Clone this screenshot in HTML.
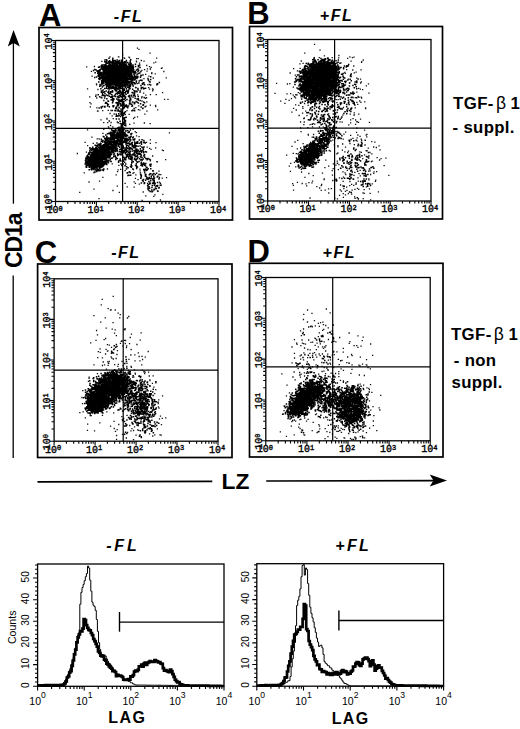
<!DOCTYPE html>
<html><head><meta charset="utf-8"><style>
html,body{margin:0;padding:0;background:#fff;width:520px;height:729px;overflow:hidden}
svg{display:block;font-family:"Liberation Sans",sans-serif}
</style></head><body><svg width="520" height="729" viewBox="0 0 520 729"><path d="M114.4 61.1h1.5M100.5 74.4h1.5M126.3 85h1.5M116.8 75.2h1.5M105.2 75.5h1.5M105.7 85.4h1.5M117.4 72.9h1.5M105 77.6h1.5M102.1 78.6h1.5M116.7 81.8h1.5M112.6 81.5h1.5M112.9 81.5h1.5M110.3 75.9h1.5M107.4 68.5h1.5M106.4 73.8h1.5M122.8 77.2h1.5M120.7 60.2h1.5M103.2 76.2h1.5M102.8 71h1.5M107.9 66.4h1.5M112.9 69.7h1.5M122.2 69.8h1.5M122.1 67.6h1.5M119.5 73.4h1.5M115.6 75.7h1.5M125.1 79.2h1.5M116.8 66h1.5M118.8 83.6h1.5M113.4 88.6h1.5M123.8 82.3h1.5M107.4 75.6h1.5M120.7 73.5h1.5M116.6 70.6h1.5M119.2 69.1h1.5M116.6 65.5h1.5M127.3 84.8h1.5M108.9 62.8h1.5M115.9 76.6h1.5M129.4 77.5h1.5M115.9 75.7h1.5M116.4 79h1.5M101.5 74.7h1.5M126.7 81h1.5M103.7 74.7h1.5M110.6 76.3h1.5M107.6 70.3h1.5M106.7 72h1.5M111.1 71.2h1.5M113.5 83h1.5M115.1 67.9h1.5M115 69.1h1.5M119.2 69h1.5M121.9 75.2h1.5M128.1 68.9h1.5M108.7 73.1h1.5M115.8 80.4h1.5M104.9 84.6h1.5M109.2 66.7h1.5M98 72h1.5M117.7 85.7h1.5M123.2 78.4h1.5M107.3 79.8h1.5M117.7 71.8h1.5M108 80.1h1.5M121.7 72.8h1.5M112.3 80.1h1.5M119.2 84.3h1.5M121.9 76.7h1.5M137.5 73.6h1.5M122 79.6h1.5M100.4 69h1.5M113.9 76.9h1.5M132.1 79.6h1.5M127.9 69.1h1.5M122.9 78.3h1.5M121.7 82.1h1.5M107.6 71.5h1.5M107.3 80.3h1.5M123.1 82h1.5M116.8 71.6h1.5M120.3 69.4h1.5M118.4 60.7h1.5M111.7 71.4h1.5M128.4 72.3h1.5M119.6 86.4h1.5M103 72.2h1.5M109.7 62.1h1.5M107.5 82.9h1.5M102.9 68.1h1.5M120.6 66.7h1.5M119.9 75.6h1.5M107.7 83h1.5M113.4 83.6h1.5M129.9 73.2h1.5M117.8 78.7h1.5M126.2 83.6h1.5M117.9 74.1h1.5M108 68h1.5M113.7 72h1.5M115.5 68.3h1.5M121.2 86.2h1.5M115.5 67.2h1.5M125.2 80.1h1.5M125.2 66.3h1.5M116.7 85.9h1.5M112.8 62.1h1.5M119.6 65.7h1.5M115 82.2h1.5M118.3 74.8h1.5M106.5 70.3h1.5M104.1 71.9h1.5M100.4 72.7h1.5M118.7 75.5h1.5M98 78.8h1.5M110.2 77.8h1.5M100.1 74.9h1.5M105.9 79.8h1.5M114.4 78.7h1.5M120 83.9h1.5M115.8 91.1h1.5M114.8 74.5h1.5M121 83.5h1.5M120.5 64.2h1.5M123.2 67.9h1.5M122.3 78.5h1.5M106 73.2h1.5M110.3 80.5h1.5M112 78.7h1.5M112.1 80.9h1.5M106.4 78h1.5M108.6 63.1h1.5M126.6 77.1h1.5M126.2 74.5h1.5M107.1 77.9h1.5M98.8 74.1h1.5M110.8 82.4h1.5M121.6 84.3h1.5M128 70.4h1.5M120.9 77.7h1.5M118.3 82.3h1.5M110.7 69.4h1.5M105.7 72h1.5M119.1 85h1.5M125.5 71.9h1.5M109.5 75.3h1.5M101.3 67.5h1.5M123.8 78.4h1.5M123.9 68.1h1.5M128.5 88.1h1.5M101.7 79.8h1.5M117.5 68.5h1.5M126 74.3h1.5M124.9 71.3h1.5M119.1 65.7h1.5M121.2 81.9h1.5M135.7 77.5h1.5M108.1 78.6h1.5M122 79.1h1.5M122.6 71.8h1.5M117.4 75.5h1.5M117.3 81.2h1.5M121.4 86.5h1.5M132.2 65h1.5M109.4 71.2h1.5M120.6 75.4h1.5M122.5 68.8h1.5M107.7 66.7h1.5M108.3 83.5h1.5M121.1 70.9h1.5M118 63.3h1.5M109.7 80.7h1.5M128.3 72.5h1.5M124.4 68.3h1.5M108.1 71.7h1.5M112.9 81.2h1.5M122.1 71h1.5M127.7 64.1h1.5M109.4 83.3h1.5M133.3 77.6h1.5M113.9 70.9h1.5M108.1 68.3h1.5M117.7 85.3h1.5M102 68.9h1.5M111.3 84.3h1.5M128.3 70.3h1.5M117.3 76.3h1.5M115.4 76.8h1.5M117.8 75.2h1.5M111.6 77.5h1.5M124.3 72.2h1.5M116.8 78.7h1.5M107.6 73.1h1.5M119.1 69.6h1.5M128.8 78.5h1.5M114 77.5h1.5M118.5 65.8h1.5M115.3 74.5h1.5M120.7 71.4h1.5M124.5 64.9h1.5M121 80.5h1.5M100.5 66h1.5M104.6 73.9h1.5M113.3 63.7h1.5M107.9 81.8h1.5M112.4 73.4h1.5M116.3 72.8h1.5M111.9 86.7h1.5M126.5 83.2h1.5M128.4 66.1h1.5M116.8 73.6h1.5M117.1 75.6h1.5M109.4 68.4h1.5M110.3 67.1h1.5M116.3 81.1h1.5M104.2 79.9h1.5M124.4 74.4h1.5M109.2 85.4h1.5M111.1 66.6h1.5M118.6 77.8h1.5M111.7 81.3h1.5M121.6 69.6h1.5M110.9 70.6h1.5M121.8 65.5h1.5M122.9 64.6h1.5M122.3 71.1h1.5M116.5 61.8h1.5M131.8 77.1h1.5M114.7 83.6h1.5M102.8 78.4h1.5M114.5 79.5h1.5M127.3 71.2h1.5M102.9 80.5h1.5M111.9 62.6h1.5M117.5 68.9h1.5M116 79.2h1.5M133 70h1.5M123 82.8h1.5M111.6 82h1.5M125 62.3h1.5M123 71.4h1.5M119.4 66.6h1.5M112 84.4h1.5M103.6 79.1h1.5M117.9 71.2h1.5M110.2 81.3h1.5M114.8 72h1.5M120.8 64.3h1.5M99.4 78.8h1.5M125.5 69.2h1.5M109.1 80.4h1.5M119.5 62.9h1.5M111.2 70.4h1.5M115.4 80.1h1.5M104 70.2h1.5M109.4 68.1h1.5M110.8 71.6h1.5M127.3 82.5h1.5M128.4 71.3h1.5M127.6 74.2h1.5M113.9 79.6h1.5M130.2 71.9h1.5M105.5 68.1h1.5M124 77.3h1.5M112.2 73.8h1.5M108.6 74.4h1.5M107.2 67.4h1.5M125.1 71h1.5M103.3 73.9h1.5M130.3 76.3h1.5M119.8 64.6h1.5M107.9 68.7h1.5M123.8 70.3h1.5M116.2 86h1.5M117.6 68.8h1.5M128.4 66.4h1.5M111.8 76.9h1.5M104.5 80.3h1.5M107.7 77.2h1.5M131.6 71.9h1.5M123.6 80.5h1.5M112.4 79.2h1.5M119.8 74.9h1.5M115.1 65.3h1.5M101.1 75.5h1.5M114.3 74.2h1.5M110.7 80.5h1.5M105.6 75h1.5M116 64.6h1.5M99.8 72.4h1.5M117.6 77.3h1.5M102.4 74.8h1.5M103.8 69.3h1.5M128.5 69h1.5M110.9 82.7h1.5M98.1 72.6h1.5M111.4 69.2h1.5M133.8 80h1.5M126.8 74.4h1.5M100.9 77.7h1.5M119.5 79.7h1.5M121.3 74.7h1.5M120.5 67.5h1.5M99.4 70.1h1.5M132.4 66.6h1.5M124.4 80.6h1.5M109.9 74.2h1.5M115.4 65.2h1.5M117.3 80.4h1.5M105.3 68h1.5M111.3 68.4h1.5M113 79.1h1.5M98.5 73.4h1.5M100.2 74.5h1.5M129.9 72.1h1.5M121.6 69.1h1.5M110.4 68.3h1.5M124.9 67h1.5M121.1 74.2h1.5M117.4 61.5h1.5M98.9 76.9h1.5M115.1 74.4h1.5M110.7 85.1h1.5M102.8 72.8h1.5M120.3 63.7h1.5M120.6 78.2h1.5M114.3 75.6h1.5M104.3 74.5h1.5M120.5 72h1.5M114.8 72.8h1.5M123.1 69.1h1.5M117.7 82.5h1.5M114.9 84.9h1.5M111 69.3h1.5M113.1 62.9h1.5M125.7 68.6h1.5M126.1 68.2h1.5M114.7 77.1h1.5M118.5 66.9h1.5M115.7 78.3h1.5M108.9 82.3h1.5M112.7 65.7h1.5M121 66.4h1.5M106.4 80.5h1.5M121.8 71.7h1.5M129.7 86.4h1.5M119.5 88.1h1.5M120.7 61.8h1.5M111.6 78.3h1.5M108.6 70.8h1.5M109.7 71.4h1.5M116.9 74h1.5M114.2 70.8h1.5M108.8 69h1.5M116.5 75.7h1.5M109.8 78h1.5M122 62.9h1.5M125.7 65.7h1.5M123.6 75.4h1.5M104 66.5h1.5M108.4 76.2h1.5M106.2 78.5h1.5M118.5 74.8h1.5M106.5 76.2h1.5M118.5 86.7h1.5M119 78.2h1.5M108.6 79.4h1.5M129.3 74.3h1.5M100.3 77.6h1.5M116.6 70h1.5M118.1 71.4h1.5M120.1 77.9h1.5M126.8 68.4h1.5M98.4 70.4h1.5M121.7 72.9h1.5M99.8 73.9h1.5M111.3 70.1h1.5M114.5 83.3h1.5M106.8 68.1h1.5M128.8 77h1.5M112.2 73h1.5M103.9 75h1.5M121.3 62.9h1.5M109.6 76.9h1.5M118.8 70.4h1.5M133.1 73.9h1.5M117.3 84.6h1.5M123.7 75.9h1.5M114.9 88.4h1.5M125.4 67.3h1.5M129.2 68.5h1.5M112.9 80.7h1.5M100.9 67.3h1.5M113.1 66.8h1.5M121.3 65.2h1.5M114.6 78h1.5M113.5 80.4h1.5M116.8 77.5h1.5M121.9 83.1h1.5M130.8 83.7h1.5M119 77.1h1.5M102.8 76.7h1.5M119.1 69.5h1.5M110.7 68.1h1.5M111.8 74.9h1.5M100.7 67.5h1.5M109 62.6h1.5M106.4 63.3h1.5M113.7 74.2h1.5M128.7 77.1h1.5M116.7 79.8h1.5M111.9 60.8h1.5M104.8 66.3h1.5M119.6 68.9h1.5M125.1 71.8h1.5M125.4 66.9h1.5M103 80.8h1.5M126.6 70.5h1.5M105 66.8h1.5M109.4 75.2h1.5M117.8 69.3h1.5M104.1 69.4h1.5M114.7 70.9h1.5M120.3 88.2h1.5M110.4 78.8h1.5M105.2 81.2h1.5M129.6 77.1h1.5M123.5 83.1h1.5M107.2 72.7h1.5M114.7 83.2h1.5M116.3 64.8h1.5M114.9 74h1.5M126.1 74h1.5M132.5 68.8h1.5M111.1 82.1h1.5M115.2 67.5h1.5M120.9 88.5h1.5M119.2 87.3h1.5M105.6 82.7h1.5M117.5 72.1h1.5M130.1 79.3h1.5M121.4 73.7h1.5M124.6 77h1.5M102.5 73.2h1.5M109 74.9h1.5M116.2 82.8h1.5M118.7 81h1.5M113.2 78.5h1.5M116.4 63.8h1.5M129.7 75.6h1.5M126.1 70.1h1.5M108.7 62.1h1.5M126.7 80.8h1.5M127.9 82.6h1.5M118.9 64h1.5M110.8 66.3h1.5M113.3 81.4h1.5M122.8 71.9h1.5M118.2 82h1.5M117.2 73.5h1.5M124.4 80.1h1.5M105.8 59.8h1.5M124.1 78.5h1.5M121.2 83.5h1.5M118.8 65h1.5M108.6 76.5h1.5M108.7 67h1.5M110 66.6h1.5M109.3 69.9h1.5M119.4 80.1h1.5M114.1 71.3h1.5M118.7 78.3h1.5M112.3 88.2h1.5M102.1 81.9h1.5M124.9 80.8h1.5M121.6 77.1h1.5M108.6 64.3h1.5M115.8 65h1.5M105.3 83.6h1.5M108.7 78.1h1.5M115.5 79.6h1.5M110.3 70.7h1.5M98.7 73.3h1.5M129.5 70.5h1.5M119.9 75.5h1.5M123.6 70.3h1.5M128.4 79h1.5M107 80.4h1.5M114.1 68.8h1.5M120.1 68.7h1.5M116.5 68.7h1.5M116.9 82.3h1.5M108.8 66.4h1.5M119.8 65.9h1.5M122.8 78.8h1.5M115.2 71.5h1.5M130.1 77.1h1.5M120.2 69h1.5M119.1 68.2h1.5M118.8 78h1.5M110.8 65.7h1.5M127.7 75.4h1.5M103 73.3h1.5M112.4 62.2h1.5M108.2 80.7h1.5M109.3 78.2h1.5M131.3 67.3h1.5M114.2 70.9h1.5M108.7 73.7h1.5M130.3 71.7h1.5M117.5 82.7h1.5M120.9 72h1.5M114.5 63h1.5M123.7 63.1h1.5M105.7 80.8h1.5M108 71.5h1.5M101.3 66.5h1.5M117.4 65.6h1.5M114.3 80.6h1.5M104.2 72.9h1.5M100.6 75.4h1.5M116.4 65.9h1.5M115.5 83.2h1.5M134.1 73.7h1.5M127 74.3h1.5M116.3 75.9h1.5M128.9 64.3h1.5M119.6 70.9h1.5M111.4 69.5h1.5M113.4 74.8h1.5M118.4 75.8h1.5M110.6 76.2h1.5M123.9 73.2h1.5M97.5 71.5h1.5M112.8 71.9h1.5M114.8 79.2h1.5M128 76h1.5M111.7 67.7h1.5M107.1 75.2h1.5M106.5 81.2h1.5M113.6 84.7h1.5M110.9 69.1h1.5M107.5 86.4h1.5M102.8 69h1.5M107.3 81h1.5M116.7 75.9h1.5M108.4 75.6h1.5M113.1 75.7h1.5M123.8 75h1.5M112.4 67.3h1.5M116.7 67.3h1.5M108.9 78h1.5M117.3 73h1.5M105 81.1h1.5M129.1 72.9h1.5M130.4 68.1h1.5M110.8 72.3h1.5M119.2 68.6h1.5M112.8 72.7h1.5M116.4 62.8h1.5M118.6 77.3h1.5M124.1 78.9h1.5M116 75.2h1.5M121.5 82.5h1.5M119.6 80.7h1.5M107.2 76.7h1.5M113.4 63.1h1.5M125.7 79.5h1.5M123 78.2h1.5M111.2 78.8h1.5M123.2 76.6h1.5M119.1 64.3h1.5M106.5 74.5h1.5M109.7 78h1.5M121.4 76.7h1.5M124.2 77.2h1.5M105.3 71.2h1.5M120.1 68.4h1.5M127.1 66.8h1.5M110.1 80.4h1.5M137.3 69h1.5M115.4 73.8h1.5M125 68.1h1.5M121.7 73.3h1.5M124.3 81.6h1.5M125.6 60.6h1.5M108.1 61.8h1.5M115.5 67.4h1.5M119.6 62.6h1.5M104.8 69h1.5M99.4 78.7h1.5M109 86.2h1.5M121 62.4h1.5M126.2 66h1.5M117 81.9h1.5M114.9 68.7h1.5M117.6 82.4h1.5M118.8 80.9h1.5M119.6 82.5h1.5M106 76.3h1.5M117.4 76.5h1.5M121 79h1.5M109.8 77.1h1.5M118.9 63.9h1.5M122.2 76.4h1.5M102.1 77.1h1.5M103.7 66.8h1.5M121.9 74.7h1.5M119.2 85.4h1.5M122 72.8h1.5M133.1 74.1h1.5M125.2 70.1h1.5M110.1 74.4h1.5M111.7 63.1h1.5M110.2 72.7h1.5M117.3 78.5h1.5M103 74.2h1.5M131.4 69h1.5M120.1 73.4h1.5M106.2 79.1h1.5M121.6 80.9h1.5M123.4 65.6h1.5M126.4 75h1.5M111.3 71.8h1.5M119 81.2h1.5M106.3 70.2h1.5M117.7 70.4h1.5M116.5 76.9h1.5M111.6 78.2h1.5M112.4 80.5h1.5M113.3 77.1h1.5M122.2 74.3h1.5M114.2 88.9h1.5M124.3 66.8h1.5M126.3 68.5h1.5M114.9 64.5h1.5M119.8 66.8h1.5M102.1 80.2h1.5M113 73.1h1.5M119.1 90.1h1.5M101 65.3h1.5M110.3 63.1h1.5M114.9 61.6h1.5M105.5 75.3h1.5M128.2 75h1.5M121.8 68.1h1.5M111.5 77h1.5M111.7 64.3h1.5M112.5 88h1.5M120.9 73.3h1.5M105.3 63.2h1.5M124.5 68.4h1.5M111.7 76.4h1.5M125.4 67.3h1.5M126.4 79.4h1.5M105.3 75.7h1.5M123.9 84.1h1.5M118.8 76.7h1.5M120.5 68.1h1.5M127 72.8h1.5M109.2 80.2h1.5M116.9 77.8h1.5M118.3 66h1.5M127.8 78.7h1.5M110.3 83.9h1.5M130 59.7h1.5M111.8 71.1h1.5M105.9 66.5h1.5M132.3 72.3h1.5M120.6 73.1h1.5M113.5 76.3h1.5M115.7 68.6h1.5M117.9 72.3h1.5M114.5 60.7h1.5M114.6 73.1h1.5M130.1 81.2h1.5M116.4 60h1.5M103.1 65.1h1.5M121.4 69.1h1.5M130.5 80.4h1.5M105.4 76h1.5M121.8 80.6h1.5M116.5 71.7h1.5M113.3 77.4h1.5M120.8 63.5h1.5M121.1 80.2h1.5M102.7 72h1.5M124.7 84.3h1.5M118.4 66.3h1.5M115.6 70.4h1.5M120.2 85h1.5M119.8 72.5h1.5M114.9 72.9h1.5M111.5 79.8h1.5M106.6 81.5h1.5M134.8 66.6h1.5M114 83.4h1.5M130.9 68.2h1.5M127.4 71.7h1.5M114.9 66.6h1.5M106.8 84.9h1.5M105.4 78.1h1.5M115.1 66.4h1.5M134.4 79.2h1.5M121.7 76.9h1.5M123.4 75.2h1.5M115.4 62.8h1.5M116.7 82.6h1.5M109.6 76.8h1.5M112.4 79.1h1.5M114.7 85.2h1.5M128.3 73.5h1.5M104.5 68.3h1.5M104.6 64.8h1.5M109.4 65h1.5M116.4 63.9h1.5M110.6 83.2h1.5M124.2 69.5h1.5M101.2 78.3h1.5M124.1 85.6h1.5M124.8 73.9h1.5M127 66.9h1.5M109.7 70.7h1.5M107.6 77.5h1.5M127.2 83.7h1.5M116.2 71.4h1.5M108.4 75h1.5M114.7 76.9h1.5M124.4 77.8h1.5M130.3 63.4h1.5M121.8 69.5h1.5M117.9 71.5h1.5M104.6 67.7h1.5M115.5 83.9h1.5M112.5 62.4h1.5M124.6 80.2h1.5M115.6 68.3h1.5M123.4 75.2h1.5M130.8 75.5h1.5M114 64.4h1.5M112 75.9h1.5M109.7 71.5h1.5M123 68h1.5M122.6 62.5h1.5M111.6 76.1h1.5M126.1 68.2h1.5M118.4 74.2h1.5M126 76.4h1.5M130.3 65.6h1.5M125.6 79.5h1.5M113.7 82.1h1.5M109.2 76.6h1.5M115.4 80.7h1.5M123.5 66.6h1.5M117.5 68.5h1.5M126.9 80.3h1.5M117.3 75.1h1.5M115.9 65.7h1.5M120.7 83.2h1.5M117.6 81.7h1.5M119.8 78.8h1.5M111.5 62h1.5M104 77.2h1.5M118 81h1.5M123 76.7h1.5M129.1 72.7h1.5M119.2 73.2h1.5M126 82.6h1.5M110.4 65.6h1.5M105.5 69.9h1.5M116.6 64.3h1.5M112.9 80.5h1.5M121.9 76h1.5M124.3 74.7h1.5M110.9 92.1h1.5M130 65.1h1.5M117.6 68.2h1.5M104.7 66.3h1.5M117.2 65.4h1.5M114.3 76.8h1.5M105 82.3h1.5M129.7 71h1.5M119.1 74.4h1.5M104.5 73.8h1.5M114.7 70.1h1.5M125.2 74.2h1.5M129.5 72.4h1.5M110.1 87.9h1.5M113.7 74.8h1.5M101.5 77.5h1.5M104.4 76.9h1.5M115.7 81h1.5M109.2 87.2h1.5M129.7 74.7h1.5M113 68.7h1.5M108.7 62.9h1.5M117.4 61.7h1.5M131.9 84.8h1.5M116.7 79.1h1.5M104.9 70h1.5M123.3 71.2h1.5M105.5 76.8h1.5M113.9 82.3h1.5M102.9 69.4h1.5M131 75.2h1.5M122.1 68.4h1.5M128.6 70.3h1.5M105 74h1.5M112.6 78.2h1.5M126.7 70.9h1.5M121.5 72.8h1.5M122.4 69.4h1.5M106.4 79.7h1.5M112.4 77.3h1.5M117.7 82.5h1.5M123 71.5h1.5M129.9 65.7h1.5M114.3 78.8h1.5M118 73.6h1.5M98 81.9h1.5M106.9 73h1.5M106.4 72.1h1.5M115.6 78.9h1.5M108.8 84h1.5M111.5 79.7h1.5M118.4 76.1h1.5M103.8 77.7h1.5M125.8 83.4h1.5M118.6 65.3h1.5M124.1 86.6h1.5M104 73.8h1.5M111.3 71.3h1.5M117.6 80.5h1.5M110 71.7h1.5M106.6 73.5h1.5M107.4 71.9h1.5M121.5 68.5h1.5M114.1 68.6h1.5M125.2 79.9h1.5M119.8 63.2h1.5M111.2 69.2h1.5M113 66.7h1.5M123.6 77.3h1.5M106 80.5h1.5M115.7 65.6h1.5M117.2 62.7h1.5M116.5 70.1h1.5M126.7 84.6h1.5M115.7 72.2h1.5M107.2 74.3h1.5M115.9 68.7h1.5M125 64h1.5M106.3 77.4h1.5M122.7 72.5h1.5M129.4 68.8h1.5M124.8 62.3h1.5M118.1 69h1.5M104.8 79.5h1.5M125.1 84.6h1.5M113.5 65.6h1.5M123.7 71.1h1.5M118.7 77.7h1.5M116.5 70.1h1.5M117.4 71h1.5M131 75.1h1.5M116.7 70.5h1.5M112.9 70h1.5M113.4 79.3h1.5M116.9 76.4h1.5M116 70.5h1.5M103.2 83.1h1.5M105.5 66.8h1.5M119.4 78h1.5M104.8 67.8h1.5M116.5 70.7h1.5M117.8 63.4h1.5M108.1 66h1.5M108.7 61.2h1.5M116 84.3h1.5M117.8 74h1.5M121.1 71.7h1.5M118.2 72.2h1.5M112 65.1h1.5M113 72.9h1.5M109.5 69.2h1.5M105 70.7h1.5M113.1 74.3h1.5M113.3 76.2h1.5M103.7 77.4h1.5M121.8 84h1.5M109.3 79.2h1.5M111.2 77.2h1.5M126.7 77.4h1.5M102.6 82.1h1.5M112 84.8h1.5M108.5 68.8h1.5M118.6 71h1.5M109.9 70.8h1.5M109.2 74.5h1.5M106.2 67h1.5M116.1 83.2h1.5M107.8 79h1.5M123.4 67.3h1.5M116.1 74.3h1.5M119 79.8h1.5M121.7 67.9h1.5M122.9 74h1.5M123.8 61.8h1.5M103.4 68.6h1.5M129.1 65.5h1.5M104.6 73.6h1.5M120.9 76.7h1.5M117 77.2h1.5M98.4 75.7h1.5M108.8 60.7h1.5M123.4 76.8h1.5M115.7 64.1h1.5M117.2 74.3h1.5M115.7 68.3h1.5M120.2 66.6h1.5M117.8 76.5h1.5M126.1 72.5h1.5M109.8 70.7h1.5M116.9 62.4h1.5M130.1 73.5h1.5M128.4 75h1.5M114.5 64.3h1.5M118 76.8h1.5M113.9 70.3h1.5M136.7 69.6h1.5M130.9 73.7h1.5M118.8 76.4h1.5M115.7 69.9h1.5M105.9 68.6h1.5M101.8 77.9h1.5M117.3 68.5h1.5M114.8 85.1h1.5M113.5 67.3h1.5M116.7 67.8h1.5M94.4 72.8h1.5M116 84.6h1.5M119.4 72.8h1.5M113.6 79.5h1.5M119.2 66.6h1.5M118.7 84h1.5M130.6 75.8h1.5M111.4 78.6h1.5M107.3 70.8h1.5M116.2 69.8h1.5M128.3 67.1h1.5M118.9 76.8h1.5M129.1 66.8h1.5M117.5 71.2h1.5M107.3 69.2h1.5M127.2 79.1h1.5M129.6 70.2h1.5M124.7 69.4h1.5M110.8 63.1h1.5M116.2 83.4h1.5M122.6 71.9h1.5M114.1 78.9h1.5M110.4 72.1h1.5M117 88.8h1.5M120.2 68.3h1.5M109.9 65.9h1.5M109.1 75h1.5M116.5 84.2h1.5M123.8 76.9h1.5M128 69.6h1.5M116.2 63.8h1.5M116.9 68.4h1.5M129.5 74.6h1.5M98.8 67h1.5M120.9 82.4h1.5M107.2 68.3h1.5M114.7 76.5h1.5M107.5 70.8h1.5M110.9 78.7h1.5M101.9 69.5h1.5M130 69.1h1.5M114.7 73.7h1.5M105.5 79.4h1.5M118.1 61.7h1.5M125.3 70.8h1.5M118.7 70.6h1.5M115.1 75.9h1.5M122.1 75.9h1.5M98.7 75.6h1.5M125.6 78.6h1.5M113.6 88h1.5M111.8 64.1h1.5M105.9 87.1h1.5M104.8 84.4h1.5M110.1 82.2h1.5M119.5 84.2h1.5M133.6 82.7h1.5M118.1 72.7h1.5M111.8 68.6h1.5M108.5 84.3h1.5M103.4 77.6h1.5M126.6 71.3h1.5M112.1 74.8h1.5M125.6 68.4h1.5M110.7 65.9h1.5M121.6 74.4h1.5M118.9 77.9h1.5M109 78.2h1.5M129.2 69.3h1.5M111.6 73.7h1.5M116.5 71.6h1.5M121.4 80.3h1.5M124.7 78.7h1.5M120.2 77.1h1.5M105.8 82.3h1.5M101.1 76.9h1.5M126.6 74.8h1.5M120.1 83.2h1.5M127 71h1.5M112.7 79.8h1.5M109.5 82h1.5M111.2 81h1.5M96.4 71.3h1.5M106.7 73.5h1.5M126.3 67h1.5M124.2 72h1.5M130.3 78.5h1.5M124.1 79.6h1.5M105.5 69.5h1.5M114.9 65h1.5M99 77.5h1.5M119 69.9h1.5M104.8 70.5h1.5M131.2 70.2h1.5M120.7 68.8h1.5M126.3 67.7h1.5M105.7 88.3h1.5M117.9 67.7h1.5M112.3 75.7h1.5M121.1 83.7h1.5M117.8 72.6h1.5M120.7 86.6h1.5M111.5 87.5h1.5M111.2 79.3h1.5M115.5 82.8h1.5M101.2 73h1.5M97.2 73.3h1.5M129 77.4h1.5M121.1 76.6h1.5M129.6 67.9h1.5M129.2 71.4h1.5M122.6 74.2h1.5M98 73.8h1.5M116.2 67.3h1.5M108.5 78.7h1.5M112.5 77.2h1.5M104.3 72.4h1.5M132.7 67.5h1.5M106.5 78.4h1.5M121.2 72.4h1.5M126.4 74.3h1.5M127.5 68.7h1.5M110.5 87.3h1.5M124.9 82.2h1.5M101 74.3h1.5M118.6 71.8h1.5M109 68.6h1.5M123.3 77.4h1.5M108.5 78.5h1.5M116.1 77.4h1.5M125.8 73.9h1.5M121.7 77.7h1.5M110.9 76.6h1.5M126.7 85.6h1.5M125.9 68.7h1.5M122.8 68.8h1.5M114.8 66.1h1.5M108.8 83.4h1.5M118.9 87.9h1.5M116.6 80.1h1.5M104 66.2h1.5M124.9 67h1.5M120.7 73h1.5M128 68.8h1.5M113.1 72.1h1.5M107.1 70.2h1.5M121.4 78.6h1.5M99.4 74.5h1.5M122.7 72.8h1.5M129.9 79.2h1.5M125.2 75.4h1.5M110.6 87.1h1.5M110.7 76.7h1.5M111.1 65.2h1.5M120.7 73h1.5M122.6 76.5h1.5M104 61.7h1.5M103.5 65.1h1.5M110.5 69.7h1.5M107.3 66.2h1.5M105.7 69.8h1.5M105.2 77.7h1.5M117.8 67.9h1.5M123.1 81h1.5M119.8 77.2h1.5M117.2 74.1h1.5M118.4 84.6h1.5M107.8 73.7h1.5M110.4 77.5h1.5M101.7 78.3h1.5M115.8 72.6h1.5M106.1 60.6h1.5M105.8 76.9h1.5M109.6 82.8h1.5M113.6 70.6h1.5M106.2 60.7h1.5M101.9 80.5h1.5M122.3 65.9h1.5M113.8 64.4h1.5M118.7 72.1h1.5M104.2 59.9h1.5M124.3 67.7h1.5M101.8 65h1.5M109.5 61.6h1.5M125.1 64.5h1.5M125 75.5h1.5M100.8 75.8h1.5M110.5 70.7h1.5M128 83h1.5M116.1 69.4h1.5M110.6 61.9h1.5M124.1 68.7h1.5M106.5 79.6h1.5M115.8 73.8h1.5M121.5 69.6h1.5M107.9 74.9h1.5M127.3 70.8h1.5M108.3 78.1h1.5M105.5 79.7h1.5M113.5 82.7h1.5M119.2 82.1h1.5M110.4 81h1.5M117.7 78.4h1.5M119 71.1h1.5M129.3 62.5h1.5M120.4 80h1.5M119.3 78.4h1.5M124.6 80.6h1.5M126.4 71.4h1.5M123.5 72.4h1.5M109.3 68.4h1.5M107.6 82.3h1.5M115.5 74.4h1.5M118.4 79.2h1.5M109.8 69.5h1.5M132.3 79.1h1.5M121.2 69.5h1.5M106.2 67.6h1.5M111.8 92.1h1.5M117.2 77.8h1.5M105.4 64.9h1.5M111.9 65.2h1.5M114.1 81.9h1.5M108 84.2h1.5M110.1 78.3h1.5M128.9 69h1.5M105.5 71.9h1.5M124.4 68.1h1.5M112.7 65.6h1.5M101.8 73.6h1.5M112.8 77.2h1.5M107.9 63.1h1.5M102.1 74.6h1.5M118.1 69.1h1.5M121 82.7h1.5M108 84.8h1.5M119.5 68.8h1.5M111.2 74.9h1.5M121.7 62.8h1.5M126.7 70.1h1.5M105.6 71h1.5M125.5 78.6h1.5M118.9 63.9h1.5M107.1 68h1.5M113.7 79.8h1.5M128.5 69.3h1.5M109.5 77.1h1.5M132.8 78.6h1.5M121 75.4h1.5M114.3 83.4h1.5M105.8 61.9h1.5M120.1 71.8h1.5M123.2 73.3h1.5M126 78h1.5M109.3 69.9h1.5M102.3 83.4h1.5M112.5 75.4h1.5M123.5 66.6h1.5M121.1 76h1.5M123.8 72.8h1.5M114.3 68.7h1.5M126 74.6h1.5M122.2 85.8h1.5M104.4 71.2h1.5M124.9 73.4h1.5M114.3 69.3h1.5M106.8 72.2h1.5M100.9 81h1.5M99.7 85.2h1.5M110.9 78.1h1.5M111.4 83h1.5M121.5 88.5h1.5M124.1 80.3h1.5M107.1 71h1.5M106.1 78.1h1.5M111.9 59.6h1.5M109.6 72.2h1.5M118.7 74.5h1.5M108.5 81.2h1.5M122.3 67.8h1.5M108.4 79.4h1.5M110.5 69.4h1.5M123.7 64.4h1.5M107.7 75.6h1.5M102.2 79.1h1.5M109.9 64.8h1.5M129.2 74.1h1.5M97.3 70.7h1.5M125.1 75.7h1.5M117.9 79.5h1.5M109 69.7h1.5M137.8 73.4h1.5M119.6 73.5h1.5M113 73.3h1.5M125.9 81h1.5M97.4 75.2h1.5M101.1 80.5h1.5M101 83.5h1.5M113.1 74.2h1.5M114.2 60.4h1.5M106.4 68h1.5M116.8 71.5h1.5M108.5 71h1.5M113.5 60.6h1.5M129.4 74.8h1.5M126.2 72.3h1.5M122.8 71.9h1.5M119.2 70.6h1.5M125.9 79.5h1.5M115.4 72.9h1.5M120.6 67.9h1.5M115.5 75.1h1.5M106.1 63.1h1.5M124.9 73.7h1.5M114.4 80.6h1.5M105.9 75.5h1.5M124.3 82.2h1.5M102.4 75.6h1.5M115.4 89.2h1.5M126.3 72.1h1.5M115.6 73.9h1.5M103.4 80.9h1.5M120.8 67.7h1.5M110 73.1h1.5M129.3 73.4h1.5M118.9 79.1h1.5M108.3 75.8h1.5M113.3 77h1.5M114.9 84.6h1.5M106 66.6h1.5M103.5 74.1h1.5M118.3 79.8h1.5M99.1 69.8h1.5M110.2 71.9h1.5M123.7 77.9h1.5M115 77.6h1.5M113.1 86.4h1.5M124.2 66h1.5M121.4 78.1h1.5M112.9 78.3h1.5M115.7 84.9h1.5M108.4 69.8h1.5M123.1 68.3h1.5M129.4 77.7h1.5M116.8 72.5h1.5M108.9 67.2h1.5M119 91.3h1.5M129.1 68.7h1.5M116 85.9h1.5M120.9 68.6h1.5M121.6 78.8h1.5M100.4 75.4h1.5M111.4 75.5h1.5M129.6 63h1.5M123.9 62.2h1.5M101.4 73.7h1.5M133.5 72h1.5M107 83.2h1.5M109 77.8h1.5M126.1 74.8h1.5M118.9 69.4h1.5M104.6 80h1.5M110.9 80.2h1.5M122.7 68.2h1.5M116.1 75.4h1.5M122.6 68.7h1.5M107.8 69.2h1.5M105.5 81.9h1.5M114.6 69.4h1.5M111.6 78.9h1.5M120.6 71.4h1.5M104.5 80.8h1.5M130.9 79.6h1.5M125.7 77.5h1.5M104.7 79.6h1.5M126.4 73.7h1.5M117.1 83.5h1.5M103.3 77.6h1.5M129.6 74h1.5M116.9 62.8h1.5M112.9 70.8h1.5M113.8 65.7h1.5M102.6 71.3h1.5M100.7 66.3h1.5M102.5 66.7h1.5M108.9 71.7h1.5M103.4 81.5h1.5M116.9 80.1h1.5M135.7 81h1.5M111.5 81.8h1.5M119.3 68.6h1.5M100.4 72.5h1.5M121.7 81.5h1.5M117.3 66.2h1.5M130.6 81.5h1.5M127 62.5h1.5M110.2 68.1h1.5M103.2 72.1h1.5M105.9 81.2h1.5M116.6 63.1h1.5M128.5 75.7h1.5M123.3 77.8h1.5M109.9 72.6h1.5M111.6 75.6h1.5M107.4 76.1h1.5M107 68.8h1.5M123.2 77.1h1.5M129.5 70.6h1.5M109.8 70.6h1.5M123.6 78.5h1.5M118.2 68.1h1.5M97.6 70.9h1.5M114.8 67.1h1.5M111.7 65.1h1.5M117.5 78.8h1.5M122.9 78h1.5M125.8 77h1.5M112.2 71.8h1.5M122.1 81.2h1.5M102.5 85.7h1.5M106.7 76.7h1.5M134.7 71.5h1.5M109.1 77h1.5M133.4 72.2h1.5M114.8 65.6h1.5M99 71.2h1.5M116.4 70.7h1.5M126.3 74.6h1.5M128.5 66.2h1.5M124.3 70.6h1.5M120.8 74.8h1.5M108.1 75.8h1.5M120.7 80.1h1.5M99 75.8h1.5M131.6 76.3h1.5M134.1 72.9h1.5M121.9 83.1h1.5M114.9 63.4h1.5M106.8 69.1h1.5M110 80.4h1.5M110.8 74.4h1.5M129.8 70.5h1.5M129.5 72.5h1.5M123.1 77.6h1.5M112.2 82.9h1.5M114.4 70.7h1.5M100.9 82.1h1.5M128.8 77.7h1.5M101.7 76.2h1.5M114 68.7h1.5M105.1 61.9h1.5M105.7 71.3h1.5M115.2 78.4h1.5M120.8 74.9h1.5M106.2 72.8h1.5M107.5 70.5h1.5M112.4 76.5h1.5M120.8 73.8h1.5M124.5 82.4h1.5M118.1 68.9h1.5M111.1 65.5h1.5M126 70.8h1.5M121.5 71.8h1.5M114.5 82.5h1.5M130.4 64.4h1.5M111 74.3h1.5M106.9 66.1h1.5M130 63.5h1.5M97.9 67.3h1.5M103.3 71.1h1.5M130.7 76.7h1.5M110.9 67.2h1.5M114.1 88.8h1.5M110 83.7h1.5M115.1 77.8h1.5M123.5 77.4h1.5M114.1 75h1.5M109.1 63h1.5M114.1 88.7h1.5M114.3 77.9h1.5M126.6 66.3h1.5M126.1 76.9h1.5M126.6 71.8h1.5M100.6 74.8h1.5M112.7 77.4h1.5M110 76.9h1.5M110.6 76h1.5M100.7 74.6h1.5M106.1 84.1h1.5M116.4 68.2h1.5M115.7 86.7h1.5M123.9 82.1h1.5M112.8 78h1.5M128.2 79.4h1.5M107.4 76.9h1.5M100.4 74.2h1.5M116.4 64h1.5M119.1 75.4h1.5M108.7 79.3h1.5M118.6 67.8h1.5M105.1 79.7h1.5M126.2 66.4h1.5M110.9 66.8h1.5M129.4 76.7h1.5M112.1 77.4h1.5M113.4 63.7h1.5M103.1 70.4h1.5M111.9 66.4h1.5M125.3 69.3h1.5M118.7 60.6h1.5M111.1 72.9h1.5M119.7 65.9h1.5M104.2 73.9h1.5M120.7 70.7h1.5M111.7 86.6h1.5M105.1 65.7h1.5M129.5 71.5h1.5M107.7 66.7h1.5M106.9 74.3h1.5M124.1 68.7h1.5M104.8 78.2h1.5M120.6 77.5h1.5M99.3 73.1h1.5M109 85.3h1.5M117.6 78h1.5M117.5 71.6h1.5M109.9 65.4h1.5M127.2 73.1h1.5M110.5 73.9h1.5M131 66.2h1.5M119.5 75.1h1.5M117.3 77.8h1.5M108.7 75.9h1.5M107.2 69.6h1.5M111 81.4h1.5M128.4 76.6h1.5M125.5 64.1h1.5M122.4 81h1.5M111.8 70.8h1.5M103.8 76.8h1.5M124.5 69.7h1.5M114.1 71h1.5M109.6 78.4h1.5M129.7 69.8h1.5M101.5 84h1.5M113.1 62.7h1.5M122.8 85.5h1.5M115.1 65h1.5M110.8 68.6h1.5M125 64.8h1.5M107 72.2h1.5M113.5 77.1h1.5M111.3 69.3h1.5M124.4 71.2h1.5M109.9 80.3h1.5M123.7 73.1h1.5M118.7 81.2h1.5M124.3 65.1h1.5M127.5 67.2h1.5M125.5 74.3h1.5M120.3 73.9h1.5M121.1 66.1h1.5M111.6 72.4h1.5M111.3 70.2h1.5M107.8 62.2h1.5M97 73h1.5M113.6 72.3h1.5M118 75h1.5M110.1 71.4h1.5M108.8 85.4h1.5M134.3 71.7h1.5M101.8 74.3h1.5M118.2 75.5h1.5M113.1 76.2h1.5M127.5 67.5h1.5M108.2 79.3h1.5M122.4 82.3h1.5M112.1 65.3h1.5M111.6 71.5h1.5M121.2 76.1h1.5M110.7 84h1.5M119.3 71.5h1.5M115.1 85.8h1.5M120.3 80.7h1.5M115.5 66.1h1.5M105 74.2h1.5M121.8 72.1h1.5M117.3 73.5h1.5M118.6 79.8h1.5M123 67.9h1.5M107.5 71.3h1.5M124.5 76.8h1.5M107.7 70.1h1.5M112.1 58.2h1.5M102.9 70.5h1.5M124.3 71.5h1.5M128.7 82.3h1.5M114.1 81h1.5M124.7 77.9h1.5M120.2 74.6h1.5M109.7 68.2h1.5M110.4 79.6h1.5M120 78.1h1.5M122.4 71.3h1.5M114.1 76.4h1.5M130.8 70.6h1.5M112.6 70.3h1.5M111.1 71.8h1.5M107.5 72.9h1.5M116.1 64.7h1.5M111.5 82.7h1.5M114.1 78.1h1.5M124.9 66.7h1.5M121.9 81.3h1.5M102 80.3h1.5M117.4 67.8h1.5M110.5 71.6h1.5M121.8 76.9h1.5M129.9 69.9h1.5M117.8 74.7h1.5M115.5 78.6h1.5M130.5 70h1.5M115.8 80.1h1.5M105.2 80.7h1.5M124.8 70.5h1.5M105.2 81.9h1.5M124.3 75.2h1.5M115.3 66h1.5M117.9 68.5h1.5M115.1 83.6h1.5M115.6 84.3h1.5M121.2 72.2h1.5M116.1 78.4h1.5M115 77.5h1.5M118.9 85.8h1.5M119.5 76.5h1.5M102.5 71.6h1.5M108.5 72.1h1.5M131.4 76.8h1.5M118.1 74.9h1.5M119 78.6h1.5M114.1 75.5h1.5M123.4 84.8h1.5M121.1 75h1.5M110.4 73.2h1.5M117.2 80.1h1.5M107.6 70.8h1.5M132 71.4h1.5M117.7 70h1.5M107.5 66.5h1.5M101.5 83.4h1.5M101.9 82.2h1.5M113.5 79.4h1.5M116.2 61.8h1.5M117.8 72.9h1.5M94 69.6h1.5M120.5 100.8h1.5M107 83.8h1.5M120 96.5h1.5M115.6 78.3h1.5M149.9 79.5h1.5M115.6 88.4h1.5M132.5 86h1.5M132.8 95.3h1.5M110.9 88.6h1.5M106.1 83.2h1.5M113.1 69.7h1.5M117.9 83.8h1.5M114.2 89.2h1.5M116.4 70.7h1.5M109.8 75.2h1.5M128.6 87h1.5M113 60.7h1.5M99 79.4h1.5M118.9 84.6h1.5M97.5 76.6h1.5M135.4 82.1h1.5M123.5 89h1.5M103.4 80.8h1.5M129.1 84.7h1.5M108.5 76.1h1.5M139.4 90.9h1.5M128.6 95.4h1.5M99 86.2h1.5M95 96.3h1.5M130.1 75h1.5M117.6 91.8h1.5M109.9 84.8h1.5M124 71.1h1.5M110.2 81h1.5M129.5 75.9h1.5M109.2 82.8h1.5M104.2 93.4h1.5M99.6 78.4h1.5M121.7 83.2h1.5M107 65.9h1.5M126.9 83h1.5M114.5 94.4h1.5M133.3 90.7h1.5M112.8 87h1.5M109.1 76.1h1.5M102.9 80.9h1.5M128.3 67.3h1.5M100.8 92.1h1.5M103.8 71.9h1.5M122.9 101.4h1.5M124.9 66.3h1.5M108.8 86.6h1.5M119.3 69.1h1.5M114.1 70.5h1.5M130.8 82.3h1.5M141 80.2h1.5M115.9 77h1.5M114.6 87.5h1.5M124.5 98.3h1.5M133.6 75.4h1.5M125 91.5h1.5M107.8 82.8h1.5M123.2 81.5h1.5M131.7 105.8h1.5M108.3 58.2h1.5M99.6 74.5h1.5M125.3 62.1h1.5M123.3 78.5h1.5M131.7 79.4h1.5M119.5 123.4h1.5M109.3 85.6h1.5M112.2 101.4h1.5M103.9 96h1.5M105.1 77.1h1.5M110.4 87.1h1.5M111.5 100.1h1.5M133.8 83.8h1.5M101.2 84.1h1.5M117.6 87.4h1.5M110.1 65.5h1.5M139 73h1.5M121.9 85.5h1.5M113.1 87.8h1.5M129.6 71.9h1.5M119.2 78.3h1.5M111.7 80.5h1.5M139.7 80.2h1.5M128.2 89.4h1.5M142.4 83h1.5M134.4 83.7h1.5M129.1 66.4h1.5M120.2 70.4h1.5M103.2 85.4h1.5M128.2 64.5h1.5M119.4 84.8h1.5M127.8 74.6h1.5M118.2 73h1.5M108.8 88.9h1.5M104.4 74.5h1.5M128.1 72.5h1.5M136.4 74.5h1.5M114.4 82.5h1.5M124.7 111.8h1.5M106.8 81.6h1.5M113.7 79.2h1.5M102.8 92.2h1.5M134.8 77.8h1.5M112 96.3h1.5M95.4 69.9h1.5M115.9 81.1h1.5M132.3 66.8h1.5M114.3 69.8h1.5M112.5 76.3h1.5M127.3 91.1h1.5M101.3 91h1.5M119.2 75.2h1.5M126.8 87.2h1.5M107.6 77.7h1.5M106.9 83h1.5M121.9 83.4h1.5M117.1 88.5h1.5M115.2 75h1.5M121.3 80.3h1.5M121.5 84.1h1.5M105.6 82.7h1.5M109.2 73h1.5M124.7 100.5h1.5M134.1 76.7h1.5M137.3 90h1.5M106.7 83.9h1.5M133.7 95.1h1.5M118.1 104.1h1.5M125.3 79.4h1.5M130 68.2h1.5M143.3 83.1h1.5M103.8 106.4h1.5M126.9 87.2h1.5M116.6 68.2h1.5M115.6 76.6h1.5M134.4 96.3h1.5M129.9 66.3h1.5M104.4 79.7h1.5M114.6 78.5h1.5M121.7 105.4h1.5M98.9 78.5h1.5M130.5 96h1.5M117.5 74.3h1.5M120.8 72.9h1.5M123.2 92.6h1.5M143.6 88.5h1.5M119.1 62.8h1.5M113.6 88.7h1.5M142.7 88.7h1.5M111.6 75h1.5M111.3 84.1h1.5M99.3 84.6h1.5M133.6 76.3h1.5M122.3 75.3h1.5M125.1 74.3h1.5M120.9 78.7h1.5M116.7 67.1h1.5M107.7 81.2h1.5M107.8 65.3h1.5M124.6 82.5h1.5M120.3 80.7h1.5M108.1 91h1.5M111.8 102.8h1.5M104.5 96.1h1.5M137.7 66.7h1.5M101.5 95.5h1.5M129.3 84h1.5M138.5 81.1h1.5M116.7 75.1h1.5M128.6 81.6h1.5M113.3 87.6h1.5M95.6 77.1h1.5M121 74.3h1.5M118.7 77.1h1.5M108 88h1.5M131.7 102h1.5M123.5 70.1h1.5M111.4 81.6h1.5M111.5 77.4h1.5M98.3 73.4h1.5M116.1 86h1.5M108.8 66.2h1.5M124.5 70.3h1.5M111 94.7h1.5M129.8 85.1h1.5M124.7 87.3h1.5M115.4 76.2h1.5M111.5 86.6h1.5M135.3 76.2h1.5M115.3 69.5h1.5M127.4 81.6h1.5M112 91.5h1.5M92.8 70.4h1.5M124.5 93.1h1.5M123.1 89.3h1.5M110.6 72.2h1.5M113.5 81.7h1.5M122.7 81.2h1.5M110.5 88.5h1.5M123.4 88.9h1.5M115.8 67.4h1.5M116.7 92.8h1.5M110.4 82.9h1.5M107.1 86.2h1.5M124.2 85.3h1.5M111.9 98.3h1.5M126.1 68.5h1.5M133.8 93.5h1.5M120.7 72.7h1.5M108.6 96.2h1.5M131.3 66.6h1.5M115.1 86h1.5M107.5 78.6h1.5M117.4 78.5h1.5M125.7 82.1h1.5M122.3 70.2h1.5M127.6 71.1h1.5M107.3 88.8h1.5M114.9 90.8h1.5M115.2 75.4h1.5M118.4 65.8h1.5M115.4 93.6h1.5M100.1 85.5h1.5M137.9 70.4h1.5M140.2 75.3h1.5M142 84.3h1.5M129.9 71.2h1.5M112 99h1.5M132 83.1h1.5M116 85.9h1.5M127.2 70.4h1.5M106.2 71.8h1.5M110.6 73.1h1.5M125.2 84.6h1.5M118.4 78.5h1.5M149.9 85h1.5M156.9 84.1h1.5M101 97.7h1.5M118.4 79.5h1.5M105.6 70.6h1.5M116.8 81.5h1.5M111.4 97.5h1.5M117.8 75.6h1.5M132.1 82.2h1.5M131.8 77.8h1.5M122.4 86h1.5M118.8 84.4h1.5M120.4 72.8h1.5M120.5 79.2h1.5M126.7 91.8h1.5M118.9 93.5h1.5M125.7 91.6h1.5M100.7 91h1.5M129.8 78h1.5M129.1 102.4h1.5M140.1 71.6h1.5M122.4 90.9h1.5M136.9 77.6h1.5M133.7 103.7h1.5M128.8 100.4h1.5M133.4 108.6h1.5M137.1 69.2h1.5M133.4 90.8h1.5M135.8 69.9h1.5M142.6 82.7h1.5M127.8 87.2h1.5M136 76.4h1.5M137.5 96.4h1.5M137.7 65.5h1.5M134.9 87.4h1.5M142.1 87.5h1.5M139.3 67.6h1.5M156.5 83.9h1.5M147.6 79.9h1.5M133.7 110.7h1.5M142.7 104.7h1.5M141.9 108.4h1.5M132.3 93h1.5M133 78.7h1.5M145.7 97.7h1.5M143.8 102.8h1.5M120 91.3h1.5M141.6 83.7h1.5M134.4 98.2h1.5M126.4 67h1.5M129.8 98.9h1.5M128.4 85.8h1.5M137.6 99.9h1.5M134.7 64.2h1.5M128.3 82.8h1.5M142.9 102h1.5M125.1 86.5h1.5M137.6 98.8h1.5M144.4 106.8h1.5M126 81.6h1.5M132.6 70.9h1.5M139.4 100.4h1.5M136.6 102.3h1.5M130.7 95.2h1.5M150 76.8h1.5M139 65.1h1.5M156.6 83.7h1.5M128.8 85.9h1.5M135.4 101.6h1.5M134.1 92h1.5M136.2 91.8h1.5M132.1 80.6h1.5M140.2 85.4h1.5M136.3 99h1.5M139.9 103.8h1.5M143.8 84.8h1.5M142.2 105.3h1.5M140.5 88.8h1.5M132.8 78.7h1.5M156.1 84.8h1.5M125.1 84.8h1.5M136.4 83.6h1.5M142.2 75.1h1.5M148.8 84.4h1.5M149.6 69h1.5M127.7 91.9h1.5M135.2 91h1.5M131.4 76.4h1.5M122.6 82.2h1.5M125.4 91.5h1.5M144.8 88.2h1.5M143.4 97.4h1.5M130.3 67h1.5M137.6 102.9h1.5M138 66.3h1.5M125.6 88.8h1.5M124.4 67.7h1.5M142.2 108.2h1.5M131.6 78.6h1.5M139.7 77.3h1.5M147.2 78.5h1.5M158.6 82.5h1.5M132 110.2h1.5M115.4 81.6h1.5M140.6 87.4h1.5M122.3 79.8h1.5M140.4 107h1.5M133.4 102.6h1.5M136.2 78.4h1.5M140.4 75.8h1.5M141.2 80.4h1.5M149.3 82.1h1.5M129.5 61.1h1.5M135.1 72.8h1.5M127.9 77h1.5M129.3 88.5h1.5M131 104.3h1.5M130.4 82.3h1.5M138.1 83h1.5M148.6 81.4h1.5M137.2 76.5h1.5M137.2 71.6h1.5M118.4 97.4h1.5M115.3 78.2h1.5M126.2 99.4h1.5M122.6 103h1.5M116.6 105.8h1.5M107.6 104.4h1.5M123.9 95.5h1.5M101.6 87.1h1.5M122.8 107.9h1.5M120.4 105.5h1.5M129.9 104.1h1.5M121.9 103.8h1.5M110.4 99.8h1.5M116 102.7h1.5M112.7 100.1h1.5M104.7 103.2h1.5M105.4 90.9h1.5M116.7 93.9h1.5M121.6 105.5h1.5M98.9 96.7h1.5M115.5 76.6h1.5M121.2 101.2h1.5M117.3 77.9h1.5M126.4 107h1.5M104.2 106.5h1.5M122.6 93.6h1.5M131.9 89.2h1.5M118.7 100.2h1.5M119.2 92.6h1.5M118.4 101.6h1.5M108.6 106.7h1.5M113.1 105.8h1.5M102.4 90.1h1.5M117.4 79.2h1.5M121.4 100.1h1.5M109.6 93.7h1.5M107 104.4h1.5M116 115.8h1.5M116.7 102.8h1.5M115.1 110.7h1.5M116.8 115.9h1.5M122.1 108.3h1.5M130 99.8h1.5M102.2 95.3h1.5M109.5 92.9h1.5M119 100.2h1.5M125.4 94.2h1.5M122.4 107.8h1.5M128.6 97h1.5M115.5 114.2h1.5M120.1 111.7h1.5M120.1 88.3h1.5M127.8 96.3h1.5M122.2 113.3h1.5M125.6 105.1h1.5M112.2 99.8h1.5M126.1 106.6h1.5M105.7 94.9h1.5M119.9 103.4h1.5M106.1 98.8h1.5M123.2 103.9h1.5M111.6 90.7h1.5M117.7 105.6h1.5M100.1 88.7h1.5M131.2 106.2h1.5M121.8 104.8h1.5M115.8 107h1.5M120.1 95h1.5M119.2 129.2h1.5M129.9 98.1h1.5M118.1 101.8h1.5M101.6 93.1h1.5M128.6 95.9h1.5M121.6 109.8h1.5M111.9 91.4h1.5M122 103.3h1.5M117.1 96.9h1.5M122 109.2h1.5M100.5 97.6h1.5M107.2 92.2h1.5M122.5 104.7h1.5M113.8 89.1h1.5M119.4 91.3h1.5M113 82.7h1.5M118.4 107.7h1.5M110.6 96.7h1.5M109.9 91.8h1.5M115.3 102.8h1.5M101.8 106.5h1.5M129.4 98.8h1.5M115 108.1h1.5M127 107.7h1.5M117.2 100h1.5M117.5 93.2h1.5M122.6 91.6h1.5M123 94.9h1.5M104.2 107h1.5M127.8 106h1.5M106.5 103.5h1.5M118 113.8h1.5M116.8 97h1.5M132.3 97h1.5M122 81.2h1.5M116.5 103.4h1.5M120.1 104.9h1.5M107.7 101.2h1.5M119.3 111.7h1.5M100.7 108h1.5M107.8 92.2h1.5M122.3 105.4h1.5M110 97.2h1.5M107.3 101.1h1.5M105.2 102.6h1.5M117.5 96.2h1.5M112.5 106.7h1.5M117.5 116.1h1.5M114.2 110.5h1.5M134.1 102.8h1.5M111.8 82.6h1.5M117.2 110.9h1.5M116 99h1.5M117.5 96.3h1.5M100.4 107h1.5M127.1 93.2h1.5M115.7 108.3h1.5M115.6 90.7h1.5M100.6 92.2h1.5M120.6 101h1.5M115.4 87.1h1.5M129.2 100.9h1.5M104 88.5h1.5M117.3 109.6h1.5M107.1 95.6h1.5M120.1 106h1.5M105.5 102.9h1.5M114.8 96.6h1.5M113.8 96h1.5M115.7 84.9h1.5M111 94.4h1.5M108.1 93.7h1.5M115.4 116.3h1.5M117.5 88h1.5M127.2 91.9h1.5M117.4 109.9h1.5M112.9 98.8h1.5M123.6 106.5h1.5M103.3 95.4h1.5M118.4 107.5h1.5M103.8 106.7h1.5M108.5 121h1.5M137.2 88.6h1.5M131.2 110.8h1.5M118.3 103.2h1.5M128.7 104.1h1.5M103.7 91.8h1.5M133.9 110.4h1.5M103.9 98.1h1.5M102 94.4h1.5M131.4 92.5h1.5M127.7 91.1h1.5M97.5 94.8h1.5M115.6 119h1.5M113.1 99.2h1.5M106.8 106h1.5M98.4 107.9h1.5M114.6 90.3h1.5M123.2 96.3h1.5M121.1 115.3h1.5M121.9 128.8h1.5M122.3 118h1.5M119.8 116.5h1.5M121.7 123.7h1.5M123.9 128.5h1.5M123.9 120.2h1.5M122 88h1.5M120.7 93.5h1.5M119.5 95.2h1.5M124 106.4h1.5M122.1 90.1h1.5M120.7 112.7h1.5M117.7 128.8h1.5M120.3 127.3h1.5M117.3 89.6h1.5M124.1 117.7h1.5M121.5 93.3h1.5M120.4 126h1.5M120.5 86.2h1.5M126.2 90.4h1.5M123.7 99.2h1.5M118.4 87.7h1.5M121.4 113.8h1.5M118.8 95.8h1.5M118.4 115.5h1.5M122.3 127.5h1.5M126.2 106h1.5M124.5 106.5h1.5M122.1 130.1h1.5M120.6 99.4h1.5M122.3 124.5h1.5M123.7 113.2h1.5M118.1 88.6h1.5M117.6 97.8h1.5M125.4 117.2h1.5M121.6 86.3h1.5M125 125.7h1.5M122.4 124.3h1.5M124.7 120.4h1.5M120.6 124h1.5M122.6 115.6h1.5M124.9 123.9h1.5M123.5 107.8h1.5M120.5 101.6h1.5M123.5 119.5h1.5M120.2 108.9h1.5M118.5 101.3h1.5M122.3 99.3h1.5M124.2 105.4h1.5M123.1 101.8h1.5M119.3 121.3h1.5M123.5 123.1h1.5M123.1 119.1h1.5M120.9 125h1.5M116.4 102.4h1.5M123.4 104h1.5M123.6 123.4h1.5M122.2 96.2h1.5M118.3 118.9h1.5M118.6 110.9h1.5M123.7 112.6h1.5M123.3 118.3h1.5M122.6 115.6h1.5M120.7 94.1h1.5M121.8 88.5h1.5M120.9 125.2h1.5M121.3 127.3h1.5M119.8 111.6h1.5M122.2 114.1h1.5M120.3 91.9h1.5M123.4 107.1h1.5M123 113.2h1.5M120.1 114.1h1.5M124.9 96.9h1.5M118.9 90.4h1.5M122.9 129.8h1.5M124 123.4h1.5M123.7 96.1h1.5M117.4 122.8h1.5M123.8 123.1h1.5M123.6 96.8h1.5M124.7 121.8h1.5M116.9 104.8h1.5M120 101.2h1.5M121 94.1h1.5M120.7 111h1.5M124.3 114.6h1.5M120.2 111h1.5M123.6 90.3h1.5M122.9 122.6h1.5M118.4 100.8h1.5M119.3 95.5h1.5M120.7 115h1.5M121.4 96.8h1.5M123.9 125.2h1.5M121.3 111.1h1.5M123.6 121.2h1.5M118.2 99.8h1.5M115.3 108.7h1.5M120.6 97h1.5M108.4 147.2h1.5M112.1 141.6h1.5M114.5 148h1.5M116.8 127.9h1.5M103.8 141.9h1.5M111.9 145.6h1.5M116.7 135.6h1.5M101.5 149.2h1.5M108.6 152.7h1.5M113.9 132.9h1.5M107.9 154.5h1.5M99.5 157.3h1.5M88.3 161.1h1.5M123.2 141.6h1.5M94.4 165.7h1.5M113.9 138.9h1.5M90.3 159.7h1.5M114 141.6h1.5M114.5 130.8h1.5M115.1 142.5h1.5M97.1 146.3h1.5M105.5 143.9h1.5M100.6 165.2h1.5M117.3 133.7h1.5M122.1 142.1h1.5M112.2 148.4h1.5M121.7 145.4h1.5M96.8 162.3h1.5M120.1 138.8h1.5M99.9 148.7h1.5M105.9 149.4h1.5M96.2 142.9h1.5M93.7 156.9h1.5M95 149.8h1.5M102.3 149.3h1.5M102.2 140.5h1.5M94.6 162.9h1.5M89 163.8h1.5M104.3 152h1.5M86.3 163.7h1.5M105.3 146.1h1.5M119.4 135h1.5M119.4 136.5h1.5M118.7 143.9h1.5M111.7 142.2h1.5M91.6 160.5h1.5M91.5 159.8h1.5M94.9 161.5h1.5M107.8 152.9h1.5M95.1 156.7h1.5M102.5 164.2h1.5M97.8 164.6h1.5M124.3 133.7h1.5M94.8 151.2h1.5M120.1 137h1.5M107.5 138.3h1.5M98.4 160.1h1.5M99.2 156.5h1.5M94.6 150.7h1.5M113.4 135.4h1.5M113.9 144.4h1.5M100.9 158.9h1.5M117.3 133.3h1.5M112.4 133.9h1.5M97.4 154.7h1.5M104.1 158.8h1.5M106.2 136.5h1.5M123.7 139.9h1.5M118.2 141.5h1.5M85.8 157.6h1.5M92.3 158.3h1.5M89.1 160.1h1.5M106.3 144h1.5M112.9 135.8h1.5M97.6 159h1.5M102.9 152.8h1.5M109.2 141.7h1.5M108.2 155.7h1.5M110.3 144.1h1.5M89.2 148.8h1.5M105.8 140.8h1.5M101 151.8h1.5M120.2 140.1h1.5M100.7 148.6h1.5M98.3 161.1h1.5M120.1 149.4h1.5M109.2 150.1h1.5M108.9 157.1h1.5M116.5 143.7h1.5M117 142.7h1.5M106.8 133.8h1.5M120.7 131.3h1.5M116.1 133.3h1.5M91.9 162.8h1.5M106.3 152.6h1.5M119 136.8h1.5M116.1 140.5h1.5M103.8 141.2h1.5M105.4 150.5h1.5M95.1 156.5h1.5M102.5 148.8h1.5M108.2 142.8h1.5M99.8 148.3h1.5M125.1 134.6h1.5M89.9 162.5h1.5M105.5 142.5h1.5M103.4 137h1.5M122.6 128.9h1.5M100.6 154.2h1.5M90.6 165.3h1.5M114.8 137.9h1.5M85.6 165h1.5M91.4 160h1.5M111 134.2h1.5M107.2 145.1h1.5M117.7 138.6h1.5M120.5 146.1h1.5M104.4 150.4h1.5M104.3 142.9h1.5M117.9 140.2h1.5M106 137.2h1.5M91.1 154.7h1.5M110.1 135.8h1.5M101.8 159.2h1.5M105.3 161.9h1.5M123.3 134.1h1.5M84.8 163h1.5M106.5 142.3h1.5M100.5 159.1h1.5M94.2 157.1h1.5M124.1 135.9h1.5M104.7 144.4h1.5M107 157.5h1.5M113.8 135.3h1.5M104.7 149.9h1.5M102.8 152.7h1.5M112.4 152.8h1.5M93.8 149.1h1.5M98.4 161.9h1.5M86.5 155.7h1.5M120.9 139.4h1.5M104.8 145.1h1.5M107.3 143.2h1.5M98.6 158.6h1.5M105.5 159.8h1.5M119.9 131.6h1.5M118 135.9h1.5M121.4 138.7h1.5M85.9 167.2h1.5M90.1 166.8h1.5M105.3 154.5h1.5M95.5 154.1h1.5M100.1 151.8h1.5M103.8 159.5h1.5M106 159.2h1.5M115 136.7h1.5M98.8 148.9h1.5M108.3 157.9h1.5M115 147.2h1.5M99.1 162.8h1.5M107 145.2h1.5M109.5 133.6h1.5M118.9 147.2h1.5M96.7 148.7h1.5M114.7 142.2h1.5M110.9 138.8h1.5M118.6 132.3h1.5M119.1 149.6h1.5M100.5 158.4h1.5M98.7 147.9h1.5M111.5 150.5h1.5M96.1 153h1.5M93.5 159.9h1.5M110.6 141.3h1.5M112.8 150.2h1.5M89.1 150.8h1.5M99.6 145.9h1.5M122.1 132.9h1.5M105.5 148.5h1.5M95.1 150.5h1.5M95.5 152.7h1.5M93.1 152h1.5M106.8 143.6h1.5M101.4 155.1h1.5M112.3 137.9h1.5M104.1 155.6h1.5M112.7 134.2h1.5M104.1 150.4h1.5M103.1 158.5h1.5M97.8 152.4h1.5M99.2 162.7h1.5M95.8 156.9h1.5M91 157.7h1.5M92 147.3h1.5M103.6 152.4h1.5M101.7 149h1.5M113.8 148.7h1.5M104.7 144.9h1.5M109.6 149h1.5M110.7 145.3h1.5M113.2 141.2h1.5M92.6 156.5h1.5M106.9 152.2h1.5M87.2 159.3h1.5M107.3 155.8h1.5M98 151.8h1.5M116.7 135.7h1.5M108.3 142.8h1.5M122.2 131h1.5M118.2 135.1h1.5M91.9 162.8h1.5M102 145.8h1.5M110.6 143.7h1.5M109.4 147.1h1.5M101.7 153.4h1.5M112 141.5h1.5M90 156.5h1.5M108.1 133.2h1.5M104 138.8h1.5M121 133.1h1.5M92.5 157.2h1.5M120.3 141.3h1.5M116.8 134h1.5M109 148.1h1.5M105.7 149.2h1.5M97 155.1h1.5M110.2 149h1.5M118.5 144.2h1.5M103.5 149.2h1.5M106.6 142.6h1.5M107.2 147.6h1.5M99.7 164.9h1.5M101.7 155.1h1.5M104.3 154.4h1.5M90.3 165.1h1.5M119.4 136.7h1.5M117.1 140.4h1.5M95.2 153.3h1.5M110 146.2h1.5M102.8 146.4h1.5M112.9 152.7h1.5M109.7 134.5h1.5M101.7 155.8h1.5M114 132.1h1.5M104.6 155.4h1.5M95.4 161.4h1.5M115.7 141.3h1.5M106.9 153.2h1.5M96.9 161h1.5M111.2 138.8h1.5M101.9 152h1.5M109.4 144.5h1.5M113.1 134.9h1.5M125.1 136.3h1.5M104.3 151.8h1.5M108.3 133.5h1.5M105.2 144.8h1.5M102.3 154.4h1.5M99.6 156.5h1.5M91.6 163.4h1.5M115.9 140.8h1.5M122.7 136.3h1.5M101.7 158.5h1.5M119.5 142.1h1.5M112.3 152.5h1.5M110.8 144.5h1.5M103.9 141.5h1.5M99.5 143.8h1.5M102.3 151.5h1.5M114.1 132.6h1.5M113.7 154h1.5M89.6 156.6h1.5M98.6 160.8h1.5M117 134.2h1.5M106.6 153h1.5M118.5 151.4h1.5M102.6 136.4h1.5M105 134.9h1.5M100.2 143.5h1.5M104.3 141.2h1.5M112.9 147.2h1.5M98.9 151.8h1.5M89.9 166.1h1.5M108.3 142.4h1.5M95 159.6h1.5M109.5 152.4h1.5M106.7 148.5h1.5M99.5 160.9h1.5M119.8 128.3h1.5M95.7 145.6h1.5M102.6 146h1.5M102.4 151.4h1.5M99.6 158.5h1.5M111.9 136.6h1.5M98.9 158.4h1.5M115.9 142.7h1.5M101.8 148.9h1.5M114.4 151.4h1.5M96.3 162.9h1.5M93.6 151.8h1.5M114.8 136.5h1.5M118.4 135.3h1.5M97.9 150.6h1.5M113.8 144.7h1.5M91 154.2h1.5M94.1 154.8h1.5M85.3 162h1.5M97.5 161.2h1.5M99 159.5h1.5M113.2 141.7h1.5M103 152.1h1.5M96 158h1.5M119.7 143.5h1.5M98.2 158.3h1.5M122.6 136.1h1.5M106 149.6h1.5M103.3 161.5h1.5M112.4 138h1.5M117.9 145.8h1.5M100.2 152.3h1.5M94.6 160.1h1.5M95 154.2h1.5M106.3 139.1h1.5M108 144.5h1.5M106.3 144.8h1.5M116.8 141.1h1.5M104.6 155.2h1.5M108.3 133.4h1.5M100.4 155.5h1.5M118.1 136.4h1.5M109 144.4h1.5M98.6 158.3h1.5M111.5 151.5h1.5M112.6 149.3h1.5M120.2 133.3h1.5M98.1 147.8h1.5M104.8 143h1.5M118.7 134.3h1.5M89.4 164h1.5M109 133.5h1.5M93.5 154.5h1.5M93 159.7h1.5M118.3 136.9h1.5M96.6 158.2h1.5M107.9 154.9h1.5M91.5 165.1h1.5M104.5 159.4h1.5M99.9 153.9h1.5M98.2 159.6h1.5M121.5 137.9h1.5M95.2 149.6h1.5M95.4 153.9h1.5M91 148.7h1.5M108.9 148.8h1.5M123 132.5h1.5M97.9 151.8h1.5M106.9 150.6h1.5M97.6 152.5h1.5M107.5 145.2h1.5M101.3 154.7h1.5M111.2 149h1.5M94.5 162.3h1.5M91.8 156.4h1.5M114.4 148.4h1.5M105.8 163h1.5M97.9 165.5h1.5M95.4 148.1h1.5M93.8 164.8h1.5M115.1 143.3h1.5M92.7 161.5h1.5M99.7 150.8h1.5M118.8 136.9h1.5M95.1 159h1.5M111 141.6h1.5M90.4 152.4h1.5M119.5 138.8h1.5M107.3 145.5h1.5M122 137.9h1.5M91.4 157h1.5M112.1 145.9h1.5M114.4 132.2h1.5M110.7 147.3h1.5M113.4 132.9h1.5M111.5 130.5h1.5M87.5 161.4h1.5M90.5 165.2h1.5M104.3 154.8h1.5M105 146.2h1.5M106.8 145.4h1.5M102.7 150.3h1.5M114 135.6h1.5M95.2 161.9h1.5M111.5 150.6h1.5M115.7 138.2h1.5M97.1 159.8h1.5M112.7 151.1h1.5M107.3 152.9h1.5M110.8 147.6h1.5M119.2 136.7h1.5M110.2 139.3h1.5M104.8 150.5h1.5M112.9 144.6h1.5M112 142.5h1.5M110.6 144.5h1.5M115.1 130.8h1.5M112.1 145h1.5M103 144.7h1.5M92.6 151.8h1.5M116.9 136.1h1.5M113 154.9h1.5M92.5 153.6h1.5M103.1 155.7h1.5M113.5 148.4h1.5M96.1 153h1.5M100.9 147h1.5M107.9 138.1h1.5M110.1 143.7h1.5M113.1 141.8h1.5M103.8 144.4h1.5M105 155.5h1.5M106.5 146.6h1.5M110.9 143.5h1.5M96.5 161.1h1.5M97.8 160.9h1.5M93.1 148.7h1.5M94.6 157h1.5M110 138.3h1.5M128.3 132.5h1.5M110.8 154.2h1.5M96.4 145.9h1.5M110.9 150.4h1.5M105.9 138.6h1.5M106 161.1h1.5M98.5 152h1.5M111.1 140.1h1.5M112.2 141.8h1.5M121.5 136.5h1.5M91.1 159.6h1.5M92.2 161.5h1.5M105.5 151.4h1.5M90 163.2h1.5M99.6 154.8h1.5M104.9 139.7h1.5M115.7 136.1h1.5M106.8 144h1.5M106.8 144h1.5M115.5 149.1h1.5M111.7 150.2h1.5M116.5 139.6h1.5M119.7 140.4h1.5M105.4 138.1h1.5M113.6 138.4h1.5M108.3 150.7h1.5M97.1 157.1h1.5M110.3 148h1.5M102.8 153.9h1.5M109.5 156h1.5M102.9 149.6h1.5M111.9 145.3h1.5M122.6 130.4h1.5M115.3 145.2h1.5M100 143.2h1.5M105.3 143.7h1.5M105.5 146.2h1.5M119.6 131.2h1.5M107.4 141.8h1.5M100.4 155.5h1.5M107.8 143.6h1.5M100.6 139.3h1.5M114.4 142.5h1.5M87.3 163.5h1.5M111.4 138.6h1.5M118.3 127.2h1.5M108.8 142.3h1.5M93 166.5h1.5M120.3 129.8h1.5M102.6 161.4h1.5M105.4 149.5h1.5M89.7 160.7h1.5M95.3 147.6h1.5M116.9 138.2h1.5M101.1 166.9h1.5M106.9 152.8h1.5M111.1 144.6h1.5M107.9 144.6h1.5M92.6 161.3h1.5M112.2 149.5h1.5M101 149.3h1.5M97.8 156.4h1.5M109.7 137.6h1.5M110 148.7h1.5M96.5 154.8h1.5M98.4 149.9h1.5M121.4 139.7h1.5M115 143.8h1.5M105.5 151.8h1.5M105.7 146.9h1.5M92 160.2h1.5M106.5 144h1.5M114.3 132.5h1.5M113.5 142.8h1.5M122.3 133h1.5M99.5 151.8h1.5M106.4 146.5h1.5M100.4 156.7h1.5M106.9 146.1h1.5M104.4 146h1.5M118.4 135.1h1.5M108.8 133.5h1.5M123 133h1.5M97.1 159.5h1.5M114.9 150.5h1.5M102.6 151.6h1.5M114.1 146.2h1.5M92.1 158.7h1.5M100.6 141.3h1.5M102.7 155.5h1.5M107.3 139.8h1.5M96.7 163.7h1.5M103.8 148.4h1.5M89.7 161.2h1.5M114.9 129.8h1.5M120.8 143.1h1.5M107.9 142.7h1.5M120.7 134.6h1.5M113.9 136.6h1.5M113.8 142.3h1.5M98.7 155.4h1.5M120.4 135.5h1.5M106.7 142.5h1.5M108.6 149.1h1.5M116.9 137.2h1.5M112.3 132h1.5M100.9 150.9h1.5M107.7 141.5h1.5M105.1 139.1h1.5M119.9 139.5h1.5M120.8 136.1h1.5M95 147.6h1.5M113.2 144.2h1.5M113.1 148.8h1.5M111.2 135.2h1.5M118.6 131.1h1.5M104.1 146.4h1.5M92.3 156.4h1.5M101 155.2h1.5M98.4 161.6h1.5M102.9 154.5h1.5M88.3 165.8h1.5M99.2 155.1h1.5M115.4 145.4h1.5M114.9 137.5h1.5M89.1 160.9h1.5M114.7 149.9h1.5M113.6 147h1.5M107.3 148.3h1.5M115.9 146.1h1.5M110 142.3h1.5M105.7 151h1.5M106.7 147.3h1.5M117.5 133.9h1.5M98.2 150.7h1.5M118.4 134.1h1.5M99.9 145.2h1.5M107.7 142.6h1.5M100 165h1.5M97.9 158.3h1.5M112.6 130.5h1.5M109.3 155.2h1.5M98 160.5h1.5M105.4 147.2h1.5M106.9 155.3h1.5M89.2 158.7h1.5M119.6 139.1h1.5M95.6 150.3h1.5M119.1 142.8h1.5M107.2 150.8h1.5M107.7 153h1.5M100.3 148.6h1.5M99.8 159.2h1.5M116.9 137.7h1.5M106.2 140.1h1.5M107.4 144.3h1.5M98.4 150.6h1.5M104.7 152.1h1.5M109.4 161h1.5M103.9 161.9h1.5M110.4 148.6h1.5M91.6 162.6h1.5M100.1 146.4h1.5M95.8 154.9h1.5M116.1 141.5h1.5M107.2 150.1h1.5M124.2 132.4h1.5M89.4 163.7h1.5M122.8 142.5h1.5M104.4 145.3h1.5M89.2 158.2h1.5M109.4 144.6h1.5M92.2 153.3h1.5M109.1 139.2h1.5M119.2 132.4h1.5M103.2 151.8h1.5M95.8 155.6h1.5M102 146.8h1.5M106.5 148.3h1.5M94.4 156h1.5M100.3 147.2h1.5M106.7 145.6h1.5M117.4 139.6h1.5M114.4 144.2h1.5M121.2 135.5h1.5M97.9 144.3h1.5M104.2 147.2h1.5M110.4 158.2h1.5M93.9 166h1.5M112.4 150.7h1.5M121 137.9h1.5M118.2 135.7h1.5M116.8 153.4h1.5M102 142h1.5M103.2 150.6h1.5M100.1 144.2h1.5M106.5 155.4h1.5M114.7 149.2h1.5M93.6 151.2h1.5M122.6 134.8h1.5M98.7 162h1.5M115.3 149.4h1.5M105.2 154.5h1.5M118 146.1h1.5M104.5 153.7h1.5M97.2 145.2h1.5M110.1 153.5h1.5M93.4 168.6h1.5M93 153.9h1.5M117.3 143.4h1.5M114.1 141.3h1.5M117.4 129.4h1.5M114.5 129.3h1.5M112.4 142.1h1.5M87.4 154.4h1.5M97.8 158.6h1.5M112.9 143.5h1.5M108.3 149.7h1.5M128.1 137.6h1.5M92 160.5h1.5M92.3 164.9h1.5M116.1 147.9h1.5M107.2 143.4h1.5M93.9 152.4h1.5M109 146.5h1.5M119.9 133.4h1.5M114.4 148h1.5M100.8 146.2h1.5M92.4 162.3h1.5M107.8 149.7h1.5M94.1 166h1.5M115.3 140.8h1.5M104.5 164h1.5M102 157.5h1.5M122 142.1h1.5M90.4 159.3h1.5M93.3 160.5h1.5M121.2 142.2h1.5M115.8 142.5h1.5M93.9 159.1h1.5M113.6 134.5h1.5M117 143.8h1.5M104.5 149.3h1.5M103.3 158.6h1.5M97.6 161.7h1.5M111.8 134.4h1.5M96 154.3h1.5M109.8 155.2h1.5M92.5 162.5h1.5M121.4 132.8h1.5M109.8 133h1.5M93.5 166.1h1.5M97.9 154.1h1.5M94.7 162.2h1.5M120 143.8h1.5M119.6 130.8h1.5M110.1 152.1h1.5M109.2 147.3h1.5M119.4 136.2h1.5M114.9 136.9h1.5M116.4 132.3h1.5M95.6 154.5h1.5M95.8 160.3h1.5M88 153.1h1.5M100.2 158.1h1.5M111.7 133h1.5M95.3 156h1.5M111.4 144.6h1.5M98 147.6h1.5M105.5 145.5h1.5M97.6 152.1h1.5M105.7 142.7h1.5M102.3 147.5h1.5M100.7 152.7h1.5M108.3 149.4h1.5M112.5 145.8h1.5M111.9 136.1h1.5M106.9 151.9h1.5M111.1 140.3h1.5M96.9 156.3h1.5M112.3 137.3h1.5M119.4 134.7h1.5M115.3 130.2h1.5M111.5 138h1.5M119.5 143.9h1.5M89.7 162.4h1.5M95.6 148.1h1.5M103.2 152.2h1.5M104.8 155.4h1.5M120.9 137.6h1.5M117.2 133.1h1.5M108.1 151h1.5M111.9 134h1.5M103 157h1.5M109.1 155.7h1.5M112 134.7h1.5M89.5 152.7h1.5M104.7 152.8h1.5M122.4 134.3h1.5M116.9 141.7h1.5M108.7 143.8h1.5M107.6 140.5h1.5M104.5 159.9h1.5M110.6 135.9h1.5M114.8 145.8h1.5M94.5 157.4h1.5M107.8 160.3h1.5M91.9 163.9h1.5M116.1 144.7h1.5M99.5 163.2h1.5M104.2 155.2h1.5M92 160.5h1.5M111.2 149.1h1.5M95.5 154.1h1.5M111.9 147.2h1.5M110.2 144.1h1.5M105.1 153.4h1.5M121.6 138.5h1.5M109.5 156.1h1.5M87.6 160.2h1.5M96.7 163.8h1.5M92.8 150h1.5M114.4 142h1.5M92.1 162.5h1.5M91.9 159.4h1.5M113.4 140.5h1.5M109.3 138.8h1.5M104.2 149.7h1.5M103.2 150.4h1.5M114.2 136.7h1.5M98.6 150.2h1.5M88.3 158.6h1.5M98.7 157.8h1.5M104.5 149.5h1.5M103.1 154.7h1.5M106.5 143h1.5M109.1 153.9h1.5M104.7 153.2h1.5M116.1 136.2h1.5M88.9 161.2h1.5M108.2 143.9h1.5M113.6 141h1.5M113 142.6h1.5M125.7 139.4h1.5M102.6 144.8h1.5M96.6 157.2h1.5M120.5 137.4h1.5M108.5 152.5h1.5M99.8 154.2h1.5M99.4 154.3h1.5M89.8 166.2h1.5M110.8 143.3h1.5M121.6 128.7h1.5M104.4 147.3h1.5M101.3 149.6h1.5M114 131.1h1.5M123.1 137.7h1.5M111.7 146.9h1.5M109.7 132.3h1.5M93.6 155.8h1.5M108.9 151.8h1.5M123.8 139.6h1.5M88.4 159.2h1.5M113.5 137.9h1.5M90.1 162.8h1.5M120.1 138.9h1.5M104.2 146.5h1.5M120.6 136h1.5M116.8 134.4h1.5M123.4 135.7h1.5M116.9 155.5h1.5M90.8 162.2h1.5M115.3 134.7h1.5M112.5 139.5h1.5M101.6 149.7h1.5M114.6 145.9h1.5M107.9 146.7h1.5M100.3 157h1.5M97.5 152.3h1.5M101.5 157h1.5M119 133.3h1.5M97.9 162.4h1.5M94.5 164.5h1.5M117.4 130.7h1.5M98.2 159h1.5M95.5 153.2h1.5M93 159.8h1.5M103.5 145h1.5M101.9 151.5h1.5M108.3 147h1.5M95 150.9h1.5M102.5 152.4h1.5M95.1 166.3h1.5M110.8 136.6h1.5M104.3 150.7h1.5M119.6 129.6h1.5M93.7 166.3h1.5M123.2 129.2h1.5M114.8 142h1.5M100.9 141.1h1.5M95.9 163.4h1.5M113.1 150.7h1.5M93.9 157.7h1.5M118.9 137.3h1.5M114.9 147.5h1.5M111.4 134.2h1.5M88.7 162.2h1.5M103.7 156.4h1.5M111.6 144.7h1.5M119.8 144.4h1.5M114.8 151.3h1.5M94.7 160.3h1.5M113.9 143.9h1.5M113.4 144.8h1.5M99.5 160.2h1.5M111.3 130.5h1.5M117.5 128.5h1.5M117.4 133.6h1.5M107.9 147.4h1.5M122.3 137.3h1.5M110.4 132.5h1.5M95.4 150.5h1.5M111.1 152h1.5M88.5 167.2h1.5M108.7 146.3h1.5M106.3 142.8h1.5M118.9 131.8h1.5M96.1 163.5h1.5M110.3 147.9h1.5M87.5 159.9h1.5M108.5 144.1h1.5M117.8 138.4h1.5M119.5 140.3h1.5M107.3 151.2h1.5M109.9 149.7h1.5M109.8 153.3h1.5M99.7 150.2h1.5M102 151.4h1.5M125.4 136h1.5M106.7 146.5h1.5M108.7 141.3h1.5M115.2 137.4h1.5M113.4 150.7h1.5M101.3 146.3h1.5M93.3 163h1.5M99.9 148.3h1.5M119 132.1h1.5M121.3 136.3h1.5M109.3 140.3h1.5M117.9 136.2h1.5M99.8 152.7h1.5M96.5 159h1.5M101 148.8h1.5M115.6 142.8h1.5M106 147.6h1.5M102.2 150.1h1.5M87.8 158.1h1.5M100.5 146.6h1.5M122.1 138.3h1.5M127 130.6h1.5M117.9 145h1.5M114.4 142.3h1.5M101.1 140.9h1.5M108.8 141.8h1.5M95.4 161.4h1.5M101.1 154.6h1.5M109.9 153.8h1.5M115.9 134.6h1.5M114.9 129.2h1.5M100.3 163.5h1.5M100.2 165.6h1.5M96.1 165.7h1.5M98.9 166.7h1.5M92 167.7h1.5M93.9 165.8h1.5M91.5 160.4h1.5M106.1 164.5h1.5M96.6 162h1.5M98 165h1.5M94.1 159.3h1.5M90.5 156.7h1.5M100.4 150.5h1.5M102.3 155.9h1.5M103.4 157h1.5M96.2 156h1.5M95.5 162.7h1.5M104.5 158.2h1.5M99.1 156.6h1.5M85.3 166.5h1.5M98.9 162.1h1.5M96.1 159.1h1.5M100.5 148.9h1.5M93.1 152.8h1.5M98.8 165.1h1.5M103.3 164.2h1.5M91.7 163h1.5M101.6 159.3h1.5M105 161.7h1.5M96.9 154.1h1.5M93.4 162.9h1.5M101.8 154.1h1.5M91.2 167.6h1.5M95 160.4h1.5M92.6 152.5h1.5M95.2 164.8h1.5M107.7 162.8h1.5M98.9 155h1.5M105.3 160.3h1.5M86.7 156.4h1.5M99.7 165.7h1.5M90.2 156.9h1.5M104.4 158h1.5M99.5 151.9h1.5M96.5 170.3h1.5M89.1 158.7h1.5M96.2 154h1.5M95.8 161.7h1.5M84.5 163.9h1.5M103 159.3h1.5M89.5 167h1.5M95.4 157.9h1.5M98.6 151.7h1.5M93.6 162h1.5M104.5 159.9h1.5M94 166.2h1.5M98 156.6h1.5M98.5 154.9h1.5M105.4 158.5h1.5M105.9 149.4h1.5M93.6 162.4h1.5M89.5 156.6h1.5M95.6 167.2h1.5M103.4 163.1h1.5M89.1 160.4h1.5M97.8 163.5h1.5M91.1 166.6h1.5M103.5 163.2h1.5M101.8 154h1.5M92 165.6h1.5M91.8 153.3h1.5M102.1 157.7h1.5M89.2 163.6h1.5M100.7 165.5h1.5M101.7 156.8h1.5M95.7 166h1.5M107.6 155.5h1.5M89.7 164.2h1.5M87.5 159h1.5M99.9 150.7h1.5M104.2 154.7h1.5M93.1 167h1.5M105.9 154.7h1.5M97.1 166.7h1.5M102.1 157.1h1.5M89.2 147.8h1.5M103.2 164.7h1.5M92.1 159.1h1.5M90.6 167h1.5M93.5 153.1h1.5M95.3 164.1h1.5M98.9 163.5h1.5M96.5 151.2h1.5M103.1 158.1h1.5M97.1 150.8h1.5M85.5 157.3h1.5M91.7 165.2h1.5M95.8 163h1.5M105.1 156.7h1.5M91.8 152.4h1.5M104.2 162.3h1.5M97.4 158.2h1.5M99.5 149.8h1.5M100.9 158.3h1.5M102.8 165.5h1.5M92.2 157.4h1.5M92.5 156.7h1.5M108.8 152h1.5M94.1 154h1.5M95 153.8h1.5M93.6 158.8h1.5M99.6 150.4h1.5M101 155.3h1.5M103.9 162.5h1.5M100.3 156.4h1.5M96.2 151.2h1.5M86.2 161.1h1.5M107.6 155.8h1.5M101.3 156.5h1.5M95 157.2h1.5M95.6 164.9h1.5M99.9 162h1.5M98.3 157.7h1.5M99.8 165.9h1.5M97.5 158.3h1.5M93.3 172.4h1.5M92.9 156.9h1.5M93.8 155.4h1.5M100.5 156.5h1.5M101.2 160.4h1.5M105.1 157.2h1.5M94.6 167.4h1.5M103 159.5h1.5M101 152.1h1.5M99.6 154.1h1.5M88.8 160.8h1.5M104.6 159.2h1.5M105 162.6h1.5M102 161.8h1.5M98.9 146.1h1.5M101 152.5h1.5M104 154.1h1.5M97.5 170.1h1.5M92.9 158.7h1.5M92.1 165.4h1.5M95.2 159.6h1.5M86.6 157.4h1.5M98.9 162.7h1.5M101 162.6h1.5M94.6 163.8h1.5M102.4 163h1.5M97.1 150.1h1.5M99.3 165h1.5M106.7 149.6h1.5M88.5 160.3h1.5M101.9 153.9h1.5M91.6 162.8h1.5M101.6 161.1h1.5M101.2 155h1.5M92.4 154.2h1.5M91.3 159.2h1.5M98.1 165.2h1.5M95.2 159.1h1.5M94.1 156.7h1.5M94.9 161.4h1.5M96.9 169.4h1.5M91 157.9h1.5M101.7 150.1h1.5M104.6 158.2h1.5M102.7 156.1h1.5M100.5 157.8h1.5M101.3 148.8h1.5M90.6 158.1h1.5M94.5 169.9h1.5M104.4 156.8h1.5M100 154.9h1.5M95.8 166.5h1.5M97.8 169.7h1.5M88.1 162.2h1.5M87.2 158.8h1.5M98.9 158.2h1.5M100 151.8h1.5M100.6 166.5h1.5M101.4 152.1h1.5M97.7 158.7h1.5M91.4 158.1h1.5M98.6 170.4h1.5M102.4 154.3h1.5M93.4 163.2h1.5M102.5 154.5h1.5M96.9 156.7h1.5M87.6 156.5h1.5M102.3 163.1h1.5M98.4 159.9h1.5M98.7 167h1.5M95.6 149.3h1.5M101.2 163.8h1.5M99.3 158.9h1.5M96 155.2h1.5M91.2 157.6h1.5M93.9 158.4h1.5M97.6 157.5h1.5M109.6 159.2h1.5M101.8 148.7h1.5M101.2 148.2h1.5M102.1 162.7h1.5M97 160.2h1.5M100.2 161.3h1.5M99.1 167.9h1.5M105.4 153h1.5M101.4 159.7h1.5M101.7 155.3h1.5M89.2 165.4h1.5M98.1 158.7h1.5M104.7 156.2h1.5M89.4 158.4h1.5M93.6 149.9h1.5M98.6 164.8h1.5M94.4 152h1.5M103.5 156h1.5M104.3 157h1.5M97.5 158.7h1.5M99.4 154.3h1.5M90.8 169.8h1.5M90.2 162.1h1.5M107.6 155.5h1.5M95.4 148.3h1.5M88.4 154h1.5M92.6 154.5h1.5M100.1 159.2h1.5M102.6 163.6h1.5M90.9 156.4h1.5M92.2 159.3h1.5M84.7 160.5h1.5M91.4 148.6h1.5M96.2 163.9h1.5M98.4 154h1.5M91.9 167.4h1.5M100.1 167.5h1.5M96.4 160.5h1.5M102.7 156.3h1.5M100.7 156.6h1.5M104.6 155.8h1.5M101.5 165.5h1.5M90 149.5h1.5M99.7 154.5h1.5M88.6 165.5h1.5M95.1 163.1h1.5M99.5 152.2h1.5M107.2 160.8h1.5M98.8 155.8h1.5M96.9 155.7h1.5M85.7 158.9h1.5M90.1 157.3h1.5M85.1 160.6h1.5M96.8 157.8h1.5M88.7 157.7h1.5M100.2 170h1.5M91.4 157.8h1.5M91.7 153h1.5M103.9 152.9h1.5M100.2 147.6h1.5M85 158.7h1.5M97.1 152.3h1.5M95.8 148.8h1.5M103.3 155.5h1.5M101.9 159.5h1.5M96 153.8h1.5M95.5 165.9h1.5M96.4 152.9h1.5M98.8 151.8h1.5M96.6 160.3h1.5M86.6 161.6h1.5M94.2 172h1.5M97.2 152.2h1.5M89.8 155.1h1.5M103.8 154h1.5M92.3 155h1.5M100.8 165.8h1.5M104.5 157.6h1.5M94.1 167.2h1.5M96.3 150.2h1.5M92.6 155.1h1.5M97.1 169.8h1.5M96.3 156.7h1.5M88.8 163.8h1.5M98.6 168.7h1.5M104.8 159h1.5M93.2 155.6h1.5M98.1 164.9h1.5M91.9 160.3h1.5M101.2 161.4h1.5M86.1 161h1.5M104.1 149.9h1.5M103.1 169.1h1.5M88.9 164.9h1.5M92 155.6h1.5M92.8 160.6h1.5M102.8 169.2h1.5M92.5 166.4h1.5M95.1 166.6h1.5M104.3 153.3h1.5M104.1 156.8h1.5M96.6 153.3h1.5M96.3 157.3h1.5M95.8 158.8h1.5M104.8 156.9h1.5M97.6 165.7h1.5M92.6 167.2h1.5M95.2 155.8h1.5M98.8 170.8h1.5M96.4 159.8h1.5M96.8 154.1h1.5M92.4 158.5h1.5M101.2 156.6h1.5M104 153.8h1.5M94.8 151.3h1.5M94.3 164.3h1.5M94.6 166.8h1.5M98.5 157.4h1.5M91.6 154.5h1.5M89.5 162.3h1.5M101.7 162.6h1.5M107.8 153.1h1.5M101.4 161.3h1.5M102.6 154.6h1.5M96.4 168.9h1.5M105.1 149.8h1.5M104.3 156.5h1.5M90.1 159.2h1.5M91.6 160h1.5M102.5 154.3h1.5M99.2 151.1h1.5M88.4 160.5h1.5M95.7 164.2h1.5M93.3 157.9h1.5M92.3 162.2h1.5M92.9 153.6h1.5M97.4 152h1.5M102 162.6h1.5M88.9 162.4h1.5M99.1 164.6h1.5M105.2 159.8h1.5M94.4 166.5h1.5M93.3 160.1h1.5M87.9 165h1.5M96.5 160.7h1.5M85.5 162.9h1.5M93.6 159.9h1.5M102.1 152.8h1.5M88.9 159.2h1.5M89.2 151.5h1.5M90.3 164.8h1.5M85.8 161.1h1.5M104.4 162.7h1.5M95.5 158.6h1.5M95.3 164.7h1.5M85.1 161.1h1.5M89 158.1h1.5M91.8 166.4h1.5M98.2 164.4h1.5M104 151.3h1.5M95.5 154.1h1.5M96 165.9h1.5M96.2 170.4h1.5M96.4 146.9h1.5M97.4 160.6h1.5M99.1 164.9h1.5M96.1 155.5h1.5M100 162h1.5M97 150.7h1.5M99.2 161.5h1.5M100.7 154.5h1.5M96.1 167.5h1.5M99.8 156.8h1.5M101.4 162.5h1.5M92.3 164.4h1.5M101.5 160.1h1.5M90.9 160.8h1.5M102.2 158.3h1.5M89.6 159.1h1.5M97.1 152.9h1.5M91.4 152.9h1.5M92.6 162.7h1.5M95.7 164.2h1.5M96 159.6h1.5M96.5 158.1h1.5M89.5 163.6h1.5M95.6 160.6h1.5M97 160.7h1.5M107.3 162h1.5M94.2 168.7h1.5M94.4 163.9h1.5M94.1 165.4h1.5M92.3 156.8h1.5M103.4 156.2h1.5M96.1 163.4h1.5M102.1 156.9h1.5M92.6 163.1h1.5M92.1 149.2h1.5M88.6 161.3h1.5M91.4 156.9h1.5M93.8 159.1h1.5M99.2 160.5h1.5M95.9 166.4h1.5M102.5 158.6h1.5M96 162.3h1.5M88.2 158.7h1.5M88.7 158.7h1.5M93.9 157.7h1.5M87.3 165.5h1.5M101.4 156.1h1.5M90 160.3h1.5M97 158h1.5M100.7 153.3h1.5M106.9 152.5h1.5M97.7 166.6h1.5M90.6 165.9h1.5M87.9 161.3h1.5M95.2 152.2h1.5M103.9 151.1h1.5M98.4 144.4h1.5M90.4 169h1.5M103.1 147.7h1.5M93.4 153.9h1.5M99.3 170.6h1.5M101.3 150.9h1.5M91.1 168h1.5M107 156.7h1.5M102.3 162.7h1.5M93.8 160.2h1.5M94.3 153.8h1.5M105.3 164.1h1.5M96.1 159.1h1.5M102 170h1.5M103.2 151.6h1.5M91.7 158.2h1.5M93.9 160.7h1.5M94.3 160h1.5M86.6 165.2h1.5M97.5 164.7h1.5M93 166.1h1.5M94 157.4h1.5M91.4 155.3h1.5M98.5 152.2h1.5M95.9 171.4h1.5M102.7 170.4h1.5M86.5 163h1.5M100.9 152.6h1.5M91.6 155.9h1.5M101.4 164h1.5M94.6 153.2h1.5M98.5 151.8h1.5M97 156.1h1.5M92.1 155.1h1.5M92.1 158.5h1.5M94.1 160h1.5M93.9 164.1h1.5M92.9 156.5h1.5M93.3 166.3h1.5M101.2 159h1.5M101.1 154.9h1.5M101.2 149.8h1.5M98 160.4h1.5M99.6 160.5h1.5M94.2 159.7h1.5M97.9 166.1h1.5M97.4 164.2h1.5M104.5 163.3h1.5M92.9 166.4h1.5M101.8 159.1h1.5M86.2 157.8h1.5M101.3 148.8h1.5M100.5 165.5h1.5M100.8 158.8h1.5M90.6 164.8h1.5M104.9 155.3h1.5M105.5 157.3h1.5M103.4 164h1.5M95.9 156.8h1.5M90.5 163.2h1.5M95.9 152.5h1.5M95.3 149.2h1.5M101.3 156.7h1.5M100.5 157.8h1.5M107.5 153.4h1.5M93 152.7h1.5M85.5 166.9h1.5M98.5 150h1.5M90.3 157.5h1.5M103.2 164.3h1.5M96.3 167.8h1.5M96.3 166.1h1.5M104.6 161.8h1.5M104 161.7h1.5M88.1 154.3h1.5M96.8 159.8h1.5M96.3 159.8h1.5M100 154.6h1.5M98.9 168.7h1.5M91.9 168.7h1.5M92.1 152.9h1.5M95.5 161.6h1.5M91.1 150.6h1.5M97.6 170.8h1.5M91.6 161.1h1.5M94.2 155.6h1.5M88.5 169.7h1.5M92.6 164.4h1.5M103.8 155.1h1.5M99 160.7h1.5M90.5 156.8h1.5M97.4 161h1.5M100.9 161.2h1.5M90.3 161.7h1.5M102.4 152.2h1.5M100.2 156.3h1.5M95.3 152.6h1.5M95.7 170.1h1.5M100.1 159.4h1.5M98.6 167.6h1.5M102 153.4h1.5M100.5 165.3h1.5M91.5 157.1h1.5M92.1 162.8h1.5M102.6 148.7h1.5M100.3 166.9h1.5M93.5 164.4h1.5M89.7 154.9h1.5M102.4 164.6h1.5M104.2 163.1h1.5M105.3 147.2h1.5M102.1 166.5h1.5M99.1 151.6h1.5M92.6 169.5h1.5M96.8 154.9h1.5M96.7 162h1.5M101.5 165.3h1.5M102.7 154.9h1.5M94 157.4h1.5M98.9 165.5h1.5M95.9 168h1.5M96 153.1h1.5M92.9 167.3h1.5M99.5 160.4h1.5M96.7 150.6h1.5M94.4 145.2h1.5M93.9 159.4h1.5M99.2 167.2h1.5M92.1 159.3h1.5M129.6 129.9h1.5M124.3 138.9h1.5M128.3 154.8h1.5M136.5 151.6h1.5M123.9 162.2h1.5M131 163h1.5M125.3 142.4h1.5M129 156.2h1.5M128.8 147.9h1.5M123.3 159.7h1.5M123.8 158.9h1.5M140.4 143h1.5M135.4 151.8h1.5M111.4 145.2h1.5M129.1 147.7h1.5M135.1 145.8h1.5M133.5 140.1h1.5M120.2 161.1h1.5M129.1 153.1h1.5M117.9 160.9h1.5M119.1 140.5h1.5M125.3 131.1h1.5M128.6 143.9h1.5M139.6 148.7h1.5M129.9 158h1.5M135.3 160.6h1.5M117.8 162.2h1.5M123.4 157.4h1.5M140.7 151.3h1.5M116.8 142.8h1.5M114.9 157h1.5M126.5 145.3h1.5M136.4 142.4h1.5M114.5 156h1.5M125.2 152.4h1.5M116.6 158.6h1.5M138.4 143.2h1.5M132.5 161.7h1.5M129.3 153.8h1.5M126.8 148.6h1.5M125.3 142.8h1.5M128.2 139.7h1.5M122.1 136.9h1.5M120.3 164h1.5M118.5 136.3h1.5M127.2 156.4h1.5M120.9 147.8h1.5M133.9 144.6h1.5M110.8 145.6h1.5M131.5 149.3h1.5M131.3 159.1h1.5M136.6 155.8h1.5M125.1 150.2h1.5M115.4 136.8h1.5M119.9 132.8h1.5M135.9 168.6h1.5M124.7 140.4h1.5M123.9 134.9h1.5M122.6 161.3h1.5M126.6 135.5h1.5M125.3 157.5h1.5M115 159.4h1.5M122.4 152.7h1.5M134.9 159.7h1.5M126.1 138.2h1.5M123.1 148.3h1.5M137.6 150.2h1.5M125.7 149.4h1.5M117.9 154.8h1.5M126.1 143h1.5M139.2 154.2h1.5M123.3 148h1.5M131.3 158.2h1.5M136 151h1.5M129.1 155.9h1.5M129.1 141.4h1.5M119.4 159.1h1.5M124.6 153.6h1.5M124.6 152.7h1.5M99.1 159.2h1.5M133.7 139.1h1.5M127 155.8h1.5M125.5 154.7h1.5M124.3 165.8h1.5M127.3 132.5h1.5M129 149.3h1.5M128 146.2h1.5M128 145.9h1.5M127.3 167.7h1.5M126 151.3h1.5M117.1 143.2h1.5M129.8 144.4h1.5M137.3 146.3h1.5M133.8 141.9h1.5M124.4 142.3h1.5M122.9 151.9h1.5M122.7 150.6h1.5M129.8 154.9h1.5M121.9 150.5h1.5M122.9 138.3h1.5M107.6 157.5h1.5M120.4 152.6h1.5M121 144.5h1.5M122.9 147.5h1.5M136.5 153.4h1.5M116.5 151h1.5M116.7 148.9h1.5M131.7 157.7h1.5M119.4 160.6h1.5M125.8 147.1h1.5M128.4 150h1.5M127.2 139.3h1.5M121 148.5h1.5M134.2 154.9h1.5M138.7 158.7h1.5M119.2 151.8h1.5M124.9 149.3h1.5M134.4 143.2h1.5M125.4 152.3h1.5M119.3 139.5h1.5M123.7 151.4h1.5M133.5 150.4h1.5M119.3 141.3h1.5M129 153.4h1.5M130 148.1h1.5M122 156.1h1.5M131.4 145.4h1.5M132.2 154.9h1.5M134.8 165.5h1.5M134.3 151.9h1.5M115.5 157.9h1.5M134 143.9h1.5M131.6 146.7h1.5M120.4 148.7h1.5M134.1 139.1h1.5M129.9 151.3h1.5M118 130h1.5M136.9 141.7h1.5M121 151h1.5M119.2 154h1.5M130.1 133.9h1.5M122.4 146.1h1.5M129.9 175.3h1.5M125.1 157.9h1.5M129.3 151.7h1.5M126.8 141.1h1.5M133.8 155.3h1.5M133.6 152.5h1.5M120.6 154.6h1.5M133.7 159.5h1.5M131.9 151.1h1.5M128.1 158.5h1.5M139.9 174.7h1.5M133 147.2h1.5M115.7 143.8h1.5M130.5 164.8h1.5M126.1 156.1h1.5M125 159.7h1.5M129.8 144.1h1.5M124.5 152.9h1.5M139.7 157.1h1.5M129.2 139h1.5M127.2 148h1.5M133.2 147.7h1.5M133.3 147.3h1.5M136.3 143.3h1.5M132 137.8h1.5M126.8 154.3h1.5M128.2 152.5h1.5M110.4 161.4h1.5M115.7 149.4h1.5M135.2 143.6h1.5M124.6 135.9h1.5M141.2 150.9h1.5M141.1 147.1h1.5M129.5 172.5h1.5M149.5 165.5h1.5M121 141.3h1.5M130.2 136.4h1.5M125.3 147.8h1.5M125.3 141.4h1.5M125 164h1.5M127 151.2h1.5M133 146.1h1.5M120.9 150h1.5M131 162.4h1.5M121.7 140.9h1.5M131.2 154.9h1.5M129.6 137.1h1.5M121.1 148.1h1.5M128.2 143.6h1.5M121.4 153.2h1.5M120.6 151.6h1.5M136.2 161.8h1.5M113 156.8h1.5M131.5 144.2h1.5M132.6 137.1h1.5M122.5 142.1h1.5M135.6 145.9h1.5M134.2 147.8h1.5M117.1 142.7h1.5M131.2 160.7h1.5M130.8 159.2h1.5M121.4 147.4h1.5M131.6 145.2h1.5M133 147.8h1.5M121.5 149.6h1.5M111.7 149.9h1.5M130.3 134.2h1.5M121.4 145.9h1.5M113.8 131.7h1.5M124.2 150.4h1.5M108.6 156.7h1.5M124.5 139.7h1.5M138.8 151.7h1.5M105 144.1h1.5M130.7 143.3h1.5M123.9 158.8h1.5M120.1 154.8h1.5M132.1 145.8h1.5M127.1 154.1h1.5M121.1 148.2h1.5M117 154.5h1.5M123.8 141.3h1.5M136.1 149.4h1.5M117.7 146.2h1.5M130.4 136.2h1.5M129.8 166.6h1.5M111.6 158h1.5M135.7 142.3h1.5M126.8 135.7h1.5M144.5 142.9h1.5M140.7 141.8h1.5M125.2 144.1h1.5M125.9 135.2h1.5M119.3 141.9h1.5M116.4 150.7h1.5M133.3 154.1h1.5M125.2 130.6h1.5M124 150h1.5M125.8 140.4h1.5M132.4 139.8h1.5M134.5 146.9h1.5M127.1 143.3h1.5M125.6 156.9h1.5M127.9 156.9h1.5M143.3 147h1.5M141.3 165.5h1.5M146.3 167.4h1.5M150.1 173.7h1.5M156.4 186.4h1.5M140.4 177.1h1.5M142.6 159.1h1.5M146.9 183.4h1.5M151.8 183.2h1.5M154.2 185h1.5M152.9 183.1h1.5M143.1 140.6h1.5M131.1 166.1h1.5M152.9 178.1h1.5M142 147.8h1.5M135.5 165.6h1.5M138.3 161.4h1.5M140.9 152.5h1.5M152.2 174.2h1.5M137.2 157.3h1.5M149.9 166.3h1.5M142.4 181.6h1.5M144.7 176h1.5M130.6 167.3h1.5M139.4 153.7h1.5M151.2 187.5h1.5M149.6 160.1h1.5M147.3 158.7h1.5M124.9 138.3h1.5M154.4 183.2h1.5M152.4 180.5h1.5M150.5 176.2h1.5M145.7 167.7h1.5M143 169.5h1.5M151.8 191.5h1.5M140.3 175h1.5M140.1 178.2h1.5M147.6 178.2h1.5M146.4 159.7h1.5M134.3 145.3h1.5M128.2 175.3h1.5M135.9 148.9h1.5M149.5 178.8h1.5M151.7 174.9h1.5M140.8 144.2h1.5M143 162.9h1.5M142.8 179.4h1.5M158.3 174.4h1.5M122.3 157.4h1.5M139.1 151.4h1.5M156.9 191.1h1.5M147.6 184.7h1.5M143.6 170.8h1.5M150.6 178.1h1.5M146 169.9h1.5M131.3 148.9h1.5M145.4 176.6h1.5M151.5 185.6h1.5M143.3 156.6h1.5M129 144.6h1.5M135.7 153.5h1.5M140.1 142.2h1.5M149.1 173.9h1.5M144.8 151.8h1.5M141.7 166h1.5M152.7 182.6h1.5M140.2 165.3h1.5M153.5 189.2h1.5M144 165.3h1.5M152.9 183.5h1.5M126.1 151.1h1.5M146.3 177.4h1.5M136.7 155.2h1.5M134.4 150.7h1.5M138 153.2h1.5M136.6 153.3h1.5M135.3 151.9h1.5M133.1 146.7h1.5M143.9 172.6h1.5M150.3 164.2h1.5M131.9 168.9h1.5M147.4 168.7h1.5M132.9 146.7h1.5M132.3 154.3h1.5M142.9 142.6h1.5M159.5 185.3h1.5M129.5 159.3h1.5M140.4 163.2h1.5M148.8 159.3h1.5M130 140h1.5M149.9 180.7h1.5M144.6 174.3h1.5M156.8 182.4h1.5M136.5 158.5h1.5M140.6 175.7h1.5M158.3 179h1.5M156.1 185.7h1.5M159.6 183.2h1.5M131.7 157.3h1.5M141.4 164h1.5M127.7 152.2h1.5M140.6 154.9h1.5M153.5 182h1.5M143.5 183.5h1.5M147.4 189.6h1.5M121.1 165.5h1.5M131.5 142.4h1.5M146.4 169.8h1.5M130.6 156.8h1.5M138.2 154.2h1.5M145 163.6h1.5M145.1 158.6h1.5M153.7 177.9h1.5M148.2 190.4h1.5M138.6 140.1h1.5M149.2 164.6h1.5M141.9 165.4h1.5M144.6 169.2h1.5M136.7 167h1.5M153.2 189.9h1.5M147.1 186.1h1.5M135.9 159.2h1.5M142.9 151.7h1.5M151 190h1.5M146.2 158.8h1.5M149.6 165.6h1.5M135.6 156.2h1.5M153.6 185.2h1.5M136.5 143.2h1.5M140.7 159.6h1.5M129.5 137.6h1.5M145.1 174.4h1.5M147.3 179.3h1.5M135.2 156.5h1.5M154.6 174.5h1.5M140.2 156h1.5M134.3 156h1.5M141 163.8h1.5M148.8 188.2h1.5M137.6 151.1h1.5M127.9 143.1h1.5M136.4 143h1.5M135.2 146.5h1.5M153 176.2h1.5M141.7 180.2h1.5M136.8 162.2h1.5M126.6 145.2h1.5M155.1 188.7h1.5M134.1 158.2h1.5M134.1 154.6h1.5M145.8 178.8h1.5M150 168.7h1.5M149.9 165.6h1.5M143.9 182.7h1.5M154.7 187h1.5M149.1 183.1h1.5M142.7 164.3h1.5M153.1 173.5h1.5M143.9 154.7h1.5M145.3 170.6h1.5M153.1 178.5h1.5M149 184.1h1.5M148.7 178.2h1.5M135.9 166.9h1.5M142.1 180.2h1.5M141.5 159.9h1.5M144.9 166h1.5M147.2 158.5h1.5M140.6 183.1h1.5M132.7 153.9h1.5M128.5 131.7h1.5M135.2 149.3h1.5M128.6 149.1h1.5M143 152.7h1.5M134 150.5h1.5M143.7 142.3h1.5M148.5 177.5h1.5M139.3 145.9h1.5M155.6 188.7h1.5M130.1 148.6h1.5M148.1 181.4h1.5M143.2 155.2h1.5M156.9 185.4h1.5M158.6 177.6h1.5M144.9 180.2h1.5M144 157.2h1.5M127.5 152.3h1.5M149.4 183.2h1.5M147.2 187.9h1.5M146.6 169.7h1.5M144.2 164h1.5M151.5 178.9h1.5M151.2 191.7h1.5M140.1 150.5h1.5M148.6 174.7h1.5M152.6 183h1.5M127.2 140.6h1.5M153.2 179.9h1.5M153.5 181.1h1.5M142.7 149.3h1.5M140 159.9h1.5M140.7 162.2h1.5M158.1 188h1.5M156.5 176.9h1.5M158.4 187.4h1.5M152.1 170.8h1.5M149.5 191.5h1.5M155.9 173.2h1.5M128.6 171.8h1.5M153.5 181.2h1.5M144.8 174.9h1.5M135.6 163.7h1.5M141.3 139.8h1.5M146.9 185.8h1.5M136.1 166.4h1.5M91 152.5h1.5M125.9 166.8h1.5M97.2 145.1h1.5M153.2 182.7h1.5M139.7 173h1.5M127.2 175.5h1.5M90.2 163.3h1.5M126.4 173.1h1.5M101.1 145.9h1.5M157 176.3h1.5M142.2 147.7h1.5M113.7 137.9h1.5M120.7 136.1h1.5M131 133.4h1.5M131.8 145.9h1.5M96.1 159.7h1.5M122.5 164h1.5M112.9 130.9h1.5M141.3 157.5h1.5M85.9 165.4h1.5M125.8 145.4h1.5M142.2 150.3h1.5M126.9 172.8h1.5M148.3 186.7h1.5M126.4 139.2h1.5M125.7 169.1h1.5M110.8 129.6h1.5" stroke="#000" stroke-width="1.5" fill="none"/><path d="M123.5 57.8h1.3M118.2 56.9h1.3M101.2 61.4h1.3M124 58.3h1.3M117.8 56.8h1.3M96 84.9h1.3M93.8 66.5h1.3M138.3 49.3h1.3M140.7 60.4h1.3M135.7 61.1h1.3M109.3 56.9h1.3M150.6 67.4h1.3M86.9 88.8h1.3M91.4 76.1h1.3M90.8 71.3h1.3M160.8 68.4h1.3M95.8 83.8h1.3M137.6 58.7h1.3M122 54.8h1.3M129 57.8h1.3M141.2 70.3h1.3M89.1 96.8h1.3M148 87.6h1.3M94 77.5h1.3M86 66.9h1.3M97.3 89.5h1.3M89.7 106.8h1.3M143.3 78.7h1.3M137.1 94.9h1.3M149.8 94.7h1.3M146.4 71.1h1.3M138.1 105.9h1.3M154.6 73.8h1.3M156 58.1h1.3M139.4 92.4h1.3M136.8 48.2h1.3M165.6 77.9h1.3M146.1 101.8h1.3M139.2 110.2h1.3M153.2 62.8h1.3M143 93.1h1.3M148.9 89.1h1.3M163.9 99.4h1.3M145.2 95.2h1.3M157 109.8h1.3M128.3 57.2h1.3M144.2 114.2h1.3M151.3 72.8h1.3M148.9 66.6h1.3M145.4 106.2h1.3M149.4 53.2h1.3M167.3 99.3h1.3M135.4 87.6h1.3M147.2 84.7h1.3M140.7 60.7h1.3M155.1 106.5h1.3M141.3 101h1.3M146.3 111.1h1.3M151.9 88.8h1.3M152 90.8h1.3M135.9 61.9h1.3M138.9 63.1h1.3M137.7 109.6h1.3M155.6 94.6h1.3M134.1 117.3h1.3M151.1 73.7h1.3M143.4 61.1h1.3M136.9 116.9h1.3M145 74.4h1.3M146.8 68.8h1.3M161.5 67.9h1.3M141.4 96.6h1.3M155.1 62.2h1.3M154.9 105.3h1.3M148.3 76.2h1.3M151 72.9h1.3M152.6 78h1.3M152.5 89.5h1.3M144.7 98.3h1.3M136 58.6h1.3M143.9 69.7h1.3M163.2 71.5h1.3M161.9 92.7h1.3M146.1 65.5h1.3M149.7 105.2h1.3M109.4 113.5h1.3M107.6 110.3h1.3M106.3 118.5h1.3M96.1 98h1.3M111.5 115.8h1.3M103.2 100.5h1.3M89.3 102.7h1.3M111.8 110.5h1.3M90.4 103.9h1.3M113.5 114h1.3M135.2 107.7h1.3M95.4 94.9h1.3M141 97.8h1.3M112.6 118.7h1.3M107 122.7h1.3M96.9 111h1.3M112 105.9h1.3M110.4 110.5h1.3M102.1 110.6h1.3M116.7 122h1.3M97.4 111.2h1.3M96.2 107.9h1.3M128.5 114.3h1.3M100.3 119.8h1.3M126.3 110.7h1.3M103.1 129.4h1.3M110.4 122.5h1.3M129.1 124.3h1.3M132.9 118.5h1.3M107.8 127h1.3M106.4 119.1h1.3M103.1 122.6h1.3M102.3 133.3h1.3M98.5 139h1.3M85.8 152.2h1.3M106.8 169h1.3M132.8 169.5h1.3M145.9 152h1.3M118.2 165.3h1.3M138.4 136.6h1.3M132.5 129.3h1.3M124.5 170.6h1.3M116.9 171.7h1.3M115.5 174.8h1.3M134.6 131.7h1.3M133.4 123.2h1.3M135.7 132.6h1.3M117.4 169.8h1.3M120 169.3h1.3M146.5 147.1h1.3M160.1 174.6h1.3M160.7 185.1h1.3M161.6 178.2h1.3M158.8 182.2h1.3M139.3 169.2h1.3M139.5 170.8h1.3M133.5 181.9h1.3M132.3 173.4h1.3M145.9 142.4h1.3M149.7 160.9h1.3M156.8 161.8h1.3M150.4 149.3h1.3M157.4 191.4h1.3M137.4 179.6h1.3M165.9 177.6h1.3M135.2 174.8h1.3M153.1 196.3h1.3M138.6 184.1h1.3M162.2 194.4h1.3M135.9 135.9h1.3M134.8 183.4h1.3M152.4 171h1.3M154.3 194.9h1.3M152 156h1.3M159.8 200h1.3M112.2 127h1.3M124.5 183.4h1.3M102.2 177.4h1.3M165 159.6h1.3M86.9 129.8h1.3M116.7 186.1h1.3M96.6 138.8h1.3M168.8 132.9h1.3M149.7 143.3h1.3M98.3 198.6h1.3M155.4 142.7h1.3M98.9 181.1h1.3M162.8 150.7h1.3M112.3 190.5h1.3M149.5 123.7h1.3M88.4 182h1.3M92.6 143.3h1.3M79.1 192.4h1.3M111.6 163.8h1.3M133.3 172.6h1.3M84.5 142.4h1.3M91.3 137.2h1.3M149.7 139.9h1.3M87 145.6h1.3M76.7 153.5h1.3M134.8 178.3h1.3M109.9 125.5h1.3M155 147.9h1.3M148.9 148.3h1.3M118.7 192.3h1.3M108.7 128.5h1.3M83.6 172.9h1.3M145.1 195.9h1.3M133.5 187.1h1.3M141.5 200.4h1.3M142.5 192h1.3M158.3 171.2h1.3M161.7 150.1h1.3M156.1 161.6h1.3M93.3 189.1h1.3M143.7 123h1.3M126.5 186.9h1.3" stroke="#111" stroke-width="1.3" fill="none"/><rect x="39" y="27.5" width="193.5" height="192.5" fill="none" stroke="#000" stroke-width="1.7"/><rect x="55.5" y="40.5" width="163.5" height="161" fill="none" stroke="#000" stroke-width="1.3"/><path d="M55.5 201.5v4.2M55.5 201.5h-4.2M67.8 201.5v2.6M55.5 189.4h-2.6M75 201.5v2.6M55.5 182.3h-2.6M80.1 201.5v2.6M55.5 177.3h-2.6M84.1 201.5v2.6M55.5 173.4h-2.6M87.3 201.5v2.6M55.5 170.2h-2.6M90 201.5v2.6M55.5 167.5h-2.6M92.4 201.5v2.6M55.5 165.2h-2.6M94.5 201.5v2.6M55.5 163.1h-2.6M96.4 201.5v4.2M55.5 161.2h-4.2M108.7 201.5v2.6M55.5 149.1h-2.6M115.9 201.5v2.6M55.5 142h-2.6M121 201.5v2.6M55.5 137h-2.6M124.9 201.5v2.6M55.5 133.1h-2.6M128.2 201.5v2.6M55.5 129.9h-2.6M130.9 201.5v2.6M55.5 127.2h-2.6M133.3 201.5v2.6M55.5 124.9h-2.6M135.4 201.5v2.6M55.5 122.8h-2.6M137.2 201.5v4.2M55.5 121h-4.2M149.6 201.5v2.6M55.5 108.9h-2.6M156.8 201.5v2.6M55.5 101.8h-2.6M161.9 201.5v2.6M55.5 96.8h-2.6M165.8 201.5v2.6M55.5 92.9h-2.6M169.1 201.5v2.6M55.5 89.7h-2.6M171.8 201.5v2.6M55.5 87h-2.6M174.2 201.5v2.6M55.5 84.7h-2.6M176.3 201.5v2.6M55.5 82.6h-2.6M178.1 201.5v4.2M55.5 80.8h-4.2M190.4 201.5v2.6M55.5 68.6h-2.6M197.6 201.5v2.6M55.5 61.5h-2.6M202.7 201.5v2.6M55.5 56.5h-2.6M206.7 201.5v2.6M55.5 52.6h-2.6M209.9 201.5v2.6M55.5 49.4h-2.6M212.7 201.5v2.6M55.5 46.7h-2.6M215 201.5v2.6M55.5 44.4h-2.6M217.1 201.5v2.6M55.5 42.3h-2.6M219 201.5v4.2M55.5 40.5h-4.2" stroke="#000" stroke-width="1.1" fill="none"/><text x="46.5" y="212.9" font-family="Liberation Mono" font-size="10" stroke="#000" stroke-width="0.35">10<tspan font-size="7" dy="-2.4">0</tspan></text><text transform="translate(51.7,210.5) rotate(-90)" font-family="Liberation Mono" font-size="10" stroke="#000" stroke-width="0.35">10<tspan font-size="7" dy="-2.4">0</tspan></text><text x="87.4" y="212.9" font-family="Liberation Mono" font-size="10" stroke="#000" stroke-width="0.35">10<tspan font-size="7" dy="-2.4">1</tspan></text><text transform="translate(51.7,170.2) rotate(-90)" font-family="Liberation Mono" font-size="10" stroke="#000" stroke-width="0.35">10<tspan font-size="7" dy="-2.4">1</tspan></text><text x="128.2" y="212.9" font-family="Liberation Mono" font-size="10" stroke="#000" stroke-width="0.35">10<tspan font-size="7" dy="-2.4">2</tspan></text><text transform="translate(51.7,130) rotate(-90)" font-family="Liberation Mono" font-size="10" stroke="#000" stroke-width="0.35">10<tspan font-size="7" dy="-2.4">2</tspan></text><text x="169.1" y="212.9" font-family="Liberation Mono" font-size="10" stroke="#000" stroke-width="0.35">10<tspan font-size="7" dy="-2.4">3</tspan></text><text transform="translate(51.7,89.8) rotate(-90)" font-family="Liberation Mono" font-size="10" stroke="#000" stroke-width="0.35">10<tspan font-size="7" dy="-2.4">3</tspan></text><text x="210" y="212.9" font-family="Liberation Mono" font-size="10" stroke="#000" stroke-width="0.35">10<tspan font-size="7" dy="-2.4">4</tspan></text><text transform="translate(51.7,49.5) rotate(-90)" font-family="Liberation Mono" font-size="10" stroke="#000" stroke-width="0.35">10<tspan font-size="7" dy="-2.4">4</tspan></text><line x1="122.6" y1="40.5" x2="122.6" y2="201.5" stroke="#000" stroke-width="1.2"/><line x1="55.5" y1="128.3" x2="219" y2="128.3" stroke="#000" stroke-width="1.2"/><path d="M319 83.3h1.5M327.3 68.4h1.5M311.7 95.5h1.5M311.4 67.5h1.5M315.9 70h1.5M309.4 71.9h1.5M308.7 86.1h1.5M308.4 85.9h1.5M329.4 85.6h1.5M315.1 70.3h1.5M312.1 94.5h1.5M306.9 74h1.5M326.1 62h1.5M302.2 85.3h1.5M312.3 93.4h1.5M316.5 76.4h1.5M327.3 82.7h1.5M316.7 81.9h1.5M319.2 88.7h1.5M310 70.3h1.5M320.8 83.5h1.5M322.4 69.7h1.5M315.5 90.1h1.5M326.2 84h1.5M315.4 72.5h1.5M318.7 79.7h1.5M331.6 83.6h1.5M318.6 72.5h1.5M325.6 78.3h1.5M330.2 82h1.5M327.8 84.5h1.5M311.7 95.4h1.5M333.7 75.6h1.5M339 78h1.5M329.4 73.8h1.5M317.4 88.8h1.5M312.8 92.7h1.5M316.4 68h1.5M315.4 75.1h1.5M334.8 86.8h1.5M308.9 75.7h1.5M313.6 95.7h1.5M333.2 78.2h1.5M324.6 72.1h1.5M309 98.2h1.5M299.6 76.4h1.5M310.1 76h1.5M331.7 96h1.5M325.5 98.8h1.5M316.7 82h1.5M329.2 59.8h1.5M319.6 71.2h1.5M304.9 77.7h1.5M316.7 88.9h1.5M321.4 96.1h1.5M324.8 96.2h1.5M318.9 81.8h1.5M300.9 98.9h1.5M314.9 91.7h1.5M323.8 100h1.5M318.1 75.1h1.5M317.8 77.9h1.5M319.6 77.9h1.5M325.2 84.7h1.5M308.1 86.3h1.5M328.7 93.1h1.5M319.3 69.9h1.5M304.8 89.1h1.5M328.1 71h1.5M322.1 73.9h1.5M312.8 78.1h1.5M333.6 78.3h1.5M320.6 62.1h1.5M335.8 74.2h1.5M320.6 72h1.5M330.9 73.5h1.5M307.1 93.2h1.5M319.1 80.3h1.5M316.1 84.9h1.5M306.7 86.2h1.5M316.3 75h1.5M311.2 73.9h1.5M312.8 96.5h1.5M315.2 68.2h1.5M317.8 91.3h1.5M307.4 63.2h1.5M316.6 96.7h1.5M315.7 67.2h1.5M317.4 78.1h1.5M298.2 85.9h1.5M322.4 88.4h1.5M326.1 76.5h1.5M303.7 93.4h1.5M334.9 75.5h1.5M324.1 83.6h1.5M309.9 94.2h1.5M311.3 68.9h1.5M316.5 92.9h1.5M328.4 82.5h1.5M312.4 98.6h1.5M311.3 93.5h1.5M328 94.3h1.5M313.9 98.2h1.5M308.1 88.5h1.5M306.2 88.2h1.5M308.8 79.8h1.5M324.1 70.9h1.5M324.4 67.8h1.5M301.2 70.4h1.5M315.1 98.2h1.5M317.3 74.1h1.5M304.3 98.2h1.5M317.9 89.7h1.5M307.3 80.7h1.5M331.7 90.1h1.5M305.7 81h1.5M329.5 95.1h1.5M328.8 83.7h1.5M335.5 78.7h1.5M310.8 90.4h1.5M334.3 80.2h1.5M335.8 92.2h1.5M319.2 94.3h1.5M322.4 86.3h1.5M321.4 74.5h1.5M331.9 84.9h1.5M313.4 77.5h1.5M312.7 90h1.5M310.7 72.4h1.5M308.7 73.3h1.5M314.6 81.1h1.5M305.6 87.2h1.5M321.1 70.4h1.5M332.4 80.5h1.5M323.4 87h1.5M330.2 74.6h1.5M309.4 88.1h1.5M320.2 60.7h1.5M306.7 80h1.5M317.9 80.2h1.5M326.8 81h1.5M326.5 87h1.5M308.3 76.5h1.5M327.9 65.2h1.5M332.2 82.6h1.5M319.1 68.1h1.5M305.4 74.9h1.5M319.1 84.7h1.5M322.4 94.5h1.5M317.9 65.1h1.5M324.2 65.4h1.5M309 79.3h1.5M326.7 69.6h1.5M323.9 74.1h1.5M318.8 78.9h1.5M313 94.9h1.5M311.7 88.1h1.5M316.7 86.1h1.5M329 91.9h1.5M323.3 87.8h1.5M324.2 84.1h1.5M326.3 68.6h1.5M309.4 78.2h1.5M328.4 78.4h1.5M329.1 80.6h1.5M314.1 81.9h1.5M314.9 88.5h1.5M319.5 71.7h1.5M320.5 76h1.5M303.4 82.9h1.5M299.8 88.9h1.5M312.3 83.5h1.5M310.3 92h1.5M322 79.8h1.5M323.8 92.6h1.5M335.9 72.1h1.5M309.3 83.1h1.5M328.3 92.3h1.5M329.5 64.7h1.5M318.9 82.5h1.5M317.3 71.6h1.5M326.3 73.8h1.5M312.4 85.2h1.5M322 59.5h1.5M322.9 86.9h1.5M337.8 87.6h1.5M309.7 64.2h1.5M309.6 84h1.5M318.2 65.2h1.5M303.1 86.6h1.5M316.5 82.9h1.5M312.3 93.9h1.5M315.4 98.7h1.5M320.4 78.7h1.5M325 75.8h1.5M320.6 95.3h1.5M328.3 94.5h1.5M317.9 63.9h1.5M317.2 97.8h1.5M321.4 79.6h1.5M307.1 81.8h1.5M325 94.5h1.5M330.5 83.6h1.5M311.4 80.1h1.5M313.8 93.1h1.5M334.1 77h1.5M321.4 91.7h1.5M306 95.2h1.5M332.6 88.8h1.5M315.8 82h1.5M333.9 81.4h1.5M314.8 91.4h1.5M319.3 92.4h1.5M321.2 66h1.5M333.2 87.4h1.5M324.8 80.1h1.5M322.7 92.1h1.5M332.5 63h1.5M305.7 86.6h1.5M314 63.9h1.5M318.9 80.9h1.5M314.4 66.1h1.5M308.6 71.6h1.5M327.7 70.3h1.5M326 76.4h1.5M337.3 79.9h1.5M324 71.6h1.5M327.2 65.2h1.5M307.2 87.5h1.5M323.5 63.2h1.5M318.4 68.5h1.5M305.1 84.2h1.5M317.5 91h1.5M320.6 81.4h1.5M305 73.6h1.5M307.4 73.5h1.5M305.5 83.6h1.5M321.4 74.7h1.5M317.3 87.4h1.5M324.3 85.2h1.5M328.1 75.5h1.5M326.7 82.1h1.5M322 88.2h1.5M326.9 89.2h1.5M318.4 78.4h1.5M307.7 91.1h1.5M307.8 82.4h1.5M303.4 97.4h1.5M307.4 81.3h1.5M329.3 80.9h1.5M317.6 89h1.5M307.7 83.4h1.5M304.4 77h1.5M312.1 89.1h1.5M329.3 83.1h1.5M303.5 72.3h1.5M301.5 96.7h1.5M324.6 76.3h1.5M321.6 91.3h1.5M302.6 76.9h1.5M335.7 74.7h1.5M304.2 73.7h1.5M337.8 77.5h1.5M298.7 80.2h1.5M310.4 84.5h1.5M311.9 75.3h1.5M312.6 87.8h1.5M303 93.6h1.5M338 84.5h1.5M330 99.1h1.5M317.7 62.9h1.5M321.4 79.1h1.5M312.5 88.8h1.5M312 84.4h1.5M312.8 89.6h1.5M322.1 84.5h1.5M319.2 74.5h1.5M314.1 68.5h1.5M307.8 87h1.5M317.3 76.7h1.5M325.8 77.8h1.5M322.2 60.7h1.5M331.4 83h1.5M332.2 77.5h1.5M335 83.5h1.5M324 89.4h1.5M310.9 85.1h1.5M330 78.2h1.5M328.7 70.2h1.5M311 93.5h1.5M318.8 76.5h1.5M304.6 69.9h1.5M320.7 81.3h1.5M331.3 93.3h1.5M319.3 66.4h1.5M302.1 82.7h1.5M328.3 74.5h1.5M324.5 95.1h1.5M332.4 78.5h1.5M300.6 77.7h1.5M322.9 61.7h1.5M310 90.2h1.5M329.2 71.5h1.5M323.9 69.3h1.5M316.1 72.7h1.5M329.5 77.9h1.5M328.7 95.3h1.5M316.1 96.3h1.5M326.1 78.1h1.5M334 69.8h1.5M329.4 74.4h1.5M309.1 76.6h1.5M311 91.9h1.5M312.4 97.2h1.5M308 74.1h1.5M320.9 87.3h1.5M323.2 96.6h1.5M313.1 59.5h1.5M321.7 88.2h1.5M313.2 66.2h1.5M319.5 91.2h1.5M299.5 72.4h1.5M327.6 66.3h1.5M307.5 84.9h1.5M308.7 97.4h1.5M310.4 69.9h1.5M307.1 83.6h1.5M306.5 76.5h1.5M321.2 85.4h1.5M316.3 68.2h1.5M320.5 70.9h1.5M308.5 87h1.5M303.5 80.9h1.5M315.2 90.3h1.5M321.2 90.8h1.5M302.9 87h1.5M312.8 89.7h1.5M328.2 85.9h1.5M327.1 65.3h1.5M303.9 66.3h1.5M334.4 91.7h1.5M318 78.1h1.5M298.3 81.8h1.5M313.5 85.5h1.5M316.7 74.9h1.5M326 72.2h1.5M330.7 87.8h1.5M317.1 82.1h1.5M329.7 80.8h1.5M306.1 89.1h1.5M328 65.5h1.5M318.1 97.1h1.5M323.1 67.4h1.5M330.5 87.3h1.5M326.4 62.7h1.5M325.8 71.8h1.5M304.8 90.7h1.5M327.1 62.5h1.5M310 72.5h1.5M303.4 74.9h1.5M304.4 93.8h1.5M308.9 70.6h1.5M316.2 78.1h1.5M322.2 86.2h1.5M311.7 73.4h1.5M315.5 63h1.5M311 79.4h1.5M317.6 82h1.5M313.4 100.1h1.5M324.6 75.8h1.5M315.4 85.1h1.5M312.5 89.5h1.5M314.5 75h1.5M312.1 80.8h1.5M328.9 83.6h1.5M313.5 67.8h1.5M307 71.3h1.5M320.8 89h1.5M308.4 87.2h1.5M322 83.1h1.5M329.9 93.4h1.5M324.9 83.9h1.5M316 77.6h1.5M331 87h1.5M322 95.6h1.5M312.1 84.6h1.5M313.5 99.7h1.5M327.3 92.9h1.5M311 84.8h1.5M329 77.6h1.5M309.7 88.2h1.5M319.4 76.6h1.5M323.7 71.3h1.5M329.8 89.3h1.5M303.3 93.8h1.5M307.8 94.2h1.5M320.2 66.2h1.5M318.1 75.6h1.5M307 76.5h1.5M319.1 75.3h1.5M334.6 78.8h1.5M320.7 84.1h1.5M313.9 86.4h1.5M304.2 71h1.5M319 75.9h1.5M320.6 67.9h1.5M326 92h1.5M330.3 83.8h1.5M317.3 94.3h1.5M307.6 73h1.5M322.6 92.3h1.5M310.1 68.9h1.5M303.1 94.8h1.5M322.6 91.7h1.5M315.8 83.3h1.5M302 95.9h1.5M317.3 66.6h1.5M312.6 70.2h1.5M328.9 84.7h1.5M327.7 88.8h1.5M318.3 64.9h1.5M319.9 77.1h1.5M319.5 69.7h1.5M319.3 90.8h1.5M335 79.7h1.5M307.3 80.4h1.5M327.7 76.6h1.5M302.3 82h1.5M302.6 73.1h1.5M333.8 69.7h1.5M307.4 95.8h1.5M331.4 87.9h1.5M335.8 81.7h1.5M320 84.4h1.5M324.7 96.5h1.5M307.8 84.9h1.5M315.7 81.8h1.5M307.7 86h1.5M318 90.3h1.5M323.2 86.2h1.5M307.9 86.5h1.5M324.9 71h1.5M326.7 66.4h1.5M326.7 67.7h1.5M322.9 65h1.5M309.8 80.5h1.5M307.2 86.4h1.5M329 91.9h1.5M303.3 69.6h1.5M298.7 84.5h1.5M311 84.8h1.5M325.7 81.4h1.5M323.1 87.1h1.5M314.5 74.7h1.5M308.4 92.6h1.5M317.1 73.9h1.5M326.1 84.6h1.5M309.6 79.4h1.5M319.5 65.4h1.5M321.3 82h1.5M325.3 83.4h1.5M331.3 76.9h1.5M307.5 69.9h1.5M299.8 87.4h1.5M319.3 86.3h1.5M314.8 101.5h1.5M325.7 72.6h1.5M308.9 66.7h1.5M329.7 74.5h1.5M335.7 71.7h1.5M325.2 82.5h1.5M315 72.7h1.5M334.3 87.1h1.5M307 81.1h1.5M309 65.9h1.5M307.7 84.2h1.5M314.2 89.5h1.5M314.6 68.9h1.5M323.2 77.4h1.5M311.7 98.9h1.5M316.7 65.7h1.5M314.2 75.1h1.5M330.7 66.9h1.5M313.4 74.3h1.5M326.7 86.6h1.5M327 64.7h1.5M326 94.4h1.5M305.7 82.2h1.5M302.8 87.2h1.5M298.6 71.5h1.5M301.3 79h1.5M324.2 92.1h1.5M322.5 66h1.5M335 85.6h1.5M314.9 69h1.5M331 72.5h1.5M322.8 74.3h1.5M329.3 94.6h1.5M298.9 89.8h1.5M313.8 93.5h1.5M321.6 64.7h1.5M317.5 91.7h1.5M325.3 75.7h1.5M308.7 92.4h1.5M321.9 89.8h1.5M328.5 92h1.5M311.2 68.5h1.5M317.1 90.5h1.5M335.7 87.1h1.5M330.3 85h1.5M323.3 74.3h1.5M312.1 88.5h1.5M321.7 85.5h1.5M311.2 84.4h1.5M338.4 81.1h1.5M308 90.4h1.5M325.8 86.1h1.5M317 86.4h1.5M323.4 68.1h1.5M304.4 87.9h1.5M308.4 69.1h1.5M317.5 88.2h1.5M333.9 90.5h1.5M318.8 92h1.5M332.2 91.4h1.5M307.5 88.5h1.5M311 73.2h1.5M317.8 97.6h1.5M306.3 81.1h1.5M306.5 90.9h1.5M313 67.5h1.5M317 76.7h1.5M333.3 70.4h1.5M306.1 77h1.5M319.9 75.1h1.5M317 92.2h1.5M309.6 91.6h1.5M320.7 73.9h1.5M323.2 70.7h1.5M320.5 85.7h1.5M324.4 67.7h1.5M311.6 89.8h1.5M308.5 73.4h1.5M303.9 71.6h1.5M313.5 94.8h1.5M304.8 80h1.5M307.9 95.9h1.5M314.6 78.5h1.5M316.8 68.4h1.5M311.5 80.3h1.5M321.8 70.7h1.5M308.7 87.5h1.5M318.6 78.8h1.5M303.5 81h1.5M318.2 90.8h1.5M316.7 76.3h1.5M321.2 94h1.5M307 81.5h1.5M323.5 83.4h1.5M299.9 78.8h1.5M307.7 81.5h1.5M305.6 72.5h1.5M322.3 80h1.5M312.1 98.8h1.5M311.6 69.6h1.5M308.9 83.3h1.5M326 96.8h1.5M309.3 72.8h1.5M304.7 72.1h1.5M312.7 90.4h1.5M313.8 77.1h1.5M304.3 66.6h1.5M322.7 81.3h1.5M316.1 81.9h1.5M326.8 72.8h1.5M306.2 73.6h1.5M306.5 91.5h1.5M329.2 79.3h1.5M302.6 76.6h1.5M316.3 80.6h1.5M320.1 72h1.5M325.7 71.4h1.5M314.1 65.4h1.5M308.6 79.7h1.5M298.4 79.2h1.5M306.7 78.7h1.5M309.9 87.6h1.5M305.8 93.3h1.5M323.9 78.4h1.5M332.5 75h1.5M322 74.9h1.5M328.4 78.9h1.5M320 80.2h1.5M313.6 60.7h1.5M326.8 71.8h1.5M306.6 76.1h1.5M326.7 88.1h1.5M318.9 68.5h1.5M300.5 85.1h1.5M325.8 85.3h1.5M303.5 77.9h1.5M314.4 73.3h1.5M321.1 65.4h1.5M337.7 70h1.5M324 77.7h1.5M322.3 69.6h1.5M325.8 88.1h1.5M299.9 79.1h1.5M305.6 84.7h1.5M311.2 79h1.5M320.4 83.5h1.5M324.8 59h1.5M310.5 79.8h1.5M305 86.3h1.5M327.6 71.1h1.5M311.4 97.9h1.5M308.2 87.1h1.5M306.7 78.2h1.5M302.2 73.4h1.5M318.6 95h1.5M293.9 82.1h1.5M306.3 90.6h1.5M311.2 63.7h1.5M314.2 96.6h1.5M315.6 78.1h1.5M300.1 81.8h1.5M327.4 83.7h1.5M315.6 87.8h1.5M321 61h1.5M308.9 74.8h1.5M302.9 82h1.5M324.1 84.9h1.5M306.8 81.2h1.5M313.8 83.3h1.5M320.2 90.7h1.5M314.7 71.2h1.5M328.8 64.6h1.5M308.8 86.8h1.5M329.4 86.1h1.5M308.9 77.9h1.5M314.6 83.7h1.5M315.9 64.1h1.5M312.3 65h1.5M309.7 96.2h1.5M317.9 62.1h1.5M303.3 85.1h1.5M312.3 74.9h1.5M331.3 74.8h1.5M324.4 93.8h1.5M321.7 68.2h1.5M331.6 69.7h1.5M311 70.4h1.5M321.1 72h1.5M314.6 80.3h1.5M329.6 89.5h1.5M333.3 84.2h1.5M313.3 88.4h1.5M323.7 75.5h1.5M309.1 78h1.5M303 87.8h1.5M310 79.1h1.5M317.3 59.7h1.5M316.7 91.4h1.5M325.6 75.1h1.5M328.6 81.9h1.5M312.2 65.4h1.5M320.2 83.6h1.5M327.6 86.2h1.5M312 78.2h1.5M304 79.5h1.5M322 68.8h1.5M316.9 64.3h1.5M323.2 73.6h1.5M327.1 71.8h1.5M330.9 68h1.5M324.2 75.7h1.5M313.6 86.9h1.5M320.3 78.1h1.5M322.4 75.1h1.5M324.4 101.6h1.5M326.2 89.6h1.5M301.2 89h1.5M310.6 66.6h1.5M317.1 96.4h1.5M314.5 81.9h1.5M324.8 76.2h1.5M311.3 80.5h1.5M331.1 95h1.5M320.3 89.5h1.5M325.6 83.2h1.5M316.3 91.6h1.5M318.5 90.6h1.5M319.1 95.8h1.5M318.4 89.7h1.5M322.2 80.7h1.5M324.1 64.5h1.5M326.7 69.2h1.5M308 87.8h1.5M327.9 81h1.5M312.5 82.7h1.5M299.2 76.6h1.5M329.4 65.1h1.5M319.8 79.7h1.5M326.6 77.7h1.5M318 94.8h1.5M334.6 80.9h1.5M298.7 84.3h1.5M315.4 87.3h1.5M307.6 88.6h1.5M319.6 89.8h1.5M332 76.4h1.5M311.2 66.8h1.5M319.4 102.5h1.5M334.8 80.4h1.5M329.7 89.6h1.5M331.4 80.4h1.5M325.8 70.9h1.5M330.7 84.9h1.5M333 68.7h1.5M320.5 72.8h1.5M332.8 85.7h1.5M315.2 72.3h1.5M324.6 84.7h1.5M303.4 73.2h1.5M332.1 72.4h1.5M313.3 93.5h1.5M327.8 90.5h1.5M313 83.2h1.5M307.6 78.7h1.5M323.4 91.3h1.5M307.8 88.9h1.5M307.4 87.8h1.5M314.4 97.9h1.5M316.9 89.4h1.5M326 66.6h1.5M307.8 82.4h1.5M312.2 88.9h1.5M302.3 83.8h1.5M309.7 78.8h1.5M321.1 76.6h1.5M304.9 94.9h1.5M319.3 63.4h1.5M338.8 86.5h1.5M311.5 73.8h1.5M309.2 70.5h1.5M333.3 68.5h1.5M308.3 82.6h1.5M324.9 79.9h1.5M326.6 64.3h1.5M310.4 81.2h1.5M334.9 83.5h1.5M310.6 64.8h1.5M319.6 87.4h1.5M331.6 82.2h1.5M302.5 86h1.5M314.2 72.3h1.5M302.3 70.6h1.5M315.7 71.6h1.5M308.2 77.9h1.5M311.4 93.4h1.5M331.1 88.8h1.5M317.8 87.8h1.5M316.2 67.4h1.5M336.9 72.8h1.5M332.3 75.6h1.5M327.9 70.7h1.5M325.7 70.2h1.5M305.4 86.6h1.5M323.1 60.4h1.5M308 90.7h1.5M311.5 69.1h1.5M336.4 75.4h1.5M315.2 75.3h1.5M308.9 81.4h1.5M299.6 78.9h1.5M319.8 88h1.5M304.2 81.8h1.5M317.7 70.4h1.5M317.2 63.3h1.5M324.2 77.8h1.5M321.9 69.7h1.5M311.9 71.9h1.5M310.7 86.8h1.5M314.4 69.5h1.5M305.5 75h1.5M309.9 82.2h1.5M318.8 73.2h1.5M322.8 64.2h1.5M317.5 71.5h1.5M325.2 91.6h1.5M315.1 103.7h1.5M319.1 75.7h1.5M306.7 83.6h1.5M336.8 85.4h1.5M311.8 72.7h1.5M330.6 90.6h1.5M334 72.9h1.5M315.7 78.8h1.5M318.7 71.2h1.5M317.1 88.5h1.5M324.4 58.7h1.5M317.5 86h1.5M333.4 81.3h1.5M311 75.1h1.5M329.5 63.9h1.5M321.1 60h1.5M334.6 86.1h1.5M302.4 87.7h1.5M302.8 74h1.5M315.7 98.2h1.5M310.6 83.3h1.5M324.3 77.7h1.5M296.3 87.9h1.5M306.3 92.9h1.5M311.3 82.3h1.5M311.3 92.9h1.5M309.4 94.4h1.5M313.9 73.3h1.5M319.7 85.7h1.5M334.5 73.7h1.5M304.8 73.3h1.5M313.7 85.6h1.5M323.5 59.4h1.5M335.6 70.8h1.5M315 71.9h1.5M316.5 97.8h1.5M314.8 80.6h1.5M317.4 93.9h1.5M334 84.3h1.5M299.7 76.6h1.5M327 84.1h1.5M318.4 68h1.5M309.1 85.4h1.5M317.2 69.2h1.5M301.9 71.1h1.5M307.6 102.5h1.5M305.9 81.1h1.5M330.4 78.4h1.5M325.4 79.9h1.5M317.1 97.9h1.5M313.2 75.7h1.5M315.7 69.8h1.5M326.7 77.2h1.5M319.5 95h1.5M324.8 79.8h1.5M317.4 73.5h1.5M316.7 79h1.5M307.3 86.7h1.5M326.5 89.1h1.5M323.5 71.1h1.5M314.6 91.2h1.5M297.8 80.1h1.5M316.6 64.9h1.5M318.4 93.5h1.5M328.6 86.8h1.5M334.6 78.6h1.5M324.6 75.3h1.5M331 72.4h1.5M320.2 69.7h1.5M321.3 72h1.5M313.8 87.5h1.5M328.1 79.5h1.5M312.7 74.8h1.5M326.7 89.8h1.5M310.8 99.1h1.5M314.5 92.9h1.5M318.2 75.7h1.5M310.9 70.3h1.5M296.6 79.5h1.5M309.4 86.9h1.5M306.1 73.4h1.5M334.9 87.7h1.5M318 90.2h1.5M331.9 90.4h1.5M324.8 84.5h1.5M303.9 95.5h1.5M326.6 90.3h1.5M328.8 67.1h1.5M332.5 78.5h1.5M324.4 74.9h1.5M313 66h1.5M309.2 87.2h1.5M315.3 86.7h1.5M321.1 68.9h1.5M320.3 92.1h1.5M316.2 66.8h1.5M318.8 83.5h1.5M312 59.8h1.5M299.6 89.5h1.5M328.7 73.3h1.5M300.5 76.3h1.5M300.7 78h1.5M328.5 94.5h1.5M318.7 74.1h1.5M336.2 77.1h1.5M338.6 71.9h1.5M321.5 89.3h1.5M336.8 69.6h1.5M326.9 87.5h1.5M323.3 83h1.5M321.3 94.7h1.5M311.4 63.9h1.5M313.7 62.1h1.5M329.7 77.9h1.5M309.9 96.7h1.5M317 93.7h1.5M329.6 84.5h1.5M332.9 82.6h1.5M311 92h1.5M314.8 92.2h1.5M299.6 81.2h1.5M306.8 73.8h1.5M309 79.9h1.5M307.6 92.6h1.5M325.1 81.3h1.5M329.1 82h1.5M334.2 78.9h1.5M309.2 70.3h1.5M335.7 93.4h1.5M305.7 86.8h1.5M327.7 85h1.5M325 87.8h1.5M311.1 67h1.5M308.2 80.9h1.5M312.9 78.6h1.5M303.1 76.3h1.5M311.9 71.8h1.5M335.7 71.8h1.5M324.7 93.9h1.5M313.5 67.9h1.5M335.6 70h1.5M304.7 72h1.5M317.6 73.6h1.5M332.6 86.1h1.5M323.8 81.1h1.5M327.8 74h1.5M321.5 90.5h1.5M328.7 86.8h1.5M305.6 84.2h1.5M304.7 87.2h1.5M320.4 70.3h1.5M326.7 92.4h1.5M332.6 91.2h1.5M334.2 78.1h1.5M314.7 67.6h1.5M311.6 80.7h1.5M315.5 77.2h1.5M328.7 92h1.5M329.7 91.9h1.5M316.1 74.3h1.5M320.5 71.4h1.5M321 98.7h1.5M322.7 86.2h1.5M312.4 76.6h1.5M314 61.7h1.5M315.6 81.3h1.5M322.9 90.1h1.5M308.7 70.9h1.5M311.1 78.3h1.5M310.4 94.4h1.5M311.9 65.3h1.5M301.2 78.6h1.5M315.1 78.6h1.5M309.7 86.1h1.5M326.1 90.8h1.5M315.5 84.7h1.5M328.2 83.8h1.5M312.1 83.4h1.5M332.5 75.8h1.5M323.7 76.5h1.5M322.5 71h1.5M325.6 80.7h1.5M320.4 89.3h1.5M319.5 69.6h1.5M333.5 74.2h1.5M315 76.8h1.5M309.9 91.7h1.5M299.8 88.8h1.5M298.2 79.8h1.5M306.5 86.9h1.5M323.2 68h1.5M311.3 75.2h1.5M327.2 83.5h1.5M315.4 85.9h1.5M335.1 74.7h1.5M326.8 91.5h1.5M319.3 61.3h1.5M324.5 78.9h1.5M317.1 88.6h1.5M331.2 77.1h1.5M324.2 71.7h1.5M321.6 77.1h1.5M306.3 87h1.5M312.4 97.2h1.5M326.8 58.6h1.5M333.9 71.2h1.5M332.9 77.3h1.5M319.6 77.3h1.5M334 84.8h1.5M305.4 93.9h1.5M327.3 66.5h1.5M322.3 100.9h1.5M322.8 83.9h1.5M322.8 66.6h1.5M312.3 61.7h1.5M324.8 78.2h1.5M315.5 74h1.5M304.1 79.7h1.5M334.8 86.1h1.5M308.5 74h1.5M298.2 88.6h1.5M311.4 102.1h1.5M307 88.6h1.5M326.6 83.4h1.5M332.4 64.3h1.5M310.7 84.1h1.5M324.1 78.3h1.5M310.6 67.1h1.5M311.8 81.3h1.5M327.2 89.9h1.5M312.9 78.6h1.5M313 94.9h1.5M325.2 72.9h1.5M323 89.2h1.5M319.7 66.9h1.5M323.4 78h1.5M316.7 71.2h1.5M307.6 85.7h1.5M299.2 84.4h1.5M302.9 83.5h1.5M325 84.1h1.5M300 79.1h1.5M327.5 74.8h1.5M319.4 70.7h1.5M313 99.7h1.5M320.1 67.6h1.5M311.5 74.8h1.5M305.4 73.8h1.5M327.7 68.7h1.5M333.6 91.7h1.5M329 84.6h1.5M299.2 79.3h1.5M314.2 84.7h1.5M321 85.4h1.5M327.7 93.3h1.5M333.1 73.9h1.5M318 78.6h1.5M327.5 82.9h1.5M326.5 78.8h1.5M320.7 75.9h1.5M322.4 90h1.5M332.2 83.4h1.5M300.3 91h1.5M310.9 90.9h1.5M311 92.8h1.5M309.2 77.7h1.5M337.8 93.2h1.5M305.6 88.4h1.5M320.4 81.4h1.5M317.8 84.6h1.5M313.8 70.2h1.5M314.2 96.7h1.5M324.1 98.5h1.5M313.5 91.1h1.5M331.8 74.4h1.5M321.1 89.6h1.5M315.2 93.1h1.5M317.4 75.2h1.5M318.7 74.1h1.5M317.3 69.4h1.5M302.6 92.4h1.5M320.5 81.3h1.5M309.5 71h1.5M303 87.7h1.5M318.3 74.2h1.5M303.4 97.4h1.5M325.5 75.1h1.5M300.3 85.7h1.5M329.1 85.5h1.5M321.6 64.3h1.5M326.8 73.3h1.5M315.1 91.7h1.5M330.2 85.9h1.5M308.1 83.4h1.5M337.1 74.9h1.5M323 83.6h1.5M304.8 82.1h1.5M314.6 60.3h1.5M313.3 93.4h1.5M319.9 94.2h1.5M306.9 94.6h1.5M338.4 73h1.5M302.5 71.3h1.5M309.7 85.7h1.5M302.9 81.4h1.5M321.1 83.5h1.5M334.4 69.5h1.5M312.9 78.2h1.5M315.4 68.5h1.5M321.6 87.8h1.5M311.1 86.3h1.5M326.2 94.4h1.5M329.2 89h1.5M310.2 66.1h1.5M307.5 85.2h1.5M316.2 80.8h1.5M304 81.5h1.5M331.7 88.2h1.5M322 85.8h1.5M300.4 75.9h1.5M317 100.7h1.5M307.7 71.6h1.5M304.3 75.8h1.5M319.8 78.6h1.5M316.2 81.3h1.5M300.6 87.6h1.5M307.7 86.8h1.5M321.9 95.5h1.5M325.3 87.4h1.5M318.6 75.6h1.5M304.6 76.8h1.5M307.9 84h1.5M314.1 69.7h1.5M330.1 78.3h1.5M308.6 84.6h1.5M318.6 64.4h1.5M310.9 81.8h1.5M321.4 72.5h1.5M326.9 81.4h1.5M316.9 74.9h1.5M323.1 89.8h1.5M312.1 77h1.5M330.8 68.5h1.5M305.7 85h1.5M326.5 94.7h1.5M328.6 68.1h1.5M323.8 92.6h1.5M316 80.1h1.5M317.3 78.2h1.5M305.1 92.4h1.5M311.4 69.7h1.5M327.6 75.3h1.5M327.6 69.5h1.5M310 66.7h1.5M320.4 64.2h1.5M330.2 76.1h1.5M315.9 87.3h1.5M309 80.9h1.5M305.4 94.9h1.5M318 77.6h1.5M327.4 65.6h1.5M302.8 90.5h1.5M322.5 70.6h1.5M318.8 91.8h1.5M311.2 69.5h1.5M331.2 81h1.5M331 66.1h1.5M306.5 93.1h1.5M322 76.8h1.5M328.9 100.5h1.5M319.5 85.7h1.5M324.4 98.3h1.5M325.9 91h1.5M339.3 80.7h1.5M307.7 64.1h1.5M317.3 86.6h1.5M305.6 87.9h1.5M326.9 93.6h1.5M309.4 84h1.5M313.8 90h1.5M327.8 69.7h1.5M321 82.6h1.5M328.2 89.6h1.5M320.7 97.1h1.5M309.2 95.8h1.5M333.9 70.6h1.5M320.6 86.1h1.5M324.1 66h1.5M311.9 73.2h1.5M331.7 70.7h1.5M315.7 70h1.5M325.3 74.3h1.5M333.9 87.4h1.5M312 68.9h1.5M309.8 98.1h1.5M308.2 99.3h1.5M329.3 86.8h1.5M332 84.1h1.5M304.9 70.2h1.5M330.1 95.4h1.5M311.8 80h1.5M318.3 99.2h1.5M302.5 77.3h1.5M303.7 81.9h1.5M330.2 83.9h1.5M321.3 65.4h1.5M306.5 68.5h1.5M300.7 91.6h1.5M307 79.8h1.5M302.3 71.1h1.5M320.7 93.8h1.5M308.1 83.8h1.5M327.4 88.6h1.5M333.3 68.6h1.5M310 78.7h1.5M318.8 75.2h1.5M312.2 72.8h1.5M317.4 67.7h1.5M315.2 87.3h1.5M325.3 88.5h1.5M327.6 81.4h1.5M301.9 87.9h1.5M317.7 82.9h1.5M306 88.9h1.5M335.1 76.8h1.5M316.8 74.3h1.5M313.8 90.2h1.5M319.5 89.5h1.5M311.6 71.1h1.5M308.3 93.7h1.5M312.5 85.5h1.5M312.3 79.6h1.5M330.9 75.9h1.5M324.5 93.2h1.5M321.8 78.7h1.5M313.7 85.5h1.5M331.7 80.9h1.5M324.6 67h1.5M326.1 65.1h1.5M305.5 73.2h1.5M327.4 72h1.5M312.6 95.4h1.5M316.5 93.1h1.5M330.3 86.4h1.5M294.8 78.7h1.5M325.4 93.9h1.5M309.6 73.5h1.5M324.3 95.9h1.5M325.3 73.5h1.5M320.2 82.7h1.5M337.9 66.4h1.5M317.2 66.5h1.5M326.4 86.4h1.5M332.1 71.8h1.5M328.1 60.6h1.5M316.5 88.9h1.5M302 69.5h1.5M329.2 79.3h1.5M316.4 70.1h1.5M321.5 70.7h1.5M312.9 88.1h1.5M330 83.9h1.5M332.2 80.5h1.5M304.2 84.9h1.5M312.4 98.3h1.5M321.9 63.9h1.5M315.4 93h1.5M319.9 84.5h1.5M315.8 92.8h1.5M324.1 88.8h1.5M332.5 77.6h1.5M306.5 80.4h1.5M317.9 83.6h1.5M319.3 80.5h1.5M301.4 76.4h1.5M310.9 80.5h1.5M319.6 67.6h1.5M334.3 86.5h1.5M326.9 65.5h1.5M319.9 73.6h1.5M323.9 81.5h1.5M333.2 95h1.5M328.2 82.2h1.5M317.7 80.2h1.5M321.8 84.7h1.5M313.9 71.9h1.5M320.2 88.3h1.5M325.7 91.7h1.5M316.7 70h1.5M315.4 94.7h1.5M319.2 97.4h1.5M310.5 86.3h1.5M311.7 85.5h1.5M322.7 80.4h1.5M319.7 80.3h1.5M328.2 89.2h1.5M308.8 75.3h1.5M319.3 91.2h1.5M331.9 92.5h1.5M321.6 87.2h1.5M327.3 93.6h1.5M318 72.2h1.5M314.9 72h1.5M316.1 80.8h1.5M327.1 68h1.5M314.2 70.1h1.5M315.1 78.8h1.5M306.7 89.8h1.5M303 91.1h1.5M305.7 93.3h1.5M331 73.7h1.5M322.7 72.4h1.5M316.4 90.8h1.5M312.3 73.8h1.5M305.3 85.8h1.5M314.8 71.6h1.5M324.8 97.1h1.5M304.1 74.8h1.5M321.5 92.5h1.5M322.5 66.9h1.5M321.4 91.5h1.5M334.3 77.6h1.5M304.3 88.6h1.5M308 71.4h1.5M311.3 90.8h1.5M316.8 74.4h1.5M310.8 67.1h1.5M323.2 85.1h1.5M320.9 95.3h1.5M334.1 72.5h1.5M304.5 83.9h1.5M323 69.6h1.5M315 89.9h1.5M327 85.8h1.5M319 73.4h1.5M312.3 94.6h1.5M322 81.1h1.5M313.1 80.8h1.5M304.3 90h1.5M315.5 69.4h1.5M329.9 76.5h1.5M311.9 74h1.5M325.9 81.7h1.5M328.2 85.2h1.5M319.8 78.7h1.5M312.8 75.1h1.5M316.2 82.9h1.5M313.4 85.2h1.5M314.4 79.6h1.5M335.4 77.8h1.5M314.2 89.1h1.5M305.6 86.2h1.5M324 91.4h1.5M321.9 77.5h1.5M325.5 79.3h1.5M331.4 82.2h1.5M311.9 87.1h1.5M304.2 77.7h1.5M310.9 88h1.5M322.4 66.2h1.5M326.8 89.1h1.5M322.6 65.3h1.5M317.3 77.7h1.5M302.4 85.6h1.5M312.4 87.9h1.5M318.2 62.9h1.5M307 92.2h1.5M329.8 69h1.5M325.5 83.7h1.5M336.4 77.2h1.5M331.5 85.2h1.5M322 71.2h1.5M316.7 95.1h1.5M305.9 86h1.5M313.9 74.9h1.5M323.3 83.1h1.5M311.9 97.4h1.5M303.3 78.2h1.5M330.3 78.2h1.5M304.1 94.6h1.5M303.3 83.9h1.5M314.7 84.9h1.5M319.2 86.5h1.5M326.7 77.6h1.5M324.4 72.9h1.5M317.6 73.2h1.5M304.7 85.8h1.5M311.1 66.2h1.5M322.8 77.1h1.5M325 78.3h1.5M319.5 93.8h1.5M310.1 94.2h1.5M326.6 80.3h1.5M320 97.7h1.5M334.2 80h1.5M313.8 92.3h1.5M314.6 83.9h1.5M309.4 79h1.5M329.4 83.6h1.5M321.4 73.4h1.5M329.5 66.5h1.5M334.5 79.3h1.5M327.6 86.5h1.5M315.6 80h1.5M314.7 92.6h1.5M318.7 91.7h1.5M315.3 84.8h1.5M320.1 83.9h1.5M323.4 73.5h1.5M308.1 74.2h1.5M331.6 86.6h1.5M327.9 66h1.5M312.5 94.6h1.5M304.8 68.8h1.5M312.4 70.2h1.5M317.3 90h1.5M302.6 73.4h1.5M324.1 94.9h1.5M307.3 64.4h1.5M325.8 85.8h1.5M322.6 85.1h1.5M318.4 90.9h1.5M314.4 82.4h1.5M309.5 73.4h1.5M325.2 93.5h1.5M329.3 73.8h1.5M319.2 74.6h1.5M308.2 71.7h1.5M339.8 77.3h1.5M335.6 96.1h1.5M309.1 99.8h1.5M332.2 91.4h1.5M313.3 86.8h1.5M323.5 78.2h1.5M304.4 70.5h1.5M309.4 66.8h1.5M327 68.9h1.5M337.7 76.9h1.5M324.4 85.1h1.5M319.4 71.1h1.5M301.4 71.1h1.5M326.9 80.3h1.5M332.3 69.1h1.5M317.8 91.8h1.5M331.4 70.6h1.5M328.3 78h1.5M336.9 78.9h1.5M315.7 83.6h1.5M311.4 99.2h1.5M326.7 90.1h1.5M322.3 82.7h1.5M323.2 88.9h1.5M317.2 72.5h1.5M314.6 91.4h1.5M325.3 80.8h1.5M335 73.7h1.5M319.7 83.3h1.5M313.7 83h1.5M314.5 73.4h1.5M322.2 83.2h1.5M304.5 84.8h1.5M337.6 74.6h1.5M325.4 85.3h1.5M322.6 75.1h1.5M332.1 81.6h1.5M313.5 88.1h1.5M299.8 85.4h1.5M321.9 92.4h1.5M328.2 63.6h1.5M310.3 87.8h1.5M331.1 84.4h1.5M314.4 75.5h1.5M308.2 95.1h1.5M335.3 91.2h1.5M317.3 90.1h1.5M305.8 89.1h1.5M310 94.3h1.5M318.9 85.4h1.5M326.5 76.2h1.5M333.2 79.9h1.5M315.4 95.1h1.5M325.1 72.1h1.5M333.8 89h1.5M322.4 87.3h1.5M311 85.3h1.5M324.5 88.1h1.5M326.5 71.1h1.5M310.7 76.3h1.5M302.6 78.8h1.5M314.2 85.5h1.5M317.8 97h1.5M318.4 66.6h1.5M301.9 89.1h1.5M331.3 82.1h1.5M321.6 67.9h1.5M319.2 76.5h1.5M315.9 73.9h1.5M312.9 79h1.5M335.4 89.3h1.5M319.1 101.2h1.5M312.4 89.1h1.5M304.9 87.7h1.5M300.1 90.2h1.5M338.5 87.5h1.5M316.1 78.7h1.5M315.4 62.1h1.5M330.7 90.5h1.5M335.9 67.2h1.5M313.2 87.6h1.5M314.5 93.2h1.5M329.3 65.5h1.5M327.4 93.1h1.5M311.6 66.6h1.5M309.7 72.1h1.5M329.3 82.1h1.5M320.1 72.2h1.5M295.9 80.8h1.5M327.7 59.2h1.5M313 75.1h1.5M308.8 90.6h1.5M318 66.1h1.5M316.2 88.8h1.5M324.6 93.1h1.5M295.4 80.6h1.5M317.4 93.4h1.5M328.6 89.9h1.5M321.3 74.9h1.5M319.9 77.7h1.5M329.5 76.8h1.5M302.3 74.1h1.5M324.8 69.5h1.5M318.2 62.5h1.5M333.5 85h1.5M322.4 78.1h1.5M314.6 91.4h1.5M321.6 64.8h1.5M321.6 76.1h1.5M322 73.3h1.5M320.8 74.3h1.5M312.1 80.5h1.5M309.9 72h1.5M323 90.9h1.5M298.1 79.8h1.5M328.8 68.3h1.5M304 79.4h1.5M319.3 70.8h1.5M307.7 75.9h1.5M328.2 91.6h1.5M316.1 92.5h1.5M324.5 101.5h1.5M322 91.6h1.5M303.1 74.9h1.5M308.4 81.2h1.5M320.6 68h1.5M334.7 92.4h1.5M334.7 80.8h1.5M329.5 86.9h1.5M327.8 90h1.5M305.4 70.6h1.5M328.9 84.3h1.5M305.9 76h1.5M307.2 82.5h1.5M325 81.2h1.5M312.8 76.5h1.5M315.1 61.6h1.5M314.5 81.2h1.5M310 103.5h1.5M318.5 77.8h1.5M323.5 80h1.5M304.1 71.7h1.5M321.7 86h1.5M308.9 79.6h1.5M327.5 102.2h1.5M316.1 79.9h1.5M321.8 70.7h1.5M319.9 98.4h1.5M312.9 71.2h1.5M333 78.2h1.5M313.7 77.2h1.5M327.1 84.7h1.5M305.8 91.6h1.5M318.8 75.2h1.5M320.4 89.1h1.5M322.4 91.8h1.5M327.9 71.1h1.5M309 89h1.5M309 81.2h1.5M308.3 71.5h1.5M316.7 78.7h1.5M331.3 63.1h1.5M328.8 69.7h1.5M334.1 79.1h1.5M326.2 80.2h1.5M304.2 67.4h1.5M331.1 84.8h1.5M308.9 74.4h1.5M331.2 78.4h1.5M306.1 96.2h1.5M315.8 91.2h1.5M311.7 96.3h1.5M309 78h1.5M330.5 86.7h1.5M318.5 85.7h1.5M322.6 76.1h1.5M332.2 74.9h1.5M307.1 71.5h1.5M315.5 82.8h1.5M324.7 84.8h1.5M318.1 82.2h1.5M319.2 98.9h1.5M305.4 98.6h1.5M331.2 95.7h1.5M329.6 72.8h1.5M324.9 67.7h1.5M307.8 83.8h1.5M300.3 95.6h1.5M312.5 86.5h1.5M302.1 86.3h1.5M311.3 78h1.5M313 66.8h1.5M334.2 88.1h1.5M326.3 77.8h1.5M325 80.6h1.5M327.9 71.7h1.5M321.5 86.2h1.5M302.4 89.9h1.5M316.4 68.9h1.5M310.9 101.5h1.5M335.4 80.8h1.5M306.6 74.7h1.5M311.4 72.7h1.5M317.4 97.4h1.5M306.5 77.2h1.5M323.4 62.7h1.5M323.3 71.7h1.5M319 81.1h1.5M303.5 78.9h1.5M307.3 90.6h1.5M334 93.8h1.5M318.1 92.6h1.5M312.3 91.6h1.5M310 66h1.5M318.6 77.4h1.5M297.4 88.9h1.5M321.3 92.6h1.5M326.2 64.3h1.5M322.9 77.9h1.5M313.8 95.3h1.5M317.4 87.6h1.5M306.1 89.2h1.5M330.3 83.3h1.5M308.4 98.5h1.5M329.4 85.6h1.5M330.6 76h1.5M329.5 72.6h1.5M313.6 66.1h1.5M314.8 98.7h1.5M309.7 71.6h1.5M323.7 96.4h1.5M317.7 73.8h1.5M306.1 74.6h1.5M312.6 96.2h1.5M321 99.7h1.5M308.3 97.7h1.5M301.8 70.7h1.5M310.8 74.2h1.5M323.7 76.8h1.5M324 73.9h1.5M311.8 88.8h1.5M326.4 65.4h1.5M321.2 72.8h1.5M315.1 66.6h1.5M302.4 85.6h1.5M332.7 79.4h1.5M331.1 73.4h1.5M321.1 85.6h1.5M318.1 63.5h1.5M298.2 75.1h1.5M321.8 95.6h1.5M318.4 95.8h1.5M304.3 71.5h1.5M311.2 86.3h1.5M329.3 80.4h1.5M303.6 84.8h1.5M304.5 83.3h1.5M324.2 73.1h1.5M318.4 84h1.5M308.1 80.4h1.5M316.6 81.2h1.5M314.8 81.1h1.5M321.3 69.4h1.5M314.9 72h1.5M317.1 68.1h1.5M327.4 90.6h1.5M322.2 84.2h1.5M313.9 78.5h1.5M323.9 72.9h1.5M331.7 69.1h1.5M308.2 91.9h1.5M309.9 82.7h1.5M324.8 97.7h1.5M309.1 74.2h1.5M331.8 76.1h1.5M323.9 78.3h1.5M325.6 68.9h1.5M305.5 80.9h1.5M326 84.5h1.5M318.5 97.1h1.5M320 76.7h1.5M310.9 79.5h1.5M313.6 69.2h1.5M320.8 60.6h1.5M311 79h1.5M324.5 89.8h1.5M309.5 74.3h1.5M316.6 65.9h1.5M311.2 74.4h1.5M315.9 71.6h1.5M319.1 70h1.5M301.3 84.9h1.5M308 77.7h1.5M310.3 84.1h1.5M321.2 81.5h1.5M320.6 87.2h1.5M329.7 74.9h1.5M314.1 80.6h1.5M315.8 72.1h1.5M309.4 82.8h1.5M329.3 73h1.5M322.2 88.1h1.5M312.4 67.4h1.5M329.4 83.5h1.5M330.9 75.8h1.5M324.9 71.2h1.5M306 80.7h1.5M331.8 85.2h1.5M315.1 95.3h1.5M321 68h1.5M318.2 71.2h1.5M318.8 86.9h1.5M312.6 77.4h1.5M318 90.9h1.5M311.8 80.2h1.5M304.6 85.8h1.5M317 96h1.5M313.4 67.4h1.5M320.6 63.5h1.5M326.9 78.9h1.5M310.3 72.9h1.5M320.6 100.6h1.5M316.4 97.6h1.5M318.1 84h1.5M304.8 94.3h1.5M305.5 63.4h1.5M327.1 78h1.5M329.4 81.7h1.5M305.5 79.5h1.5M322.5 87.9h1.5M305.1 85.2h1.5M303.5 86.7h1.5M331 87.1h1.5M321.3 69.6h1.5M312.4 90h1.5M335 74.3h1.5M324.5 64.9h1.5M311.6 82.7h1.5M326.2 82.7h1.5M315.2 68.1h1.5M329.1 81.8h1.5M310.5 90.5h1.5M303.1 84h1.5M320.9 83.3h1.5M327.9 70.3h1.5M324 61h1.5M323.7 73.4h1.5M337.5 76.9h1.5M320.4 76.1h1.5M323.3 79.7h1.5M311.4 74.4h1.5M321.5 79h1.5M325.4 85.3h1.5M330.9 75.1h1.5M323.9 82h1.5M301.3 72.8h1.5M323.9 95.4h1.5M323.1 90.7h1.5M322.5 71.3h1.5M310.3 90.8h1.5M324.5 83.8h1.5M302.4 72h1.5M305.8 73.3h1.5M310.1 82h1.5M329.2 80.9h1.5M324.6 97.8h1.5M313.5 57.7h1.5M324.2 101.1h1.5M330.2 80.4h1.5M321.7 85.6h1.5M310.3 64h1.5M326.6 64.2h1.5M319.4 63.1h1.5M321.9 68.9h1.5M316.7 66h1.5M330.6 72.4h1.5M321.6 61h1.5M304.5 80.1h1.5M320.8 96.9h1.5M327.4 80h1.5M328.6 89.8h1.5M322 85h1.5M311.1 69.3h1.5M312.6 88h1.5M329.7 75.2h1.5M311.7 84.8h1.5M324.8 66.4h1.5M304.5 84.2h1.5M308.8 66h1.5M329.3 90.7h1.5M309.4 67.1h1.5M316.2 96.3h1.5M315.9 91.5h1.5M313.3 81h1.5M304.8 81.3h1.5M308.8 94.7h1.5M316.6 93.8h1.5M316.5 89.6h1.5M324.6 68.5h1.5M308.3 81.8h1.5M319.6 71h1.5M330.9 70h1.5M308.2 90.5h1.5M310 75.8h1.5M332.1 73.3h1.5M308.7 89.3h1.5M299.8 71.4h1.5M315.5 81.6h1.5M302.5 75.8h1.5M305.9 89.9h1.5M333.6 62.2h1.5M324.4 82h1.5M313.5 81.7h1.5M312.5 97h1.5M331.2 71h1.5M330.6 75.7h1.5M310.7 66.7h1.5M318.3 69.9h1.5M338 82.8h1.5M317.4 63.6h1.5M306.6 93h1.5M323.7 96.4h1.5M311.7 87h1.5M318.4 65.4h1.5M325.1 73.3h1.5M306.4 84.8h1.5M312.1 63.2h1.5M317.9 65.9h1.5M307.3 79.3h1.5M330.6 72.1h1.5M310.4 90.6h1.5M326.6 81.3h1.5M312.4 87.5h1.5M301.4 89.4h1.5M324.3 72.4h1.5M319.1 64.8h1.5M334.8 75.8h1.5M324.3 87.3h1.5M322.8 84.1h1.5M319.8 76.1h1.5M332.4 85.8h1.5M322.2 66h1.5M324.9 88.6h1.5M319.7 73.8h1.5M305.2 94.7h1.5M312.8 79h1.5M324.7 71.3h1.5M333.8 71.8h1.5M331.7 79.4h1.5M321.6 71h1.5M311.8 89.8h1.5M328.5 81.7h1.5M306.4 81.2h1.5M313.3 75h1.5M322.1 84.8h1.5M311.1 75.4h1.5M301.7 86.9h1.5M311.7 77.3h1.5M318.2 64h1.5M312.2 81h1.5M320.3 81.4h1.5M309.7 82.2h1.5M323.5 84.2h1.5M315.4 86.7h1.5M326.3 101.6h1.5M327.5 66.4h1.5M307.7 74h1.5M307.9 85.9h1.5M321 71.1h1.5M298.6 76.9h1.5M311.3 83h1.5M303.5 87.9h1.5M325.2 66.1h1.5M300.8 92h1.5M310.6 102.9h1.5M329.8 88.5h1.5M318 92.2h1.5M313.7 69h1.5M318.4 85.7h1.5M322.5 69.5h1.5M317.6 63h1.5M327.2 88.3h1.5M331.3 81.8h1.5M322.5 64.9h1.5M301.5 81.2h1.5M318.8 76.8h1.5M324.7 79.9h1.5M333.6 85.2h1.5M306.2 79.2h1.5M327.9 89.7h1.5M300.9 89.1h1.5M333 78.3h1.5M315.2 70.9h1.5M312.6 99h1.5M329.8 85.5h1.5M332.6 77.7h1.5M314.1 81.1h1.5M323 85.7h1.5M312.9 82.8h1.5M322.7 83.6h1.5M320 89.5h1.5M324.9 79.5h1.5M313.3 90.7h1.5M323 83.3h1.5M320.9 81.5h1.5M319.1 77.2h1.5M332.2 80.5h1.5M325.1 82.7h1.5M302.2 83.6h1.5M315.1 98.4h1.5M333.2 71.7h1.5M313.2 95.7h1.5M318.1 85.6h1.5M309 95.2h1.5M306.8 86.5h1.5M312.6 92.2h1.5M328.7 83.9h1.5M309.8 76.9h1.5M327.8 87.2h1.5M312.6 64h1.5M314 87.8h1.5M335.5 75.2h1.5M320.3 80.3h1.5M323 96.9h1.5M332.9 74.8h1.5M316.2 66.4h1.5M311.2 95.8h1.5M315.6 99.7h1.5M311.5 76.2h1.5M328.7 73.4h1.5M329.8 79.7h1.5M316.6 69.7h1.5M325.5 75.2h1.5M330.1 71h1.5M319.4 92.3h1.5M328.3 73.2h1.5M319.8 82.3h1.5M312 75h1.5M326.1 86.8h1.5M300.3 80.2h1.5M325.5 75.3h1.5M319.3 83.7h1.5M314.5 86.5h1.5M324.7 74.8h1.5M324.9 90.1h1.5M321.6 71.2h1.5M336.7 92.1h1.5M327.8 85.1h1.5M313.9 84.6h1.5M309.9 87.5h1.5M335.1 90.8h1.5M329.8 85.9h1.5M315.4 74.5h1.5M314.1 77.8h1.5M320.5 85.8h1.5M337.7 68.3h1.5M315.7 103.4h1.5M302.4 89.8h1.5M311.3 80.6h1.5M318.1 75.2h1.5M314.5 73.4h1.5M323 74.1h1.5M311.2 102h1.5M320.7 94.3h1.5M312 68.2h1.5M311.2 78.5h1.5M317.1 80.1h1.5M324.8 79.4h1.5M305.9 94.2h1.5M334.4 79.6h1.5M300.3 72.5h1.5M324.6 89.7h1.5M305.2 88.6h1.5M302.7 93h1.5M330.2 74.3h1.5M333.7 68.2h1.5M331.9 92.7h1.5M311.3 71.3h1.5M326 64.8h1.5M303.7 97.1h1.5M316.6 91.9h1.5M323.9 82.5h1.5M315.5 90.5h1.5M303.4 94h1.5M314.3 96.1h1.5M328.6 86.6h1.5M300.8 76.5h1.5M310.4 68.6h1.5M315.9 88.1h1.5M324.2 90.3h1.5M321.5 95.7h1.5M325.8 88h1.5M330.9 67.9h1.5M324.6 68.2h1.5M326.3 82.3h1.5M329.1 79h1.5M316.3 65.2h1.5M315.1 88h1.5M323.9 94.1h1.5M327.2 69.1h1.5M308.3 93.2h1.5M316.3 80.7h1.5M321.3 67.8h1.5M308.8 75.6h1.5M305.9 86.6h1.5M323.9 74.7h1.5M299.5 89.1h1.5M317.5 72.3h1.5M308.3 85.4h1.5M329.9 89.8h1.5M309.5 76.9h1.5M310.1 68.7h1.5M312 86.8h1.5M302.5 94.7h1.5M311.8 65.8h1.5M324.9 86h1.5M315.8 97.5h1.5M308.7 92.8h1.5M315.2 77.9h1.5M306.2 71.3h1.5M318.4 78.3h1.5M304.6 91.4h1.5M325.9 72.4h1.5M319.9 73.5h1.5M317.5 71.6h1.5M312.3 70.1h1.5M331 75.5h1.5M320.7 91.9h1.5M309.4 72.9h1.5M312.4 90.6h1.5M308.2 83.7h1.5M326.9 68h1.5M302.8 89.5h1.5M295.3 80.8h1.5M330.7 85.8h1.5M314 74.2h1.5M316.8 84.5h1.5M313 96.2h1.5M323.9 95.1h1.5M305.6 79.1h1.5M330.5 90.9h1.5M311.1 86.5h1.5M311.4 94.8h1.5M307.5 81.3h1.5M317.9 63.3h1.5M305.8 88.9h1.5M299.6 84.1h1.5M305.3 84.5h1.5M334.9 87.5h1.5M322.5 68.1h1.5M314.7 83.6h1.5M317.9 69.8h1.5M337.5 76.4h1.5M303.8 86.8h1.5M321.8 82.7h1.5M329.6 80h1.5M328.5 69.2h1.5M309.7 76.8h1.5M318.8 77.8h1.5M309.3 81.1h1.5M315.2 98.4h1.5M309.8 88.4h1.5M336.6 79.9h1.5M308 81.9h1.5M300.3 79.4h1.5M300.6 87.2h1.5M314.8 74.6h1.5M317.4 92.1h1.5M326.2 64.1h1.5M305.3 73.8h1.5M330.3 95.4h1.5M310.2 78h1.5M314.7 76.6h1.5M323.4 66.7h1.5M305.9 88.1h1.5M323.9 86.3h1.5M329.1 84.2h1.5M315.6 98.8h1.5M306.4 94.3h1.5M311.7 66.7h1.5M333 78.8h1.5M322.9 83.4h1.5M317.8 74.2h1.5M328.1 87h1.5M320.7 76.7h1.5M325.9 81.3h1.5M302.8 79.1h1.5M307.1 81.5h1.5M320.1 71.6h1.5M336.5 82.7h1.5M315.6 77.9h1.5M329.3 77.3h1.5M318.3 66.8h1.5M315.4 87.6h1.5M335.9 71.9h1.5M327 79.5h1.5M329.2 71.2h1.5M311.3 93.7h1.5M330.1 65.6h1.5M338.9 80.4h1.5M310.4 91.9h1.5M301.1 76.7h1.5M337.5 79.8h1.5M305.9 82.5h1.5M317.6 83.8h1.5M321.7 88.3h1.5M317.8 80.6h1.5M324.6 84.3h1.5M303.6 88.1h1.5M317.4 80.6h1.5M311.3 80.1h1.5M320.5 75.1h1.5M328.6 81.9h1.5M332.3 73h1.5M311.2 69.7h1.5M300.9 82.1h1.5M320.4 83.6h1.5M304.5 69.3h1.5M330.4 87.3h1.5M323.2 77.9h1.5M304.7 79.6h1.5M325.9 78.3h1.5M325.4 95.1h1.5M321.7 95.2h1.5M318.1 96.8h1.5M309.2 78.9h1.5M323.2 72.2h1.5M326.6 68.3h1.5M309.3 81.3h1.5M332.3 83.9h1.5M321.5 94.1h1.5M327 75.7h1.5M337.1 85.3h1.5M312.9 70.3h1.5M310 85h1.5M311.3 70.1h1.5M314.4 66.5h1.5M303.6 85.6h1.5M316.1 75.5h1.5M322.8 70.3h1.5M313.3 59h1.5M324.6 68.2h1.5M322.5 83.6h1.5M309.9 95.1h1.5M328 69.7h1.5M322.5 95.8h1.5M319.1 96.9h1.5M316 74.6h1.5M309.4 71.3h1.5M313.3 75.1h1.5M319.1 66.5h1.5M329.3 73.1h1.5M337.1 85.5h1.5M301.4 85.5h1.5M316 88.4h1.5M311.1 95.2h1.5M318.4 72.6h1.5M324.1 75.2h1.5M307.2 72h1.5M335.2 67.1h1.5M312.9 92h1.5M329.8 73.3h1.5M305.8 77.9h1.5M327.6 86.9h1.5M335.1 82.6h1.5M321.9 78.7h1.5M331.4 80.7h1.5M321.1 74.7h1.5M302.6 75.8h1.5M295.4 81.3h1.5M316.7 72.6h1.5M311.6 94.5h1.5M310.5 69.9h1.5M312 72.6h1.5M302.6 73.5h1.5M329.1 81.4h1.5M325.4 66.8h1.5M306.2 91h1.5M312.1 76.6h1.5M321.9 82.9h1.5M330.8 76.8h1.5M331.4 69.4h1.5M332.8 80.3h1.5M330 69.3h1.5M335.7 85.1h1.5M333.1 88.2h1.5M324.8 84.9h1.5M334.8 73.8h1.5M319.7 63.8h1.5M308.2 68.6h1.5M321.6 72.8h1.5M307.4 73.1h1.5M321.5 94.9h1.5M333.2 71.1h1.5M315.4 75.9h1.5M320.7 83.4h1.5M322.2 88.4h1.5M311.9 79.5h1.5M303.7 74.3h1.5M322 68.3h1.5M314.6 97.8h1.5M331.9 85.9h1.5M306.3 71.9h1.5M327.9 76.3h1.5M315.5 95.6h1.5M310.3 96.7h1.5M300.3 88.3h1.5M312.5 82.9h1.5M328.7 63.7h1.5M318.8 76.2h1.5M326.3 86.3h1.5M329.6 83.1h1.5M312.1 75.7h1.5M315.8 87.7h1.5M328 70.1h1.5M322.4 89.7h1.5M319.9 84.7h1.5M317 97.7h1.5M304.9 65.7h1.5M294.2 84.6h1.5M327.1 95.1h1.5M330.4 66.7h1.5M320.8 74.4h1.5M314.6 74.6h1.5M324.6 92.5h1.5M328.7 71.1h1.5M307.1 78.3h1.5M303.8 74h1.5M319.3 70.8h1.5M324.4 82h1.5M318.1 84.5h1.5M326.2 63.6h1.5M331.1 70.6h1.5M314.9 99.5h1.5M319 69.3h1.5M315.1 69.3h1.5M336.5 83.6h1.5M309 64.5h1.5M311.8 87.3h1.5M319.7 93h1.5M299.7 73.2h1.5M305.1 89.5h1.5M321 73.3h1.5M330 98.6h1.5M326 92.9h1.5M330.1 80.4h1.5M314.8 64.7h1.5M314.3 100h1.5M329.3 82.8h1.5M330.4 69.1h1.5M326 79.8h1.5M335.3 90.2h1.5M307.5 80.2h1.5M331.6 72.8h1.5M317.8 77.6h1.5M331.9 72.5h1.5M321.9 80.5h1.5M323.6 91.2h1.5M333.3 76.3h1.5M307.3 67.7h1.5M321.9 73.2h1.5M327.5 72.7h1.5M315.1 84.9h1.5M319.1 74.6h1.5M307.3 98.9h1.5M318.3 75.1h1.5M310.8 96.2h1.5M331.1 70.4h1.5M335.2 80.6h1.5M306.8 66.6h1.5M324.1 78.1h1.5M318.6 77.6h1.5M324.3 71.9h1.5M319.7 88.2h1.5M308.6 87.7h1.5M335.5 69.2h1.5M323.4 64.2h1.5M326.8 64.7h1.5M331.8 63.3h1.5M332.3 70h1.5M328.9 71.4h1.5M332.6 67.9h1.5M323.3 66.6h1.5M328.3 76.3h1.5M330.4 70.2h1.5M321.1 71.1h1.5M323.8 64.9h1.5M328.2 70.2h1.5M327.7 69.2h1.5M326.4 74.4h1.5M322.3 64.6h1.5M318.6 72.1h1.5M327.9 62.2h1.5M321 64.7h1.5M324.4 62.5h1.5M326.8 67.7h1.5M328.1 60.6h1.5M321.3 68.3h1.5M333.8 69.3h1.5M322.8 63.7h1.5M321.6 68.7h1.5M321.3 63.1h1.5M319.9 75.6h1.5M325.3 68.1h1.5M331.4 66.3h1.5M332.3 66.2h1.5M328.7 70.8h1.5M326.9 69.3h1.5M329.5 76.5h1.5M324.5 68.6h1.5M324.1 68.4h1.5M325.8 69.8h1.5M327.5 64.9h1.5M332.3 72.1h1.5M320.9 65.8h1.5M324.1 69.9h1.5M333.2 69.4h1.5M325.7 62.1h1.5M329.8 70.4h1.5M336.2 63.1h1.5M327.5 68.9h1.5M329.4 74.6h1.5M324.7 70.2h1.5M331.3 72h1.5M328.7 64.1h1.5M332.7 66h1.5M330.5 61.2h1.5M332.5 64.5h1.5M333.1 66.8h1.5M332.7 68.7h1.5M329.8 70.6h1.5M327.5 72.5h1.5M322.5 67.5h1.5M328.4 66.1h1.5M323.9 71.1h1.5M332.4 63.3h1.5M327.1 69.2h1.5M323.9 65.9h1.5M324.1 67.8h1.5M329.7 64.4h1.5M330.5 71.9h1.5M334.8 69.9h1.5M331.1 70.2h1.5M330.2 66.5h1.5M327.4 67.5h1.5M334.3 64.7h1.5M326.8 64.8h1.5M328.7 67.3h1.5M333.3 64.7h1.5M321.6 71.5h1.5M327.6 62.4h1.5M334.8 63.8h1.5M321.4 71.7h1.5M332.6 62.4h1.5M323.1 60.4h1.5M324.3 64.1h1.5M328 73.3h1.5M329.4 62.8h1.5M323.2 63.1h1.5M320.7 75.9h1.5M326.6 72.3h1.5M329.1 71.1h1.5M333.2 72.4h1.5M324.2 67.1h1.5M324.5 66.6h1.5M323.7 67.6h1.5M321.6 65.4h1.5M327.7 68.6h1.5M322.8 61.6h1.5M330.3 70.4h1.5M330.8 72.2h1.5M333.3 75.6h1.5M328.4 72.6h1.5M326.6 65.6h1.5M323.8 67.9h1.5M327.1 61.1h1.5M330.7 62.5h1.5M319.2 70.9h1.5M324.5 75.7h1.5M333 73.2h1.5M323.8 67.2h1.5M329.2 63.7h1.5M330.7 66.7h1.5M323 61.6h1.5M317 72.8h1.5M333.9 67.1h1.5M326.7 71.1h1.5M325.4 72.1h1.5M326.1 64.4h1.5M331.6 63.6h1.5M335.3 60.7h1.5M325.3 66.3h1.5M339.5 67.7h1.5M323.7 69.4h1.5M324.8 67.5h1.5M327.3 73.6h1.5M321 64.9h1.5M334.5 66.1h1.5M326.6 61.6h1.5M333.3 65.8h1.5M328.6 73.5h1.5M318.5 76.1h1.5M319.5 64.4h1.5M333.3 68.5h1.5M320.7 66.8h1.5M335.5 68.6h1.5M317.8 69.7h1.5M326.2 72.6h1.5M322.8 63.8h1.5M321.9 65.7h1.5M333.4 70.8h1.5M333.8 67.9h1.5M330.4 63.1h1.5M335.4 72.4h1.5M319.4 63.5h1.5M322.8 67.2h1.5M332.1 70.6h1.5M325.1 68.8h1.5M329.5 63.5h1.5M334.3 64.4h1.5M327 69.9h1.5M332 62.8h1.5M322.3 69.4h1.5M321.3 67h1.5M334.5 69.9h1.5M321.5 63.6h1.5M320.4 64.7h1.5M327 73.3h1.5M325.7 72h1.5M326.3 62.8h1.5M325.1 71.5h1.5M324.6 74.2h1.5M320 68.1h1.5M332 69.2h1.5M327.4 66.1h1.5M330.5 70.9h1.5M329.8 63.8h1.5M325.3 71.4h1.5M323.6 68.4h1.5M326.6 70.9h1.5M323.2 73.9h1.5M327.7 62.6h1.5M332.9 74.5h1.5M333.2 63.2h1.5M331.4 67h1.5M332.1 65.6h1.5M328 66.7h1.5M323.8 66.9h1.5M326.3 69.8h1.5M329.4 72.5h1.5M326.5 63.3h1.5M327.8 68.5h1.5M337.3 69.8h1.5M319.7 69.4h1.5M319.5 67.4h1.5M327.5 63.4h1.5M320.7 65.1h1.5M335.7 67.8h1.5M326 64.1h1.5M328.2 60.6h1.5M320.9 64.5h1.5M329.9 64.6h1.5M334.1 68.2h1.5M336 68.3h1.5M333.1 70.6h1.5M325.2 70.2h1.5M322.9 67.8h1.5M336.1 70.8h1.5M329.8 69.6h1.5M335.2 71h1.5M316.7 69.1h1.5M322.6 62.9h1.5M333.1 71.8h1.5M325.8 70.3h1.5M321.1 63.5h1.5M320.7 69.5h1.5M329.4 65.7h1.5M323.6 72.7h1.5M322.2 71.5h1.5M328.3 67h1.5M337.2 68.5h1.5M322.6 72.8h1.5M334.7 69.3h1.5M324 70.1h1.5M323.8 66.1h1.5M329.1 68.3h1.5M326.1 73.5h1.5M327.3 67.6h1.5M332 69.4h1.5M331.7 70.6h1.5M329.8 67.8h1.5M317.7 70.1h1.5M322.9 68.4h1.5M324 62.8h1.5M327.1 75.4h1.5M331.9 71.4h1.5M325.6 70.7h1.5M332.5 70h1.5M331 69.6h1.5M324.2 64.3h1.5M320.5 73.7h1.5M336.1 66.2h1.5M338.5 71.7h1.5M323.4 68.9h1.5M329.3 64h1.5M331.5 66.8h1.5M328.3 64.2h1.5M327.1 76.9h1.5M331.5 60.3h1.5M320.2 58.6h1.5M330 64.1h1.5M332.3 61.2h1.5M324.1 67.9h1.5M337.6 67.2h1.5M331.1 68h1.5M328.5 73.9h1.5M324.5 63.4h1.5M334.7 67h1.5M335 70.8h1.5M333.5 64.7h1.5M331.1 67.7h1.5M324.9 73h1.5M320.9 65.5h1.5M336.2 71h1.5M304 87.9h1.5M334.9 85.5h1.5M326.7 90.3h1.5M304.3 87.8h1.5M315.4 87.7h1.5M334.2 99.1h1.5M316.4 94.1h1.5M305.5 97.8h1.5M339.4 119.2h1.5M295.2 94.8h1.5M316.8 120.3h1.5M336.3 90.6h1.5M325 95.3h1.5M300.2 80.3h1.5M309.3 85.4h1.5M312.2 99h1.5M313 77.6h1.5M311.4 116h1.5M307.3 90h1.5M341.6 109.1h1.5M353.5 102.4h1.5M327.7 81.2h1.5M316.2 71.8h1.5M305.3 66.3h1.5M324.9 78.5h1.5M325 80.9h1.5M306.6 80.2h1.5M317.8 100h1.5M332.2 71.3h1.5M325.2 67.1h1.5M319.8 95.5h1.5M322.5 121h1.5M309.2 78.1h1.5M319.7 90.8h1.5M321.7 91.9h1.5M309 109.9h1.5M318.7 106.4h1.5M334.8 85.6h1.5M336.8 107.2h1.5M336.1 121.4h1.5M327.2 58h1.5M327.4 70.2h1.5M298.8 71.2h1.5M321.6 73h1.5M329.6 94.3h1.5M327.2 94.5h1.5M309.2 120.1h1.5M311.6 115h1.5M325.4 97.1h1.5M323.4 90.5h1.5M340.8 103.1h1.5M311.3 85.1h1.5M339.8 103.5h1.5M302.6 84.5h1.5M322.2 91h1.5M342.9 90.1h1.5M304.7 83.1h1.5M325.7 82.2h1.5M350.5 93.5h1.5M300.6 90.5h1.5M337 118.7h1.5M312.9 119.3h1.5M319.7 118.4h1.5M321.6 110.9h1.5M339.8 90.9h1.5M316 77.5h1.5M336 76.3h1.5M332.4 64.9h1.5M320.3 87.2h1.5M337 65.1h1.5M325.2 94h1.5M319 96.5h1.5M302.4 91.2h1.5M304.5 101.2h1.5M313.8 86.9h1.5M323.1 118.9h1.5M316.9 78.2h1.5M356 82.5h1.5M312.3 84.6h1.5M303.4 89h1.5M320.7 95.5h1.5M313.6 100.7h1.5M312.7 87h1.5M334.8 117h1.5M325.3 62.9h1.5M338 96.3h1.5M303.6 92.8h1.5M329.9 70.7h1.5M320.6 69.6h1.5M310.6 93.6h1.5M319 98.2h1.5M302.1 90.6h1.5M331.6 86.9h1.5M327.5 84.1h1.5M327.8 85.6h1.5M340.2 108.6h1.5M329.6 81h1.5M323.6 100.7h1.5M323.6 107.9h1.5M312.4 63.1h1.5M334.7 96.7h1.5M299.3 93.5h1.5M329.9 71.8h1.5M323.2 75.2h1.5M334.6 89.9h1.5M314.2 83.1h1.5M311.8 84h1.5M332.5 77.9h1.5M322.8 98.4h1.5M335 76.6h1.5M303.1 95.6h1.5M334.1 84.7h1.5M323.2 95.6h1.5M329.3 108.9h1.5M336.3 95.5h1.5M304.2 89.7h1.5M330.5 75.2h1.5M319.2 109h1.5M316.2 117.1h1.5M320.3 61.8h1.5M312.2 100.5h1.5M320.8 88.8h1.5M324 71.7h1.5M310.1 118.4h1.5M321.7 124h1.5M302.8 79.3h1.5M327.4 84.3h1.5M328.4 68.2h1.5M324.7 65.3h1.5M314.2 86.6h1.5M324.2 109.3h1.5M317.5 99.8h1.5M326.3 106.5h1.5M323.1 93.5h1.5M321.4 89.6h1.5M328.8 71.8h1.5M331.5 98.9h1.5M339.7 90.5h1.5M325.5 79.1h1.5M340.8 74.3h1.5M333.7 110.3h1.5M312.7 65.9h1.5M309.2 78.5h1.5M340.3 97h1.5M331.3 100.9h1.5M303.6 68h1.5M338.5 108.3h1.5M322.7 89.7h1.5M327.1 108.2h1.5M335.8 89.9h1.5M330.5 62.9h1.5M317.1 88.9h1.5M311.8 81.6h1.5M312 95.6h1.5M324.5 93.7h1.5M317.5 94.9h1.5M296.8 74.9h1.5M318.7 103.6h1.5M315.7 94.5h1.5M316.2 88.5h1.5M293.8 96.8h1.5M319 78.9h1.5M309.9 79h1.5M320.9 89.7h1.5M295.7 76.8h1.5M320.7 115h1.5M301 95.3h1.5M307 102.7h1.5M309.8 119.3h1.5M311.4 113.9h1.5M311.5 124.2h1.5M311.2 78.2h1.5M310.4 117.2h1.5M309 85.2h1.5M311 88.4h1.5M314.6 95h1.5M349.9 93.1h1.5M334.6 91.5h1.5M310.7 96.6h1.5M319.9 69.2h1.5M325.7 71.7h1.5M338.5 96.5h1.5M310.5 97.9h1.5M323.1 121.4h1.5M342.2 92.4h1.5M318.8 69.8h1.5M321.4 98.7h1.5M319.5 120.2h1.5M319.5 122.8h1.5M322.5 91h1.5M311.1 94.4h1.5M308.9 97.1h1.5M314.1 101.3h1.5M330 89.8h1.5M338.6 84.6h1.5M322.2 116.2h1.5M315.8 115.9h1.5M339.6 92.3h1.5M328.9 82.9h1.5M331.8 82.3h1.5M318.2 74.2h1.5M313.5 72.9h1.5M327.9 87.8h1.5M317.7 80.8h1.5M338.6 96.3h1.5M306.2 84h1.5M325.4 77.7h1.5M320.4 86h1.5M314.6 97.7h1.5M303.6 88.2h1.5M314.6 113.3h1.5M315.9 85h1.5M303.7 77.8h1.5M330.4 124.4h1.5M312.9 96.2h1.5M325.9 110.9h1.5M314.8 86.7h1.5M307.5 101.1h1.5M342.7 77.2h1.5M337.8 82.3h1.5M317.9 78.1h1.5M314.5 103.2h1.5M322.8 110.3h1.5M328.2 77.7h1.5M320.9 82.8h1.5M327.4 91.2h1.5M348.1 102h1.5M313 72.2h1.5M339.9 87.6h1.5M316.6 90.1h1.5M341.6 74.2h1.5M325.6 86.5h1.5M310.6 102.5h1.5M334.3 65.6h1.5M333.2 85.9h1.5M317.4 77.1h1.5M323.5 120.1h1.5M301.7 101.9h1.5M328.9 74.7h1.5M322.9 75.6h1.5M305.4 94.2h1.5M315 68.5h1.5M342.8 88.2h1.5M344.5 99.1h1.5M328.3 94h1.5M315.6 98h1.5M312.3 81.1h1.5M324.3 97.1h1.5M344.3 101.5h1.5M329.1 97.8h1.5M305.3 80.8h1.5M321.3 104.5h1.5M327.5 86.1h1.5M338 94.4h1.5M319.3 92.1h1.5M322.6 91.1h1.5M324.2 60h1.5M330.7 107.3h1.5M342.4 93.1h1.5M325.5 100.6h1.5M320.6 84.6h1.5M303.3 88.9h1.5M324.6 99h1.5M311.1 79.6h1.5M294.8 81.9h1.5M327.4 86.4h1.5M320.9 82.8h1.5M319.7 79.1h1.5M327.1 103.2h1.5M330.6 98.1h1.5M323 99h1.5M322 78.5h1.5M354.4 81.9h1.5M326.2 85.7h1.5M325.9 99.2h1.5M317 94.4h1.5M308.2 80.8h1.5M342.9 84.6h1.5M299.4 88h1.5M310.8 94.6h1.5M325.2 95h1.5M321.3 98.8h1.5M297 79.9h1.5M347.7 103.1h1.5M321.9 102h1.5M320.6 66.5h1.5M315 103.5h1.5M325 93.5h1.5M308.7 94.2h1.5M334.1 67h1.5M320.4 86.4h1.5M335.1 70.3h1.5M318 111.5h1.5M313.9 73.7h1.5M319.1 96.8h1.5M345.8 92h1.5M317.6 114.3h1.5M327.8 84.4h1.5M300.5 96.7h1.5M315.7 111.1h1.5M336 82.8h1.5M327 114.5h1.5M323.9 114.4h1.5M329 122.7h1.5M326.4 109h1.5M314 104.5h1.5M325.4 125.1h1.5M326.1 109.4h1.5M309.6 94.6h1.5M319.9 117.6h1.5M327.1 103.9h1.5M311.2 110.5h1.5M321.1 119h1.5M318.3 121.8h1.5M309.7 108.1h1.5M329.4 118.4h1.5M328.5 123.2h1.5M332.7 105.9h1.5M327.1 122.6h1.5M327 103.3h1.5M318.8 98.4h1.5M314.8 114.1h1.5M316.9 122.5h1.5M331.3 105.7h1.5M315.5 103.4h1.5M307.8 112.5h1.5M313.8 108.4h1.5M327.3 101.9h1.5M306.9 112.7h1.5M314.2 106h1.5M323.4 118.4h1.5M332.8 110.7h1.5M323.3 118.1h1.5M324.6 111.4h1.5M322.7 118.4h1.5M309.2 101.9h1.5M334.6 114h1.5M313.1 101.8h1.5M328.1 115.8h1.5M316 117.1h1.5M321.1 111.4h1.5M311.6 109.9h1.5M335.4 116.4h1.5M325.9 126.7h1.5M329.6 124.4h1.5M315 119.1h1.5M324.3 104.7h1.5M313.1 119.8h1.5M329.8 106.4h1.5M311.4 106.9h1.5M336.3 112.4h1.5M331.6 120.6h1.5M321.6 111.4h1.5M326.7 120.5h1.5M310.1 99.5h1.5M328.3 119.5h1.5M331.1 107.4h1.5M332 117.6h1.5M331.7 98.4h1.5M327.1 118.8h1.5M315.9 107.2h1.5M324.6 108.4h1.5M328.6 123.6h1.5M333 121.9h1.5M326.7 111.1h1.5M332 101.9h1.5M318 108h1.5M328.5 117h1.5M326.3 121.3h1.5M321.6 99.1h1.5M331.4 107.3h1.5M325.8 126.8h1.5M310 100.3h1.5M327.5 101.6h1.5M329.4 117.6h1.5M300 103.3h1.5M325.2 121.6h1.5M307.7 119.7h1.5M317.9 122.4h1.5M322.7 114.9h1.5M320.4 124.8h1.5M314.6 101h1.5M324.2 99.2h1.5M322.9 102.3h1.5M332.7 127.2h1.5M324.1 123.4h1.5M335.4 122.7h1.5M312.2 102.2h1.5M327.1 134.2h1.5M321.6 116.8h1.5M314.7 101.3h1.5M306.3 100.2h1.5M327.5 104.7h1.5M321.7 118.9h1.5M319.7 122.6h1.5M309.5 113.8h1.5M332.8 121.5h1.5M331.6 104.7h1.5M334.3 109.9h1.5M314.1 112.6h1.5M306.1 112.8h1.5M309.9 108.4h1.5M327.4 108.2h1.5M329.3 107h1.5M311.8 106.7h1.5M313.8 118.2h1.5M334 121h1.5M325 98.8h1.5M333.5 119.3h1.5M352.5 94h1.5M341.1 117.1h1.5M346 113.7h1.5M348.2 89h1.5M337.4 117.8h1.5M338.6 69.1h1.5M337.6 116.6h1.5M334 120.2h1.5M348.9 83h1.5M334.4 113h1.5M331 119.7h1.5M333.8 116.8h1.5M349.7 76.1h1.5M338.2 106.6h1.5M342.2 76h1.5M347.6 95h1.5M345.8 95.3h1.5M340.5 80.4h1.5M337.6 90.6h1.5M350.1 111.5h1.5M354.9 84.8h1.5M343.1 113.6h1.5M342.5 83.8h1.5M339.9 104.6h1.5M338.7 92.7h1.5M343.6 103.2h1.5M338.1 91h1.5M344.3 111.7h1.5M339.8 67.6h1.5M340.2 67.4h1.5M339.9 109.1h1.5M355.9 80.9h1.5M347.8 88.6h1.5M338.2 72.3h1.5M347.3 66h1.5M351.2 100.5h1.5M341.5 81.1h1.5M356 97.8h1.5M355.5 86.8h1.5M345.5 67.1h1.5M349.8 99.8h1.5M342.6 79.3h1.5M352.1 93.1h1.5M336.2 70.2h1.5M358.1 97.3h1.5M346.5 111.4h1.5M354.1 104.9h1.5M337.5 80.3h1.5M337 104.8h1.5M342.2 83.7h1.5M343.7 66.1h1.5M350.3 76.4h1.5M353.3 103.2h1.5M356.3 121.8h1.5M348.7 85.9h1.5M349.9 75h1.5M350.5 80.8h1.5M351.4 101.5h1.5M357.3 78.9h1.5M339.3 63.3h1.5M353.5 104.1h1.5M346.8 88.3h1.5M347.9 64.4h1.5M350.5 108.7h1.5M337.9 81.8h1.5M341.7 85.7h1.5M336.6 85.8h1.5M337.5 85.6h1.5M347.2 108.5h1.5M342.8 97.2h1.5M342.9 67.8h1.5M344.2 90.1h1.5M341 83.8h1.5M354 84.3h1.5M337.6 89h1.5M338 91.2h1.5M350.3 108.6h1.5M350.5 97.4h1.5M335.6 66.5h1.5M331.5 77.7h1.5M356.1 81.6h1.5M352.2 85.4h1.5M346.1 65.8h1.5M336.8 78.6h1.5M341.5 85.8h1.5M356.1 82h1.5M321.8 102.1h1.5M324.3 85.5h1.5M345.9 106.7h1.5M342.8 88.8h1.5M352 93.5h1.5M336.1 85.7h1.5M337.3 93.6h1.5M327.9 98.5h1.5M341.6 86.4h1.5M346.6 90.2h1.5M343.2 92.2h1.5M337.4 62.2h1.5M343.4 101.5h1.5M347.6 100.3h1.5M329.4 92.1h1.5M341.2 83.7h1.5M338 93.9h1.5M322.9 116.2h1.5M350 109.6h1.5M336.8 110.1h1.5M349.4 79.2h1.5M347.1 80h1.5M341.3 86.9h1.5M347.6 97.7h1.5M343.4 85.8h1.5M339.6 102.9h1.5M353.4 93.3h1.5M332.6 110.9h1.5M347.2 90.6h1.5M341.8 98.3h1.5M348.6 110.4h1.5M337.6 60h1.5M341.9 85.8h1.5M348.9 95.1h1.5M343.9 81.4h1.5M343.9 93.7h1.5M352.5 103.2h1.5M352.5 101.2h1.5M342.5 86.3h1.5M344.8 82.4h1.5M339.3 82.4h1.5M332.7 100.9h1.5M344 78.1h1.5M352.2 97.6h1.5M342.8 68.7h1.5M352.2 92h1.5M342.4 73.5h1.5M345.3 81.2h1.5M344.1 102.1h1.5M350.5 74.1h1.5M346.7 66.3h1.5M348.4 104.6h1.5M347.5 90.6h1.5M339.4 90.3h1.5M345.9 104.4h1.5M356 88.8h1.5M350.9 108h1.5M346.2 110.1h1.5M344.6 85h1.5M337.9 107.1h1.5M339.5 99.2h1.5M353.5 87.7h1.5M345.5 89.1h1.5M346 104.4h1.5M319.7 146.5h1.5M327.9 140.9h1.5M329.4 129.7h1.5M312.5 158h1.5M327.4 129.8h1.5M316 144.1h1.5M307 150.5h1.5M313.6 142.9h1.5M309.1 146.9h1.5M311.2 143.6h1.5M306.1 159.7h1.5M314.1 159.8h1.5M326 140.4h1.5M322.4 143.4h1.5M308.2 145.6h1.5M324.3 127.8h1.5M315.8 144.8h1.5M309.3 160h1.5M304.2 159.2h1.5M332.8 129.8h1.5M320.5 134.6h1.5M332.8 130.4h1.5M327.1 147.2h1.5M322.2 138.2h1.5M311.6 154.3h1.5M313.1 155.4h1.5M322.6 135.1h1.5M307.3 149.4h1.5M306.7 160.9h1.5M308 149.9h1.5M303.7 163.5h1.5M310.8 144.4h1.5M334.3 131.5h1.5M306.4 145.1h1.5M323.1 142.4h1.5M324.1 148.7h1.5M322.2 150.9h1.5M315.9 146h1.5M331.3 131h1.5M305.6 163.5h1.5M312.5 143.5h1.5M307.3 151.6h1.5M309.7 153.9h1.5M326.3 130.5h1.5M315.2 139.5h1.5M311.7 151.4h1.5M323.5 135.2h1.5M328.2 139.8h1.5M316.8 141h1.5M323.6 149.3h1.5M317.8 146.4h1.5M306.7 157.9h1.5M327.2 139h1.5M313.9 150.4h1.5M320.5 145.3h1.5M308.8 160.4h1.5M317.3 157.6h1.5M328.4 141.5h1.5M313.6 147.4h1.5M315.5 149.6h1.5M333.6 133.3h1.5M323.6 137.5h1.5M321.2 145.1h1.5M331.2 132h1.5M317.3 149.1h1.5M311.8 149.5h1.5M327.9 134.2h1.5M329.1 125h1.5M303.6 157.2h1.5M306.2 162.7h1.5M320.6 140.2h1.5M305.5 155.5h1.5M321.2 135.5h1.5M312 142.4h1.5M314.8 138.5h1.5M319.8 149.3h1.5M319.2 150.1h1.5M314.4 153.1h1.5M302.6 155.1h1.5M312.1 161.1h1.5M324.6 133.5h1.5M316.2 155.7h1.5M331.1 132.3h1.5M304.3 160.7h1.5M328.2 136.5h1.5M330.2 132.5h1.5M308.7 158.6h1.5M310.4 147.4h1.5M301.7 157.9h1.5M321.1 153.8h1.5M305.7 162.7h1.5M323.5 153h1.5M333.1 131.7h1.5M310.7 153.9h1.5M303.6 161.6h1.5M312.3 147.2h1.5M301 161.9h1.5M314.8 144.7h1.5M327.2 140.5h1.5M321.6 141.3h1.5M309.3 154.5h1.5M304.2 159.3h1.5M320 130.6h1.5M313.6 146h1.5M317.4 149.4h1.5M319.2 143.5h1.5M315.8 149.4h1.5M313.8 147.2h1.5M328.2 141.9h1.5M318.6 155.8h1.5M317.6 131.3h1.5M319.2 138.4h1.5M328.3 142.6h1.5M323.5 138.8h1.5M307.4 154.4h1.5M306.2 162.6h1.5M306.4 155.8h1.5M316.9 146.1h1.5M329.5 136.3h1.5M320.8 146.4h1.5M330.8 130.7h1.5M320.1 140.4h1.5M305.7 153h1.5M329.6 124.5h1.5M307.9 150.8h1.5M321.9 140.3h1.5M309.4 150.4h1.5M309.7 144.6h1.5M321.2 135.8h1.5M308.4 147.1h1.5M319.9 139.6h1.5M302.3 164.1h1.5M321.7 145.2h1.5M300.2 159h1.5M309.1 144.1h1.5M316.3 144h1.5M332.2 132.4h1.5M326.4 147h1.5M317.9 140h1.5M313.1 147.1h1.5M316.4 153.8h1.5M330.6 131.1h1.5M316.7 149.5h1.5M305.1 147.1h1.5M337.8 137.2h1.5M332.2 133.3h1.5M321.2 152.6h1.5M309 155.5h1.5M313.5 158.6h1.5M318.2 140h1.5M324 145.1h1.5M298.6 156.8h1.5M319.2 136.5h1.5M327.5 132.8h1.5M307.7 148.4h1.5M315.7 156.3h1.5M321.8 148h1.5M329.6 134.8h1.5M326.7 131.8h1.5M315.3 154.8h1.5M300 153.1h1.5M305.8 145.9h1.5M330.6 133.8h1.5M313.2 156.7h1.5M315.9 155.9h1.5M314.7 149.2h1.5M319.7 138.7h1.5M315.9 137.3h1.5M323.1 137.5h1.5M320.3 146.4h1.5M310 147.5h1.5M299 161.2h1.5M325.4 144.7h1.5M319.2 149.8h1.5M303 156.5h1.5M329.8 135h1.5M308.5 144.5h1.5M312.2 156.6h1.5M331.6 130.9h1.5M329.1 133h1.5M333 126h1.5M306.8 160.6h1.5M305 154.6h1.5M308.5 153.5h1.5M322.3 133.4h1.5M323 143.1h1.5M310.9 150.7h1.5M296.1 159.5h1.5M304.9 159.1h1.5M312.7 156.5h1.5M307.4 154.5h1.5M330.1 140.9h1.5M321.4 140.6h1.5M311.9 154.6h1.5M306.4 153.8h1.5M312.3 145.7h1.5M303.1 162.6h1.5M309.1 155.6h1.5M316.9 149.6h1.5M316.1 157.5h1.5M309.5 156.3h1.5M305.7 157.9h1.5M314.8 139.7h1.5M328.2 134.1h1.5M312 142.7h1.5M326.4 135h1.5M325.6 126h1.5M322 133h1.5M325.5 133.7h1.5M313.3 151.5h1.5M309.3 156.3h1.5M312.2 141.3h1.5M324 134h1.5M332.1 129.6h1.5M310.5 147.7h1.5M304.2 158.6h1.5M325.8 138.5h1.5M306.2 148.6h1.5M326.6 141.5h1.5M306.3 149.3h1.5M329.3 134.8h1.5M319.5 152.4h1.5M322.8 132.4h1.5M305.9 153.2h1.5M313.2 153.7h1.5M319.6 146h1.5M327.8 141.5h1.5M324.3 129.2h1.5M307.9 149.1h1.5M325.4 140.1h1.5M304.3 157.3h1.5M322.2 139.4h1.5M320.1 152h1.5M308.4 149.9h1.5M318.5 138.4h1.5M327.2 138.1h1.5M321.6 130.7h1.5M308.5 153.6h1.5M309.9 162.8h1.5M317.7 146.5h1.5M299.3 159.9h1.5M336 135.8h1.5M312.7 154.9h1.5M309.1 153.4h1.5M310.1 163.3h1.5M319.6 150.8h1.5M329.4 136.6h1.5M325.5 137.8h1.5M309.7 145h1.5M324 145h1.5M326 135.5h1.5M315.8 157.8h1.5M314.5 143.7h1.5M325.5 146h1.5M326.2 128.8h1.5M317.2 148.6h1.5M318 148.5h1.5M324 141.6h1.5M309.2 149.4h1.5M315.7 137.1h1.5M316.2 155.4h1.5M314.7 145.5h1.5M303.7 153.3h1.5M311.4 149h1.5M322.2 130.8h1.5M310.9 158h1.5M300.4 157.9h1.5M323.7 140.2h1.5M320.2 147.9h1.5M305.9 151.3h1.5M326.4 140.6h1.5M328.2 137.6h1.5M323 133.1h1.5M328.1 139.8h1.5M328.2 133.5h1.5M310.6 154.2h1.5M315.8 144.3h1.5M303.2 162.2h1.5M323.4 147.8h1.5M306.3 155.3h1.5M313.8 140.7h1.5M312.8 142.2h1.5M334.1 131.5h1.5M324.6 140.9h1.5M317.3 144.5h1.5M296.2 159.6h1.5M325.6 150.7h1.5M322.6 138.2h1.5M306.8 155.1h1.5M317.8 145.7h1.5M327.7 125.9h1.5M315.1 155h1.5M301.7 159.9h1.5M303.2 146.6h1.5M323.9 134h1.5M304.6 151.7h1.5M330.2 137.6h1.5M302.5 161.5h1.5M313.1 147.8h1.5M311.7 147.1h1.5M326.6 134.4h1.5M315.6 162.5h1.5M325.7 144.7h1.5M317.6 150h1.5M325.9 141.5h1.5M328 139.7h1.5M310.4 159.6h1.5M309 149.8h1.5M312.9 137.3h1.5M316.6 140.3h1.5M309.4 155.7h1.5M324.2 145h1.5M313.6 158.2h1.5M305 152.2h1.5M324.4 137.3h1.5M309.5 153.6h1.5M321.7 142.1h1.5M325.5 140.6h1.5M318.7 146.8h1.5M310.8 147.3h1.5M313.1 155.3h1.5M306 154h1.5M310.8 145.4h1.5M308 161.4h1.5M320.3 149.8h1.5M327.1 133h1.5M328.9 132.1h1.5M326.4 143.1h1.5M308.1 162.1h1.5M323.1 145.2h1.5M326.5 141.6h1.5M329.4 136.5h1.5M299.5 161.6h1.5M309.5 149h1.5M302.4 160.4h1.5M333 137.2h1.5M328.4 134.7h1.5M325.5 136.6h1.5M313.6 153.4h1.5M323 133.1h1.5M322.9 146.5h1.5M325.2 130.5h1.5M317.2 149.3h1.5M306.6 156.2h1.5M320.6 141.5h1.5M307.8 156h1.5M329.1 127.4h1.5M327.9 143.3h1.5M312.1 144.3h1.5M317.4 145.3h1.5M309.8 157.7h1.5M310.7 146.4h1.5M316.2 150.6h1.5M303.3 160.6h1.5M311.3 155.4h1.5M306.8 155.2h1.5M323.7 139.2h1.5M306.8 160.4h1.5M315.9 144.6h1.5M319.8 141.8h1.5M324.2 146.3h1.5M319 147.7h1.5M316.8 155.9h1.5M320.9 141.2h1.5M316.2 138.4h1.5M312.2 151.5h1.5M299.7 162.4h1.5M302.3 153.3h1.5M319.8 150.8h1.5M331.2 137.1h1.5M308.9 156.4h1.5M319.4 139.8h1.5M318.3 143.6h1.5M320.6 143h1.5M304.9 156.1h1.5M317.1 152h1.5M310.7 151.2h1.5M321.8 146.6h1.5M328 141.1h1.5M314 140.8h1.5M325.4 135.7h1.5M328.1 135.9h1.5M321.9 145.2h1.5M333.8 135h1.5M304.1 151.8h1.5M317.5 157.1h1.5M302 163.5h1.5M313.3 151.9h1.5M300.6 157.9h1.5M312 154.1h1.5M319.1 140.5h1.5M314.5 138.7h1.5M300.1 162.9h1.5M313.1 156.1h1.5M310.8 160h1.5M313.7 142.4h1.5M316.1 149.9h1.5M300.5 151.5h1.5M323.8 143.9h1.5M309.3 154.7h1.5M323.6 151.1h1.5M334.2 127.7h1.5M305.7 159.9h1.5M320.6 141.5h1.5M319.7 131.3h1.5M329 139.1h1.5M306.4 153.7h1.5M309.9 153h1.5M321.7 135.8h1.5M318.4 145.4h1.5M313.3 145.9h1.5M331.6 127.9h1.5M307.4 149h1.5M302.5 159.4h1.5M315.6 156h1.5M327.3 145.1h1.5M316.1 148.5h1.5M322.4 137.5h1.5M318.3 137.4h1.5M311.2 155.2h1.5M318.7 149.4h1.5M314.4 153.4h1.5M318.8 142h1.5M331.5 130.7h1.5M322.1 136.7h1.5M318.7 148.6h1.5M321.3 145.9h1.5M315.3 149.2h1.5M328.4 131.9h1.5M312.1 149.5h1.5M311.8 149.2h1.5M313.7 154.9h1.5M324.1 138.9h1.5M305.8 152.3h1.5M302.3 160.7h1.5M308.9 154.7h1.5M325.8 137.5h1.5M319.4 136.5h1.5M320.1 135h1.5M325.4 133.6h1.5M309.7 151.6h1.5M309.8 154.3h1.5M316.2 157.1h1.5M328.7 130.2h1.5M311.8 146h1.5M325.9 127.9h1.5M319.7 151.4h1.5M337.8 132.3h1.5M320.3 150.9h1.5M322.8 147.4h1.5M317.6 156.3h1.5M309.6 146.8h1.5M325.6 144.2h1.5M302.1 164.7h1.5M324.5 138.3h1.5M315.5 148.6h1.5M314 162.4h1.5M326 139h1.5M315.3 150.6h1.5M312.7 149h1.5M302.7 161.9h1.5M302.9 156.9h1.5M316.2 156.3h1.5M316.7 141.3h1.5M321 138.8h1.5M310.5 149.4h1.5M311.9 146.6h1.5M318.7 138.1h1.5M303.1 157.7h1.5M324.9 145.4h1.5M332.2 128.9h1.5M309.9 161.7h1.5M335.7 134.1h1.5M322.1 148.7h1.5M303.7 159.8h1.5M309.1 155.3h1.5M304.9 147.6h1.5M304.9 162.9h1.5M323.1 135.2h1.5M325.6 129.6h1.5M310.2 157h1.5M312.9 142.6h1.5M312.9 143.5h1.5M311.6 153.9h1.5M320.1 144.3h1.5M305 157.7h1.5M301.2 157.2h1.5M332 135.2h1.5M327.2 143.6h1.5M312.9 152.8h1.5M309 156.2h1.5M319.8 142.3h1.5M317.8 142.1h1.5M328.5 130.9h1.5M328.2 137.9h1.5M315.8 157.4h1.5M318.6 142.3h1.5M312 161.7h1.5M309.3 146.7h1.5M316.8 156.1h1.5M306.3 159.6h1.5M299.7 157.3h1.5M316.1 154h1.5M311 156.1h1.5M308.3 152.3h1.5M316.2 149.7h1.5M310 150h1.5M305.7 159.1h1.5M306.4 164.9h1.5M314 152.4h1.5M312.4 158.7h1.5M316.3 148.7h1.5M316.8 157.3h1.5M311.1 156.9h1.5M303.1 164.5h1.5M307 162.6h1.5M314.2 155.4h1.5M314.9 151h1.5M309.6 154h1.5M303.5 164.9h1.5M301.6 157.1h1.5M311.5 158.3h1.5M302.5 152.8h1.5M308.2 157.4h1.5M300.5 156.7h1.5M310.1 154h1.5M312.3 151.5h1.5M305.4 150.1h1.5M310.9 154.7h1.5M319.2 153.4h1.5M308 155.7h1.5M307 163.5h1.5M304.8 158.3h1.5M302.2 157.1h1.5M312.7 151.6h1.5M303.4 156.8h1.5M310.5 155.3h1.5M296.7 161h1.5M299.8 151.5h1.5M301.6 152.6h1.5M304.5 155h1.5M304.7 161.6h1.5M304.3 165.8h1.5M308.1 165h1.5M313.9 156.2h1.5M301.7 159.2h1.5M312.3 158.3h1.5M303.7 149.6h1.5M309.1 166.2h1.5M315.6 155.3h1.5M303.4 161.4h1.5M303.2 163.3h1.5M317.6 162.2h1.5M309.6 156.7h1.5M304.4 159.2h1.5M303.3 168.5h1.5M309.2 155.5h1.5M300.4 159.8h1.5M314.1 150.1h1.5M312.6 164.2h1.5M309.5 157h1.5M312.3 150.6h1.5M309 152.3h1.5M305.8 157.2h1.5M306 161.8h1.5M309.4 157.3h1.5M304.1 159.9h1.5M312 160.1h1.5M306.9 158.5h1.5M311.1 161.3h1.5M309 154.9h1.5M307.3 161.1h1.5M298.6 159.8h1.5M310.8 153.5h1.5M308.9 157.5h1.5M304.2 159.3h1.5M302.8 160.8h1.5M313 149.5h1.5M304.5 159h1.5M317.5 153h1.5M306.3 155.8h1.5M304 153.3h1.5M311.2 153.5h1.5M309.7 162.2h1.5M310.8 149.4h1.5M313.2 150.4h1.5M305.3 150.2h1.5M296.5 160.3h1.5M303 155.1h1.5M307.9 160.7h1.5M299.3 161.6h1.5M314.5 157.5h1.5M313.8 158.6h1.5M310.8 155.1h1.5M305.9 158.7h1.5M302.1 155.6h1.5M300 158.6h1.5M314.1 155.4h1.5M301.3 160.8h1.5M310.2 147.7h1.5M320.9 155.2h1.5M301.2 149.8h1.5M299.5 159h1.5M303.2 157.5h1.5M308.9 146.2h1.5M314.8 163h1.5M303.7 164.7h1.5M298 156h1.5M313.6 144.7h1.5M301.6 157.2h1.5M309.2 150.4h1.5M309.5 152.2h1.5M318.6 151.4h1.5M304.9 158h1.5M305.8 149h1.5M311.4 153.4h1.5M300.4 155h1.5M301.1 162.6h1.5M298.4 167.9h1.5M306.3 163.4h1.5M310 155.2h1.5M313.3 147.6h1.5M308 159h1.5M310.9 154.3h1.5M308.4 157.6h1.5M311 151.3h1.5M297.2 162.3h1.5M297.5 166.4h1.5M307.1 160.5h1.5M300.5 162.1h1.5M308.3 160.8h1.5M303.9 157.8h1.5M305.2 157.3h1.5M301.1 155.8h1.5M296.1 161.8h1.5M310.4 161.7h1.5M302.4 157.6h1.5M308.3 162.4h1.5M312.9 155.2h1.5M312.3 164.7h1.5M305.2 162.3h1.5M307.4 153.6h1.5M308.7 153.4h1.5M309.2 155.1h1.5M317.9 151.3h1.5M307.4 156.1h1.5M316.3 156.3h1.5M300.6 158.4h1.5M314 155.2h1.5M305.8 159.1h1.5M300.7 169.2h1.5M303.5 156h1.5M300.3 154.7h1.5M315.6 146.9h1.5M315.3 155.8h1.5M309.7 157.1h1.5M299.4 154.8h1.5M305.6 164.2h1.5M307.5 150.4h1.5M307.8 156.1h1.5M309 156.7h1.5M310.7 152.3h1.5M300.1 155.4h1.5M305.6 159.7h1.5M311.6 160.1h1.5M300.3 156.3h1.5M303.5 166.4h1.5M303.8 150.9h1.5M301 155.1h1.5M311.2 148.4h1.5M313.4 157.3h1.5M304 158.8h1.5M306 149.7h1.5M313 161.2h1.5M306.4 159.8h1.5M311 158.6h1.5M313.5 156.7h1.5M309.9 157.7h1.5M314.3 147.3h1.5M310.1 155.5h1.5M306 157h1.5M309.5 152.9h1.5M306.6 161.2h1.5M302.5 152.9h1.5M299.9 160.1h1.5M312.4 161.9h1.5M313 150.3h1.5M318.8 153.8h1.5M303.5 148.2h1.5M306.2 162h1.5M300.9 166.3h1.5M311.9 158.7h1.5M312.9 148.3h1.5M298.8 159.1h1.5M301.7 157h1.5M304.3 161.3h1.5M307.8 158.8h1.5M308.8 152.7h1.5M301.8 157.6h1.5M305.6 159h1.5M302.3 156.3h1.5M308 148.1h1.5M313.8 159h1.5M317.3 152.1h1.5M315.9 149.5h1.5M303.1 155.5h1.5M310.1 152.6h1.5M307.8 156.1h1.5M311 152.9h1.5M309.4 147.5h1.5M313.8 153.7h1.5M314 148.3h1.5M312.1 158.6h1.5M301 155.9h1.5M307 154.8h1.5M308.4 158.7h1.5M305.2 161.6h1.5M316.2 150.3h1.5M314.5 163.3h1.5M307.7 157.2h1.5M314.4 150.8h1.5M316.9 143.7h1.5M300.5 159.2h1.5M308.5 162.6h1.5M313.1 150.7h1.5M312 151h1.5M311.4 150.5h1.5M299.9 157.8h1.5M310.6 156.5h1.5M300.8 158.6h1.5M309.4 163.5h1.5M311.6 159.4h1.5M310.2 159.8h1.5M314.3 156.4h1.5M296.7 160.1h1.5M298.1 166h1.5M308.4 158.3h1.5M307.9 164.6h1.5M312.6 162.3h1.5M297.4 154h1.5M310.7 165.4h1.5M300.8 163.3h1.5M302.3 162.9h1.5M307.5 155.7h1.5M311.2 154.7h1.5M308.4 155.8h1.5M315.1 153h1.5M309.7 147.7h1.5M307.8 154.7h1.5M300.7 158.5h1.5M301.4 164.2h1.5M313.8 162.4h1.5M309.1 159.8h1.5M316.4 149.5h1.5M304.9 164.6h1.5M304.8 168.3h1.5M311.3 157.5h1.5M308 149.7h1.5M305.2 155h1.5M310.9 151.1h1.5M305.1 154h1.5M304.9 151.1h1.5M304.7 152h1.5M311.6 150.2h1.5M301.8 168h1.5M310.7 143.4h1.5M304.3 158.6h1.5M307.6 157.8h1.5M309 153.1h1.5M301.8 155.5h1.5M311.5 163.5h1.5M308 162h1.5M310.6 160.2h1.5M303.2 159.6h1.5M312.7 161.8h1.5M315.1 154h1.5M307.2 162h1.5M299.9 163.5h1.5M310.5 153.7h1.5M300.9 161.8h1.5M303.5 163.2h1.5M306.8 159.3h1.5M304.2 166.7h1.5M316.1 153.7h1.5M312.6 156.4h1.5M311 147.8h1.5M310 158.7h1.5M317.7 151.3h1.5M316.8 153.6h1.5M308.2 165.8h1.5M299.1 154.7h1.5M317.7 154.8h1.5M313.3 156.4h1.5M305.5 159.5h1.5M305.5 160.3h1.5M315.7 151.1h1.5M308.2 159.4h1.5M301.3 164h1.5M302.4 153.3h1.5M299.7 167.2h1.5M302.4 152.3h1.5M302.3 153.2h1.5M305.1 165.3h1.5M308.6 161.8h1.5M308.6 149.5h1.5M296.2 158.9h1.5M304.9 146.5h1.5M300 161.9h1.5M314.8 151.5h1.5M310.2 160.5h1.5M298.4 161.6h1.5M315.5 151.6h1.5M309.1 154.1h1.5M309.6 165.3h1.5M309.4 160.7h1.5M315.2 164.1h1.5M304.6 161.4h1.5M306.9 157.4h1.5M308.3 157h1.5M308.3 155.4h1.5M311.5 154.2h1.5M307.3 151.2h1.5M300.5 160.9h1.5M312.8 153.4h1.5M307.9 160.4h1.5M312.5 159h1.5M302.6 154.7h1.5M307.1 161.5h1.5M305.8 155.6h1.5M302.2 163h1.5M308.9 150.1h1.5M317.2 160.3h1.5M315.7 152.9h1.5M314.2 148.8h1.5M300.6 157.3h1.5M312.4 157h1.5M310.5 161.7h1.5M300.9 153.3h1.5M319 149.5h1.5M308.1 151.8h1.5M301 163.7h1.5M303.7 147.6h1.5M308.8 154.7h1.5M309.7 161.1h1.5M303.1 154.5h1.5M295 160.9h1.5M314.2 163.6h1.5M304.1 151.4h1.5M301.7 163.3h1.5M314.9 152.9h1.5M309.4 162.4h1.5M316.7 158.3h1.5M297.6 165h1.5M303.1 154.1h1.5M298.7 152.5h1.5M311.7 150h1.5M298.9 155.9h1.5M320.3 155.2h1.5M317.6 155.7h1.5M303.2 154.3h1.5M311.8 152.7h1.5M311.8 148.5h1.5M312.3 153.1h1.5M303.6 154.9h1.5M305.7 160.6h1.5M299.4 158.5h1.5M318.1 154.2h1.5M300.6 158.8h1.5M300.4 159.4h1.5M298.1 157.5h1.5M308.4 161.6h1.5M300.6 163.8h1.5M302.3 153.7h1.5M303.5 159.2h1.5M305.1 155.2h1.5M317.1 155.6h1.5M314 147.7h1.5M306.2 162.1h1.5M305.8 161.2h1.5M305.8 166.1h1.5M301.2 159.9h1.5M309.2 148.5h1.5M309 157.1h1.5M302.8 152.1h1.5M299.4 159.1h1.5M307.2 162.9h1.5M309.1 165.4h1.5M307 155.7h1.5M308.3 153.4h1.5M299.9 160.9h1.5M311.8 154h1.5M305.2 153.6h1.5M307.3 154.7h1.5M306.4 146.3h1.5M306.3 154.9h1.5M307.3 151.5h1.5M312.7 166.9h1.5M301.3 154.7h1.5M309.4 157.3h1.5M308.9 150.7h1.5M304.9 153.6h1.5M313.1 162.4h1.5M303.5 158.4h1.5M307.4 154.5h1.5M311.3 155.6h1.5M306.3 149h1.5M310.4 160.3h1.5M310.7 163.4h1.5M297.5 159.2h1.5M305.9 163.4h1.5M305.3 162.6h1.5M312 156.5h1.5M311.4 146.9h1.5M312 144.9h1.5M308.6 154.1h1.5M310.3 162.3h1.5M305.2 147.2h1.5M311.8 153.7h1.5M301.6 159.3h1.5M304 152.6h1.5M306.6 151.5h1.5M308.3 161h1.5M308.9 146.8h1.5M308.8 157.6h1.5M302.7 157.6h1.5M313.6 148.4h1.5M308 152.8h1.5M305.9 150.8h1.5M311 157.2h1.5M315 156.9h1.5M310.4 159.2h1.5M319.2 151.6h1.5M308.5 162.2h1.5M307.2 156.5h1.5M315.2 153.8h1.5M302.7 155.1h1.5M305.1 159h1.5M318.6 160.2h1.5M305.7 161h1.5M310.2 149.5h1.5M309.5 163.9h1.5M359.6 145.3h1.5M349 176.3h1.5M367 186.2h1.5M350.8 170.2h1.5M364.5 173.2h1.5M356.9 158.6h1.5M350.8 160.2h1.5M350.6 162.5h1.5M360.6 185h1.5M346.4 163.1h1.5M370.8 167.6h1.5M342.3 186.1h1.5M361.6 184.8h1.5M354.9 167h1.5M341 165.7h1.5M355.9 167.1h1.5M361.7 173.6h1.5M351.8 156.8h1.5M357.5 167.8h1.5M367.1 174.4h1.5M356.3 158.9h1.5M343.5 159.7h1.5M351 167.5h1.5M348.4 155.3h1.5M354.6 162.7h1.5M363.9 163.2h1.5M342.3 167.1h1.5M350.3 178.1h1.5M363.4 175.7h1.5M348.9 141.4h1.5M349.7 166.9h1.5M369 183.9h1.5M358.4 159.8h1.5M365 183.8h1.5M367.9 158.1h1.5M354.4 159.1h1.5M350.1 163.5h1.5M359.9 181.5h1.5M366.3 162h1.5M357.6 164.7h1.5M361.3 167.9h1.5M358.3 167.4h1.5M369.8 185.5h1.5M349.5 167.4h1.5M365 176.1h1.5M351.5 172.1h1.5M333.9 180.3h1.5M348.7 178.6h1.5M367.8 183.6h1.5M348.8 192.1h1.5M367.7 152.6h1.5M361.2 155.7h1.5M354.4 165.4h1.5M347.9 162.7h1.5M361.3 143.5h1.5M364.9 171.2h1.5M353 140.7h1.5M372.2 166.7h1.5M341.1 178.6h1.5M350.3 165.4h1.5M362.8 170.4h1.5M365.7 156.6h1.5M360.2 167h1.5M350.4 177.5h1.5M350.4 139.4h1.5M356.6 163.3h1.5M349.7 166.5h1.5M354.7 163.6h1.5M358.6 155.2h1.5M357 157.6h1.5M358.8 154.2h1.5M348.6 158.3h1.5M355.6 159.4h1.5M356.6 197.7h1.5M367.3 161.6h1.5M349.1 174.1h1.5M365.7 159.7h1.5M356.4 160.3h1.5M365.6 179h1.5M342.7 160.3h1.5M346.5 161.2h1.5M338.5 138h1.5M351.5 155.5h1.5M359.1 157.3h1.5M351.2 174.6h1.5M347.2 155.8h1.5M356.1 169.3h1.5M352.4 178.9h1.5M362.3 183.9h1.5M370.3 167.4h1.5M366.2 150.8h1.5M356.9 171.3h1.5M354.5 150.6h1.5M342.5 159h1.5M346.1 168.2h1.5M364.3 173.8h1.5M356.4 165.5h1.5M365.6 161h1.5M361.9 181h1.5M349.8 174.6h1.5M363.1 168.4h1.5M365.2 165.1h1.5M348.5 168.7h1.5M363.2 178.9h1.5M347.3 178.2h1.5M365.3 175.1h1.5M343.2 163.1h1.5M355.3 149.6h1.5M366.8 184.9h1.5M364 164.9h1.5M345 167.1h1.5M365.3 176.3h1.5M367.9 161.4h1.5M349.1 179.2h1.5M350.2 154.1h1.5M346.7 178.3h1.5M368.1 156h1.5M350.2 175h1.5M351.2 159.4h1.5M350 170.9h1.5M348.4 164.3h1.5M357.6 144.2h1.5M339.1 158.3h1.5M350.5 192.4h1.5M355 157.5h1.5M337.1 132.5h1.5M341.1 135.8h1.5M364.2 180.7h1.5M351.1 157h1.5M342 157.6h1.5M348.5 156.2h1.5M345 167.6h1.5M348.8 141h1.5M358.9 156.4h1.5M344.7 157.7h1.5M364.4 164.5h1.5M339.8 134.3h1.5M339 137.8h1.5M337.3 138.6h1.5M355 162.8h1.5M351.2 160.3h1.5M336.2 131.6h1.5M336.7 163.2h1.5M342.6 156.5h1.5M348.4 140.3h1.5M355.4 140.2h1.5M342 161.1h1.5M362.8 173.7h1.5M359.8 146.1h1.5M363.3 180.9h1.5M364.5 181.2h1.5M338.7 133.2h1.5M362.4 167.7h1.5M339.9 168.2h1.5M336 180.2h1.5M363.9 169.8h1.5M357.3 145.7h1.5M360.8 142.2h1.5M356.9 155.4h1.5M340.1 168.2h1.5M360.9 144.9h1.5M364.8 162h1.5M350.9 162.6h1.5M368.8 169.1h1.5M352.9 149h1.5M357 158.6h1.5M343.5 186.2h1.5M362.5 186.6h1.5M353.1 147.9h1.5M373.1 168.2h1.5M340.4 138.4h1.5M341.3 157.9h1.5M367 183.5h1.5M360.9 146.3h1.5M343.8 178.2h1.5M362.3 182.3h1.5M366.6 157h1.5M355.8 155.9h1.5M325.5 148.5h1.5M334.4 138h1.5M320.5 136.3h1.5M316.5 147.4h1.5M309.9 142.6h1.5M310.8 156.8h1.5M318.5 133.3h1.5M300.9 153.3h1.5M295.7 157.9h1.5M304.7 160.8h1.5M349.3 161.7h1.5M339.2 159.8h1.5M335.7 180.9h1.5M308 148.5h1.5M313.1 151.1h1.5M319 138.4h1.5M322.6 134.7h1.5M302.8 150.2h1.5M335.4 179.2h1.5M315.1 153.9h1.5M311.3 167.2h1.5M304.5 156.3h1.5" stroke="#000" stroke-width="1.5" fill="none"/><path d="M294.6 75.2h1.3M318.6 57.6h1.3M302.4 63.3h1.3M299.3 63.9h1.3M299.5 68.3h1.3M323.8 55.9h1.3M300.6 61h1.3M331.6 57.7h1.3M355 120h1.3M291.2 112.1h1.3M303.6 118.4h1.3M280.1 101.2h1.3M286.4 93.8h1.3M298.2 105.4h1.3M285.2 99.3h1.3M289.5 73h1.3M367.8 83.8h1.3M289.2 83.7h1.3M295.6 110h1.3M364.1 101.8h1.3M288.5 100.3h1.3M275.9 83.3h1.3M292.9 108.3h1.3M337.4 99.7h1.3M297.6 92.6h1.3M284.3 103.4h1.3M292.6 95.1h1.3M293 68.6h1.3M319.4 50.2h1.3M359.9 79.2h1.3M361 98h1.3M298.5 115.5h1.3M338.1 57.8h1.3M290 93.6h1.3M304.1 53.1h1.3M362 89.6h1.3M292.7 87.2h1.3M295 104.9h1.3M354.6 107.8h1.3M274.4 93.3h1.3M342.8 107.5h1.3M294.9 97.8h1.3M296.8 70.8h1.3M290.8 98.6h1.3M351.7 57.7h1.3M296.4 94.9h1.3M332.6 114h1.3M306.3 115.7h1.3M286.8 84h1.3M356.2 102.4h1.3M313.9 44.4h1.3M301.9 113.2h1.3M338.2 55.5h1.3M336.3 102.7h1.3M307.7 135.1h1.3M344.6 73.4h1.3M300 128h1.3M314.1 124.1h1.3M303.9 103.5h1.3M340.7 118h1.3M302.1 106.6h1.3M311.9 126.8h1.3M299.7 102.5h1.3M303.6 122h1.3M328 113.9h1.3M318.8 127h1.3M303.2 124.6h1.3M335.6 99.7h1.3M303.1 118.6h1.3M309.5 124.7h1.3M303.6 118h1.3M307.2 127.7h1.3M312.6 123.6h1.3M307.5 105.3h1.3M322.7 127.1h1.3M302.3 108.3h1.3M299.9 122h1.3M305.1 111.2h1.3M353.3 57.1h1.3M353.3 115.1h1.3M352.4 118.6h1.3M350 119.8h1.3M353.7 114.8h1.3M359.7 89.1h1.3M339.4 121.9h1.3M353.1 66h1.3M357.1 104.3h1.3M353.6 112.8h1.3M347 58.4h1.3M352.1 70h1.3M360.9 62.3h1.3M350 122.9h1.3M359.1 101h1.3M360 83h1.3M350.4 61.2h1.3M353.7 72.8h1.3M362.6 60h1.3M344.2 72.5h1.3M357.9 122.3h1.3M356.1 78.2h1.3M360.3 102.3h1.3M368.3 93.1h1.3M365.7 85.8h1.3M341.5 122.1h1.3M359.9 119.1h1.3M365 108.5h1.3M342.2 115.2h1.3M358.1 114.2h1.3M340.4 62.8h1.3M357.4 96.4h1.3M364.9 107.9h1.3M360.5 97.2h1.3M348.9 82.8h1.3M360.7 81.9h1.3M358 88.4h1.3M349.6 114.1h1.3M346 69.6h1.3M349.7 114.2h1.3M347.7 79.2h1.3M360.4 69.8h1.3M361.1 61.6h1.3M354.7 97.7h1.3M345 132.2h1.3M351.3 97.1h1.3M354.9 124.3h1.3M349.2 56.9h1.3M356.2 92.1h1.3M355.5 72.2h1.3M311.6 137.1h1.3M332.1 140.2h1.3M312.9 134.5h1.3M295.7 153.7h1.3M292.6 153.3h1.3M293.8 162.3h1.3M308.2 173.5h1.3M300.9 172h1.3M296.7 148.8h1.3M349.3 181.5h1.3M351 184.3h1.3M385.3 158.1h1.3M366.3 134.4h1.3M367.6 148.2h1.3M338.8 177.9h1.3M371.2 153.8h1.3M375.1 180.2h1.3M363.6 193.3h1.3M378.9 160h1.3M371.6 183.9h1.3M366.1 136.8h1.3M339.9 185h1.3M346.7 170.3h1.3M388.2 175.3h1.3M355.3 184.4h1.3M368 171.2h1.3M359.4 136.3h1.3M373 147h1.3M358.4 173.7h1.3M352.3 138.3h1.3M344.8 191.3h1.3M369.5 193.3h1.3M360 161h1.3M344.4 172.9h1.3M353.1 185.3h1.3M342.7 197.3h1.3M336.1 153.8h1.3M364.4 140.1h1.3M373.4 171.9h1.3M363.5 189.7h1.3M357.7 199.1h1.3M369.3 152.5h1.3M346 187.2h1.3M379.4 149.9h1.3M383.5 165.6h1.3M378.4 145.9h1.3M353.7 144.6h1.3M350 135.3h1.3M356.2 128.2h1.3M371.1 141.6h1.3M331.6 170.6h1.3M377.8 191.8h1.3M356.8 188.3h1.3M337.4 146.8h1.3M368.8 122.4h1.3M360.5 139.2h1.3M335.7 127.4h1.3M354.4 198.4h1.3M343.2 188.5h1.3M353.3 175.3h1.3M354.2 172.4h1.3M357.3 177.8h1.3M365.8 186.9h1.3M380.4 158.6h1.3M362.4 192.9h1.3M349.3 143.6h1.3M354 196.9h1.3M359.5 160.7h1.3M359.2 151.9h1.3M348.1 124.9h1.3M368.8 188.9h1.3M374.8 181.4h1.3M351.5 190.1h1.3M358.1 189.4h1.3M371.5 161.1h1.3M362.1 158.7h1.3M355.9 132.4h1.3M347 152.5h1.3M376.5 157.6h1.3M337.2 145.7h1.3M345.1 174.5h1.3M357.8 198.7h1.3M363.9 154.9h1.3M342.3 171.9h1.3M370 174.5h1.3M369.5 170.8h1.3M328 166.1h1.3M361 140.3h1.3M365.5 150.6h1.3M356.5 141.2h1.3M375.7 147.5h1.3M334.1 198.2h1.3M355.5 183h1.3M373.1 173.3h1.3M340.8 191.1h1.3M335.3 165.2h1.3M370 199.9h1.3M364.7 140.3h1.3M357.2 135h1.3M351 194.1h1.3M332.7 163.9h1.3M342.5 181.4h1.3M368.3 179.8h1.3M342.6 193.7h1.3M338.3 164.7h1.3M336.8 198.9h1.3M368.2 178.8h1.3M359.7 175.8h1.3M344.9 147.2h1.3M344.8 194.9h1.3M347.9 151.2h1.3M339.6 189.9h1.3M374.2 142.1h1.3M354.3 189.3h1.3M365.5 135.1h1.3M347.7 193.7h1.3M344.2 151.8h1.3M337.7 169.7h1.3M342 144h1.3M336.6 161.2h1.3M338.9 195.3h1.3M363.9 130.2h1.3M342.5 139.1h1.3M356.5 137.9h1.3M343.2 163.3h1.3M337.2 153h1.3M359.5 170.3h1.3M341.7 150.1h1.3M346.3 190.3h1.3M349.1 185.6h1.3M333.7 144.9h1.3M376 171.6h1.3M364.4 145h1.3M360.7 152.4h1.3M353 179.3h1.3M370.8 161.7h1.3M357.6 181.1h1.3M362.6 198.6h1.3M324.5 190.2h1.3M290.1 163.3h1.3M320.6 185.7h1.3M304.3 177.3h1.3M331.8 175.2h1.3M323.4 179.7h1.3M332.1 180.5h1.3M301.6 183.5h1.3M311.3 182.9h1.3M321.8 173.1h1.3M289.8 171.3h1.3M297.1 140.3h1.3M309.4 198h1.3M343.3 134.1h1.3M286 155.2h1.3M311.9 181.1h1.3M305.4 183.8h1.3M320.6 190.3h1.3M292.9 190.2h1.3M291.4 146.3h1.3M319 188h1.3M327.9 188.8h1.3M312.6 175.7h1.3M294.4 142h1.3M316.2 186.7h1.3M292 183.6h1.3M300.4 131.7h1.3M325.1 160.2h1.3M324.2 167.6h1.3M329.8 151.2h1.3M330.7 188.6h1.3M302.5 143.6h1.3M307.6 134.4h1.3M328.1 193h1.3M296.8 182.3h1.3M288.7 166.1h1.3M306 185.9h1.3M292.7 185.4h1.3M321 184.5h1.3M323.6 179h1.3M328.6 150.5h1.3M308.2 182.7h1.3M300 148h1.3M342.8 177.1h1.3M295.1 166.8h1.3M330.8 188.7h1.3M332.5 168.6h1.3" stroke="#111" stroke-width="1.3" fill="none"/><rect x="249.5" y="26.5" width="193" height="192.5" fill="none" stroke="#000" stroke-width="1.7"/><rect x="267.7" y="39.5" width="163.3" height="161.5" fill="none" stroke="#000" stroke-width="1.3"/><path d="M267.7 201v4.2M267.7 201h-4.2M280 201v2.6M267.7 188.8h-2.6M287.2 201v2.6M267.7 181.7h-2.6M292.3 201v2.6M267.7 176.7h-2.6M296.2 201v2.6M267.7 172.8h-2.6M299.5 201v2.6M267.7 169.6h-2.6M302.2 201v2.6M267.7 166.9h-2.6M304.6 201v2.6M267.7 164.5h-2.6M306.7 201v2.6M267.7 162.5h-2.6M308.5 201v4.2M267.7 160.6h-4.2M320.8 201v2.6M267.7 148.5h-2.6M328 201v2.6M267.7 141.4h-2.6M333.1 201v2.6M267.7 136.3h-2.6M337.1 201v2.6M267.7 132.4h-2.6M340.3 201v2.6M267.7 129.2h-2.6M343 201v2.6M267.7 126.5h-2.6M345.4 201v2.6M267.7 124.2h-2.6M347.5 201v2.6M267.7 122.1h-2.6M349.4 201v4.2M267.7 120.2h-4.2M361.6 201v2.6M267.7 108.1h-2.6M368.8 201v2.6M267.7 101h-2.6M373.9 201v2.6M267.7 95.9h-2.6M377.9 201v2.6M267.7 92h-2.6M381.1 201v2.6M267.7 88.8h-2.6M383.9 201v2.6M267.7 86.1h-2.6M386.2 201v2.6M267.7 83.8h-2.6M388.3 201v2.6M267.7 81.7h-2.6M390.2 201v4.2M267.7 79.9h-4.2M402.5 201v2.6M267.7 67.7h-2.6M409.7 201v2.6M267.7 60.6h-2.6M414.8 201v2.6M267.7 55.6h-2.6M418.7 201v2.6M267.7 51.7h-2.6M421.9 201v2.6M267.7 48.5h-2.6M424.7 201v2.6M267.7 45.8h-2.6M427 201v2.6M267.7 43.4h-2.6M429.1 201v2.6M267.7 41.3h-2.6M431 201v4.2M267.7 39.5h-4.2" stroke="#000" stroke-width="1.1" fill="none"/><text x="258.7" y="212.4" font-family="Liberation Mono" font-size="10" stroke="#000" stroke-width="0.35">10<tspan font-size="7" dy="-2.4">0</tspan></text><text transform="translate(263.9,210) rotate(-90)" font-family="Liberation Mono" font-size="10" stroke="#000" stroke-width="0.35">10<tspan font-size="7" dy="-2.4">0</tspan></text><text x="299.5" y="212.4" font-family="Liberation Mono" font-size="10" stroke="#000" stroke-width="0.35">10<tspan font-size="7" dy="-2.4">1</tspan></text><text transform="translate(263.9,169.6) rotate(-90)" font-family="Liberation Mono" font-size="10" stroke="#000" stroke-width="0.35">10<tspan font-size="7" dy="-2.4">1</tspan></text><text x="340.4" y="212.4" font-family="Liberation Mono" font-size="10" stroke="#000" stroke-width="0.35">10<tspan font-size="7" dy="-2.4">2</tspan></text><text transform="translate(263.9,129.2) rotate(-90)" font-family="Liberation Mono" font-size="10" stroke="#000" stroke-width="0.35">10<tspan font-size="7" dy="-2.4">2</tspan></text><text x="381.2" y="212.4" font-family="Liberation Mono" font-size="10" stroke="#000" stroke-width="0.35">10<tspan font-size="7" dy="-2.4">3</tspan></text><text transform="translate(263.9,88.9) rotate(-90)" font-family="Liberation Mono" font-size="10" stroke="#000" stroke-width="0.35">10<tspan font-size="7" dy="-2.4">3</tspan></text><text x="422" y="212.4" font-family="Liberation Mono" font-size="10" stroke="#000" stroke-width="0.35">10<tspan font-size="7" dy="-2.4">4</tspan></text><text transform="translate(263.9,48.5) rotate(-90)" font-family="Liberation Mono" font-size="10" stroke="#000" stroke-width="0.35">10<tspan font-size="7" dy="-2.4">4</tspan></text><line x1="334.6" y1="39.5" x2="334.6" y2="201" stroke="#000" stroke-width="1.2"/><line x1="267.7" y1="128.2" x2="431" y2="128.2" stroke="#000" stroke-width="1.2"/><path d="M96.7 393.5h1.5M106.6 387.5h1.5M105.3 401.6h1.5M96.5 402.9h1.5M93 380.4h1.5M94.1 407.6h1.5M101.1 391.1h1.5M109 390h1.5M111.3 400.2h1.5M120.4 384.1h1.5M109.8 381.1h1.5M105.8 394.1h1.5M100.7 384.6h1.5M116.5 379.5h1.5M104.5 393.4h1.5M103.6 388.5h1.5M84.7 390.1h1.5M105.9 394.3h1.5M98.2 395.9h1.5M96.8 395.7h1.5M109.9 384.9h1.5M95.9 394.1h1.5M116.5 390h1.5M97.5 401.4h1.5M99 391h1.5M97.6 403h1.5M100.1 395.8h1.5M88.1 395.6h1.5M93.4 392.6h1.5M113.4 382.2h1.5M88.8 406h1.5M111.8 403h1.5M110.4 384.8h1.5M104.4 405.2h1.5M89.4 401.4h1.5M96.4 403.5h1.5M107 392.5h1.5M100 393.5h1.5M101.4 384.8h1.5M100.9 393.8h1.5M114.6 384h1.5M110.2 393.5h1.5M107.4 392.4h1.5M98.8 391.1h1.5M112.8 396.5h1.5M102.1 401.1h1.5M90.4 402.6h1.5M106.7 392.8h1.5M122.3 384.3h1.5M110.9 399.2h1.5M112.3 383.7h1.5M94.5 393.3h1.5M103.8 406.4h1.5M94.8 400.2h1.5M115.4 381.7h1.5M101.7 388.2h1.5M96.5 401.9h1.5M114.7 391h1.5M93 405.5h1.5M101.7 394.6h1.5M102.5 379.5h1.5M119.8 387.4h1.5M95 399.3h1.5M98.1 399.9h1.5M100.2 393.6h1.5M117.4 377.8h1.5M119.1 378.1h1.5M103.1 404.8h1.5M89.8 402.1h1.5M91.1 392.8h1.5M105.4 394h1.5M109.9 373.1h1.5M115.5 382.2h1.5M91.9 397.6h1.5M113.8 375.9h1.5M100.7 401.8h1.5M113.6 404.4h1.5M95.2 400.7h1.5M113.9 392.1h1.5M98.7 394.2h1.5M107.8 404h1.5M91.1 386.9h1.5M117.6 387h1.5M116.3 374.5h1.5M107.4 396.3h1.5M97 385.5h1.5M92.2 388h1.5M100.3 403.8h1.5M103.5 392.5h1.5M118.9 381.1h1.5M97.5 397.4h1.5M112.2 381.4h1.5M104.9 401.6h1.5M100.9 393.8h1.5M101 403.1h1.5M116.5 394.1h1.5M100.7 407.2h1.5M90.8 395.2h1.5M116 393.8h1.5M94.5 393.9h1.5M95.2 410.6h1.5M112.7 391.2h1.5M116 376.9h1.5M106.3 374.7h1.5M96.9 393.9h1.5M114.1 400.6h1.5M91.8 405.6h1.5M92.5 406h1.5M99.8 406.8h1.5M111 395.6h1.5M115.1 391.8h1.5M91.4 402.3h1.5M102.3 389.3h1.5M105.4 395.4h1.5M117.1 391.3h1.5M97.8 383.7h1.5M91 396.3h1.5M96.2 382.8h1.5M113.3 399.2h1.5M92.2 401.6h1.5M105.1 396.9h1.5M96.1 386.9h1.5M111 389h1.5M103.7 407.3h1.5M96.8 403h1.5M90.8 404.9h1.5M89 391.8h1.5M101.5 386.9h1.5M106.5 384.2h1.5M112.8 390.7h1.5M123.8 385.6h1.5M91.9 403.3h1.5M90.4 406.2h1.5M112.1 398.2h1.5M95.9 391.3h1.5M91.9 413h1.5M111.5 380.4h1.5M100.4 386.1h1.5M85 398.2h1.5M98.5 382.9h1.5M112.2 389h1.5M88 409h1.5M90.1 405.6h1.5M122.5 378.4h1.5M117.9 395.8h1.5M111.3 395.7h1.5M106.9 384.3h1.5M99.8 398.1h1.5M103.6 398.7h1.5M106.7 378.3h1.5M106.8 407.8h1.5M95.1 387.6h1.5M102.8 376.2h1.5M105.4 405.2h1.5M112.1 388.5h1.5M113.3 373.1h1.5M97.2 398h1.5M92.5 398.3h1.5M99.2 398.2h1.5M117.5 381.6h1.5M90.5 390.6h1.5M95.2 389.9h1.5M103.2 396.6h1.5M112.1 377.2h1.5M104 385h1.5M91.3 394.6h1.5M114.1 390.2h1.5M108.6 384.5h1.5M103.1 375.4h1.5M118.9 389.5h1.5M109.8 373.2h1.5M108.2 384.6h1.5M105.8 384.9h1.5M112.5 387.6h1.5M104 399.1h1.5M100.9 391.5h1.5M103 405h1.5M97.8 401.9h1.5M88.7 389.4h1.5M87.5 401.8h1.5M105.6 387.3h1.5M105.2 398.8h1.5M96.2 387.7h1.5M102 399.4h1.5M95.5 394.7h1.5M97.5 393.4h1.5M89.6 399.4h1.5M101.2 380.9h1.5M101.3 389.3h1.5M110.2 387.7h1.5M102.7 394.6h1.5M112.6 379.7h1.5M116.1 373.6h1.5M110.7 392.6h1.5M116.8 392.8h1.5M104.7 381.1h1.5M98.4 398.1h1.5M102.4 405.6h1.5M90.6 412.2h1.5M96.2 410.9h1.5M114.2 384.9h1.5M95 398h1.5M96 405.8h1.5M97 394.9h1.5M114.3 374.8h1.5M118.7 388.8h1.5M121.7 380.3h1.5M101.4 380.6h1.5M93.9 410.7h1.5M88.9 408.4h1.5M91.6 404.7h1.5M102 405.1h1.5M124.1 385.9h1.5M97.7 409.6h1.5M110.4 399.3h1.5M100.8 402.6h1.5M111.6 402.8h1.5M90.2 402.1h1.5M104.8 385.8h1.5M106.5 390.4h1.5M102.1 380.3h1.5M111.2 382.6h1.5M118.3 395.5h1.5M108.6 377.8h1.5M96.6 395.3h1.5M109 377.9h1.5M101.7 387.4h1.5M106.3 387.5h1.5M103.3 387.1h1.5M92.3 387.9h1.5M112 385h1.5M103.5 379.4h1.5M85.6 395.7h1.5M96.6 393.6h1.5M119.2 381.7h1.5M111.3 393.4h1.5M118.6 383.3h1.5M87.6 404.1h1.5M116.2 387.8h1.5M93.1 402.6h1.5M114.6 382.5h1.5M110.1 399h1.5M111.2 387.3h1.5M86 406.7h1.5M125.4 379.9h1.5M110.1 399.2h1.5M112.7 396.8h1.5M97.9 408.9h1.5M113 392.1h1.5M109 372.2h1.5M95.9 410.3h1.5M119.4 386.9h1.5M114.1 376.4h1.5M108.4 401.7h1.5M101.4 392.8h1.5M101.1 380h1.5M118.3 380.3h1.5M105.8 392.4h1.5M114.9 398.6h1.5M99.7 391h1.5M118.5 392.4h1.5M102.7 386.7h1.5M113.5 395.1h1.5M99.6 379.1h1.5M111.3 376.4h1.5M103.3 378.5h1.5M116.2 395.6h1.5M88.9 380.7h1.5M106.5 392.4h1.5M120.1 387.3h1.5M104.5 372.9h1.5M110.3 388.2h1.5M107 385h1.5M121.1 378h1.5M90.3 412.7h1.5M87.3 407.7h1.5M101.9 398.1h1.5M103.1 400.1h1.5M111 381.5h1.5M91.5 401.7h1.5M125 380.2h1.5M100.4 399.5h1.5M99.3 390.7h1.5M111.9 396.5h1.5M112.3 376.7h1.5M98.7 388.6h1.5M87.5 406.3h1.5M89.7 407.8h1.5M95.7 409h1.5M107.3 389.2h1.5M98.7 404.9h1.5M119.1 381.2h1.5M108.9 394.2h1.5M107.2 389.7h1.5M105.6 397.9h1.5M102.3 397.3h1.5M93.6 394h1.5M112.5 390.5h1.5M108.6 382h1.5M104 397.7h1.5M112.4 388h1.5M114.2 396h1.5M118.3 385.1h1.5M101.4 391.6h1.5M103.9 388.4h1.5M105.8 406h1.5M101.4 412.6h1.5M116.6 390.4h1.5M106.4 392.7h1.5M117 389.1h1.5M120.1 375.7h1.5M110.8 397.3h1.5M98 401.6h1.5M103.8 389.4h1.5M104.2 391.2h1.5M102.4 404.3h1.5M106.1 388.5h1.5M102.3 382.9h1.5M107.8 404.1h1.5M91.5 397.8h1.5M102.9 404.3h1.5M91.6 398.1h1.5M95.2 390.9h1.5M99.5 402.7h1.5M90.6 394.5h1.5M96.3 410.3h1.5M98.6 390.3h1.5M92.7 389.5h1.5M114.5 383.5h1.5M102.6 386.3h1.5M110 378.8h1.5M105.3 401.1h1.5M110.2 376.7h1.5M100.9 403.6h1.5M107.7 405.2h1.5M114.9 393.2h1.5M89.9 408h1.5M108.7 393.8h1.5M111.1 398h1.5M93.2 404.3h1.5M98.6 401.9h1.5M100.7 408.6h1.5M102.9 393.4h1.5M113.4 388.2h1.5M89.1 391h1.5M104.9 389.4h1.5M113.7 381.1h1.5M109.3 383.4h1.5M109 374.5h1.5M91.8 395.2h1.5M104.9 390.9h1.5M108.4 390.6h1.5M112.5 391.4h1.5M100.9 389.2h1.5M116.1 400.9h1.5M111.7 392.9h1.5M93.6 388.5h1.5M108.3 395.8h1.5M93.2 407.9h1.5M117.6 376.3h1.5M111.5 380.7h1.5M93 407.3h1.5M107 387.7h1.5M102.5 404.3h1.5M94.6 404.3h1.5M93.5 387.8h1.5M98.7 404.9h1.5M104.7 392.8h1.5M116.7 392.2h1.5M89.9 406.1h1.5M89.5 406.8h1.5M96.7 398.5h1.5M123.1 379.9h1.5M98.6 407.8h1.5M95.9 394h1.5M110.9 391.3h1.5M96.1 397.6h1.5M92.8 407h1.5M106.7 392.1h1.5M102.1 386.6h1.5M109.9 394.7h1.5M93.3 408.8h1.5M111.1 394.5h1.5M92.1 405.2h1.5M93.5 395.5h1.5M112.2 380.1h1.5M87.8 390.6h1.5M109.6 375.9h1.5M105.2 397.2h1.5M110.4 377.6h1.5M92.3 404.6h1.5M109.3 383.1h1.5M104.9 397.5h1.5M95.3 390.5h1.5M97.5 395.1h1.5M103.2 406.4h1.5M94.9 393.3h1.5M104.7 374.9h1.5M120.9 387.8h1.5M112.1 390.1h1.5M100.7 405.2h1.5M91 394.4h1.5M91.3 394.1h1.5M108.3 384.5h1.5M114.9 378.4h1.5M95.5 408.8h1.5M102.4 385.5h1.5M113.7 375.4h1.5M93.3 409.3h1.5M94.9 407.1h1.5M102.8 409.9h1.5M104.2 378.5h1.5M96 394.1h1.5M101 407.2h1.5M108.3 395.8h1.5M94.4 394.5h1.5M113.9 388.2h1.5M112.8 374.9h1.5M106.1 386.9h1.5M92.6 398.5h1.5M97.7 391.8h1.5M107.9 393.5h1.5M108.7 372.3h1.5M99.4 390.2h1.5M115.9 378.3h1.5M112.3 385.5h1.5M102.8 385.8h1.5M97.9 385.7h1.5M89.2 397.3h1.5M95.5 388.7h1.5M96 410.3h1.5M109.3 384.3h1.5M102.9 386.5h1.5M109.7 394.9h1.5M99.4 399.9h1.5M117.5 379.5h1.5M115 378.4h1.5M108.6 394.7h1.5M95.7 398.5h1.5M95.9 385.3h1.5M92.2 397.7h1.5M114.1 396.6h1.5M92.3 404.3h1.5M108.8 390.8h1.5M120.1 376.8h1.5M103.4 395.1h1.5M107 388.9h1.5M89.7 404.5h1.5M104.1 407.3h1.5M109 385.7h1.5M103.1 402h1.5M97.1 410.5h1.5M98.6 381.9h1.5M90.7 394.6h1.5M99.6 395.2h1.5M107.1 397.1h1.5M112.8 377.7h1.5M98.5 410.8h1.5M109.2 398.7h1.5M99.3 404.6h1.5M93.4 401.2h1.5M88.3 394.3h1.5M113.5 383.6h1.5M101.2 408h1.5M122.1 374.8h1.5M113.4 396.1h1.5M108.7 395.6h1.5M104 392.4h1.5M110.8 391.8h1.5M106.8 401.7h1.5M112.8 380.8h1.5M105.2 399.3h1.5M107.2 388.1h1.5M102.5 384.8h1.5M93.6 398.9h1.5M103.9 402.1h1.5M116.3 377.4h1.5M92.2 395h1.5M98 387.3h1.5M87.7 406.6h1.5M107.8 400.4h1.5M116.7 381.7h1.5M102 387.9h1.5M109 388.4h1.5M118.3 382h1.5M101.8 392.1h1.5M103.8 393.3h1.5M107.8 387.8h1.5M101.5 376h1.5M102 409.6h1.5M102.9 390.5h1.5M119.1 378.4h1.5M117.5 385.2h1.5M114.4 395h1.5M109.8 375.2h1.5M108.4 378.2h1.5M117.3 379.1h1.5M100.7 405.4h1.5M88.7 399.3h1.5M110.1 378.9h1.5M107 386h1.5M99.9 396.8h1.5M99.1 393.5h1.5M93.2 399h1.5M108.1 383.5h1.5M93.5 405.6h1.5M117.1 380.4h1.5M111.9 378.7h1.5M101.2 399.8h1.5M99.3 402.3h1.5M93.9 392.1h1.5M105.5 394.6h1.5M107 373.3h1.5M100.7 401.9h1.5M116.1 382.7h1.5M100 379.9h1.5M84.7 392.3h1.5M93.6 399.3h1.5M97.7 396.8h1.5M115.4 383.3h1.5M100.8 408.4h1.5M120.4 387.7h1.5M104.4 400h1.5M92 405.9h1.5M92.2 409.2h1.5M112 376.6h1.5M94.4 384.5h1.5M118 382h1.5M114.1 388.7h1.5M118.6 398.6h1.5M103.9 388.5h1.5M110.8 395.7h1.5M93.2 402.8h1.5M115.9 381.1h1.5M106.4 398.4h1.5M107.5 386.5h1.5M117.5 376.8h1.5M108.4 391.1h1.5M112.4 385.9h1.5M116.6 384.8h1.5M115.5 375.1h1.5M94.2 401.4h1.5M121.1 389.9h1.5M119.4 383h1.5M103 396.1h1.5M100.5 389h1.5M96 404h1.5M95 393.2h1.5M98.5 385.8h1.5M94.7 404h1.5M114.4 379.3h1.5M99.7 407.8h1.5M105.2 404.1h1.5M108.3 390.2h1.5M101.5 389.4h1.5M94.9 403.4h1.5M97.4 412.7h1.5M99.5 391.7h1.5M112.3 383.3h1.5M92.2 392.1h1.5M107.8 385.6h1.5M116.3 383.2h1.5M92.5 401.6h1.5M93.3 401.5h1.5M113.5 382h1.5M89.8 397.3h1.5M107.5 382.5h1.5M101.1 404.4h1.5M96.1 401.3h1.5M116.2 386.6h1.5M110.7 389.7h1.5M102 397.2h1.5M95.7 394.2h1.5M105.7 392.6h1.5M108 397.7h1.5M106.2 385.7h1.5M98.9 410.9h1.5M108.5 390.4h1.5M98.1 400.3h1.5M111.9 385.2h1.5M114.4 382.5h1.5M115 394h1.5M112.4 388.6h1.5M112.8 379.7h1.5M122.9 383.8h1.5M122.8 392.3h1.5M107.8 374.1h1.5M92.6 405.3h1.5M121.6 378.8h1.5M114.2 389.9h1.5M111.8 378.3h1.5M104.9 406h1.5M90.5 389h1.5M106.6 386.3h1.5M90.6 401.3h1.5M100.3 399.8h1.5M92 388.9h1.5M98.4 400.1h1.5M101.5 399.5h1.5M102.8 380.9h1.5M115.3 378.4h1.5M100.8 400.6h1.5M107.5 379.3h1.5M119.9 390.9h1.5M107.2 406.8h1.5M100.4 403.8h1.5M114.2 383.3h1.5M107.4 376h1.5M104.8 391.4h1.5M97.5 386.7h1.5M115.1 380.7h1.5M106.7 392.1h1.5M98.7 378.5h1.5M114.5 390.3h1.5M90.9 406.5h1.5M115.5 375.3h1.5M114.1 382.2h1.5M97 379.1h1.5M117.4 396.2h1.5M116.6 381.4h1.5M105.6 403.5h1.5M121.3 375.4h1.5M105.6 403h1.5M87.5 395.2h1.5M119.2 381.5h1.5M97.7 396.6h1.5M90.5 397.3h1.5M113.8 405.5h1.5M111.3 383.5h1.5M99.8 411.6h1.5M98.9 403.4h1.5M96.6 396.4h1.5M99.3 388.3h1.5M102.9 404h1.5M112.7 394.3h1.5M106.4 387.7h1.5M89.5 402.9h1.5M118.1 383.8h1.5M121.6 379.2h1.5M110.6 386.8h1.5M116.5 380.3h1.5M102.7 395.1h1.5M104.2 386.1h1.5M97.7 383.6h1.5M96.1 402.3h1.5M103 379.7h1.5M111.5 377.7h1.5M98.3 393.4h1.5M99.7 409.1h1.5M91.5 403.5h1.5M104.1 386.9h1.5M97.2 406.1h1.5M104.2 392.7h1.5M97 392.3h1.5M101.8 397.6h1.5M111.4 385.5h1.5M114.8 379h1.5M108.7 391.2h1.5M109.6 391.4h1.5M95.3 382.4h1.5M114.1 377.8h1.5M117.5 384.8h1.5M95 406.9h1.5M100.7 377.9h1.5M95.6 386.1h1.5M85.8 393.2h1.5M96.9 392h1.5M96.2 403.9h1.5M106 380.3h1.5M97.2 382.9h1.5M96.5 395.6h1.5M101.1 391.6h1.5M93.9 404.8h1.5M100.1 381h1.5M110 378.9h1.5M92.7 402.9h1.5M93.6 392.6h1.5M84 403.5h1.5M114.5 378.4h1.5M91.9 401.1h1.5M97.9 396.3h1.5M93 395.9h1.5M107.7 393.6h1.5M102.2 399.2h1.5M116.8 379.7h1.5M102.4 404.2h1.5M107.7 378.3h1.5M104.3 391.4h1.5M97.4 406.9h1.5M113.6 392.2h1.5M92.4 398.4h1.5M110.6 380.9h1.5M99.7 383.6h1.5M96.1 407.9h1.5M97.4 396.9h1.5M109.6 394.7h1.5M101 399.8h1.5M98.4 386.8h1.5M110.4 384.7h1.5M88.7 401.9h1.5M99 400.5h1.5M113 391.7h1.5M93.9 401.9h1.5M111.4 386.1h1.5M108.9 390.7h1.5M119.8 396.6h1.5M89.6 392.4h1.5M103.3 389.8h1.5M101.3 393.5h1.5M96.1 412.7h1.5M98.5 402.3h1.5M103.2 403.6h1.5M108.8 408.2h1.5M91.4 388h1.5M103.7 398h1.5M89.5 398.9h1.5M112.5 380.7h1.5M97.3 396.8h1.5M117 383.1h1.5M115.8 384h1.5M109 380.2h1.5M93.1 397.9h1.5M119.7 380.8h1.5M86.7 398.4h1.5M105.8 399.5h1.5M110.1 382.5h1.5M109.1 403.7h1.5M93.2 408.6h1.5M105.6 375.9h1.5M106.9 403.9h1.5M107.7 396.9h1.5M100.1 387h1.5M95.9 397.4h1.5M101 404.8h1.5M121.3 378h1.5M98.1 400.1h1.5M98.5 397h1.5M107.2 405.7h1.5M104.2 390.2h1.5M93.9 397h1.5M92.1 405.3h1.5M98.6 406.4h1.5M104 377.5h1.5M98.4 388h1.5M95.5 405.8h1.5M113.9 379h1.5M95.7 392.4h1.5M92.9 393.7h1.5M91 398.2h1.5M114.7 381.3h1.5M102.8 390.3h1.5M103.9 373h1.5M107.2 384.3h1.5M99.2 388.3h1.5M96.4 390.9h1.5M97.4 393.9h1.5M102.8 387.7h1.5M112.7 390.2h1.5M99.1 398h1.5M100.1 400.7h1.5M99.8 391.8h1.5M98.5 407.6h1.5M100.6 378.6h1.5M86.7 403.4h1.5M119.3 379.6h1.5M109.6 384.9h1.5M112.6 372.2h1.5M110.9 376.7h1.5M114.7 374h1.5M100.4 373.6h1.5M115.7 379.5h1.5M111.5 375.4h1.5M92.2 409.5h1.5M91.7 403.4h1.5M115.1 400.6h1.5M106.4 406.2h1.5M95.8 399h1.5M96.4 386.8h1.5M97 408.4h1.5M105.5 388.5h1.5M88.1 398h1.5M108.3 398.5h1.5M104.4 377.1h1.5M113.1 388.9h1.5M110.2 391.9h1.5M120 377.3h1.5M110.5 406.7h1.5M104.9 398.6h1.5M122.7 394.6h1.5M125.7 382.9h1.5M92.5 406.9h1.5M113.8 402h1.5M110.4 381.1h1.5M103.3 377.5h1.5M99.3 400.9h1.5M124.5 384.9h1.5M103 403.2h1.5M121.2 382.7h1.5M111.1 376.8h1.5M110.3 402.1h1.5M98.5 391.5h1.5M101.9 389.3h1.5M104.2 380.5h1.5M99.1 403.3h1.5M96.6 396.7h1.5M84.9 395.1h1.5M94.6 394.9h1.5M88.3 402.6h1.5M90.1 395.9h1.5M112.9 386.8h1.5M90.8 399.2h1.5M96.4 404.3h1.5M102.8 400.1h1.5M97.4 409.9h1.5M101.7 379.8h1.5M112.9 378.9h1.5M92.8 395.9h1.5M103.1 407.2h1.5M105 398.6h1.5M103.3 391.2h1.5M97.6 388.9h1.5M108.2 387.9h1.5M96.1 408h1.5M110.1 402.5h1.5M105.5 389h1.5M120.4 371.5h1.5M103.8 406.3h1.5M101.6 396.6h1.5M98.7 386.1h1.5M102.2 396.8h1.5M103 389h1.5M93.9 394.2h1.5M88.4 404.9h1.5M112.3 391.5h1.5M91 399.3h1.5M102.5 392.1h1.5M100.9 403.2h1.5M91.8 393.8h1.5M87.5 388.8h1.5M118.6 393.6h1.5M108.8 391.8h1.5M113.5 388.2h1.5M111.4 372.6h1.5M97.2 403.5h1.5M104.8 393.2h1.5M105.3 381.9h1.5M107.2 373.9h1.5M85.7 398.2h1.5M113.3 378.2h1.5M117.8 379.9h1.5M92.4 389.3h1.5M113.8 400.2h1.5M108.1 388.6h1.5M101.1 397.1h1.5M100.2 401.4h1.5M103.6 391.2h1.5M109.7 383.3h1.5M111.2 375.2h1.5M97.1 392.6h1.5M117.3 371.9h1.5M100.6 382h1.5M88.5 402.7h1.5M112.3 385.2h1.5M104.3 390.1h1.5M96.3 401h1.5M85.7 408.1h1.5M107.7 402.1h1.5M101.2 403.1h1.5M97 391.1h1.5M109.3 379.3h1.5M105.8 374.7h1.5M111.7 394.3h1.5M95.3 403h1.5M115.2 395.8h1.5M98.5 395.8h1.5M106.9 377.7h1.5M105.8 375.9h1.5M111.3 389.9h1.5M106.7 390.6h1.5M107 401.7h1.5M106.3 385.7h1.5M100 380.2h1.5M104.1 384.4h1.5M95.3 404.1h1.5M115 381.2h1.5M119.5 389.9h1.5M88.1 402.7h1.5M110.6 403.6h1.5M100.5 400h1.5M107.7 384.3h1.5M119.7 378.2h1.5M103 407.3h1.5M102.5 397h1.5M105 399.2h1.5M104.6 379h1.5M120.8 384.9h1.5M88.9 405.2h1.5M98 381h1.5M99.5 407.2h1.5M112.9 394.1h1.5M96.6 395.5h1.5M100.9 391.3h1.5M98.8 400.8h1.5M115.8 378.8h1.5M98.8 396.2h1.5M111 386.5h1.5M92.2 387.7h1.5M99 386.3h1.5M109.3 379.5h1.5M102.4 382.8h1.5M100.3 381.1h1.5M114.6 379.8h1.5M111.5 395.4h1.5M89.3 409.8h1.5M95 405.4h1.5M118.6 381h1.5M89.4 399.7h1.5M99.6 395.1h1.5M103.3 388.9h1.5M93 401.7h1.5M90.4 389.8h1.5M115.3 398.7h1.5M95.5 390.8h1.5M111.9 395.9h1.5M104.8 380h1.5M102.7 377.9h1.5M114.3 376.1h1.5M93.7 401.4h1.5M100.3 396.1h1.5M117.7 385.8h1.5M102.4 407.9h1.5M104.6 398.8h1.5M105.3 389.1h1.5M111.1 388.3h1.5M99.3 387.6h1.5M102.5 400.3h1.5M103.3 395.1h1.5M109.9 376.3h1.5M117 388.2h1.5M109 401.8h1.5M103.7 395.7h1.5M106.2 383.2h1.5M103.1 404.2h1.5M102.1 385.1h1.5M97.7 388.2h1.5M108 375.6h1.5M90 393.5h1.5M116.6 377.7h1.5M95.2 405.9h1.5M124.5 375.3h1.5M108.8 388.9h1.5M94.6 404h1.5M97.5 396.3h1.5M114.1 384.3h1.5M105.8 379.1h1.5M92.3 405.4h1.5M98.2 391.8h1.5M91.2 390h1.5M95.1 400.9h1.5M112 385.6h1.5M107.6 404.1h1.5M116.5 389.4h1.5M110.4 391.4h1.5M101.2 393h1.5M105.1 388.4h1.5M104 376.5h1.5M103.9 400.2h1.5M119.1 385.7h1.5M108.3 390.8h1.5M94 406.5h1.5M92.4 403.1h1.5M102.9 400.3h1.5M101.4 394.6h1.5M98 402.6h1.5M89 385.2h1.5M105.6 386.3h1.5M109.8 390h1.5M87.4 394.9h1.5M89.3 395.4h1.5M102.6 375.1h1.5M109.1 398.4h1.5M94.1 403.4h1.5M91.8 409.6h1.5M94.1 388h1.5M91.5 395.9h1.5M101.4 389.9h1.5M93.4 394.1h1.5M98.2 379.9h1.5M98.4 388.1h1.5M88.4 404.5h1.5M92.2 408.1h1.5M90.2 405.8h1.5M107.5 395.8h1.5M110.3 377h1.5M112.4 394.7h1.5M92.3 405.2h1.5M104.6 396h1.5M106.8 391.7h1.5M99.8 380h1.5M106.2 399.8h1.5M91.1 403.9h1.5M101.3 375.4h1.5M121.2 381.9h1.5M108.1 402.9h1.5M101.8 385.8h1.5M102.4 398h1.5M91.9 411.6h1.5M115.1 374.8h1.5M97.7 404h1.5M106.6 372.6h1.5M123.9 379.2h1.5M111.1 379.1h1.5M94.8 390.1h1.5M97.3 393.8h1.5M97.7 398.2h1.5M94.2 407.7h1.5M118 386.4h1.5M102.2 402.1h1.5M82.8 397.8h1.5M96.3 405h1.5M98.8 393h1.5M90.8 403.1h1.5M104.2 404.2h1.5M98.7 407.2h1.5M102.3 386.2h1.5M92.5 402.4h1.5M103.9 395.2h1.5M112.2 383.8h1.5M90.8 406.4h1.5M93.7 403.4h1.5M96.2 395.9h1.5M116.1 382.5h1.5M89.4 401h1.5M118.3 393.4h1.5M105.1 386.7h1.5M121 383.7h1.5M118.1 376.6h1.5M113 378.9h1.5M93.3 403.6h1.5M101.3 389.4h1.5M103.5 394.2h1.5M86.1 411.5h1.5M120.1 384.2h1.5M102.8 400.8h1.5M111.3 399.7h1.5M96.6 388.3h1.5M95.7 387.7h1.5M101.8 391.7h1.5M114.9 381.1h1.5M91.9 397.4h1.5M96.7 393.6h1.5M114 381.4h1.5M109.8 376.9h1.5M97.8 407.6h1.5M119.6 374.6h1.5M106.4 400.8h1.5M98.8 391.2h1.5M94 393.8h1.5M105.3 400.3h1.5M103.6 403.6h1.5M98.1 392h1.5M94.9 399.5h1.5M109.9 373.5h1.5M104.4 385.1h1.5M119.8 382.6h1.5M102.8 386.4h1.5M103.8 384.7h1.5M107.3 388.2h1.5M99.6 393.7h1.5M106.7 393.4h1.5M112.5 384.7h1.5M104.1 375h1.5M103.2 386.2h1.5M94 413.5h1.5M103.8 388.5h1.5M118.7 378.4h1.5M105.8 383.2h1.5M91.6 402.8h1.5M97.4 391.9h1.5M105.3 380.2h1.5M110.5 391.4h1.5M100.1 382.3h1.5M116.9 389.9h1.5M87 399.1h1.5M95.6 402.6h1.5M102.8 399.7h1.5M91.9 400.9h1.5M100.1 381.3h1.5M100.3 400.8h1.5M105.4 387.4h1.5M122.2 387.7h1.5M111.7 389.6h1.5M105.4 383.9h1.5M97.7 394.1h1.5M110.8 377.6h1.5M100.7 392.2h1.5M116.2 392.3h1.5M89.3 408.8h1.5M107.7 383.4h1.5M105.8 385.6h1.5M111.5 384.9h1.5M105.4 385.4h1.5M98.4 402.8h1.5M99 389.7h1.5M95.6 403.2h1.5M103.9 400.3h1.5M107 382.7h1.5M109.4 407.9h1.5M107.8 388.5h1.5M107.6 373h1.5M112.2 394.7h1.5M93.6 396.6h1.5M91.4 406.1h1.5M100.6 390.3h1.5M98.8 394.1h1.5M102.4 380.4h1.5M118.9 389.8h1.5M114.4 381.4h1.5M111.6 404.5h1.5M107.8 387.8h1.5M110.7 389.5h1.5M94.7 401.9h1.5M99.1 407.3h1.5M118.8 386.8h1.5M97.1 388.5h1.5M95.9 390.9h1.5M95 388.4h1.5M92.3 404.2h1.5M96.7 395.8h1.5M96.3 402.7h1.5M111.6 400.4h1.5M97.5 397.7h1.5M102 384h1.5M107.6 386.3h1.5M114.9 380.9h1.5M104.3 387.1h1.5M97.4 403.8h1.5M89.5 395h1.5M94.2 403.1h1.5M106.1 396.3h1.5M108.7 387h1.5M111.4 372.8h1.5M87.7 397.3h1.5M112.1 391.7h1.5M112.9 383.4h1.5M89.6 398.1h1.5M93.3 385h1.5M116.1 387.4h1.5M99.1 400h1.5M90 386.1h1.5M114.9 371h1.5M104.3 381.9h1.5M105.8 383.9h1.5M112.6 381.6h1.5M108.1 386.3h1.5M101.2 402.1h1.5M98.3 398.6h1.5M90.4 400.4h1.5M101.1 391.8h1.5M99.9 382.9h1.5M113.2 388.9h1.5M114.7 378h1.5M99 395.8h1.5M103.7 389.5h1.5M115.2 379.1h1.5M101.4 393.2h1.5M103.6 399.3h1.5M104.8 386.2h1.5M100.9 387.9h1.5M118.7 400.5h1.5M119.1 380.8h1.5M111.1 375.4h1.5M111.2 392.5h1.5M94.9 385.3h1.5M89.1 403.2h1.5M95.7 410h1.5M99.4 402.6h1.5M97 408.4h1.5M93.4 396.3h1.5M111.6 371.6h1.5M107.8 379.3h1.5M94.7 401.3h1.5M96.3 410.6h1.5M99.2 380h1.5M105.6 408.7h1.5M101.1 404.4h1.5M88.8 390.4h1.5M118.6 383.4h1.5M101.3 386.1h1.5M113.2 399.5h1.5M96.1 399.6h1.5M105.8 396h1.5M89 402.2h1.5M109 398.2h1.5M95.7 409h1.5M87 400.6h1.5M101.5 386.2h1.5M107 398.8h1.5M109.4 377.2h1.5M117.6 380.2h1.5M107.3 382.1h1.5M107.2 404.6h1.5M97.5 396.4h1.5M103.4 392.8h1.5M98.7 386.3h1.5M84.4 397h1.5M111.6 398.3h1.5M108.3 403.3h1.5M113.5 397.5h1.5M91.3 406.5h1.5M104.1 386.7h1.5M96.1 392.1h1.5M115.4 383.1h1.5M107.6 397.7h1.5M92.8 387.6h1.5M90.6 403.7h1.5M99 395.1h1.5M92.8 391.7h1.5M96.7 389.8h1.5M108.7 393.4h1.5M97.9 393.5h1.5M115.4 398.8h1.5M104.7 405h1.5M112.3 401.5h1.5M115.5 395.4h1.5M103 395.6h1.5M120.4 383.4h1.5M111.7 374.7h1.5M100.7 407.6h1.5M111.1 383h1.5M116.6 394.9h1.5M102.2 400.4h1.5M114.1 378.8h1.5M108 395.4h1.5M100.8 407.6h1.5M97.9 398.1h1.5M117.1 394.4h1.5M90.2 395.2h1.5M90.6 406.3h1.5M105.1 398.3h1.5M103.5 387.6h1.5M120 379.3h1.5M112.4 375h1.5M96.5 405.2h1.5M100.8 385.9h1.5M91.5 393.4h1.5M92.3 384.8h1.5M90.7 400.4h1.5M100.9 379.7h1.5M101.3 393.5h1.5M115.8 393h1.5M107.9 376.9h1.5M114.4 394.8h1.5M116.4 386.9h1.5M117.7 390.3h1.5M99 398.7h1.5M102.5 375.3h1.5M121.7 383.3h1.5M112.6 392.4h1.5M113.3 385.3h1.5M85.8 408.2h1.5M106.3 399.5h1.5M94.5 393.6h1.5M93 392.2h1.5M110 399.5h1.5M90.2 410.3h1.5M94.9 406.7h1.5M110.4 392.1h1.5M112.5 394.7h1.5M110.8 396.3h1.5M114.4 381.8h1.5M112.2 386h1.5M112 387.8h1.5M105.9 400.8h1.5M118.4 383.6h1.5M93.5 394h1.5M98.8 390.7h1.5M109 383.4h1.5M104.7 374.5h1.5M96.7 389h1.5M109.9 391.7h1.5M107.4 379.7h1.5M109.1 378.2h1.5M126.3 379.1h1.5M103.1 388h1.5M107.9 402.5h1.5M102.8 399.3h1.5M105.6 374h1.5M99.1 393h1.5M91.8 388.7h1.5M106.7 375.3h1.5M98.7 397.1h1.5M101 382.3h1.5M111.6 387.4h1.5M116.7 378.9h1.5M112 393.6h1.5M104.3 392.3h1.5M111.2 389.6h1.5M105.8 380.9h1.5M101.3 392.6h1.5M91.7 392.8h1.5M118.6 392.4h1.5M104.1 379.8h1.5M100.4 392.3h1.5M98.1 409.5h1.5M121.6 387.2h1.5M109.3 383.2h1.5M110.4 382.2h1.5M108.2 387.5h1.5M96 409.6h1.5M103.1 394.7h1.5M95.5 396.6h1.5M89.2 395.6h1.5M94.3 389.4h1.5M106.5 400.5h1.5M101.2 408.2h1.5M116.6 382.4h1.5M92.1 408.3h1.5M101.9 387.1h1.5M116.7 394.8h1.5M95.8 403.7h1.5M122.5 382.9h1.5M108.8 392.7h1.5M88.7 391.5h1.5M113.5 386.7h1.5M108 392.2h1.5M107.2 399.2h1.5M99.7 396.1h1.5M103.9 395.9h1.5M98.8 402.5h1.5M88.3 405.7h1.5M106.2 384.5h1.5M101.8 389.8h1.5M112.3 386.9h1.5M85 409.8h1.5M100.1 407.3h1.5M88.2 407.6h1.5M119.4 390.7h1.5M101.1 400.1h1.5M113.6 390.7h1.5M104.4 385.6h1.5M92.4 407.4h1.5M88.8 390.8h1.5M92.5 406.5h1.5M95.2 382.7h1.5M113.9 401h1.5M101.7 381.6h1.5M103.9 400.8h1.5M98.6 403.2h1.5M90.1 400.9h1.5M112.2 391.2h1.5M102.5 397.6h1.5M107.7 391.1h1.5M89.6 394.4h1.5M97.6 397.4h1.5M115.4 387.8h1.5M100.7 411.4h1.5M102.9 406.1h1.5M122.3 381.4h1.5M100.8 389.9h1.5M114.5 384.2h1.5M100 400.4h1.5M116.7 384h1.5M90.5 400.5h1.5M90.2 393.3h1.5M99.7 407h1.5M102.1 387.2h1.5M105.1 393.5h1.5M111.8 395.6h1.5M92.2 406h1.5M92.8 396h1.5M115.5 391.5h1.5M99.7 401.7h1.5M110.1 375.5h1.5M104.5 375.3h1.5M108.4 402.7h1.5M106.5 382.2h1.5M89.6 396.3h1.5M105.9 382.7h1.5M95.6 408.5h1.5M112.7 370.8h1.5M96 409.6h1.5M102.6 396.1h1.5M98.3 410.9h1.5M106 406.8h1.5M94.3 405.2h1.5M109.8 382.4h1.5M114.5 390.2h1.5M97.3 402.7h1.5M107.2 381.7h1.5M113.9 369.7h1.5M110.4 378.9h1.5M101.3 384.3h1.5M113.1 384.4h1.5M104.3 393.2h1.5M118.8 380.9h1.5M110.5 399.7h1.5M94 386.7h1.5M105.3 389.2h1.5M90.4 392.9h1.5M93.8 397.5h1.5M92.8 405.2h1.5M119.3 378.1h1.5M111.4 385.9h1.5M122.3 392.2h1.5M119.7 375h1.5M98.6 408.7h1.5M94.3 394.4h1.5M107.8 385.6h1.5M96.1 397.2h1.5M102 388.6h1.5M105.7 399.4h1.5M104.9 382.3h1.5M87.9 400.7h1.5M118.4 382.9h1.5M115.5 392.6h1.5M103.7 399.4h1.5M90.4 393.8h1.5M91.5 408.8h1.5M103.4 385.1h1.5M99.4 384.1h1.5M102.9 386.2h1.5M116.4 381.1h1.5M106.7 384.6h1.5M115.7 372h1.5M92.9 391.7h1.5M105.5 383.3h1.5M90.7 402.6h1.5M94.5 391.1h1.5M96.9 406.7h1.5M119.6 376.8h1.5M88.1 405.4h1.5M97.7 383.1h1.5M99.1 407.1h1.5M113.5 392h1.5M111.2 385.8h1.5M109.3 384.3h1.5M110.1 374.1h1.5M108.7 388.2h1.5M102.5 399h1.5M116.9 379.8h1.5M105.6 402.3h1.5M111.6 393.6h1.5M113.3 394.5h1.5M104.9 377.7h1.5M117.7 386.9h1.5M117.2 388.3h1.5M99.5 402.6h1.5M115.2 384.1h1.5M108.2 397.3h1.5M113.9 372.7h1.5M119.6 375.3h1.5M109.7 393.5h1.5M102.5 383h1.5M117.7 390.3h1.5M111.9 380.3h1.5M98.3 403.1h1.5M102.8 378.4h1.5M102.2 384.3h1.5M96 385.2h1.5M98.4 402.1h1.5M95.9 392.9h1.5M117.2 375.9h1.5M102.7 401.9h1.5M91.9 407h1.5M104.4 406.8h1.5M112.9 380.1h1.5M96.8 387.2h1.5M102.9 396h1.5M86.9 393.4h1.5M102.6 395.5h1.5M104.8 381.6h1.5M102.9 401.1h1.5M103.5 397.4h1.5M122.5 379.5h1.5M102.3 402.8h1.5M113.2 394.5h1.5M97.7 390.1h1.5M100.5 399h1.5M104.2 387h1.5M103.1 381.7h1.5M121.1 391.4h1.5M100.1 393.7h1.5M120.7 381.7h1.5M110.7 401.7h1.5M104.6 388.6h1.5M102.2 403.1h1.5M113 384.6h1.5M108.1 403.1h1.5M93.4 392.1h1.5M113.5 380.8h1.5M99.3 409h1.5M118.1 368.9h1.5M105 390h1.5M105.4 378.1h1.5M107.9 402h1.5M118.1 382.8h1.5M110.6 384.5h1.5M94.3 386.5h1.5M97.2 404.8h1.5M92 405.8h1.5M107.7 379.6h1.5M106.5 400.3h1.5M103.9 388.1h1.5M101 395.5h1.5M102.7 390.6h1.5M114.4 376.6h1.5M99.9 395.3h1.5M100.6 388.9h1.5M95.6 388.8h1.5M92.5 409.8h1.5M98.1 386.8h1.5M98.8 402.6h1.5M91.7 409.3h1.5M105.2 397h1.5M92.9 381.5h1.5M112.6 373.5h1.5M98 398.6h1.5M110.1 394.8h1.5M100 387.4h1.5M108.6 401.6h1.5M116.4 380.7h1.5M108.6 379h1.5M101.8 405.4h1.5M106 398.9h1.5M86.5 391.6h1.5M113.3 395.6h1.5M93 377.7h1.5M102.5 401.4h1.5M95.5 390h1.5M86.3 400.9h1.5M100.8 407.9h1.5M115.4 394.1h1.5M94.8 395h1.5M94.3 397h1.5M101 390.5h1.5M97.5 383.8h1.5M91.8 411.1h1.5M108.2 383.9h1.5M107.9 402.9h1.5M98.2 386.9h1.5M97.3 393.4h1.5M104.2 396.3h1.5M112.5 388.4h1.5M122.2 379.7h1.5M113.8 385.7h1.5M113.9 379.6h1.5M116.6 390.5h1.5M96 398.2h1.5M96.9 404.8h1.5M104 391.9h1.5M110.8 375h1.5M102.7 397.4h1.5M103 384.9h1.5M100.6 383.9h1.5M87 404.9h1.5M98.3 386.7h1.5M97.8 399.4h1.5M89.4 395.3h1.5M114 397.5h1.5M93.3 392.3h1.5M106.9 402.5h1.5M87.1 399.5h1.5M110.5 381.4h1.5M116.2 391.6h1.5M111.5 379.1h1.5M100 396.9h1.5M104 390h1.5M89.9 400.1h1.5M107.4 405.3h1.5M96.1 403h1.5M108.8 380.6h1.5M118.6 394.4h1.5M110.3 389.1h1.5M96.2 391.2h1.5M96.8 398.3h1.5M112.3 374.3h1.5M114.2 389.4h1.5M97.1 387.2h1.5M98.9 408.5h1.5M111.7 381.9h1.5M107.6 394.3h1.5M108.3 392.1h1.5M108.4 394.1h1.5M102.5 386.7h1.5M103.7 392.3h1.5M95.2 400.1h1.5M109.9 395.5h1.5M115.5 385.6h1.5M110.1 394.2h1.5M101.5 390.2h1.5M100 391.8h1.5M117.9 383.5h1.5M101 386.6h1.5M95.1 402.4h1.5M113.1 398.2h1.5M100.5 387.1h1.5M108.2 397.6h1.5M119.7 388.1h1.5M94.4 389.3h1.5M112.6 373.6h1.5M101 387.5h1.5M117.1 385.3h1.5M105.5 384.8h1.5M100.7 402.1h1.5M108.5 387h1.5M108.8 408.6h1.5M105 409h1.5M113.5 375.3h1.5M98.2 397.5h1.5M105.3 395.4h1.5M110.7 394.8h1.5M99.3 402.8h1.5M115.3 379.7h1.5M89.8 394h1.5M104.2 379h1.5M107.4 390.8h1.5M102 409h1.5M111.7 388.9h1.5M105.4 378.7h1.5M112.6 407.1h1.5M113.4 378.1h1.5M93.3 403.1h1.5M110 392.9h1.5M95.3 395.9h1.5M112.6 391.3h1.5M108.9 384.9h1.5M106.1 399.1h1.5M103.2 390.5h1.5M116.5 386.2h1.5M94.8 381.4h1.5M109.1 400.7h1.5M114.1 390.8h1.5M113.8 380.7h1.5M110.9 378.8h1.5M105.3 394h1.5M106.5 398.4h1.5M115.6 399.8h1.5M111.8 370.9h1.5M93.3 410.4h1.5M102.5 378.2h1.5M105.1 381.9h1.5M113.6 389.2h1.5M96.4 398h1.5M107.5 397.3h1.5M98.9 397.5h1.5M94.8 388.5h1.5M104.7 390.6h1.5M107.3 379.3h1.5M97.9 376.2h1.5M112.4 399.4h1.5M99.9 409h1.5M107.3 405.7h1.5M89.4 413.8h1.5M102.4 386.4h1.5M99.2 408.8h1.5M96.3 395.8h1.5M101 389.9h1.5M125.3 376.9h1.5M90.3 391.3h1.5M92.2 397.8h1.5M115.4 395.1h1.5M93.5 394.4h1.5M93.4 395.7h1.5M96.8 393.8h1.5M92 396.6h1.5M95.8 400.6h1.5M110.9 371.7h1.5M104.4 382.9h1.5M97.2 393.7h1.5M108.4 383.6h1.5M94 410.4h1.5M105.4 406.9h1.5M98.4 384.1h1.5M105.5 391.5h1.5M102.1 394.7h1.5M112.3 381.4h1.5M115.5 376.5h1.5M101.6 394.5h1.5M94.5 412.7h1.5M102.6 399.6h1.5M118.1 381.4h1.5M100.9 400.3h1.5M91.5 403.3h1.5M112.9 385.5h1.5M113 374.4h1.5M114.6 389.1h1.5M86.7 397.8h1.5M98.8 395.2h1.5M90.3 394.3h1.5M117 380.6h1.5M105.3 397.3h1.5M110.2 390h1.5M92.4 388.2h1.5M106.7 385.8h1.5M103.9 389.1h1.5M99.9 381.6h1.5M114.5 379.4h1.5M92 395.9h1.5M110.3 378.6h1.5M116.3 395h1.5M115.7 384h1.5M104.4 382.8h1.5M119.8 377.2h1.5M103.4 399.1h1.5M102.6 406.4h1.5M102.9 385.3h1.5M109.2 401.8h1.5M113.9 384.6h1.5M120.5 380h1.5M111.1 398.5h1.5M102.7 400h1.5M91.2 392.3h1.5M106.3 399.9h1.5M104.3 392.4h1.5M101.7 399.5h1.5M99.3 410h1.5M91.1 410h1.5M94 406.1h1.5M103.1 395.5h1.5M99.9 401h1.5M115.4 378.7h1.5M89.7 390.8h1.5M96.1 394.8h1.5M106.9 383.1h1.5M95.4 404.2h1.5M112.7 382.7h1.5M94.1 408.6h1.5M103 379.1h1.5M116.3 383h1.5M116.3 371h1.5M113.1 388.3h1.5M104.4 397.8h1.5M94.7 408.3h1.5M99.8 387h1.5M110.6 390.8h1.5M111.4 381.2h1.5M99.5 400.2h1.5M98 391.1h1.5M112.5 399.7h1.5M114.7 392.1h1.5M112.2 383.4h1.5M94.3 393.5h1.5M102.8 396.7h1.5M87.5 393.7h1.5M108.2 390.7h1.5M110.8 394h1.5M95.7 405.8h1.5M102.8 400.4h1.5M115.3 380.7h1.5M105 383h1.5M107.8 381.3h1.5M108.7 382.8h1.5M105.7 381.7h1.5M105.3 396.2h1.5M102.3 394.8h1.5M93.3 395.7h1.5M89.2 401h1.5M107.4 393.6h1.5M97.2 398.6h1.5M106.2 389h1.5M95.3 383.9h1.5M112.3 378.7h1.5M91.3 396.2h1.5M103.5 382.9h1.5M114.4 394.2h1.5M109.8 401.2h1.5M100.4 403.4h1.5M109.1 375.6h1.5M119.8 390.8h1.5M108 399.1h1.5M106.8 393.9h1.5M112.5 377.4h1.5M112 395.9h1.5M103.8 389h1.5M99.3 409.1h1.5M96.8 407.5h1.5M103.6 378h1.5M98.4 411.2h1.5M105.9 388.6h1.5M98.6 398.6h1.5M111.4 387h1.5M96.3 378.6h1.5M119.1 381.6h1.5M112.3 376.8h1.5M105.5 389.7h1.5M113.5 393.5h1.5M108.5 400.2h1.5M111.7 392.5h1.5M105 380.1h1.5M108 396.1h1.5M94.8 396.7h1.5M93.8 397.3h1.5M91 408.6h1.5M85.7 403.6h1.5M98.7 401.6h1.5M93.4 410.4h1.5M96.6 409.5h1.5M90.8 398.3h1.5M96.2 397.5h1.5M93.5 408.7h1.5M87.6 402.7h1.5M92.4 405.6h1.5M101.9 400h1.5M90.1 407.4h1.5M95.6 402.4h1.5M90.7 404h1.5M96 407.8h1.5M87.1 405.5h1.5M92.6 399.1h1.5M102.4 405.8h1.5M87 404h1.5M89.9 409.3h1.5M88.4 402.7h1.5M102.7 401.5h1.5M89.1 409.8h1.5M90.8 402.6h1.5M94.8 408.9h1.5M93.9 397.6h1.5M91.6 398.3h1.5M96.7 403.2h1.5M90.9 402.5h1.5M99.1 401h1.5M98.3 400h1.5M103.5 406.3h1.5M91.6 407.5h1.5M95.5 402.6h1.5M98.1 395.3h1.5M96.1 402h1.5M100.6 397.9h1.5M100.4 408.4h1.5M97.3 406.7h1.5M94.4 397.4h1.5M96.4 399.1h1.5M92.8 409.6h1.5M94.2 408.5h1.5M87.5 407.5h1.5M90.4 410.1h1.5M94.1 407.7h1.5M94.4 400.7h1.5M87.2 398.8h1.5M97.4 406.1h1.5M99.4 407.3h1.5M87.3 412.9h1.5M98.1 411.3h1.5M104.2 403.6h1.5M89.9 406.8h1.5M95.4 406h1.5M93.9 410.4h1.5M97.3 404.8h1.5M97.1 398.1h1.5M93.6 409.5h1.5M99.5 409.2h1.5M97.2 399.3h1.5M91.2 405.2h1.5M85.7 402.7h1.5M93.9 412.7h1.5M92.9 410h1.5M92.1 401.6h1.5M94.3 406.9h1.5M99.7 408.1h1.5M85.3 398.4h1.5M92.3 408.9h1.5M95.1 402h1.5M86.7 407.9h1.5M96.7 408.2h1.5M87.7 408.6h1.5M93.2 410.7h1.5M97 397.2h1.5M94.1 408.5h1.5M90.3 405.3h1.5M89.3 409h1.5M96.1 411.7h1.5M91.8 408.3h1.5M87.9 405.5h1.5M90.6 402.7h1.5M93.2 403.8h1.5M101.8 402h1.5M96.1 401.2h1.5M87.2 396.8h1.5M95.5 397.8h1.5M95.2 401.2h1.5M95.3 412.8h1.5M89.6 415.4h1.5M95.2 400.3h1.5M87.3 401.6h1.5M103.9 405.8h1.5M94.4 411.4h1.5M91.5 405.3h1.5M95.1 400.5h1.5M88 405.8h1.5M87.2 404.6h1.5M88 400.2h1.5M94.9 408.1h1.5M96.5 408.5h1.5M90.1 404.2h1.5M86.7 396.6h1.5M93.2 404h1.5M101.5 402h1.5M88.8 407.7h1.5M102.3 399.2h1.5M89.1 409.9h1.5M102.8 401.6h1.5M93 400.1h1.5M96.2 405h1.5M94.6 411.7h1.5M87.9 405.1h1.5M93.1 410h1.5M100.8 405.6h1.5M96.9 400.8h1.5M98.8 404.1h1.5M91.6 401.2h1.5M95.7 404h1.5M98 403.3h1.5M96.9 408.4h1.5M98 406.1h1.5M97.3 405.4h1.5M90.6 409.3h1.5M97.4 402h1.5M97.6 404.1h1.5M95.6 403.9h1.5M98.1 398.3h1.5M92.9 407.4h1.5M85.4 401.5h1.5M87.6 408.8h1.5M98.4 409.2h1.5M96.3 396.5h1.5M91.8 405.5h1.5M88.1 408.9h1.5M94.3 405.7h1.5M94.5 397.7h1.5M87.7 401.6h1.5M89.7 409.3h1.5M89.1 408.9h1.5M96.6 408.9h1.5M91.6 400.3h1.5M98.8 408.7h1.5M95.9 411.3h1.5M93 411.4h1.5M88.2 404.9h1.5M93.9 399h1.5M92.4 409.2h1.5M88 408.2h1.5M101.5 410.8h1.5M97.3 412.9h1.5M88.8 403.1h1.5M93.8 407.9h1.5M99.8 408.5h1.5M101.2 402.9h1.5M94.8 408.1h1.5M91.9 409h1.5M97.6 402.6h1.5M93.5 400h1.5M91 401.1h1.5M86.3 408h1.5M104.5 407.9h1.5M91 402.4h1.5M97.1 402.4h1.5M92.4 398.1h1.5M96.1 403.2h1.5M94.6 402.5h1.5M98.2 401.6h1.5M96 396.1h1.5M100.3 403.4h1.5M99.5 402.7h1.5M97.4 409.6h1.5M95.4 404.3h1.5M90.8 408.8h1.5M101.1 404.5h1.5M93.2 405.6h1.5M97.8 409.7h1.5M97.5 404.3h1.5M88.2 407h1.5M91.9 401.3h1.5M97.3 401.4h1.5M93.2 400.1h1.5M95.8 409.2h1.5M101.5 404.3h1.5M97.8 410h1.5M87.6 410.3h1.5M94.4 412.4h1.5M98.9 398.8h1.5M91.7 395.7h1.5M93 404.8h1.5M90.2 410.1h1.5M87.2 403h1.5M84.6 408h1.5M96.6 409.8h1.5M86 408.2h1.5M90.5 403.8h1.5M89.1 403.5h1.5M88.6 412.9h1.5M88.7 403.3h1.5M101 406.8h1.5M84.4 408.4h1.5M97.1 402.2h1.5M102.9 401.1h1.5M104.1 401.9h1.5M89.5 407.7h1.5M100.2 410.3h1.5M103.1 402.3h1.5M93.1 407.1h1.5M96.1 400.6h1.5M88.8 406.4h1.5M89.4 405.9h1.5M96.4 404.6h1.5M99 400.1h1.5M95.2 407.9h1.5M88.8 410.2h1.5M90.1 402.6h1.5M93.5 410.4h1.5M91.4 411.7h1.5M98.8 403.7h1.5M88.5 400.2h1.5M96.9 411.6h1.5M90.6 404.6h1.5M95.3 411.1h1.5M94.5 399.5h1.5M101.2 409.7h1.5M96.6 410.2h1.5M91.9 399.3h1.5M87.1 404.2h1.5M89.1 405.7h1.5M94.8 403h1.5M90.9 404.3h1.5M89.1 403.7h1.5M89.8 409.3h1.5M93.8 396.3h1.5M90.3 397.8h1.5M96.2 405.4h1.5M96.1 403.6h1.5M95.9 407.8h1.5M97.2 400.2h1.5M92.5 399.7h1.5M99.6 405.4h1.5M92.7 411.8h1.5M93.6 401.3h1.5M99.8 401.6h1.5M99.3 408.2h1.5M90.4 411.4h1.5M96.4 402.7h1.5M91.9 405.2h1.5M102.1 412.9h1.5M129.2 383.4h1.5M127.7 395.3h1.5M131.3 394.7h1.5M122.1 381.6h1.5M122.8 397h1.5M133.9 390.6h1.5M126.1 382.8h1.5M123.2 389.7h1.5M125.1 391.1h1.5M121.6 388.9h1.5M130.8 386.7h1.5M122.8 369.7h1.5M130.9 385.5h1.5M130.5 387.2h1.5M126.1 368.2h1.5M136.3 394h1.5M127 386.6h1.5M128.7 394.5h1.5M131.1 391h1.5M123.1 384.9h1.5M120.6 369h1.5M128.4 384.1h1.5M122.7 375h1.5M120.6 379.8h1.5M121.7 381.8h1.5M130.9 382.6h1.5M136.1 392.3h1.5M126.8 393.3h1.5M126.3 388.8h1.5M128.4 377h1.5M130.5 381.9h1.5M126.9 392.1h1.5M124.1 405.2h1.5M130.5 381h1.5M124.3 380.7h1.5M122.9 380.9h1.5M122.8 386.2h1.5M123.5 394.3h1.5M125.5 380.5h1.5M126.1 382.2h1.5M129.4 382.4h1.5M124.1 403.2h1.5M126.3 387.6h1.5M124.5 398.9h1.5M126.8 398.8h1.5M132.4 387.2h1.5M124.5 390.9h1.5M118.4 385.4h1.5M131.1 384.9h1.5M128.8 374.3h1.5M128.9 379.9h1.5M115.1 381.9h1.5M121.1 394.7h1.5M128.2 383.4h1.5M125.7 378h1.5M125.1 391.2h1.5M131.7 381.5h1.5M121.1 383.8h1.5M123.9 378.2h1.5M127.7 395.7h1.5M122.2 383.4h1.5M122.8 390.5h1.5M125.4 376.9h1.5M123 382.1h1.5M131.7 393.5h1.5M120.1 409h1.5M123.3 368.4h1.5M123.2 404.4h1.5M124.8 400.4h1.5M128.6 397h1.5M134.5 384.8h1.5M133.1 383.5h1.5M139.4 400.6h1.5M118.6 383.2h1.5M122.9 375h1.5M138.9 381.1h1.5M127.5 390.2h1.5M128 386.4h1.5M125.8 385.7h1.5M124.5 388.5h1.5M133.8 407.6h1.5M127.3 391.8h1.5M123.8 392.4h1.5M127.2 377.7h1.5M126.7 383.1h1.5M129.8 398.5h1.5M129.5 392.8h1.5M128.4 393.8h1.5M126.1 385.6h1.5M128.3 373.5h1.5M126.3 385.2h1.5M121.3 384.2h1.5M127.3 405.3h1.5M119.5 377.3h1.5M127 381.6h1.5M123 406.5h1.5M134.8 385.3h1.5M129.7 382.4h1.5M125.2 396.5h1.5M125 381.3h1.5M131.5 387.3h1.5M122.2 384.8h1.5M134.2 394.2h1.5M133.8 384.7h1.5M130.2 390.4h1.5M124.9 377h1.5M130.3 383.5h1.5M125.6 388.5h1.5M118 380.9h1.5M122.3 393.8h1.5M132.6 387.2h1.5M124.4 405.5h1.5M133.6 383.7h1.5M129.6 396.4h1.5M130.6 394h1.5M128.8 388.5h1.5M120.6 392.5h1.5M126.5 392.6h1.5M119.3 379.2h1.5M132.2 396h1.5M122.7 377.4h1.5M137.6 399.7h1.5M120.3 381.6h1.5M121.1 391.5h1.5M131.7 386.4h1.5M117.3 394.3h1.5M125.7 384.4h1.5M127.5 384.2h1.5M139.7 385h1.5M128.1 390.7h1.5M128.5 399.9h1.5M126 377.4h1.5M125.5 359.4h1.5M122.7 386h1.5M128.7 382.9h1.5M124.6 390.2h1.5M125 388.2h1.5M117.6 383.2h1.5M129.5 385.5h1.5M126.6 386.4h1.5M125 379h1.5M126.9 376.8h1.5M113.3 373.2h1.5M130.9 386.4h1.5M124.2 396.5h1.5M124.3 399.9h1.5M128.9 381.3h1.5M130.3 391.5h1.5M119.6 377.3h1.5M132.6 386.9h1.5M122.9 384.5h1.5M133.7 404.2h1.5M125.7 382.9h1.5M141.4 381.5h1.5M120.3 377.5h1.5M127.5 376.8h1.5M134 395.4h1.5M122.8 402.2h1.5M128.3 380.5h1.5M115 375h1.5M117.6 380.5h1.5M119.1 372.4h1.5M124.5 385h1.5M118.4 401.7h1.5M127.8 377.6h1.5M124.3 386.9h1.5M111.5 390.8h1.5M129 372.6h1.5M131.8 385.2h1.5M129.7 374h1.5M129.9 391.8h1.5M123.7 389.1h1.5M124 385.8h1.5M126.9 380h1.5M130.1 388.4h1.5M135.7 380.6h1.5M132.1 393.4h1.5M124.6 390h1.5M113.3 392.3h1.5M117.4 387.5h1.5M127.2 394.4h1.5M119.9 382.4h1.5M135.5 383.2h1.5M123.7 393.9h1.5M124.4 375.9h1.5M127.8 370.5h1.5M122.6 393.6h1.5M124.8 397.5h1.5M132.4 393.5h1.5M131.8 409h1.5M135.2 388.3h1.5M132.8 382.1h1.5M125.4 384.7h1.5M122.1 389.1h1.5M125.4 402.4h1.5M127.7 405.3h1.5M129 389.2h1.5M129.1 401.3h1.5M131.8 395.3h1.5M129.9 382.1h1.5M133 381.4h1.5M119.5 370.7h1.5M121 384.6h1.5M127 384.7h1.5M129.4 379h1.5M118.1 386.9h1.5M116 381.2h1.5M130.5 406.5h1.5M124.5 372.6h1.5M129.2 397.6h1.5M130.3 381.2h1.5M128.2 383.8h1.5M121.9 391h1.5M124.1 381.7h1.5M130.1 393.7h1.5M118.6 372.7h1.5M128.3 372.6h1.5M125.7 361.4h1.5M124.2 381.6h1.5M129.3 371.6h1.5M127.7 383.2h1.5M126.5 380.4h1.5M127.7 390.2h1.5M121.6 400h1.5M127.6 370.7h1.5M120.6 379.3h1.5M120.3 378.8h1.5M126.3 402.8h1.5M127.3 383.2h1.5M121.9 377.2h1.5M120.7 369.9h1.5M120.1 390h1.5M123.3 373.8h1.5M122.5 378.6h1.5M134.2 393.9h1.5M119.5 387.9h1.5M124.8 388.6h1.5M131.1 391.4h1.5M127.1 378.9h1.5M125.9 375.1h1.5M133.2 382.2h1.5M132 395.8h1.5M143.3 382.1h1.5M139.2 396.9h1.5M136 403.3h1.5M137.3 413.8h1.5M146.4 389.8h1.5M126.9 385.7h1.5M141.4 390.6h1.5M148.4 404.5h1.5M132.3 400.2h1.5M138.5 400.3h1.5M139.6 380.1h1.5M137.3 403.2h1.5M145.7 398.3h1.5M142 402.5h1.5M139.9 408.4h1.5M136.9 410.6h1.5M130.4 402.3h1.5M144.4 388.5h1.5M137.6 409.3h1.5M134 407.1h1.5M137.1 402.9h1.5M153.8 414.8h1.5M133.7 387.8h1.5M146.8 402.1h1.5M130.9 411.3h1.5M131.2 394.7h1.5M152.1 403h1.5M130.5 400.5h1.5M140 406.5h1.5M152 392.1h1.5M124.9 423.7h1.5M137.8 385.3h1.5M140.9 402.8h1.5M134.5 394h1.5M144.6 413.5h1.5M141.7 384.3h1.5M137.7 388.4h1.5M143.1 406.3h1.5M137.2 386.8h1.5M125.1 392.6h1.5M142.6 395.1h1.5M153.1 405.5h1.5M146 408.2h1.5M141.4 379.8h1.5M128.4 403h1.5M133.7 421.2h1.5M145.1 417.3h1.5M141.3 408.1h1.5M149 386h1.5M136.5 412.9h1.5M125.9 393.2h1.5M127.5 404.1h1.5M142.1 407.3h1.5M145.2 400.2h1.5M138.4 411.8h1.5M142.4 403.4h1.5M141.4 398.8h1.5M145.8 394.6h1.5M132.7 397.9h1.5M132.1 393.2h1.5M132.8 388.3h1.5M140 413.9h1.5M140.5 418.9h1.5M128 403h1.5M140.4 387.3h1.5M143.7 395.1h1.5M133.5 401h1.5M141.7 389.3h1.5M131.1 400.6h1.5M141.1 405.5h1.5M130.3 386.5h1.5M140.5 382.4h1.5M127.7 410.7h1.5M126.5 405.7h1.5M146.1 410.8h1.5M139.5 395.7h1.5M133.6 396.4h1.5M147.2 423.4h1.5M145.4 414.9h1.5M142.3 413.1h1.5M135.7 393.8h1.5M140.6 404.3h1.5M144.2 416.9h1.5M140 376.6h1.5M142.3 407.3h1.5M149.5 397h1.5M133.3 414.1h1.5M144.9 409.6h1.5M128.7 403h1.5M151.6 401.2h1.5M144.4 404.4h1.5M134.8 406.4h1.5M143.9 404.8h1.5M136.1 411.9h1.5M141.8 417h1.5M131.1 392.6h1.5M145.1 419.1h1.5M142 388.5h1.5M140.6 411.1h1.5M143 392.1h1.5M136.2 425.1h1.5M141.4 406.3h1.5M143.6 412.4h1.5M135.1 416.3h1.5M153.8 422.1h1.5M135.1 387.2h1.5M140.7 395.2h1.5M131.9 405.3h1.5M128.7 398.5h1.5M149.1 397.2h1.5M148.2 397.3h1.5M130.7 390.5h1.5M122.3 420.7h1.5M132.8 416.7h1.5M143.9 417.7h1.5M140.2 390.7h1.5M140 398.3h1.5M138.7 418.4h1.5M147.9 396.3h1.5M142.1 408.5h1.5M149.1 415.3h1.5M137.1 418.4h1.5M152.4 395.4h1.5M141.5 401.2h1.5M136.4 400h1.5M131.7 423.4h1.5M134 400.4h1.5M143.3 393h1.5M146.7 382.1h1.5M134.7 382.7h1.5M154.9 409.3h1.5M140.6 388.4h1.5M146 396.4h1.5M139.3 393.6h1.5M131.3 388.5h1.5M136.1 392.1h1.5M127.2 407.8h1.5M134.9 397.4h1.5M133 410.8h1.5M134.6 403.6h1.5M132 384.4h1.5M127 397.6h1.5M140.1 413.1h1.5M142.6 422h1.5M140.6 386.2h1.5M150.2 408.1h1.5M148.7 416.2h1.5M142.7 399.6h1.5M142.8 414.1h1.5M147.2 390.7h1.5M135.9 415.9h1.5M154.6 411.8h1.5M140.5 384.3h1.5M150 394.9h1.5M133.3 399.3h1.5M137.5 406.4h1.5M130.5 404h1.5M139.8 406.6h1.5M136.3 407.9h1.5M135.1 389.5h1.5M146.2 386.9h1.5M136.2 406.7h1.5M142.1 388.9h1.5M131.3 396.2h1.5M128.1 400.9h1.5M156.3 422.4h1.5M144.9 404.3h1.5M143.4 420.2h1.5M132.4 412.2h1.5M143.4 391.4h1.5M140.3 423.1h1.5M140.1 397.6h1.5M149 417h1.5M152.3 407h1.5M145.6 396.5h1.5M133.5 382.2h1.5M134.1 408.8h1.5M141.1 401.2h1.5M135.3 396.1h1.5M132.6 403h1.5M144.1 396.2h1.5M148.7 394.4h1.5M141.5 418.2h1.5M147.7 417.7h1.5M138.3 388.7h1.5M140.9 396h1.5M143.2 398.3h1.5M136.2 392.2h1.5M144.6 413.6h1.5M135.3 403h1.5M131 397.6h1.5M142.9 404.9h1.5M146.6 407.1h1.5M152 399.6h1.5M126.3 400.6h1.5M144.4 409.4h1.5M152 410h1.5M145.5 394.3h1.5M137.3 410.1h1.5M124.8 381.1h1.5M145.6 399.9h1.5M147.4 428.4h1.5M130.6 411h1.5M138.9 407.9h1.5M140.2 421.3h1.5M151.3 405.5h1.5M141.6 402h1.5M139.7 377.5h1.5M138.4 412.7h1.5M133.9 393.7h1.5M147.1 406.9h1.5M127.1 386.5h1.5M132.3 393.6h1.5M138.6 414.4h1.5M128 410.7h1.5M138.1 413.7h1.5M126.1 425h1.5M152.7 408.3h1.5M146.7 401.5h1.5M151.5 400.1h1.5M151.1 403.7h1.5M147.7 411.4h1.5M145.4 404.4h1.5M145.1 391.2h1.5M142.1 404.2h1.5M134.6 382.4h1.5M119.6 408.2h1.5M138.6 376.1h1.5M146.5 408.1h1.5M128.1 410.1h1.5M131.7 393.7h1.5M128.9 401.7h1.5M139.2 407.9h1.5M144.4 409.1h1.5M139.1 389.9h1.5M152.2 401.7h1.5M145 388.6h1.5M149 393.7h1.5M135.1 402.1h1.5M142 411.8h1.5M151.3 400h1.5M134.5 398.2h1.5M147.5 403.7h1.5M153.8 399.7h1.5M147.5 397.1h1.5M136.9 405.3h1.5M140.2 412.5h1.5M133.5 384.3h1.5M150 391.3h1.5M142.3 396.8h1.5M140.7 393.2h1.5M151.6 402.2h1.5M134.5 400.2h1.5M143.2 409h1.5M149.1 421.8h1.5M125.8 395.7h1.5M144.5 404.5h1.5M146.7 408.8h1.5M128.8 419h1.5M152.5 389.2h1.5M143.6 404.4h1.5M136.5 400.1h1.5M140.6 409.9h1.5M137.2 418.5h1.5M146.7 393.9h1.5M150.7 398.4h1.5M142.4 407.5h1.5M135.9 409.4h1.5M136.6 380.8h1.5M140.6 437.6h1.5M140.8 398.1h1.5M135.5 397.4h1.5M152 403.4h1.5M123.7 409.5h1.5M144.2 402.5h1.5M153 416.2h1.5M135.2 403.3h1.5M155.5 401.8h1.5M137.3 396.8h1.5M146.2 406.8h1.5M143.7 421.2h1.5M132.5 404.6h1.5M143.2 416.1h1.5M141.7 402.9h1.5M149.2 421h1.5M144.3 399.8h1.5M138.3 376.2h1.5M146.8 394.5h1.5M146.3 401.3h1.5M139.5 409.3h1.5M142 398h1.5M141.5 389.4h1.5M136.6 408.6h1.5M128.1 398.9h1.5M134.8 420.1h1.5M153.6 405h1.5M150.5 408.5h1.5M144.6 400.4h1.5M144.3 395.9h1.5M154.8 413.7h1.5M151.7 400.8h1.5M139.3 389.3h1.5M141.3 408.9h1.5M146.3 400.9h1.5M135.9 398.9h1.5M144.1 411.6h1.5M144.2 386.4h1.5M143.1 408.7h1.5M143.3 404.3h1.5M143.9 402.9h1.5M142.5 402.6h1.5M141.9 394.5h1.5M141.6 394.1h1.5M139.1 404.6h1.5M143 403.2h1.5M137.3 414.3h1.5M140.4 393.8h1.5M139.2 413.3h1.5M142.8 423.9h1.5M141.6 385.7h1.5M134 418.9h1.5M150.5 407.4h1.5M129.6 401.2h1.5M138.9 402.4h1.5M142.1 414.3h1.5M139.7 382.9h1.5M147.1 414.1h1.5M143.6 407.3h1.5M151.9 414.3h1.5M127.4 377.1h1.5M143.3 371.8h1.5M146.5 408.6h1.5M142.2 385.9h1.5M126.8 407.4h1.5M147.9 399.7h1.5M146.1 387.3h1.5M130.4 382.3h1.5M145.1 413.8h1.5M126.6 402h1.5M145.4 386.5h1.5M140.8 408.2h1.5M139.6 387.2h1.5M139.9 407.9h1.5M135.3 387.7h1.5M135.6 402h1.5M145.3 411.5h1.5M125.9 390.9h1.5M145.1 407.2h1.5M141.4 388.9h1.5M150.9 412.2h1.5M144.6 392.6h1.5M157.3 402.2h1.5M138.4 413.6h1.5M134.8 396.5h1.5M144.7 398.4h1.5M143.5 397.6h1.5M138.2 390.4h1.5M136.8 413h1.5M143.4 382.7h1.5M147.8 419.8h1.5M138.2 392h1.5M134.9 392.9h1.5M139.9 395h1.5M134.5 390.3h1.5M151.7 400.8h1.5M144.1 397h1.5M147.1 384.6h1.5M138.1 402.3h1.5M132.8 396.3h1.5M144.3 417.2h1.5M134.9 416.1h1.5M142.1 384.3h1.5M133.4 403.1h1.5M131.5 406.2h1.5M146.4 395.4h1.5M138.8 394.5h1.5M137.4 403.4h1.5M148.4 401.4h1.5M122.9 386.6h1.5M148.6 401.4h1.5M140 400.3h1.5M129.5 408.4h1.5M129.4 397.5h1.5M134.8 384h1.5M142.5 399.7h1.5M127.8 406.2h1.5M146.2 387.4h1.5M139.2 402.1h1.5M141.6 406.5h1.5M135.5 394.2h1.5M137.5 385.5h1.5M144.8 408.2h1.5M144.8 426.5h1.5M132.3 424.1h1.5M132.8 395.5h1.5M135.9 393.3h1.5M135.9 403.8h1.5M150.2 397.8h1.5M139.7 396.8h1.5M154 412.7h1.5M147.1 399.5h1.5M143 424.5h1.5M139.9 399.6h1.5M147.2 399.8h1.5M150.5 393.7h1.5M136.3 419.4h1.5M143.5 404.4h1.5M129.7 415.4h1.5M131.2 393.4h1.5M136 402.1h1.5M151.7 410.7h1.5M143.3 382.1h1.5M137.5 406.9h1.5M154.9 408.9h1.5M132.7 388h1.5M135.8 408.6h1.5M137.6 392.3h1.5M138.4 396h1.5M140.6 396.1h1.5M137 413h1.5M145 393.5h1.5M139.3 397.6h1.5M139.8 405.4h1.5M134.9 394.7h1.5M135.1 411.8h1.5M144.7 393.9h1.5M138.6 398.7h1.5M140.4 402.4h1.5M136.1 404.5h1.5M144.9 427.4h1.5M151.5 425.9h1.5M147.6 420.2h1.5M144.9 401.2h1.5M141.9 400.7h1.5M144.8 432.1h1.5M149.5 422.3h1.5M149.1 412.6h1.5M137 414.7h1.5M151.4 430.4h1.5M143.4 426.1h1.5M130.8 413.3h1.5M126.9 409.4h1.5M149.3 424.4h1.5M142.3 418.1h1.5M148.3 420.7h1.5M131 417.3h1.5M153.6 414.7h1.5M139.3 434.9h1.5M135 413.4h1.5M152.6 425.7h1.5M158 423.2h1.5M144.7 398.6h1.5M138.3 415.7h1.5M156.2 422.2h1.5M154.4 426.4h1.5M143.9 424.8h1.5M148.1 405.2h1.5M141.9 429h1.5M138 411.8h1.5M151.1 417h1.5M144.7 412.5h1.5M147.2 414.6h1.5M150.9 428.7h1.5M135.9 396.8h1.5M147.9 404.9h1.5M131 400.9h1.5M137.1 411.5h1.5M147.5 421.5h1.5M141.9 401h1.5M124.9 408.7h1.5M130 415.6h1.5M124.8 432.2h1.5M141.6 411.3h1.5M146.2 430.1h1.5M143.4 421.3h1.5M150.8 425.6h1.5M137.3 406.8h1.5M137.3 422.5h1.5M153 426h1.5M145.9 419.8h1.5M150.7 431.3h1.5M143.3 427.7h1.5M149.5 414.6h1.5M155.9 425.4h1.5M140.5 417.5h1.5M145 405.3h1.5M144.4 431h1.5M151.5 415.5h1.5M137.5 423.8h1.5M153.8 400.7h1.5M132 409.9h1.5M150.1 411.7h1.5M137.4 410.3h1.5M125.8 425h1.5M144.6 430.7h1.5M135.8 422.9h1.5M154 401.7h1.5M151.1 420.2h1.5M149.2 417.1h1.5M134.9 410.4h1.5M138.9 423.3h1.5M147.1 417.8h1.5M134.4 421.8h1.5M152.6 432.8h1.5M133.4 412.8h1.5M145.6 419.7h1.5M141.1 403.2h1.5M146.4 413.3h1.5M123.8 421.4h1.5M136.6 418.3h1.5M131.3 422.6h1.5M139 411.3h1.5M132.8 413.7h1.5M148.8 416.7h1.5M122.8 418.4h1.5M148.7 414.8h1.5M140.3 417.4h1.5M141.7 410.7h1.5M140.5 436.8h1.5M146.5 403.5h1.5M144.2 427.4h1.5M134.9 422.6h1.5M147.4 417.2h1.5M143.1 414h1.5M134.9 411.1h1.5M145.4 404.1h1.5M146.7 426.1h1.5M138.7 436.2h1.5M154.4 404.6h1.5M134 408.8h1.5M130.8 416.8h1.5M123.8 426.1h1.5M121.9 411h1.5M146.7 400.5h1.5M140 418.3h1.5M142.1 412.4h1.5M127.8 417.5h1.5M130.5 406.2h1.5M128.9 418.1h1.5M136.3 417.7h1.5M149.5 427.9h1.5M141.8 404.1h1.5M149.5 427.8h1.5M142.3 412.2h1.5M126.1 419.9h1.5M146.1 402.3h1.5M125.3 426.1h1.5M148.1 415.1h1.5M151.2 426.2h1.5M135.3 419.9h1.5M155.5 407.9h1.5M149 428.7h1.5M142 430.6h1.5M143.4 419.1h1.5M140.5 414.1h1.5M154.4 424h1.5M143.1 420.8h1.5M153.4 409.7h1.5M151.3 405.2h1.5M137.5 425.5h1.5M146.3 410.3h1.5M142.2 408.7h1.5M138.5 418.2h1.5M141.6 408.2h1.5M142.9 411.4h1.5M130.1 418.2h1.5M139 387.9h1.5M143.9 411h1.5M126.3 404.5h1.5M123.2 372.9h1.5M115.6 344.4h1.5M120.8 372.6h1.5M121.2 341h1.5M110.8 353.2h1.5M113 349.5h1.5M124 363.4h1.5M110.9 351.2h1.5M129.5 371.8h1.5M126.7 374.9h1.5M110.9 351.6h1.5M111.4 352.6h1.5M113.5 345.8h1.5M114.5 374.6h1.5M116.2 346.4h1.5M114.9 347.3h1.5M112.7 352.9h1.5M119.8 372.1h1.5M107.8 363.2h1.5M127.2 373.1h1.5M112.9 386.4h1.5M115.6 381.3h1.5M115.7 391.1h1.5M108.7 392.6h1.5M120.9 389.5h1.5M124.2 389.3h1.5M115.3 388.6h1.5M111.2 378.8h1.5M119.5 378.6h1.5M115.8 389.3h1.5M120 374.5h1.5M120.8 381.9h1.5M120.6 379.2h1.5M110.9 385.1h1.5M118.6 383.3h1.5M120.8 391.6h1.5M117.4 390.9h1.5M118.5 396.3h1.5M116 383.1h1.5M123.9 376.8h1.5M118.3 396.9h1.5M115.4 377.7h1.5M119.2 381.5h1.5M113.7 380.3h1.5M115.7 376.7h1.5M115.4 385.4h1.5M123.9 387.9h1.5M117.7 387.8h1.5M124 384.7h1.5M118.4 375.7h1.5M120.3 376.7h1.5M116.9 374.4h1.5M117.7 388.1h1.5M121.9 385.2h1.5M111.9 378.9h1.5M115.8 391.8h1.5M118 389.7h1.5M119.2 397.2h1.5M121.4 394.7h1.5M120.4 375.7h1.5M118.4 380.2h1.5M118 391.2h1.5M116.2 374.6h1.5M108.4 388.1h1.5M114.6 395h1.5M116.8 375.5h1.5M123.8 384.4h1.5M124.1 386.8h1.5M114.5 380.4h1.5M119.6 392.7h1.5M118.5 389.2h1.5M112.8 377.3h1.5M116.5 388.3h1.5M118.1 384.1h1.5M118.1 384.6h1.5M119.4 379.1h1.5M112.3 383.5h1.5M117.5 377.9h1.5M119.9 383.1h1.5M124.9 386.4h1.5M115.2 398.2h1.5M114.2 387h1.5M119.4 387.5h1.5M121.3 394.2h1.5M119 401.6h1.5M118.3 381.7h1.5M123.2 383.9h1.5M109.3 379.6h1.5M108.7 387.3h1.5M111.6 384.4h1.5M120 382.4h1.5M112.8 378.9h1.5M123.8 381.8h1.5M118.6 378.1h1.5M111.6 379h1.5M122.2 396.7h1.5M110.1 384.4h1.5M121.4 390.7h1.5M119.4 377.8h1.5M121.3 378.9h1.5M120.5 389h1.5M118.6 394.2h1.5M116.4 396.5h1.5M109.4 382.5h1.5M114.9 392.8h1.5M115.7 393.6h1.5M117.4 382.8h1.5M118.3 385.1h1.5M117.2 393.5h1.5M121.9 383.8h1.5M115.6 400.5h1.5M117.8 378.4h1.5M121.7 382.1h1.5M120.6 390.3h1.5M112.4 385.8h1.5M116.8 387.1h1.5M121 381.3h1.5M114.1 395.4h1.5M115.6 389.4h1.5M114.7 378h1.5M116.9 385h1.5M114.2 377h1.5M119.6 376.5h1.5M110.2 387.4h1.5M115.1 383.1h1.5M112.8 382h1.5M124.7 387.4h1.5M115.5 381.8h1.5M115.1 377.2h1.5M118.5 389.5h1.5M124.2 392.7h1.5M115.4 391.2h1.5M119.1 386.5h1.5M123.2 391.8h1.5M115.1 378.8h1.5M114.1 382.2h1.5M116.9 381.7h1.5M120.7 390.3h1.5M122.4 390.2h1.5M121.7 380.4h1.5M122.9 383.1h1.5M119.9 374.5h1.5M120.3 385h1.5M119.3 379.3h1.5M121.9 395.8h1.5M116.3 387.7h1.5M117.4 397.6h1.5M125.2 392.7h1.5M119.1 375.8h1.5M118.3 385h1.5M116.6 389.2h1.5M114.6 386.4h1.5M118.5 379.1h1.5M113.1 382.8h1.5M113.7 384.9h1.5M114.8 390.2h1.5M120.9 393.1h1.5M113.3 383.3h1.5M119.4 395.7h1.5M120.2 381.9h1.5M118.2 394.6h1.5M120.6 390.2h1.5M127 386.1h1.5M117.2 386.6h1.5M113.5 392.1h1.5M108.5 378.7h1.5M120.1 380.6h1.5M120 391.8h1.5M115.9 388.8h1.5M121.2 395.1h1.5M119.9 390.5h1.5M121.5 377.2h1.5M111.1 383.2h1.5M117.7 380.4h1.5M119.7 375.5h1.5M117.3 385.1h1.5M117.3 393.5h1.5M120.2 394h1.5M113.7 396.2h1.5M122.1 397.2h1.5M112.8 386.5h1.5M118.3 379.9h1.5M110 389.9h1.5M117.7 398.5h1.5M116.1 395.7h1.5M122.9 377.4h1.5M125.5 391h1.5M115.3 384.8h1.5M119.8 384.3h1.5M111.6 377.4h1.5M120.5 392h1.5M112 394h1.5M118.1 380.1h1.5M112.7 396.8h1.5M115.2 388.7h1.5M118.2 389.5h1.5M120.4 388.8h1.5M118.8 388.5h1.5M117.1 390h1.5M115.3 383.1h1.5M116.5 390.3h1.5M119.1 388.5h1.5M123.3 382.9h1.5M114.4 384.8h1.5M111.2 381.4h1.5M113.6 385.5h1.5M116.1 389.2h1.5M112.7 393.2h1.5M109.5 386.9h1.5M119.1 382.2h1.5M112.1 394.2h1.5M120 392.2h1.5M121.2 386.7h1.5M116.1 387.4h1.5M114.9 377.9h1.5M112.3 385.3h1.5M116.8 394.3h1.5M115.5 384.8h1.5M115.4 383.4h1.5M115.7 386.9h1.5M109.4 398.4h1.5M119.7 377.1h1.5M116.4 395.1h1.5M117.6 389.1h1.5M121.4 374.6h1.5M120 382.6h1.5M112.8 388.7h1.5M115.8 396.6h1.5M122.8 381.4h1.5M117.4 387.8h1.5M119.8 374.3h1.5M115.3 374.9h1.5M113.7 378.6h1.5M112.1 390.9h1.5M119 389.1h1.5M115.6 377.4h1.5M121.5 383.7h1.5M124.2 388.9h1.5M119.9 381.9h1.5M122.6 389.8h1.5M120.7 384h1.5M115.5 397.6h1.5M109 384.4h1.5M119.5 382.1h1.5M120.9 398.5h1.5M110.5 391.3h1.5M119.2 386.2h1.5M114.5 385h1.5M113.2 385.8h1.5M119 401.6h1.5M123.1 379.8h1.5M114.1 390.4h1.5M119.3 398.8h1.5M115.2 386.3h1.5M112 373.6h1.5M118.7 378.5h1.5M120.7 378.4h1.5M116.9 394.9h1.5M123.8 379h1.5M121.8 393.3h1.5M115.4 382.1h1.5M119.4 382h1.5M118.4 380.4h1.5M120.9 379.2h1.5M118.9 391.1h1.5M124.2 382.9h1.5M126.2 378.6h1.5M120.8 391.8h1.5M118.1 379.9h1.5M124 390.7h1.5M111.7 383.7h1.5M115.2 386.3h1.5M116.6 383.7h1.5M121.2 389.6h1.5M115.1 392.3h1.5M116.3 391.4h1.5M121.1 378.2h1.5M121.1 385.5h1.5M118.4 387.3h1.5M114.9 390.3h1.5M108.8 380.3h1.5M118.3 387.4h1.5M121.1 393.8h1.5M125.7 386.9h1.5M121.6 389.6h1.5M123.2 390.1h1.5M118.1 396.2h1.5M116.6 375.9h1.5M121.8 390.6h1.5M120 397.6h1.5M117.9 390.5h1.5M120.9 380.4h1.5M111.8 380.4h1.5M121.1 382.9h1.5M113.2 386.3h1.5M122.5 395.7h1.5M123.2 386.7h1.5M114.7 384.4h1.5M117 392.4h1.5M116.7 381.1h1.5M118 378.4h1.5M121.7 386.8h1.5M116.7 387h1.5M116.5 380.7h1.5M117.7 375.9h1.5M112.6 382.2h1.5M122.3 398h1.5M112.6 392.5h1.5M113.6 392.1h1.5M121.1 384.7h1.5M125.9 385.7h1.5M117.4 393.4h1.5M124 393.3h1.5M113.8 390.3h1.5M114.6 392.3h1.5M113.9 387.8h1.5M112.2 388.7h1.5M128.3 388.4h1.5M116.1 382.7h1.5M123.7 384.4h1.5M114.6 403.2h1.5M146.4 382.6h1.5M121.7 419.7h1.5M90.3 407.9h1.5M132.4 375.7h1.5M142.9 394.7h1.5M117.3 410h1.5M95.3 383.4h1.5M129.3 408.9h1.5M137.8 390h1.5M138.1 406.8h1.5M92.4 378.6h1.5M151.2 404.2h1.5M97.7 385.5h1.5M149.4 395.4h1.5M85.7 394.8h1.5M124.1 388.8h1.5M92.3 388h1.5M118.6 388.6h1.5M144.1 405.8h1.5M126.1 433.5h1.5M113.8 378.6h1.5M121.7 382.1h1.5M139.7 430.8h1.5M86.8 410.6h1.5M150.8 429.6h1.5M130.5 419.3h1.5M144.3 433h1.5M125.2 373.6h1.5M132.1 382.8h1.5M107.3 403.7h1.5M123.9 434.3h1.5M144.3 380.9h1.5M139.7 383.2h1.5M112.7 399.1h1.5M147.1 419h1.5M144.2 384.5h1.5M132.5 403.3h1.5M143.9 431.9h1.5M96 385.3h1.5M96.5 379.1h1.5M143.7 407.2h1.5M139 412.8h1.5M95.8 376.8h1.5M117.1 388.4h1.5M103.8 404.3h1.5M89.3 383.4h1.5M108.5 395h1.5M127.6 410.2h1.5M118.3 409.7h1.5M115.9 403h1.5M100.5 410.4h1.5M125.9 390.2h1.5M141.1 387.7h1.5M121.7 398h1.5M139.7 403.4h1.5M108 397h1.5M114.1 375.2h1.5" stroke="#000" stroke-width="1.5" fill="none"/><path d="M82.1 390.7h1.3M101.8 415.4h1.3M81.9 403.6h1.3M106.2 411.8h1.3M105.8 369.2h1.3M96.8 373.7h1.3M81.3 397.5h1.3M125.2 356.6h1.3M126.1 366.5h1.3M133.2 377.1h1.3M126.3 363.3h1.3M133.6 369.8h1.3M117.2 366.4h1.3M130.4 366.5h1.3M131.9 377.1h1.3M141.6 370.1h1.3M122.5 411.1h1.3M148.6 376h1.3M133.9 426.8h1.3M157.6 403.7h1.3M134.7 374.1h1.3M138.2 430.3h1.3M130.3 430.9h1.3M126.4 415.4h1.3M126.9 432.3h1.3M125.7 438h1.3M132.9 430.5h1.3M144.5 372.2h1.3M149.2 379.9h1.3M159.8 416.2h1.3M158.1 399.9h1.3M155.1 389.6h1.3M149.4 386h1.3M153.3 387.1h1.3M157.8 406.8h1.3M135.4 435.1h1.3M165.1 417.9h1.3M129.1 425.5h1.3M121.2 416.6h1.3M160.5 435.2h1.3M154.1 393.7h1.3M113 412.8h1.3M121.9 434.3h1.3M148.9 433.8h1.3M160.8 424.6h1.3M154.1 434.9h1.3M158.4 408.1h1.3M156.7 428.9h1.3M161.6 418.4h1.3M137 429.8h1.3M158.8 418.9h1.3M100.6 304.8h1.3M108.6 345.1h1.3M95.4 340.4h1.3M110.5 356.8h1.3M107.1 361.9h1.3M107.5 365.3h1.3M114 364.7h1.3M122.4 346h1.3M111.2 358.2h1.3M97.7 351.6h1.3M112.7 359h1.3M99.4 348.8h1.3M110.9 347.3h1.3M95.9 330.5h1.3M115.7 335.6h1.3M99.6 352.3h1.3M117.5 313.1h1.3M119.8 343.3h1.3M103.5 339.6h1.3M107.2 350.8h1.3M109.9 310h1.3M122.5 365.7h1.3M114.6 310h1.3M115.5 358.5h1.3M110.5 309.8h1.3M114.5 329.9h1.3M105 338.5h1.3M123.4 329.3h1.3M106.8 351.1h1.3M124 340.4h1.3M111.6 329.2h1.3M101.8 357.9h1.3M105.5 328.2h1.3M120.6 341.4h1.3M101.8 365.5h1.3M116.3 354.5h1.3M104.6 317.8h1.3M119.1 317.8h1.3M105.4 349.3h1.3M107.5 308.7h1.3M112.4 322.6h1.3M116.8 350.6h1.3M100.1 322.1h1.3M130.2 355h1.3M130.8 367.3h1.3M119.6 314.6h1.3M103.9 364.9h1.3M106.8 344.7h1.3M128.3 359.4h1.3M104.9 354h1.3M96.8 334.8h1.3M125.8 347.5h1.3M113.9 348.9h1.3M102.6 362h1.3M121.4 361.3h1.3M97.1 357.6h1.3M101.6 299.4h1.3M93.3 364.9h1.3M124.3 329.8h1.3M90 342.8h1.3M128.1 316.5h1.3M117.7 364.3h1.3M108.6 361.3h1.3M112.6 296.4h1.3M93.3 315.6h1.3M113.9 333.2h1.3M144.6 357.1h1.3M147.9 372.1h1.3M130.8 334.1h1.3M136.3 344.5h1.3M128.9 343.6h1.3M141.9 359.5h1.3M134.2 354.8h1.3M124.9 340.5h1.3M138.5 356.5h1.3M129.6 337.5h1.3M126.8 318h1.3M140.5 332.9h1.3M137.7 352.9h1.3M126 345.9h1.3M124.5 328.7h1.3M134.4 360.8h1.3M124.6 343.5h1.3M130.5 349.5h1.3M125.3 357h1.3M141.4 356.3h1.3M139.6 340.1h1.3M141.1 364.9h1.3M139.3 360.9h1.3M147.6 351.5h1.3M151.8 383.4h1.3M87.8 381.4h1.3M109.9 426.2h1.3M82.5 411.9h1.3M161.9 395.8h1.3M149.3 380.5h1.3M113.4 421.4h1.3M144 373.6h1.3M115.9 435.5h1.3M99.2 422.9h1.3M118.1 424.5h1.3M79.2 412.7h1.3M93.9 430.8h1.3M88.4 378.4h1.3M87 424.2h1.3M155.5 381.9h1.3M132.9 439.7h1.3M116.5 429.6h1.3M88.5 377.1h1.3M90.6 415.7h1.3M86.8 430.3h1.3M152.1 436h1.3M114.8 431.4h1.3M159.4 434.8h1.3M155 381.7h1.3M113.6 428.5h1.3M152.5 375.9h1.3M131.3 428.6h1.3M134.5 373.1h1.3M155.2 382.8h1.3M84.7 417.9h1.3M115.9 439.4h1.3" stroke="#111" stroke-width="1.3" fill="none"/><rect x="37.6" y="264" width="194.4" height="193.5" fill="none" stroke="#000" stroke-width="1.7"/><rect x="54.1" y="278.8" width="163.9" height="162.4" fill="none" stroke="#000" stroke-width="1.3"/><path d="M54.1 441.2v4.2M54.1 441.2h-4.2M66.4 441.2v2.6M54.1 429h-2.6M73.7 441.2v2.6M54.1 421.8h-2.6M78.8 441.2v2.6M54.1 416.8h-2.6M82.7 441.2v2.6M54.1 412.8h-2.6M86 441.2v2.6M54.1 409.6h-2.6M88.7 441.2v2.6M54.1 406.9h-2.6M91.1 441.2v2.6M54.1 404.5h-2.6M93.2 441.2v2.6M54.1 402.5h-2.6M95.1 441.2v4.2M54.1 400.6h-4.2M107.4 441.2v2.6M54.1 388.4h-2.6M114.6 441.2v2.6M54.1 381.2h-2.6M119.7 441.2v2.6M54.1 376.2h-2.6M123.7 441.2v2.6M54.1 372.2h-2.6M127 441.2v2.6M54.1 369h-2.6M129.7 441.2v2.6M54.1 366.3h-2.6M132.1 441.2v2.6M54.1 363.9h-2.6M134.2 441.2v2.6M54.1 361.9h-2.6M136.1 441.2v4.2M54.1 360h-4.2M148.4 441.2v2.6M54.1 347.8h-2.6M155.6 441.2v2.6M54.1 340.6h-2.6M160.7 441.2v2.6M54.1 335.6h-2.6M164.7 441.2v2.6M54.1 331.6h-2.6M167.9 441.2v2.6M54.1 328.4h-2.6M170.7 441.2v2.6M54.1 325.7h-2.6M173.1 441.2v2.6M54.1 323.3h-2.6M175.2 441.2v2.6M54.1 321.3h-2.6M177 441.2v4.2M54.1 319.4h-4.2M189.4 441.2v2.6M54.1 307.2h-2.6M196.6 441.2v2.6M54.1 300h-2.6M201.7 441.2v2.6M54.1 295h-2.6M205.7 441.2v2.6M54.1 291h-2.6M208.9 441.2v2.6M54.1 287.8h-2.6M211.7 441.2v2.6M54.1 285.1h-2.6M214 441.2v2.6M54.1 282.7h-2.6M216.1 441.2v2.6M54.1 280.7h-2.6M218 441.2v4.2M54.1 278.8h-4.2" stroke="#000" stroke-width="1.1" fill="none"/><text x="45.1" y="452.6" font-family="Liberation Mono" font-size="10" stroke="#000" stroke-width="0.35">10<tspan font-size="7" dy="-2.4">0</tspan></text><text transform="translate(50.3,450.2) rotate(-90)" font-family="Liberation Mono" font-size="10" stroke="#000" stroke-width="0.35">10<tspan font-size="7" dy="-2.4">0</tspan></text><text x="86.1" y="452.6" font-family="Liberation Mono" font-size="10" stroke="#000" stroke-width="0.35">10<tspan font-size="7" dy="-2.4">1</tspan></text><text transform="translate(50.3,409.6) rotate(-90)" font-family="Liberation Mono" font-size="10" stroke="#000" stroke-width="0.35">10<tspan font-size="7" dy="-2.4">1</tspan></text><text x="127.1" y="452.6" font-family="Liberation Mono" font-size="10" stroke="#000" stroke-width="0.35">10<tspan font-size="7" dy="-2.4">2</tspan></text><text transform="translate(50.3,369) rotate(-90)" font-family="Liberation Mono" font-size="10" stroke="#000" stroke-width="0.35">10<tspan font-size="7" dy="-2.4">2</tspan></text><text x="168" y="452.6" font-family="Liberation Mono" font-size="10" stroke="#000" stroke-width="0.35">10<tspan font-size="7" dy="-2.4">3</tspan></text><text transform="translate(50.3,328.4) rotate(-90)" font-family="Liberation Mono" font-size="10" stroke="#000" stroke-width="0.35">10<tspan font-size="7" dy="-2.4">3</tspan></text><text x="209" y="452.6" font-family="Liberation Mono" font-size="10" stroke="#000" stroke-width="0.35">10<tspan font-size="7" dy="-2.4">4</tspan></text><text transform="translate(50.3,287.8) rotate(-90)" font-family="Liberation Mono" font-size="10" stroke="#000" stroke-width="0.35">10<tspan font-size="7" dy="-2.4">4</tspan></text><line x1="123.2" y1="278.8" x2="123.2" y2="441.2" stroke="#000" stroke-width="1.2"/><line x1="54.1" y1="370.1" x2="218" y2="370.1" stroke="#000" stroke-width="1.2"/><path d="M284.5 407.8h1.5M298.6 407.8h1.5M308.1 393.8h1.5M299.8 386.7h1.5M293.4 401.2h1.5M295.3 393.3h1.5M297.7 405.5h1.5M306.3 406.9h1.5M300.9 395h1.5M297.6 394.6h1.5M308.6 395.1h1.5M302.6 397.5h1.5M307.9 401.8h1.5M306.2 384.9h1.5M315.1 400.6h1.5M312.6 393.1h1.5M291.1 397.7h1.5M312 386.1h1.5M309.7 392.2h1.5M304.1 393.4h1.5M312.9 389.1h1.5M298.7 396.2h1.5M323 384.9h1.5M315.1 392.1h1.5M306.2 398.8h1.5M305.5 394.7h1.5M297.9 394.9h1.5M307.9 396.6h1.5M307.8 386.5h1.5M313.3 392.9h1.5M292.8 406.3h1.5M306.8 387.3h1.5M301.4 408.1h1.5M310.9 391.2h1.5M304 396h1.5M302.8 402.4h1.5M289.4 406.6h1.5M306.4 405.7h1.5M316.5 384.2h1.5M299 409.1h1.5M303.3 404.3h1.5M302.8 405.9h1.5M289.6 396.7h1.5M309.8 396.9h1.5M316.8 398.5h1.5M305.1 399.8h1.5M298.7 400.2h1.5M295.5 394.2h1.5M299.8 408.7h1.5M299.7 399h1.5M310.9 400.4h1.5M315.8 397h1.5M292.9 416.9h1.5M306.3 397.9h1.5M286.7 412.7h1.5M301.5 396.5h1.5M309 389.3h1.5M308.7 402.7h1.5M303.3 389.7h1.5M306.5 387.3h1.5M294.4 406.1h1.5M294.4 411.4h1.5M305.2 405.6h1.5M314.1 396.4h1.5M319.3 388.5h1.5M304.7 392.3h1.5M297.5 414.9h1.5M308.7 390.1h1.5M289.3 404.2h1.5M302.7 388.5h1.5M305.6 388.5h1.5M296.8 410.7h1.5M294.2 398.2h1.5M305.1 390.5h1.5M289.9 398.1h1.5M297.3 404.8h1.5M292.7 410.2h1.5M296 403.4h1.5M300.8 409h1.5M292.2 403.4h1.5M313 383.6h1.5M290.7 408.5h1.5M291.4 406.9h1.5M297.7 410.6h1.5M305.1 399.8h1.5M308 392.4h1.5M304.1 395.1h1.5M304 405.2h1.5M298.8 388.4h1.5M295.1 392.4h1.5M300.3 406.7h1.5M321.1 385.1h1.5M300.8 404.6h1.5M291.4 403.7h1.5M311.8 394.4h1.5M309.2 391.4h1.5M313.3 384.2h1.5M295.4 405.2h1.5M308.1 382.9h1.5M312.7 403.7h1.5M292.1 415.2h1.5M312.4 382.6h1.5M315.8 388.3h1.5M309.9 385.8h1.5M318 388.6h1.5M300.5 397.4h1.5M297.2 401.4h1.5M309.6 400.8h1.5M302.1 395.7h1.5M314.3 396.5h1.5M319.3 384.3h1.5M295.9 395.7h1.5M308.5 399.3h1.5M295.2 413.5h1.5M288.7 414.6h1.5M306.1 396.5h1.5M295.8 405.4h1.5M289.1 405.8h1.5M301.7 403.4h1.5M307 400.6h1.5M294 407h1.5M297.7 409.2h1.5M303.9 399.1h1.5M312.2 393h1.5M303.9 401.6h1.5M308.4 385.4h1.5M306 403.2h1.5M296.5 406.1h1.5M321.2 392.5h1.5M317.2 388.5h1.5M295.3 414.3h1.5M302.2 393.1h1.5M305.5 389.9h1.5M304.2 401.9h1.5M313.8 395.3h1.5M288.3 404h1.5M292.2 414.8h1.5M298.8 407.6h1.5M299.2 400.8h1.5M295 415.7h1.5M306.7 411.4h1.5M310.1 399.9h1.5M322.1 381.5h1.5M313.4 399.8h1.5M306.4 399h1.5M295.1 406.8h1.5M306.1 405.5h1.5M307.9 384.5h1.5M309.4 387.3h1.5M307.6 395.8h1.5M290.6 414.1h1.5M297 395.1h1.5M303.8 396.7h1.5M300.6 397.7h1.5M288.1 417h1.5M294.7 399.9h1.5M300.3 389.4h1.5M313.3 390.8h1.5M312.6 388.7h1.5M310.9 388.5h1.5M294.1 406.5h1.5M317.3 387.1h1.5M318.2 389.7h1.5M297.2 407.9h1.5M294.5 411h1.5M303.5 408.6h1.5M300.1 388.7h1.5M309.7 405.5h1.5M298.1 399.5h1.5M312.7 383.7h1.5M285.9 410.9h1.5M308.1 396.6h1.5M301 414.3h1.5M295.7 401.6h1.5M298.1 401.3h1.5M318.8 388.1h1.5M314.6 396.4h1.5M303.6 416.1h1.5M304 401.4h1.5M307.4 391.6h1.5M292.8 403h1.5M307.2 383.5h1.5M295.9 398.1h1.5M309.5 395.1h1.5M294.3 409.8h1.5M300.8 412.3h1.5M293.1 395.8h1.5M308.5 386h1.5M307.5 408.2h1.5M305.7 398.3h1.5M302.3 396.2h1.5M286.8 409.1h1.5M291.5 404.4h1.5M309.1 389h1.5M304.4 392.2h1.5M311.3 405.5h1.5M293.2 413.7h1.5M294.2 402.3h1.5M292.9 402.3h1.5M290.4 394.6h1.5M323.2 383.1h1.5M303.8 390.9h1.5M297 405.6h1.5M288 412.7h1.5M318.7 394.1h1.5M295.4 395.3h1.5M308.7 385.7h1.5M298.3 406.7h1.5M303.1 402.6h1.5M304.7 406.1h1.5M294 411h1.5M321.8 390.9h1.5M295.6 397.2h1.5M311.2 396.3h1.5M307.7 393.6h1.5M309.3 392.4h1.5M302.8 392.6h1.5M304.4 390.8h1.5M307.2 385.7h1.5M311.3 387.3h1.5M287.8 415.9h1.5M292.6 409.2h1.5M314 386.6h1.5M299.3 400.3h1.5M293.2 405.7h1.5M314.2 389h1.5M308.6 396.6h1.5M299 411.4h1.5M297.6 406.1h1.5M316.6 397.6h1.5M284.7 413.7h1.5M298.1 393.6h1.5M298.4 394.4h1.5M296.1 411h1.5M291.3 408.8h1.5M300.6 401.7h1.5M314.9 394.9h1.5M308.8 406.1h1.5M309.2 396.4h1.5M306.8 396.8h1.5M301.5 413.3h1.5M311 394.2h1.5M295.8 406.2h1.5M318.6 382.3h1.5M288.6 407.7h1.5M308.4 388.8h1.5M294.5 404.7h1.5M300.3 400.2h1.5M303.9 391.2h1.5M310.5 384.3h1.5M306.6 394.1h1.5M307.1 404.7h1.5M310.4 380.6h1.5M308.7 394.8h1.5M309.8 401.2h1.5M295.6 401.5h1.5M306.3 395.4h1.5M305 391.7h1.5M316.3 395.4h1.5M307.6 402h1.5M311.3 392.9h1.5M307.7 398.6h1.5M315.3 395.5h1.5M309.9 388h1.5M312.1 390.2h1.5M298.4 403.7h1.5M295.4 391.6h1.5M290.4 403.5h1.5M307.5 394.3h1.5M318.9 385.1h1.5M299 397.8h1.5M303.7 406.6h1.5M316.6 387.7h1.5M302.1 407.6h1.5M297.9 393.6h1.5M306.2 392.7h1.5M306.7 409.7h1.5M306 396.2h1.5M298.4 415h1.5M305.8 408.9h1.5M301.8 395.6h1.5M298.5 413.9h1.5M296.4 400.8h1.5M309.4 393.7h1.5M295.5 405.2h1.5M313.1 388.3h1.5M302.4 392.4h1.5M288.8 403.8h1.5M290.6 407.5h1.5M317.7 389.3h1.5M302.8 391.7h1.5M306.1 391.3h1.5M305 398.3h1.5M292.9 406.8h1.5M292.2 398.3h1.5M307.9 387.7h1.5M299.7 400.5h1.5M317.3 386.9h1.5M306.6 392.3h1.5M292.4 402.3h1.5M310.1 380.5h1.5M302.4 414.3h1.5M304.6 395.7h1.5M315.3 391.5h1.5M303.3 385.9h1.5M307.4 390.1h1.5M301.9 409.9h1.5M314.1 393.3h1.5M314.3 391.1h1.5M302.9 390.2h1.5M305.4 390.8h1.5M309.3 391.5h1.5M314.5 388.7h1.5M305.2 393.6h1.5M291.2 399.5h1.5M305.4 394h1.5M292.9 409.6h1.5M305.2 402.7h1.5M297.4 398.5h1.5M290 410.4h1.5M308.7 384.5h1.5M302.5 410.8h1.5M303 401.4h1.5M297.6 406.4h1.5M302.7 393.1h1.5M289.8 411.4h1.5M301.1 403.1h1.5M307.1 387.2h1.5M299.2 398.4h1.5M310 381.5h1.5M314.5 395.6h1.5M304.6 399.4h1.5M310.3 394.5h1.5M301.8 404.2h1.5M311.7 390.3h1.5M303.7 404.1h1.5M303.2 385.7h1.5M311.6 392.5h1.5M291 417.1h1.5M307.4 387.5h1.5M293.5 405.6h1.5M292.8 411.7h1.5M307.7 383.5h1.5M288 412.7h1.5M297.8 402.5h1.5M311.4 388.6h1.5M301.1 400.1h1.5M309 400.2h1.5M316.4 391.4h1.5M308.7 391.2h1.5M310.9 387.6h1.5M316.6 396.1h1.5M305.3 401h1.5M312.5 386.6h1.5M314.2 382.9h1.5M296.2 410.4h1.5M311.3 384.2h1.5M288.3 407.1h1.5M288.3 401.7h1.5M290.3 404.5h1.5M301.5 396.8h1.5M306.4 399.3h1.5M314 395h1.5M305.9 408.1h1.5M315.3 388.7h1.5M293.7 406.5h1.5M298.3 393.8h1.5M299.7 394.8h1.5M292.5 412.6h1.5M292.7 403.5h1.5M313.6 388.6h1.5M309.4 391.8h1.5M302.5 396.2h1.5M290.9 410.2h1.5M294.6 399.1h1.5M301.3 393h1.5M298.6 399.9h1.5M300.1 388.5h1.5M284.8 412.6h1.5M306.7 386.2h1.5M296.3 406.1h1.5M287.9 416.4h1.5M291 404.6h1.5M315.3 386.8h1.5M311.3 400.9h1.5M302.8 395.4h1.5M299.7 407.7h1.5M301.6 408.1h1.5M302.6 408.6h1.5M298.7 407.7h1.5M297.2 417.4h1.5M309.3 400.4h1.5M312.7 392.5h1.5M317.2 391.9h1.5M306.4 390.8h1.5M305.6 402.9h1.5M303.4 396.1h1.5M294.1 412.2h1.5M299.4 388.1h1.5M311.8 379.5h1.5M290 407.3h1.5M293.6 410.3h1.5M305.8 402h1.5M296.7 396.1h1.5M299.5 399.9h1.5M290.5 408.2h1.5M313.2 392.1h1.5M303.2 395.3h1.5M290.3 410.6h1.5M303.2 389h1.5M313.3 391.9h1.5M299.9 404.6h1.5M302.6 408h1.5M303.8 394h1.5M294.7 403.4h1.5M300.1 411.1h1.5M315.5 391.4h1.5M309.6 387.9h1.5M306.2 391.6h1.5M303.5 401.5h1.5M311.8 390.7h1.5M298.4 406.8h1.5M310.7 385.6h1.5M308.5 402.4h1.5M303.5 399.9h1.5M307.7 398.4h1.5M301.1 393.5h1.5M298.4 403.4h1.5M307.6 399.5h1.5M309.2 398.2h1.5M311.4 390.4h1.5M313.4 391.5h1.5M305.9 396.5h1.5M305.3 396.9h1.5M306.5 390.9h1.5M300.5 391.9h1.5M303.1 403.3h1.5M295.1 403.4h1.5M303.7 408h1.5M291.9 410.9h1.5M320.4 389.1h1.5M311.5 394.1h1.5M301.7 392.7h1.5M297.1 412.9h1.5M321.2 386.5h1.5M307 393.9h1.5M314.7 391.1h1.5M293.8 407.8h1.5M298.4 406h1.5M304.9 400.5h1.5M307.5 397h1.5M296.5 402.9h1.5M300.5 407.7h1.5M301.6 412.2h1.5M312.7 389.1h1.5M311.1 389.7h1.5M300.9 395.8h1.5M308.3 399.8h1.5M320.4 392.8h1.5M310.1 397.6h1.5M303.3 400.7h1.5M291.6 399.3h1.5M309.3 390.3h1.5M310.3 393.9h1.5M311.6 386.6h1.5M297.3 407.1h1.5M309.6 385.3h1.5M290.4 404.6h1.5M301.4 391.2h1.5M290.1 406.6h1.5M309.4 399.7h1.5M298.6 399.2h1.5M306.6 394.1h1.5M297.1 395.3h1.5M303.7 398.5h1.5M305 393.8h1.5M312.5 402.5h1.5M314.2 405.1h1.5M313.7 382.7h1.5M289.2 402.9h1.5M312.1 399.2h1.5M308.6 401.9h1.5M303.6 409.1h1.5M287.3 418.4h1.5M298 404.5h1.5M309.1 381h1.5M302.5 413.3h1.5M298.3 394.6h1.5M313.6 397.7h1.5M310.2 401.3h1.5M309.4 403.9h1.5M294.9 400.3h1.5M301.6 389.4h1.5M304.4 400.9h1.5M298.1 386.9h1.5M297.6 408.8h1.5M304.1 410.4h1.5M320.8 380.7h1.5M301 396.4h1.5M294.3 414.5h1.5M301 388.5h1.5M292 399.1h1.5M297.1 402.3h1.5M309.6 382.2h1.5M310.6 399.9h1.5M292.3 402.6h1.5M299.4 404.3h1.5M305.1 404.3h1.5M303.4 397.9h1.5M314.6 389.3h1.5M295.3 400.4h1.5M315.3 387.5h1.5M304 405.2h1.5M316.5 397.2h1.5M293.3 405.6h1.5M304.6 401.9h1.5M312.2 400.4h1.5M308.5 393.7h1.5M314.1 390.2h1.5M295.2 401.9h1.5M302.4 403.4h1.5M289.3 419.1h1.5M289 402.1h1.5M301.7 396.6h1.5M312 387.7h1.5M306.2 396.6h1.5M301.6 407.5h1.5M301 402h1.5M305.1 404h1.5M297.7 411.5h1.5M298.2 410.5h1.5M291.6 409h1.5M287.5 416.6h1.5M302.1 401.4h1.5M300.1 406h1.5M297.4 412.2h1.5M297.5 414.2h1.5M302.4 403.7h1.5M307.5 395.4h1.5M300.3 391.6h1.5M307.5 386h1.5M297.2 399.9h1.5M296.4 403.3h1.5M288.7 405.8h1.5M299.1 411.3h1.5M304.3 406.1h1.5M301.6 401.1h1.5M311.4 390.7h1.5M298.1 406.4h1.5M311.3 399.5h1.5M301.3 411.9h1.5M294.7 409.9h1.5M296.4 405.3h1.5M297.5 404.4h1.5M313.2 397.2h1.5M306.6 388h1.5M311.6 403.2h1.5M302.6 397.7h1.5M305.4 390.4h1.5M313.2 390.5h1.5M306.5 406.8h1.5M295.2 413.6h1.5M310.3 396.8h1.5M293.6 413.6h1.5M307 402.9h1.5M303 405.9h1.5M314.2 393.5h1.5M291.6 393.1h1.5M312.9 389.7h1.5M310.3 402.2h1.5M301.8 398.6h1.5M308.5 402.8h1.5M294.1 413.2h1.5M310.4 386.8h1.5M293.1 406.5h1.5M307.4 388.6h1.5M309.6 396.6h1.5M296.5 393.4h1.5M290.9 412.4h1.5M309.9 392.8h1.5M292.1 410.5h1.5M307.9 400.2h1.5M300.2 400.3h1.5M298.7 399.5h1.5M294.3 399.1h1.5M310.7 390.6h1.5M310.8 394.4h1.5M319.8 386.6h1.5M309.7 386h1.5M299.8 403h1.5M306.4 408.4h1.5M310.6 388.2h1.5M300 401h1.5M307.4 396.4h1.5M310.2 399h1.5M303.1 391.4h1.5M316.1 382.5h1.5M307.4 395.4h1.5M301.2 407.1h1.5M286.7 410.5h1.5M308.6 405.2h1.5M315.4 400.2h1.5M309.5 399.4h1.5M291.9 406.7h1.5M305 393.7h1.5M316.6 381.6h1.5M294.5 414h1.5M298.3 388.6h1.5M300.6 396.9h1.5M304 405.8h1.5M303.5 394.3h1.5M299.3 390.6h1.5M307 387.4h1.5M318.5 384.8h1.5M314.7 397.2h1.5M318.6 394h1.5M298.1 399.5h1.5M303.1 397h1.5M289.7 413.1h1.5M295.6 405.4h1.5M309.9 389.6h1.5M315.1 393.1h1.5M295.2 408.1h1.5M287.7 408.2h1.5M302.8 394.7h1.5M293 410.3h1.5M311.2 393.8h1.5M306.7 398h1.5M320.6 389.7h1.5M314.5 392.2h1.5M312.3 394.9h1.5M313.9 396.6h1.5M307.1 408.1h1.5M302.5 403.4h1.5M301.3 399.9h1.5M306.3 407.1h1.5M298.2 397.2h1.5M310.6 397.7h1.5M311.4 393.5h1.5M306.8 402.7h1.5M292 405.6h1.5M304.3 405.2h1.5M315.9 400.4h1.5M305 412.7h1.5M316.1 400.5h1.5M302.3 410.4h1.5M303.4 409h1.5M309 390.1h1.5M282.4 413.9h1.5M310 403.9h1.5M316 394.5h1.5M311 389.6h1.5M302.4 402.6h1.5M299.1 406.1h1.5M309.6 392h1.5M286.2 406.6h1.5M303.5 385.8h1.5M300.1 388.9h1.5M302 402.3h1.5M290.2 402.5h1.5M309.1 403.2h1.5M305.2 408.4h1.5M291.3 413h1.5M307.5 384.6h1.5M297.8 401.1h1.5M316.3 389.1h1.5M293.1 411.1h1.5M307.4 405.2h1.5M295.7 410.8h1.5M286.7 412.4h1.5M312.7 391.5h1.5M293.6 412h1.5M306.9 387.9h1.5M296.2 410.1h1.5M314.2 404.6h1.5M318.2 388h1.5M314.9 390h1.5M287.3 411.2h1.5M309.4 385.1h1.5M291.9 420.5h1.5M307.8 398.2h1.5M297.7 394.9h1.5M293.9 402.7h1.5M294.9 404.1h1.5M315.7 386.8h1.5M302.9 403.1h1.5M310.8 394.4h1.5M297 396.2h1.5M299.4 405h1.5M299.6 395.6h1.5M292.6 406.4h1.5M311.6 394.4h1.5M313.2 393.2h1.5M298.6 405.6h1.5M316.5 394.8h1.5M308.2 398.8h1.5M315.7 386.8h1.5M321.5 388.3h1.5M308.1 394.5h1.5M317.9 386.7h1.5M299.5 395.9h1.5M314.3 386.2h1.5M299.9 393.4h1.5M304.9 399.1h1.5M298.1 397.5h1.5M306.7 398.2h1.5M316.6 387.3h1.5M313.2 406.4h1.5M301.9 397.2h1.5M301.3 397h1.5M311.2 403.6h1.5M290.3 404.5h1.5M303.3 399.8h1.5M298.9 403.5h1.5M308.5 387.6h1.5M303.1 408.6h1.5M314.2 389.1h1.5M290.1 408.9h1.5M314.5 395h1.5M299.7 411.3h1.5M292.8 406.4h1.5M317.2 386.7h1.5M298 397.2h1.5M296.6 412.2h1.5M306.6 382.3h1.5M300.3 394.3h1.5M295.5 398.7h1.5M292 405.6h1.5M312.4 398.3h1.5M305.1 405.4h1.5M299.4 404.2h1.5M299.3 403.2h1.5M312.5 399.7h1.5M303.3 396.6h1.5M320.4 387.3h1.5M295.2 402.3h1.5M321.3 388.3h1.5M316.8 385.6h1.5M305.3 400.6h1.5M304.3 410.4h1.5M298.4 393.7h1.5M307.7 388.7h1.5M306.2 413.9h1.5M306.1 394.9h1.5M289.9 410.3h1.5M298.7 392.5h1.5M292 404.1h1.5M311.2 395.4h1.5M301.8 402h1.5M308.4 402.8h1.5M299.3 400.8h1.5M310.1 389.7h1.5M297 403.6h1.5M305.9 392.6h1.5M292.7 404.7h1.5M299.8 391.4h1.5M314.6 393.1h1.5M296 396.9h1.5M291.6 400.3h1.5M307.3 404.4h1.5M314.5 393.2h1.5M306.6 390.1h1.5M316.3 398.1h1.5M305.4 398.1h1.5M288.6 409.1h1.5M299.6 404h1.5M303.8 406.5h1.5M291.3 399h1.5M291.8 410.7h1.5M298.2 406.1h1.5M299.6 394.9h1.5M310.4 396.5h1.5M301.3 403.6h1.5M294.7 411.4h1.5M313.8 394.2h1.5M303.8 408.7h1.5M300.5 394.7h1.5M295.5 412.6h1.5M310.9 380.8h1.5M303.6 414h1.5M314.1 391.6h1.5M298.8 405h1.5M302.1 410.1h1.5M315.2 383.6h1.5M295.3 408.3h1.5M306.4 384.2h1.5M299.9 409.9h1.5M303.9 407h1.5M294.1 411.8h1.5M312.7 394.7h1.5M298.3 397.1h1.5M310.8 388.3h1.5M319.4 387.5h1.5M291.4 412.6h1.5M302.6 409.2h1.5M290.4 407.1h1.5M288.4 401.8h1.5M303.8 400.8h1.5M303.2 402.2h1.5M306.7 413.5h1.5M306.5 403.7h1.5M302.2 395.2h1.5M292.2 414h1.5M291.6 406.6h1.5M301.4 397.4h1.5M312 381.2h1.5M308.2 398.2h1.5M309.8 400.9h1.5M309 403.6h1.5M306 390.2h1.5M295.5 403.4h1.5M298.8 415.6h1.5M293 407h1.5M293.6 402.9h1.5M311.3 382.8h1.5M309.7 391.1h1.5M308.1 390.6h1.5M306.7 406.5h1.5M301.7 404.5h1.5M292.6 414.3h1.5M308.6 390.7h1.5M295.9 410.6h1.5M311.4 396.2h1.5M319.2 386.4h1.5M302.4 403h1.5M317 392.9h1.5M313.6 386.7h1.5M300.9 408.9h1.5M297.6 387.7h1.5M290.2 412.7h1.5M302.2 394.2h1.5M317.5 389.9h1.5M297.1 402.5h1.5M297.6 416.2h1.5M294.1 407h1.5M300.3 396.3h1.5M302.1 401.5h1.5M310.2 393.3h1.5M302 412.2h1.5M313.2 394.9h1.5M292 400.6h1.5M307.1 398.4h1.5M300.1 391.3h1.5M302.7 384.8h1.5M299.7 412h1.5M314.7 387.6h1.5M308.6 396.4h1.5M297.1 396.5h1.5M311.4 386.3h1.5M293.6 409.7h1.5M293.7 412.8h1.5M294.9 392.9h1.5M297.1 408.9h1.5M310.6 406.5h1.5M311 399.2h1.5M302.7 398.3h1.5M297.5 390.3h1.5M313.4 396.7h1.5M290.1 416.3h1.5M300.6 398.5h1.5M290.5 406.5h1.5M290 411.1h1.5M315.1 388.3h1.5M293.2 403.3h1.5M311.3 395.2h1.5M305.8 386.6h1.5M304.3 390.4h1.5M303 403.6h1.5M294.8 403.4h1.5M304.6 409.7h1.5M298 402.4h1.5M294.4 413.8h1.5M308 392.4h1.5M299.6 393.8h1.5M305.4 385.1h1.5M306.7 383.7h1.5M301.7 412h1.5M295.3 415.6h1.5M305.5 407.2h1.5M294.2 401.5h1.5M313.6 392.7h1.5M305.9 398.2h1.5M306.7 406.3h1.5M291.7 409.6h1.5M311.9 406.9h1.5M316.7 385.4h1.5M309.4 395.9h1.5M290.9 408.3h1.5M294 403.6h1.5M302 406.2h1.5M308.5 403.2h1.5M317.8 387.7h1.5M289.7 401.3h1.5M307.6 384.9h1.5M295.9 404.5h1.5M292.1 408.7h1.5M297.7 397.4h1.5M300.7 395h1.5M311.9 392.4h1.5M313.2 394.6h1.5M312.1 387.4h1.5M306.5 400.5h1.5M309.9 403.4h1.5M295.6 407.7h1.5M291.7 411.1h1.5M300.8 408.9h1.5M293.6 413.4h1.5M290.6 418h1.5M295.3 404.1h1.5M315.2 387.1h1.5M312.1 395.4h1.5M311.3 389.1h1.5M296.8 406.1h1.5M302.8 406.8h1.5M317.1 382.3h1.5M294.4 410.9h1.5M302.5 408h1.5M316.8 395.5h1.5M310.6 393.9h1.5M296.6 411.2h1.5M304.9 412.9h1.5M304.5 399.6h1.5M294.2 407.7h1.5M308.5 403.7h1.5M295.9 411.4h1.5M301.8 407.6h1.5M310.5 399.5h1.5M303.2 392.9h1.5M315.8 397.7h1.5M297.3 407.9h1.5M290.5 417.4h1.5M297.1 408.4h1.5M298.9 407.3h1.5M298 396.1h1.5M303.5 391.9h1.5M310.6 409.1h1.5M312.5 394.5h1.5M300.3 404.3h1.5M313.2 399.6h1.5M302.8 407h1.5M303.9 415h1.5M318 388.8h1.5M299.5 397.6h1.5M299.5 403.1h1.5M319.2 388h1.5M310 399.2h1.5M305.5 394.5h1.5M298.6 393.5h1.5M293.1 412h1.5M306.7 392.3h1.5M314 393.5h1.5M289.9 411.2h1.5M306.7 392.6h1.5M309.6 394.6h1.5M305.8 385.1h1.5M296.9 399.3h1.5M304.8 386.2h1.5M310.9 389.6h1.5M307.3 394.2h1.5M300.5 391.7h1.5M311.8 385.8h1.5M302.9 404.3h1.5M308.3 393.2h1.5M299.1 415.7h1.5M300.3 407.7h1.5M295.4 412.3h1.5M307.1 397.1h1.5M304 402.8h1.5M310 397.5h1.5M307.1 408.5h1.5M288 415.1h1.5M306.3 395h1.5M316.1 394.7h1.5M288.3 412.3h1.5M295.8 411.7h1.5M316.2 390.5h1.5M297 409.2h1.5M299.4 415.9h1.5M301.5 402.2h1.5M312.3 390.5h1.5M299 413.4h1.5M301.7 400.3h1.5M295.2 413.7h1.5M316.9 401.1h1.5M298.8 401.7h1.5M301.3 404.1h1.5M315.9 387.8h1.5M302.9 399.9h1.5M318.6 392.4h1.5M302.3 395.4h1.5M306.1 401.9h1.5M315.5 387.1h1.5M301.3 393.2h1.5M291.4 403.6h1.5M309.1 396h1.5M304.6 400.9h1.5M301.5 406.9h1.5M303.6 401h1.5M298.3 400.8h1.5M304.2 396.3h1.5M286.9 414.5h1.5M310.3 407.5h1.5M291.6 412.6h1.5M313.9 403.6h1.5M304.4 392.6h1.5M307.6 404.6h1.5M312.6 390.1h1.5M317.2 398.2h1.5M312.8 390.3h1.5M303 393h1.5M304.5 388.3h1.5M316.4 387h1.5M318.9 391.2h1.5M306.2 409.4h1.5M289.2 413h1.5M294.3 414.9h1.5M314.2 402.4h1.5M292.9 401h1.5M284 406.2h1.5M315 386.6h1.5M302.3 391.4h1.5M297.3 407h1.5M315.3 387.9h1.5M306.6 385.6h1.5M313.6 398.6h1.5M296.8 406.8h1.5M291.9 414.5h1.5M303.3 394.8h1.5M296.9 391.6h1.5M302.1 402.5h1.5M300.4 395.3h1.5M304.2 393.7h1.5M303.1 398.6h1.5M294.2 413.2h1.5M308.2 388.1h1.5M293.5 409.1h1.5M305.3 389.9h1.5M306.6 403.9h1.5M310.4 403.6h1.5M308.1 397.9h1.5M294.1 403.7h1.5M308.4 395.9h1.5M308.1 396.3h1.5M295.5 411.3h1.5M292.9 403.2h1.5M298.1 394.8h1.5M303.6 413.5h1.5M295.2 412h1.5M316.6 386.9h1.5M301.9 406.6h1.5M311.4 386.1h1.5M312.7 403.4h1.5M310.2 399.7h1.5M302.7 406.9h1.5M305.3 402.9h1.5M292.6 417h1.5M310.9 386.2h1.5M294.6 402.6h1.5M295.5 406.3h1.5M306.4 397.1h1.5M304.8 396.1h1.5M292.1 413.9h1.5M299.5 390h1.5M295.3 408.9h1.5M302 404.5h1.5M291.7 407.2h1.5M304.2 405.4h1.5M317.5 405.2h1.5M305 410.7h1.5M319.4 389.9h1.5M300.9 412.1h1.5M289.3 414.5h1.5M302 388.5h1.5M306.9 400.5h1.5M313.3 401.4h1.5M306.6 401.2h1.5M299.2 404h1.5M299.3 402h1.5M298.6 394.5h1.5M302.5 410.8h1.5M308.1 393.9h1.5M313.5 387.4h1.5M308.6 394h1.5M305.4 399.6h1.5M289.2 407.5h1.5M300 413.3h1.5M297.3 405.1h1.5M317.4 387.5h1.5M297.1 414.8h1.5M314.6 386.3h1.5M303.6 387.9h1.5M299.2 398.1h1.5M306.5 404.5h1.5M295.3 407.4h1.5M303 398.2h1.5M295.5 408.7h1.5M298.3 390h1.5M300.1 397.1h1.5M295.9 391.3h1.5M295 389.2h1.5M311.5 392.6h1.5M297.8 413.1h1.5M300.8 400.3h1.5M316.6 388.3h1.5M305.5 398.6h1.5M310.8 386.7h1.5M311.6 402h1.5M294.8 409.9h1.5M301.6 400.7h1.5M307.9 398.8h1.5M312.2 396.7h1.5M309.3 399.2h1.5M305.7 399.3h1.5M302.6 398.3h1.5M302.3 395.1h1.5M304.3 395.7h1.5M293.2 404.3h1.5M297.9 409.9h1.5M300.6 408h1.5M287.2 410.1h1.5M293.4 408.3h1.5M312.7 387.9h1.5M298.9 412.3h1.5M301.3 410.6h1.5M295.8 413.1h1.5M304.7 383.1h1.5M294.5 410.3h1.5M290.1 408h1.5M295.1 410.3h1.5M303.4 401h1.5M290.6 410.1h1.5M322.2 391h1.5M305 379.6h1.5M301.9 393.1h1.5M307.9 389.8h1.5M295.4 397.7h1.5M297 406.1h1.5M296.3 396.5h1.5M295.5 409.6h1.5M305.1 410.8h1.5M299.3 396.1h1.5M305.6 394.2h1.5M295.5 403.1h1.5M324.8 385.1h1.5M288.7 412.1h1.5M303.8 390.6h1.5M310.2 409h1.5M290.6 407.2h1.5M311.5 390.6h1.5M318.9 392.8h1.5M304.7 399.6h1.5M310.3 405.1h1.5M312.6 389h1.5M312.5 396.3h1.5M309.8 393.5h1.5M307.4 394.5h1.5M293.6 408.8h1.5M298.7 395.9h1.5M306.5 394.1h1.5M309.8 390.2h1.5M305.7 393.5h1.5M315.7 392.7h1.5M317.3 389.4h1.5M295.5 412h1.5M309.4 399.5h1.5M298.7 411.3h1.5M305.7 394.9h1.5M289.8 396.6h1.5M289 409h1.5M301.1 405h1.5M292.9 412.7h1.5M297 398.9h1.5M311.1 394h1.5M309.9 402.3h1.5M302.2 393h1.5M294.1 411.6h1.5M291.3 400.2h1.5M306.6 389.4h1.5M303.6 397.6h1.5M319.9 389.9h1.5M317.3 391.8h1.5M311.7 397h1.5M298.4 388.3h1.5M294.6 415.2h1.5M301.3 390.6h1.5M310.6 392.2h1.5M294.4 408.6h1.5M306.2 403.2h1.5M306.3 407.2h1.5M312.2 382.6h1.5M310.6 388.2h1.5M314.7 393.2h1.5M303.3 390.4h1.5M316.1 388.6h1.5M296.3 409.7h1.5M297.3 402.9h1.5M298.2 412.1h1.5M300.8 408.2h1.5M294.4 412.9h1.5M307.8 390.4h1.5M311.7 384.2h1.5M310.7 382.4h1.5M300.4 390.8h1.5M312.4 397h1.5M306.5 400.5h1.5M293 413.4h1.5M303.1 404.7h1.5M309.8 401h1.5M288.5 412.1h1.5M306.5 399.2h1.5M295.6 395h1.5M311.2 387.3h1.5M294.3 395.3h1.5M293.3 398.8h1.5M300.3 383.7h1.5M302.9 395.4h1.5M294 398.5h1.5M313 393.4h1.5M297.3 408.7h1.5M299.9 393h1.5M295.7 413.8h1.5M298.2 400.4h1.5M304.5 395.1h1.5M299.8 401.2h1.5M294.9 412.6h1.5M296.7 405.5h1.5M299.8 388.4h1.5M303.1 404.3h1.5M300.6 395.5h1.5M297.3 403.1h1.5M305 405.5h1.5M311 384.9h1.5M308.1 395.2h1.5M301.2 408.8h1.5M310.3 385.3h1.5M310.2 391.6h1.5M311.2 407.9h1.5M291.9 405.3h1.5M290.7 406.4h1.5M304.2 410h1.5M305.9 391.9h1.5M297.9 398.2h1.5M302.4 401.2h1.5M303.1 409.9h1.5M291.3 408.9h1.5M295.8 404.6h1.5M317.8 392.3h1.5M307 392.8h1.5M297.2 403.6h1.5M301.3 412.6h1.5M315.2 395.8h1.5M314.2 385.7h1.5M307.7 401.2h1.5M299.6 389.7h1.5M297.5 398.6h1.5M300 394.9h1.5M302.9 405h1.5M310.5 403.9h1.5M297 405.4h1.5M312.7 391.3h1.5M298 417.3h1.5M306.3 394.8h1.5M296.2 399h1.5M317.9 391h1.5M307.1 399.2h1.5M296.2 409.5h1.5M305.4 408.8h1.5M297.2 395.4h1.5M298.8 401.3h1.5M300.9 411.9h1.5M306.5 414.8h1.5M285.7 404h1.5M291.8 411h1.5M293.6 406.5h1.5M299.3 406.6h1.5M301.1 394.4h1.5M294.1 413.9h1.5M295.2 406h1.5M306.1 385.7h1.5M302 395.6h1.5M319.4 390.1h1.5M295.8 411.1h1.5M294.5 407.7h1.5M294.2 412.3h1.5M316.6 399h1.5M317.7 396.3h1.5M313.3 396.4h1.5M308.8 391.1h1.5M290.1 414.1h1.5M299.2 403.3h1.5M300.1 407.1h1.5M297.5 407.6h1.5M310.1 401.8h1.5M327.4 386.2h1.5M312.6 383.4h1.5M311.3 383.7h1.5M324.4 375.7h1.5M320.3 393.8h1.5M315.2 382.9h1.5M307.1 375.8h1.5M324.1 378.1h1.5M319.8 391.2h1.5M299.2 383.7h1.5M331.1 381.5h1.5M326.3 378.4h1.5M322.9 379.2h1.5M322.1 391.8h1.5M310.4 372.2h1.5M325.4 382h1.5M326.1 368h1.5M329.5 388.1h1.5M313.1 383.1h1.5M311.4 384.1h1.5M300.4 383.1h1.5M309.1 380.1h1.5M317.8 381.7h1.5M325.2 377.9h1.5M306 377.7h1.5M313.9 376.2h1.5M309.8 372.4h1.5M315 376.5h1.5M307.8 368h1.5M323.6 384.2h1.5M308.8 380.4h1.5M314.1 384.5h1.5M320.7 379.9h1.5M316.9 384.7h1.5M312.5 387.1h1.5M309.4 372h1.5M319.2 388.4h1.5M312.5 375.8h1.5M311.7 379.9h1.5M316.2 381.3h1.5M313.8 377.2h1.5M318.2 388.5h1.5M315.8 382h1.5M308.6 364.9h1.5M310.9 372.1h1.5M303 381.6h1.5M320.1 381.3h1.5M313.4 379.4h1.5M310.7 386h1.5M334.9 383h1.5M313.3 372.7h1.5M324.8 382.8h1.5M309 386.3h1.5M313.8 376.5h1.5M306.8 371.7h1.5M315.5 386.8h1.5M312.3 385.2h1.5M317.3 378.2h1.5M318.7 376.2h1.5M306.8 385.5h1.5M333.5 381.9h1.5M309.3 385.8h1.5M319 379.8h1.5M321.1 377.8h1.5M311.1 385.3h1.5M310.5 380h1.5M312.7 376.6h1.5M323.3 387.8h1.5M329.5 384.3h1.5M326.3 382.3h1.5M334.2 377h1.5M310 368.4h1.5M316.5 382.8h1.5M317 366.5h1.5M321.9 386.9h1.5M313.1 389.1h1.5M297.7 385.2h1.5M320.2 376.8h1.5M331.4 382.8h1.5M299.1 374.9h1.5M319.7 378.5h1.5M305.1 382.4h1.5M317.8 397.6h1.5M319.4 381.8h1.5M309.7 383.3h1.5M305.9 373.3h1.5M317.2 382.1h1.5M309.7 385.4h1.5M319.5 385.7h1.5M318.7 382.4h1.5M321.8 391.7h1.5M336.9 408.8h1.5M329.1 387h1.5M337.1 402.5h1.5M330.1 393.3h1.5M334 403.4h1.5M316.7 400h1.5M321.1 396.3h1.5M328.7 385.9h1.5M331.3 389.3h1.5M321.4 393.2h1.5M335.2 411.8h1.5M320.8 387h1.5M332.8 399.4h1.5M338.7 386.7h1.5M323.8 395.8h1.5M319.8 411h1.5M325.4 406.4h1.5M333 401.6h1.5M317.5 384.4h1.5M328.2 391.9h1.5M319.1 390.1h1.5M317.6 416.5h1.5M318.7 398.1h1.5M324.1 408.8h1.5M318 401.8h1.5M326.6 397.7h1.5M318.9 393.9h1.5M319.3 410.8h1.5M316.4 398h1.5M329 402.5h1.5M321.2 399.6h1.5M326.2 392.7h1.5M330.5 404.4h1.5M326.7 391.8h1.5M324.7 400.2h1.5M322.8 391h1.5M318.7 383.5h1.5M329.6 407.5h1.5M325.6 406h1.5M314.2 399.9h1.5M321.5 385.5h1.5M333.3 389.3h1.5M328.5 401.5h1.5M327.9 387.3h1.5M331.9 422.6h1.5M315.2 390.6h1.5M323.5 394.9h1.5M323.3 409.1h1.5M325.5 406.4h1.5M330.9 403.9h1.5M324 405.4h1.5M317.6 407h1.5M323 400.4h1.5M322.6 395.9h1.5M339.8 398h1.5M332.7 401.4h1.5M333.5 402.4h1.5M336.3 407.9h1.5M327.6 403.9h1.5M332.5 407h1.5M330.7 396.2h1.5M328.9 394h1.5M319.8 393.9h1.5M337.9 397.7h1.5M327.2 387.9h1.5M325.8 393.7h1.5M331.4 402.5h1.5M329.1 395h1.5M333.9 389.9h1.5M322.8 388.6h1.5M312.9 391.4h1.5M317.3 391.4h1.5M325.9 411.7h1.5M329.1 410.6h1.5M337.3 413.3h1.5M322.7 396.3h1.5M326.8 391.2h1.5M320.7 393.4h1.5M329.6 388.6h1.5M333.6 399.6h1.5M333 392.8h1.5M322.3 405.9h1.5M320 391.5h1.5M320.3 400.3h1.5M327.7 376.4h1.5M316 396.2h1.5M335.3 398.1h1.5M332.1 399.2h1.5M332.1 394.7h1.5M323.4 399h1.5M328.9 399.4h1.5M336.9 399.6h1.5M327.7 410.2h1.5M332.1 396.4h1.5M329.1 405.9h1.5M337.3 410.2h1.5M324.7 407.3h1.5M310.7 403.6h1.5M329.4 403.3h1.5M323.8 409.4h1.5M317.5 410h1.5M322.9 394.9h1.5M321.2 398.6h1.5M328.3 411.5h1.5M329.6 402.8h1.5M320.1 390h1.5M320.3 400.7h1.5M332.9 405.6h1.5M319.6 403.6h1.5M331.1 400.1h1.5M324.4 398.2h1.5M320.2 397.1h1.5M328 390.3h1.5M324.5 403.4h1.5M309.2 402.3h1.5M326 393.6h1.5M317.6 393.3h1.5M319.8 393.8h1.5M308.6 396.7h1.5M334.2 413.6h1.5M326.8 400.5h1.5M321.1 403.7h1.5M329.4 399.9h1.5M326.6 400.5h1.5M324.1 398.5h1.5M320.9 385.8h1.5M324.8 408.2h1.5M328.1 404.6h1.5M331.2 404.1h1.5M323.9 403.7h1.5M326.2 408h1.5M329.7 396.1h1.5M331.5 405.4h1.5M329 420.2h1.5M323.5 411.9h1.5M327.6 402.2h1.5M326 387.4h1.5M333.5 379.5h1.5M320.9 395.8h1.5M329.7 404.4h1.5M327.7 396.5h1.5M325.2 402.9h1.5M327.9 404.3h1.5M323 407.4h1.5M318.3 410.6h1.5M336.6 403.1h1.5M333.6 397h1.5M325.5 397.9h1.5M335.7 393.5h1.5M321.4 407.7h1.5M329.7 406.3h1.5M326.3 389.2h1.5M323.2 390.1h1.5M324.5 401.9h1.5M327.9 405.2h1.5M330 405.4h1.5M328 412h1.5M325.1 404.8h1.5M318.6 398.4h1.5M322.5 399.2h1.5M329.7 406.5h1.5M325.4 409.9h1.5M324.6 411.1h1.5M323.5 405.5h1.5M319.6 396.3h1.5M323.4 403.1h1.5M317.3 394.1h1.5M336.7 398.2h1.5M328.2 414.5h1.5M322.2 390.4h1.5M326.6 399.2h1.5M330.7 398.6h1.5M338.6 401.6h1.5M331.8 405.1h1.5M319.3 393.6h1.5M328.9 395.6h1.5M333 394.6h1.5M327.6 391.3h1.5M316.6 398.8h1.5M318.2 394.9h1.5M340 395.6h1.5M328.6 391.4h1.5M320.3 388.7h1.5M318.9 390h1.5M315.3 390h1.5M322.6 391.7h1.5M321.6 388.1h1.5M321 390.4h1.5M336 413.1h1.5M337.3 389.5h1.5M323.7 404h1.5M316.9 409.6h1.5M328.7 404.4h1.5M334.3 397.3h1.5M318.8 416.8h1.5M323.3 399.1h1.5M325.2 400.6h1.5M332 386.3h1.5M327.9 401.7h1.5M324.9 403.7h1.5M319.4 385.7h1.5M330.8 401.6h1.5M327.9 403.3h1.5M319.3 402.3h1.5M315.7 389.5h1.5M338.8 396.3h1.5M314.5 410h1.5M328.1 405h1.5M321.3 389h1.5M321.3 401.7h1.5M325.2 384.8h1.5M335.6 404.1h1.5M328.6 409.7h1.5M335.1 395.6h1.5M318.5 399.1h1.5M331.6 398.4h1.5M332.6 392.4h1.5M325.8 392.1h1.5M327.2 403.5h1.5M330.2 394.6h1.5M337 398.5h1.5M332.7 395.1h1.5M322.9 394.6h1.5M323.9 391h1.5M321.8 395.7h1.5M318.4 407.1h1.5M322.2 410.2h1.5M320.1 415.2h1.5M319.8 386.4h1.5M329.2 389.3h1.5M327.8 406h1.5M327.9 404.1h1.5M329.2 393.8h1.5M329.8 404.6h1.5M326.8 399.8h1.5M329.5 387.3h1.5M317 403.1h1.5M326.1 401.3h1.5M324.6 399.7h1.5M331.9 401.8h1.5M325.9 386h1.5M319.3 406.3h1.5M333.7 399.8h1.5M323.6 410h1.5M330.1 401.5h1.5M330.2 401.9h1.5M330 393.5h1.5M331.3 389.5h1.5M321.1 402.1h1.5M318.3 391.7h1.5M324.9 402.4h1.5M314.6 398.2h1.5M332.6 382.2h1.5M327.7 402.4h1.5M324.3 406.4h1.5M320.2 392.6h1.5M316.2 391.3h1.5M334.7 401h1.5M329.3 395.1h1.5M320.5 398.6h1.5M320.8 389.1h1.5M334 394.6h1.5M327.7 396h1.5M324.3 395.6h1.5M328.2 409.6h1.5M326.4 392.8h1.5M318.8 386h1.5M335.5 389.6h1.5M332 391.8h1.5M327 402.5h1.5M314.9 409.9h1.5M330.2 399.3h1.5M323.2 407.6h1.5M329.2 392.6h1.5M328.8 406h1.5M317.6 398.4h1.5M328.5 398.4h1.5M324.1 394.9h1.5M320.8 397.6h1.5M330 407.2h1.5M324.8 395.8h1.5M333.5 402.4h1.5M329 397.1h1.5M318.9 395.6h1.5M327 399h1.5M320.5 382.6h1.5M328.4 400.9h1.5M325.9 401.6h1.5M333.1 388.8h1.5M324.6 397.3h1.5M318.8 400h1.5M323.2 390.1h1.5M321.2 399.2h1.5M312.5 405h1.5M351.8 389.2h1.5M346.3 411.2h1.5M356.2 406.6h1.5M349 417.6h1.5M354.6 397.4h1.5M339.6 398h1.5M348.2 388.9h1.5M356.7 402.6h1.5M350.6 409.4h1.5M356.7 414.2h1.5M334.5 393.1h1.5M344.5 396.6h1.5M355.1 399.2h1.5M343.4 393.3h1.5M354.4 419.6h1.5M346.6 399h1.5M347.9 413.8h1.5M360.1 421.2h1.5M344.1 413h1.5M350.5 408.3h1.5M357.6 397.5h1.5M345.2 397h1.5M339.7 410.3h1.5M337.9 416.7h1.5M353 419.1h1.5M339.2 416.3h1.5M354.6 417.8h1.5M349.5 406.3h1.5M357.2 428.5h1.5M345.3 405.1h1.5M366.9 399.1h1.5M356 407.6h1.5M356.2 392.1h1.5M341.6 401.4h1.5M363.3 417h1.5M346 413.9h1.5M347.9 406h1.5M343.9 401h1.5M361.1 397.3h1.5M354.4 418.7h1.5M341.1 396.5h1.5M363.8 408.5h1.5M356.4 389.3h1.5M341.4 397.4h1.5M348.5 408h1.5M345.2 398.4h1.5M343.7 404.8h1.5M347.9 389.4h1.5M356.1 413.3h1.5M359.8 394.2h1.5M354.3 411h1.5M354.7 414.5h1.5M340.9 411.8h1.5M346.4 420.6h1.5M346.7 402.5h1.5M351.5 419.3h1.5M345.5 403.8h1.5M344.1 418.8h1.5M351.9 425.2h1.5M350.6 409.7h1.5M358.6 399.6h1.5M339.7 395.1h1.5M347.8 403.2h1.5M354 407.8h1.5M367.3 415.4h1.5M346 394.7h1.5M359.9 417.8h1.5M346.1 418.9h1.5M339 397.2h1.5M344.8 392.7h1.5M348.5 408.3h1.5M342.4 408.8h1.5M350.9 401.2h1.5M340.9 410.9h1.5M350.6 411h1.5M345.3 398.9h1.5M340 394.5h1.5M352.8 406.5h1.5M347.7 420.3h1.5M361.7 414.2h1.5M358 392.4h1.5M345.4 410.5h1.5M360.9 410.2h1.5M339.5 414.6h1.5M348.3 428.9h1.5M353.3 402.7h1.5M350.2 389h1.5M356.1 412.4h1.5M356.8 423.4h1.5M340.9 394.5h1.5M350.3 405h1.5M354.2 386.6h1.5M345.5 414.3h1.5M352.2 390.7h1.5M357.5 412.5h1.5M340.6 400h1.5M357.6 395.4h1.5M355.1 389.9h1.5M356.1 403h1.5M346.2 409.6h1.5M346.4 424.1h1.5M365.7 400.7h1.5M338.6 397.7h1.5M359.2 399.5h1.5M338.9 417.6h1.5M353 417.6h1.5M354.9 411.3h1.5M338.5 398.3h1.5M353.5 419.4h1.5M354.9 401.3h1.5M353 406.6h1.5M348.8 398.8h1.5M359.8 388.7h1.5M331.5 398.5h1.5M356.2 421.8h1.5M349.2 423.6h1.5M343.1 405.7h1.5M344 392.1h1.5M352.7 395.1h1.5M350 405.4h1.5M350.7 388.5h1.5M367.3 394.1h1.5M341.5 418.3h1.5M360.8 396.3h1.5M357 427.3h1.5M353.2 394.1h1.5M357.3 414.9h1.5M347.9 403.8h1.5M363 411.4h1.5M359.3 404.5h1.5M354.3 405.8h1.5M346.8 414.5h1.5M346.7 420.8h1.5M341.4 413.8h1.5M352.9 421.5h1.5M343.5 402.5h1.5M344.3 407.7h1.5M349.8 421.4h1.5M345.5 390.7h1.5M346 396.8h1.5M351.7 415.1h1.5M348.2 406.8h1.5M362.7 398h1.5M353.9 401.3h1.5M338.8 401.7h1.5M351.9 387.8h1.5M357.6 395.4h1.5M357.3 409h1.5M342.5 408.5h1.5M342.4 414.6h1.5M347.2 417.7h1.5M341.1 403.6h1.5M346.5 409.6h1.5M354 420h1.5M343.9 414.2h1.5M351.4 401.8h1.5M348.1 395h1.5M336.1 406h1.5M353.6 393.9h1.5M367.4 407.1h1.5M357.2 395.3h1.5M346.2 392h1.5M343.8 408.3h1.5M349.8 397.8h1.5M346.4 402.5h1.5M353.3 400.8h1.5M364 407.9h1.5M358.2 402h1.5M362.8 400.3h1.5M361.1 419.9h1.5M353.3 413.3h1.5M360.8 412.2h1.5M350.2 410.7h1.5M343.4 411h1.5M350.8 415.6h1.5M342.2 402.7h1.5M364.1 414.9h1.5M358.8 409.3h1.5M341.9 399.6h1.5M353.5 396.7h1.5M345.2 411.7h1.5M348.3 400.5h1.5M343.8 417.5h1.5M364 413.7h1.5M353.3 419.8h1.5M348.4 415.9h1.5M357.6 408.7h1.5M345.3 391h1.5M350.6 397.5h1.5M335 394.1h1.5M338.5 406.4h1.5M343.7 409.4h1.5M342.8 392.4h1.5M367.1 394.9h1.5M354.6 414.1h1.5M356.8 393.7h1.5M356.9 398.3h1.5M355.8 403.8h1.5M353.3 405.7h1.5M344.6 416.8h1.5M357 394h1.5M357.8 419.9h1.5M349.4 394.7h1.5M346 388.1h1.5M340.7 422h1.5M334.3 399.5h1.5M345.5 420.3h1.5M358.1 390.3h1.5M348.8 411.5h1.5M345.8 403.8h1.5M366.1 399.7h1.5M345.7 413.6h1.5M357.5 417.9h1.5M337.4 404.8h1.5M345 409.5h1.5M346.2 404.3h1.5M341.3 387.8h1.5M349.2 404.4h1.5M360.7 416.7h1.5M343.8 425.2h1.5M346.6 389.2h1.5M362.3 406.1h1.5M351.3 391.5h1.5M354.2 404h1.5M346 400.7h1.5M357.4 403.9h1.5M355.9 412.6h1.5M355.5 417.3h1.5M344.3 402h1.5M346 399.3h1.5M357.5 415.5h1.5M351.2 397.1h1.5M348.7 405.2h1.5M348.4 401h1.5M350.6 396.7h1.5M360.9 405.2h1.5M357.6 408.8h1.5M358.4 408.9h1.5M350.8 404.3h1.5M340.9 403.3h1.5M339 398.2h1.5M349 395.6h1.5M353.5 414.6h1.5M358 414.6h1.5M355.4 407h1.5M355.8 398h1.5M340.5 402.8h1.5M338.1 400.9h1.5M349.6 416.1h1.5M352.3 391.3h1.5M352.3 428.1h1.5M342 416.9h1.5M342.6 402.1h1.5M352.2 418.7h1.5M355.4 417.5h1.5M342.7 403h1.5M348.6 394.2h1.5M357.1 394.6h1.5M356 408.9h1.5M357.9 396.8h1.5M356.6 408.2h1.5M349.4 401.3h1.5M351.4 416.4h1.5M343.5 415.9h1.5M336.6 404.6h1.5M345.2 397.6h1.5M351.6 408.1h1.5M354.2 413.5h1.5M346.2 385.4h1.5M350.2 413.4h1.5M348.3 410h1.5M357.5 398.5h1.5M347.2 416.7h1.5M361.7 420.1h1.5M338.7 405.7h1.5M350.1 405.8h1.5M345.9 416.8h1.5M343.2 403.1h1.5M345.1 409h1.5M351.8 399.5h1.5M347.6 421.5h1.5M357.9 403.7h1.5M340 412h1.5M349 431.4h1.5M360.3 402.8h1.5M344.2 413.6h1.5M346.4 391.4h1.5M336.3 396h1.5M359.7 407.3h1.5M339.9 392.4h1.5M355.6 420.3h1.5M344 421.3h1.5M346.8 389.6h1.5M346.4 419.8h1.5M348.9 420.7h1.5M349.2 394.5h1.5M351.5 407.4h1.5M353.8 393.8h1.5M350.5 414.6h1.5M340 411.8h1.5M357.3 404.7h1.5M354.1 418h1.5M363.4 415.2h1.5M342 416.5h1.5M365.5 394.7h1.5M352.8 410h1.5M344.6 407.5h1.5M342.4 405.6h1.5M344.8 411.4h1.5M345.2 393.6h1.5M340.3 408.3h1.5M360.4 405.5h1.5M350.1 411.2h1.5M340.5 396.1h1.5M361.1 401.8h1.5M341.6 396.2h1.5M343.9 400.1h1.5M352.2 416.5h1.5M358.8 425.8h1.5M356.5 393.5h1.5M337.9 397.6h1.5M357 385.8h1.5M347.8 420.9h1.5M345.3 397.9h1.5M340.3 419.6h1.5M350.3 408.5h1.5M341.5 408.2h1.5M349.5 390.2h1.5M355 410.6h1.5M356.7 407.1h1.5M356.7 411.1h1.5M352.9 418.8h1.5M338.2 410.1h1.5M347.2 415.8h1.5M357.6 410.9h1.5M347.1 394.9h1.5M344.4 403h1.5M343.9 388.3h1.5M344.9 396.4h1.5M343.8 399.3h1.5M361.6 413.1h1.5M342.9 416.4h1.5M347.7 394.6h1.5M342.7 403.8h1.5M354.8 418.9h1.5M351.6 406h1.5M356.8 409.1h1.5M340.1 409.8h1.5M355.2 409.9h1.5M345.7 410.8h1.5M363.9 399.1h1.5M341.9 392.1h1.5M358.9 402.7h1.5M358.8 413.2h1.5M339.8 399.1h1.5M344.9 398.9h1.5M341.5 401.6h1.5M348.3 387.2h1.5M344.4 397.9h1.5M364.2 416.2h1.5M333.5 413.4h1.5M339 403.3h1.5M341.3 398h1.5M333 406.8h1.5M340.7 404.6h1.5M358 400.1h1.5M344.6 420.2h1.5M345.1 409.1h1.5M343.7 397.6h1.5M347 411.1h1.5M345 401.7h1.5M349.7 406.2h1.5M352.8 395.8h1.5M343.9 414.6h1.5M346.3 390.2h1.5M351.5 386.5h1.5M355.9 411.2h1.5M346.6 398.9h1.5M345 420.1h1.5M360.5 398h1.5M343.6 410.2h1.5M353.6 393.3h1.5M365.2 406.5h1.5M360.5 403.6h1.5M347.3 408.5h1.5M348.2 392.6h1.5M350 398.8h1.5M335.4 404.5h1.5M358.4 400.1h1.5M354.2 395.4h1.5M347.2 406.2h1.5M347 403.9h1.5M352.7 391.1h1.5M350.6 396h1.5M351.5 420h1.5M346.3 402.6h1.5M341.6 397.9h1.5M337.9 409.2h1.5M356.7 418h1.5M360.3 390.4h1.5M339.4 410.2h1.5M341.4 416.6h1.5M336.7 415.9h1.5M346.9 389.8h1.5M342.1 412.9h1.5M341.6 421.9h1.5M345.8 417.2h1.5M356.9 412.4h1.5M359.4 400.2h1.5M355.6 416.1h1.5M353.6 413.1h1.5M354.3 415.3h1.5M368.5 414.5h1.5M360.9 408.1h1.5M357.1 397.2h1.5M348.5 392.7h1.5M360 405.1h1.5M360 409.3h1.5M348.7 420.3h1.5M347.8 418.5h1.5M364.8 404.5h1.5M348.8 420.9h1.5M354.1 398.9h1.5M336 408.8h1.5M342.5 417.4h1.5M358.8 398.1h1.5M341.9 403h1.5M342.9 405.5h1.5M357.8 398.3h1.5M357.5 410.6h1.5M354.5 406.4h1.5M341 393.2h1.5M346.6 405.2h1.5M346.8 405.5h1.5M355.2 406.6h1.5M361 407.7h1.5M350.4 402.1h1.5M339.8 417.8h1.5M350.1 390.6h1.5M348.8 402.2h1.5M335.7 398h1.5M340.6 400.6h1.5M348.2 419.4h1.5M339.8 414.5h1.5M350.1 418.9h1.5M351.9 395.2h1.5M348 400.1h1.5M337.7 405.4h1.5M352.4 416.1h1.5M350.9 405.9h1.5M343.8 392.9h1.5M344.3 402.2h1.5M334.9 399.4h1.5M358.6 417h1.5M354 401.7h1.5M357.6 391.6h1.5M360.3 405.8h1.5M335.9 400.1h1.5M352 388.4h1.5M354.3 401.6h1.5M344.3 393.6h1.5M346.5 395h1.5M345.2 398.1h1.5M362.6 397.8h1.5M353.2 409.6h1.5M343.7 395.1h1.5M340.7 406.3h1.5M353.4 407.6h1.5M356.6 408.5h1.5M360.1 407.3h1.5M343.9 408.2h1.5M347.9 401.3h1.5M352.8 405.5h1.5M357.5 419.5h1.5M344.4 393.3h1.5M348.4 409h1.5M357.2 388.8h1.5M358 410.6h1.5M338.1 397.6h1.5M348.4 426.4h1.5M352.2 422.6h1.5M345.6 414.6h1.5M338.2 397.6h1.5M335.4 401.2h1.5M339.3 400.2h1.5M358.9 412h1.5M361.5 405.1h1.5M344.8 395.9h1.5M344.2 410.4h1.5M351.3 411.4h1.5M343.9 403.2h1.5M341.8 391.4h1.5M352.4 421.8h1.5M346.6 423.2h1.5M335.2 403.9h1.5M355.7 401.6h1.5M353.6 387.6h1.5M360.3 405.9h1.5M350.1 419.1h1.5M358.3 390.1h1.5M356.2 425.5h1.5M354.5 418.1h1.5M350.7 397.7h1.5M341.8 393.7h1.5M353.2 396.6h1.5M355.4 393.9h1.5M353.3 411.3h1.5M358.3 417.6h1.5M350.8 390.7h1.5M348.4 418.4h1.5M344.5 411h1.5M340.7 400.2h1.5M349.1 406.4h1.5M344.3 414.7h1.5M350.5 413.6h1.5M339.7 398.6h1.5M345.2 396.3h1.5M350.5 404.4h1.5M335.5 402.7h1.5M340.7 416h1.5M352 403.1h1.5M357.7 396.9h1.5M339.2 396.1h1.5M354.1 421.5h1.5M355.8 400.6h1.5M344.7 393.1h1.5M355.2 402.8h1.5M359.4 399.1h1.5M359.5 396.9h1.5M350.2 404.8h1.5M346.7 412.1h1.5M348.4 421.1h1.5M353 412.4h1.5M356 407.8h1.5M339.5 415.6h1.5M345.5 407.5h1.5M359.4 399.4h1.5M339.3 403.5h1.5M343.5 401.7h1.5M337 420.1h1.5M349.4 405.5h1.5M353.1 412.7h1.5M338.6 404.6h1.5M357.4 395.1h1.5M353.4 415.2h1.5M339.9 410h1.5M348 391.9h1.5M359.1 394.1h1.5M351.3 404.6h1.5M347.6 419.7h1.5M359.5 420.4h1.5M356.5 415h1.5M359.6 417.3h1.5M343 411.9h1.5M352.3 390.4h1.5M347.4 402.6h1.5M346.2 414.1h1.5M351.4 415.5h1.5M347 423.5h1.5M360.4 406.5h1.5M349.7 409h1.5M337 391.6h1.5M350.7 393.8h1.5M350.7 394.8h1.5M352.8 410.9h1.5M350.6 421.2h1.5M359.9 418.4h1.5M343 400h1.5M356.5 401.6h1.5M351.8 402.4h1.5M358.1 415.3h1.5M358 409h1.5M356.3 412.2h1.5M359 392.9h1.5M357.4 402.9h1.5M359.4 398.4h1.5M344.9 403.6h1.5M345 406.3h1.5M352.3 388.4h1.5M352.1 415.7h1.5M352.7 400.6h1.5M344.5 397h1.5M354 414.4h1.5M358.9 409.5h1.5M351.5 421.2h1.5M353 388.7h1.5M356.1 407.3h1.5M360.4 408.9h1.5M350.5 400.9h1.5M341.2 403.7h1.5M360.6 403.6h1.5M335.4 394.6h1.5M344.4 403.8h1.5M346.6 414.8h1.5M341.8 399.1h1.5M346.5 402.2h1.5M340.6 403.5h1.5M341.4 394.3h1.5M344.2 427h1.5M363.4 404.4h1.5M351.6 411.6h1.5M349.5 419.5h1.5M351.5 396h1.5M336 409.9h1.5M351.1 411.4h1.5M353.1 420.8h1.5M350 418h1.5M338.6 405.2h1.5M345.5 424.2h1.5M347.7 424.8h1.5M348.2 394.2h1.5M349 403.2h1.5M358 411.8h1.5M349.7 394.3h1.5M357 402.5h1.5M336.8 396.3h1.5M358.7 408.4h1.5M354.1 408.4h1.5M360.1 399h1.5M349.5 394.6h1.5M352.6 400.8h1.5M344.7 418.8h1.5M340.3 403.4h1.5M346 390.1h1.5M354.1 396.1h1.5M353.7 421.2h1.5M348.3 400.4h1.5M358.9 411.9h1.5M345.6 420.4h1.5M337.2 400h1.5M365 405.3h1.5M355.6 400.2h1.5M360.7 412h1.5M360.8 418.7h1.5M343 393.6h1.5M348.3 421.1h1.5M344.6 413.1h1.5M360.7 402h1.5M341.5 394.6h1.5M350.5 412.8h1.5M339.9 404h1.5M339.5 408.4h1.5M343.7 392.9h1.5M341.8 405.5h1.5M353.8 419h1.5M346.9 408.1h1.5M361.1 397.4h1.5M342.4 408.4h1.5M348.2 417.1h1.5M349.4 410h1.5M337.3 397.7h1.5M348.5 409.2h1.5M352 388.1h1.5M359.9 418.6h1.5M345.6 422.2h1.5M347.6 407.5h1.5M348.7 423.1h1.5M337.2 417.8h1.5M362.8 402.1h1.5M353.4 408.4h1.5M355.8 411.7h1.5M345.3 409.5h1.5M356.4 411.6h1.5M342.1 417.8h1.5M362.1 413.6h1.5M349.3 393.1h1.5M347 398.5h1.5M338.7 396.8h1.5M343 401.5h1.5M338.9 409.8h1.5M354.2 406.7h1.5M355.9 396.9h1.5M353.6 416.2h1.5M350 391.7h1.5M346.1 392.1h1.5M357.4 408.7h1.5M361.6 402.7h1.5M351.6 385.7h1.5M354.2 397h1.5M353.1 396.8h1.5M340.2 421.9h1.5M340.9 390.5h1.5M348.8 405.4h1.5M352.3 386.8h1.5M350.6 399.7h1.5M349.1 416h1.5M349.8 394.1h1.5M355.2 408.9h1.5M338.1 403.4h1.5M342.9 396.6h1.5M353.1 400.1h1.5M341.7 414.1h1.5M339.6 401.2h1.5M341.8 413.9h1.5M352.5 391.9h1.5M346.6 400.9h1.5M342.5 408h1.5M347.3 415.7h1.5M354.6 418.4h1.5M340.2 415.7h1.5M344.2 398h1.5M344.8 403.6h1.5M353.3 414h1.5M357.1 407h1.5M343.9 413.8h1.5M342.6 414.7h1.5M358.5 406.3h1.5M334.6 392.7h1.5M359.2 392.8h1.5M350.1 400.2h1.5M356.5 407.5h1.5M346.9 424.4h1.5M354.8 411h1.5M339 415.3h1.5M338.9 420.4h1.5M334.2 403.9h1.5M359.6 391.6h1.5M356.6 387.9h1.5M360 402.9h1.5M350.9 404.9h1.5M343.4 413.8h1.5M341.3 408.2h1.5M350.5 421.8h1.5M350.6 396.8h1.5M343.9 415.1h1.5M341.6 417.4h1.5M343.4 416.6h1.5M351.9 400.5h1.5M357.5 411.5h1.5M351.7 415.3h1.5M339.4 396.1h1.5M345.1 383.1h1.5M360.1 408.9h1.5M340.6 413.5h1.5M349.4 396.2h1.5M345.2 415.8h1.5M352.6 405.4h1.5M356.8 397.6h1.5M348.1 412.7h1.5M351.8 394.3h1.5M352.9 408.7h1.5M345.6 415.5h1.5M340.3 403.2h1.5M342.5 418.9h1.5M353.9 423.6h1.5M353 421h1.5M353.6 418.2h1.5M337.9 414.7h1.5M361.6 410.7h1.5M340.5 406h1.5M355.5 418.8h1.5M340.3 409.1h1.5M352.9 414.8h1.5M356.7 412.9h1.5M352.4 413.2h1.5M350.2 408.3h1.5M351.6 409h1.5M357.6 411.2h1.5M336.3 397.4h1.5M344.2 399h1.5M350.1 417.9h1.5M351.9 398.8h1.5M354.8 402h1.5M363.7 401.2h1.5M358.4 416.3h1.5M340.8 401.3h1.5M340.3 415.8h1.5M346.8 403h1.5M346.9 400.8h1.5M352 419.4h1.5M341.5 416.1h1.5M364.3 417.9h1.5M337.4 387.4h1.5M345.1 403.9h1.5M359.3 400.9h1.5M345.1 412.5h1.5M341.1 412.6h1.5M345.9 402.2h1.5M349.7 404.6h1.5M352.6 425.6h1.5M358.8 411.1h1.5M343 406.8h1.5M349.8 423h1.5M349.7 403.3h1.5M341.8 407.9h1.5M344.4 404.1h1.5M341.9 411.4h1.5M358.8 394.5h1.5M336.3 403.1h1.5M355.1 395.1h1.5M346.7 386.4h1.5M360.1 410.7h1.5M355.7 394h1.5M350.8 422.4h1.5M348.3 425.1h1.5M347.6 398.6h1.5M353.9 409.6h1.5M359.2 411.3h1.5M359.5 415.8h1.5M357.3 394.6h1.5M359.7 413.8h1.5M347.6 413.2h1.5M365.6 402.6h1.5M357.6 408.5h1.5M365.8 409.5h1.5M345.3 405.5h1.5M353.2 397.1h1.5M353.3 420h1.5M344.5 412.5h1.5M341.6 397.6h1.5M359.7 402.3h1.5M355.3 416.5h1.5M346.1 423.6h1.5M346.2 400.2h1.5M345.3 400.3h1.5M351.5 394.4h1.5M349.9 391.1h1.5M353.6 405.6h1.5M353.3 415.5h1.5M346.7 409.9h1.5M356.1 411.2h1.5M340.6 417.2h1.5M355.6 405.5h1.5M350.8 390.4h1.5M345.1 404.7h1.5M344.5 413.2h1.5M355.9 403.7h1.5M347.2 401.3h1.5M346.1 403.4h1.5M339.3 411.9h1.5M356.6 399.1h1.5M340.6 404.7h1.5M338.1 400.3h1.5M340.5 411.1h1.5M353.7 421.2h1.5M359.4 399.4h1.5M357 401.3h1.5M353.7 401.2h1.5M350.3 388.5h1.5M345.1 411.6h1.5M354 396h1.5M354 411.5h1.5M356 402.1h1.5M348.3 421.6h1.5M365 407.4h1.5M359.4 421.2h1.5M358.9 406.2h1.5M347.6 411.2h1.5M358 409.3h1.5M352.6 402.3h1.5M342 408.2h1.5M347.3 410.8h1.5M346.8 418h1.5M358.5 388.9h1.5M347.4 389.8h1.5M347.5 424.7h1.5M348.2 398.5h1.5M336.7 414h1.5M355.7 417.9h1.5M346.2 415.2h1.5M350.5 423.5h1.5M340.9 414.2h1.5M357.5 399.4h1.5M348.2 427.8h1.5M360 418.8h1.5M338.9 412.9h1.5M356.5 400.3h1.5M352.4 411.8h1.5M344.6 409.2h1.5M346.2 423.5h1.5M340.3 409.8h1.5M332.5 407.8h1.5M337.6 406h1.5M357.4 390.2h1.5M343.8 418.5h1.5M346.2 400.2h1.5M353.1 395.4h1.5M350.2 394.9h1.5M351.9 418.5h1.5M340.7 395.9h1.5M361.5 408.3h1.5M348.4 411.9h1.5M346.4 400.5h1.5M358.2 401h1.5M348.5 416.8h1.5M344.6 398.6h1.5M340.4 399.9h1.5M339.1 408.5h1.5M344 409.2h1.5M358.5 387.3h1.5M353.8 403h1.5M339.3 392.8h1.5M343.2 406.4h1.5M348.1 394.8h1.5M356.3 417.5h1.5M341.7 406.2h1.5M350.1 416.6h1.5M341.5 423.5h1.5M352.6 415.5h1.5M350.4 390.8h1.5M356.9 423.8h1.5M353.7 403.1h1.5M350.2 410.1h1.5M351.6 403.7h1.5M360.5 409.4h1.5M357.1 400.1h1.5M361.3 406.2h1.5M350.6 421.4h1.5M344.6 398.6h1.5M338.6 403.9h1.5M348.4 401h1.5M345.7 392.5h1.5M339.1 409.7h1.5M340.8 400.8h1.5M348.6 414.7h1.5M344.4 410.9h1.5M357.8 403.7h1.5M345.4 425.6h1.5M339.5 396.6h1.5M347 411.5h1.5M339.8 411.9h1.5M350.3 401.1h1.5M343.8 400h1.5M362.4 409.9h1.5M352.4 396.9h1.5M361.9 405.9h1.5M337.1 405.9h1.5M359.8 400.3h1.5M357.9 417.3h1.5M353.3 403.1h1.5M362.5 388.4h1.5M347.8 397.2h1.5M360.6 394.6h1.5M358 415.8h1.5M335.4 400.2h1.5M367.4 406.3h1.5M344.5 415.3h1.5M344.4 410.3h1.5M338.6 390.1h1.5M343.8 416.5h1.5M345.2 401.1h1.5M353.3 396.5h1.5M346.5 405.3h1.5M358.8 393.1h1.5M334.5 408.4h1.5M351.1 404.4h1.5M333.9 408.6h1.5M347.4 403.4h1.5M362.9 403.1h1.5M355 389.2h1.5M345.2 400.2h1.5M341.9 405.7h1.5M335.1 408.1h1.5M340.6 402.8h1.5M343.5 404.7h1.5M354.2 410.8h1.5M353.1 395.6h1.5M343.7 412.8h1.5M353.8 407.3h1.5M341 415.4h1.5M346.5 410.9h1.5M360.6 403.5h1.5M348.9 396.2h1.5M343.6 399.1h1.5M353.6 410.4h1.5M336.7 406.5h1.5M353.4 418.1h1.5M346.3 402.2h1.5M356.1 413.9h1.5M358.3 412.2h1.5M341.5 401.2h1.5M340.3 401.5h1.5M358.4 399.2h1.5M338.7 410.2h1.5M361.2 396.2h1.5M339.9 415.7h1.5M344.9 402.5h1.5M341.1 411.2h1.5M356.7 411h1.5M355.9 395.6h1.5M348.4 398.9h1.5M340.2 389.6h1.5M338.5 401.4h1.5M350.4 408.7h1.5M334 399h1.5M356.9 391.2h1.5M359.4 414.2h1.5M353.2 398.2h1.5M339 404.1h1.5M348.1 395.1h1.5M348.2 418.1h1.5M343.2 395h1.5M358.6 412.7h1.5M344 416.6h1.5M349.7 414.8h1.5M368.5 391.9h1.5M356.2 427.1h1.5M346.2 397.2h1.5M342.2 407.8h1.5M337.4 406.8h1.5M345.7 407h1.5M358.6 414.4h1.5M349.3 406.6h1.5M336.9 399.2h1.5M352.6 439.6h1.5M352.6 412h1.5M348.4 397h1.5M359.9 429.2h1.5M363.3 422.1h1.5M364.8 411.6h1.5M356.2 409.9h1.5M349.6 416.9h1.5M349 411h1.5M337.2 398.5h1.5M353.1 406.8h1.5M357 403h1.5M345.2 414.6h1.5M344.3 402.6h1.5M351.9 405h1.5M361.4 418.6h1.5M347.3 407.9h1.5M358.4 430.3h1.5M357.4 405.7h1.5M345.8 397.7h1.5M359.9 395.6h1.5M364.1 413.5h1.5M352.1 419.4h1.5M358.9 406h1.5M355.1 400h1.5M351.4 409.3h1.5M345.7 426.2h1.5M339.1 401.4h1.5M347 397.1h1.5M363.2 426.6h1.5M360.7 409.8h1.5M344 404.5h1.5M351.3 400.1h1.5M338.1 409.5h1.5M343.1 405.9h1.5M339.1 430.5h1.5M329.8 415.5h1.5M335.7 420.8h1.5M337.6 409.3h1.5M357.1 418.2h1.5M346.9 424.7h1.5M340.6 403.1h1.5M356.6 419.9h1.5M349.6 398.1h1.5M358.3 417.9h1.5M349 427.1h1.5M347.1 402.7h1.5M343.3 400.8h1.5M352.3 399.4h1.5M348.6 429.9h1.5M332.6 395.3h1.5M357.9 412.9h1.5M354.1 408h1.5M332.3 401.1h1.5M349.8 413.2h1.5M337.5 409.2h1.5M333.6 418.7h1.5M362.1 437.7h1.5M355.9 405.4h1.5M360.2 410.2h1.5M352.8 408.2h1.5M351.7 386.6h1.5M355.4 401.2h1.5M363.6 413.8h1.5M352.9 415.3h1.5M356.9 418.5h1.5M363 407.6h1.5M351.2 418.5h1.5M364.8 426h1.5M355.7 415.7h1.5M354.2 437.3h1.5M354 404.7h1.5M334.2 429.4h1.5M352.2 418.4h1.5M351.4 424.5h1.5M365.3 414.7h1.5M333.7 408.1h1.5M344.8 413h1.5M344.5 405.8h1.5M352.9 385.8h1.5M346.8 392.1h1.5M359.1 414h1.5M327.6 397.6h1.5M355.8 421.5h1.5M354.7 411.7h1.5M354.1 413.2h1.5M336.1 407.3h1.5M346.6 422.4h1.5M356.7 423.1h1.5M357.9 397.4h1.5M341.6 402.2h1.5M349.6 405.7h1.5M348.2 397h1.5M333.6 396.2h1.5M364.4 412.7h1.5M359.8 420.6h1.5M360 420.9h1.5M348.3 403.7h1.5M345 411h1.5M356.7 395.6h1.5M331.3 419.9h1.5M356.4 416.1h1.5M350 417.1h1.5M362.4 426.9h1.5M344 400.5h1.5M352.9 387.7h1.5M329.5 397.5h1.5M343.6 404.2h1.5M357 393.9h1.5M360.1 403.4h1.5M345.1 388.5h1.5M345.3 412.6h1.5M347.3 408.3h1.5M350.9 397.6h1.5M348.5 400h1.5M344.6 423.3h1.5M353.3 410.7h1.5M352.8 432.2h1.5M362.1 422.8h1.5M353.7 399.5h1.5M341.4 398h1.5M368.3 412.1h1.5M358.5 414.1h1.5M349.1 399.3h1.5M354.6 406.4h1.5M330 406.1h1.5M357.9 402h1.5M347 404.3h1.5M325.6 410.3h1.5M320.7 411.8h1.5M354.7 400.4h1.5M354.2 401.6h1.5M331.5 383h1.5M363.3 416.3h1.5M351.3 414.7h1.5M354.8 439h1.5M361.3 398.5h1.5M360.1 425.9h1.5M340.8 409.3h1.5M346.8 390.7h1.5M351.1 391.2h1.5M353.8 404h1.5M343.8 406.1h1.5M354.6 418h1.5M348.6 419.1h1.5M356.5 413.3h1.5M334.5 427.5h1.5M355.6 412.6h1.5M357.9 424.9h1.5M348.7 403.4h1.5M351.3 417.8h1.5M346.5 403.9h1.5M348.5 405.2h1.5M360 413.9h1.5M357.2 419.3h1.5M358.4 401.1h1.5M356.1 413.3h1.5M338.5 391.1h1.5M354.7 419.7h1.5M354.1 399.5h1.5M335.8 409.6h1.5M368.1 415.1h1.5M355.5 405.9h1.5M359.8 405.8h1.5M339.6 402.2h1.5M335.5 426.1h1.5M346 403.9h1.5M359.5 406.8h1.5M337.8 410.3h1.5M344.5 408.5h1.5M361.7 414.4h1.5M346.9 424.1h1.5M353.7 427.5h1.5M338.4 397.4h1.5M362.3 412.1h1.5M358.2 410.8h1.5M346.5 403.6h1.5M338 388.6h1.5M352.9 394h1.5M350.5 419.8h1.5M359.1 409.2h1.5M354.7 407.4h1.5M343 411.8h1.5M361.1 410.7h1.5M367.9 407.7h1.5M340.6 397.5h1.5M361.5 420.4h1.5M341.6 394.4h1.5M338.5 417.8h1.5M345.9 403.7h1.5M336 416.7h1.5M355 408.8h1.5M361.9 425h1.5M354.7 398.9h1.5M321 336.4h1.5M320.7 335.9h1.5M324.5 379h1.5M331.8 333.9h1.5M312 357.3h1.5M318.9 340.3h1.5M309.4 357.6h1.5M329.5 332.2h1.5M302.2 357.5h1.5M296.3 363.7h1.5M324.2 347h1.5M323.6 357.1h1.5M327.1 356.7h1.5M307.6 364h1.5M307.6 355.3h1.5M328.8 356.7h1.5M318.7 339.1h1.5M324 360.6h1.5M323 356.2h1.5M331.8 341.5h1.5M322.7 358.7h1.5M298.3 363.8h1.5M328.9 332.6h1.5M319.3 341.7h1.5M322.2 336.5h1.5M299.3 363.3h1.5M309.8 326.5h1.5M306 364.3h1.5M323.1 362.7h1.5M301.9 333.4h1.5M316.9 365.7h1.5M321 341.2h1.5M297.5 364.4h1.5M321.9 335.5h1.5M295.2 363h1.5M330.6 333.9h1.5M331.6 331.1h1.5M327.2 364h1.5M325.8 362.4h1.5M309.3 367.5h1.5M315.9 340h1.5M326.6 356.2h1.5M296.1 365.7h1.5M321.6 358.4h1.5M333.1 341.2h1.5M303.5 334.7h1.5M340 360.7h1.5M332.8 338.7h1.5M329.5 357.6h1.5M320.8 386.1h1.5M324.7 377.9h1.5M305 400.7h1.5M327.4 401h1.5M304.5 414.5h1.5M314.7 411h1.5M307 382.5h1.5M358.8 409h1.5M332.3 380h1.5M363.3 424h1.5M297.9 401.7h1.5M359 421.7h1.5M336.5 388.3h1.5M351.1 414.4h1.5M351.6 429.9h1.5M360.3 386.3h1.5M356.9 417.8h1.5M361.5 396.4h1.5M329.1 415.1h1.5M357.3 392.9h1.5M330 413.2h1.5M350.9 387.5h1.5M327.8 386.7h1.5M346.1 406h1.5M343.7 410.8h1.5M323.7 389.2h1.5M310.7 397.4h1.5M325.7 380.8h1.5M300.1 405.8h1.5M317.3 382.1h1.5M324 405.5h1.5M306.6 378.6h1.5M325 408.4h1.5M305.2 384.6h1.5M365.5 411.8h1.5M330.1 424.5h1.5M300.7 432.2h1.5M356.9 417.4h1.5M356.7 426.1h1.5M352.5 430.2h1.5M314.2 377.3h1.5M298.8 385.6h1.5M333.4 426.1h1.5M369.5 414.8h1.5M301.6 405.7h1.5M361.7 410.9h1.5M336.3 421.3h1.5M347.6 418.5h1.5M301.6 412.2h1.5M332.7 376.7h1.5M353.5 426.5h1.5M291.3 409.9h1.5M361.7 436.3h1.5M291.6 395.4h1.5M354.2 406.3h1.5M301.3 430h1.5M359.7 406.9h1.5M352.9 396h1.5M328.3 385.1h1.5M297.3 401.4h1.5M341.8 392.8h1.5M325.2 387.9h1.5M332.3 428.1h1.5M296.4 409.6h1.5M286.3 407.1h1.5M360.1 412.2h1.5M317.7 408.2h1.5M339.6 399.6h1.5M299.7 415.4h1.5M340.6 402h1.5M334 391.4h1.5M295.8 402.9h1.5M313.4 372.7h1.5M318.8 394.9h1.5M319.6 417.5h1.5M308.3 412.4h1.5M336.7 405.5h1.5M355.4 426.6h1.5M324.5 380.8h1.5M319.3 399.6h1.5M301.8 430.5h1.5M332.4 413.3h1.5M283.5 405.9h1.5M331.3 419.4h1.5M289 399.5h1.5M342.3 425.1h1.5M321 403.5h1.5M307.3 382.6h1.5M302.8 432.7h1.5M314.8 375.3h1.5M297.4 399.1h1.5M366 397.3h1.5M332.9 375.4h1.5M290.9 413.9h1.5M320.1 394.7h1.5M307.7 373.1h1.5M317.5 390.8h1.5M352.1 419.7h1.5M362.2 427.5h1.5M334.4 395.2h1.5M349.1 403h1.5M354.5 399.1h1.5M289.6 410.9h1.5M332.6 400.6h1.5M329 410.8h1.5M316.6 400.8h1.5M318.1 431.5h1.5M358.3 404.2h1.5M360.2 426.4h1.5M305.3 414.9h1.5M331.3 379.1h1.5M359 403h1.5M361.2 404.7h1.5M308.1 403.8h1.5M341.4 421.6h1.5M345.7 403.2h1.5" stroke="#000" stroke-width="1.5" fill="none"/><path d="M293.7 420h1.3M299.2 419.7h1.3M298.7 424.2h1.3M283.4 410.7h1.3M300.3 419.2h1.3M304 418h1.3M281.9 414.3h1.3M316.5 367.8h1.3M334.9 373.5h1.3M318 374.2h1.3M311.8 366.8h1.3M330.4 373.1h1.3M303.7 372.9h1.3M323.3 371.1h1.3M324.9 373.7h1.3M292.3 377h1.3M303.9 376h1.3M315.8 413.9h1.3M332.1 422.9h1.3M326.4 417.5h1.3M312.5 422.4h1.3M323 417.8h1.3M372.4 406.6h1.3M333.7 385.8h1.3M342.7 382.4h1.3M357.4 384.5h1.3M363.1 389.7h1.3M343.8 429.6h1.3M368.8 400.8h1.3M355.2 432.6h1.3M373.2 415.7h1.3M349.8 438.5h1.3M324.4 438.6h1.3M369 428.1h1.3M342.1 429.3h1.3M339.8 380.4h1.3M331.8 434.2h1.3M357.4 431.8h1.3M337.6 425.9h1.3M371.2 392.3h1.3M378.5 407.9h1.3M364 437.8h1.3M337.6 427.8h1.3M336.2 438.3h1.3M376.1 430.6h1.3M329.2 432.3h1.3M363 385.1h1.3M336.2 431.4h1.3M336.8 383h1.3M340.8 432.4h1.3M379.2 410h1.3M343.4 437.8h1.3M372.7 421h1.3M326.3 431.6h1.3M348.1 433.5h1.3M380.1 395.4h1.3M372.8 425.6h1.3M346.6 381.9h1.3M347.1 381.7h1.3M368.7 389.7h1.3M362.5 431h1.3M344.1 438.1h1.3M337.7 431.4h1.3M370.1 410.2h1.3M302.7 332.5h1.3M327.6 327.9h1.3M296.4 344.4h1.3M300.7 355h1.3M315.1 354.9h1.3M306.7 361.9h1.3M318.7 326.4h1.3M313.8 320.6h1.3M306.9 310h1.3M314.9 338.6h1.3M333.6 354.7h1.3M293.8 353.3h1.3M308 327h1.3M329.5 312.8h1.3M325.3 345.7h1.3M291.4 347h1.3M321.8 354h1.3M332.9 352.2h1.3M316.1 357.1h1.3M332.8 325h1.3M302.8 319.5h1.3M338.6 364.7h1.3M325 351h1.3M321.4 366.3h1.3M316.4 343.2h1.3M307 357.6h1.3M300 359.2h1.3M319.9 322.6h1.3M327.1 354.2h1.3M311.3 313.4h1.3M314.7 325.9h1.3M312.2 353.5h1.3M311.1 326.1h1.3M321.4 371.5h1.3M325.1 325.5h1.3M299.5 355.9h1.3M319.5 355.6h1.3M302.9 367.9h1.3M318.5 354h1.3M302.9 359.9h1.3M293.8 339.7h1.3M329.3 363.2h1.3M321.9 346.9h1.3M317.7 323.3h1.3M327.8 339.5h1.3M322.8 324.7h1.3M322.2 322.1h1.3M329.8 359.8h1.3M322 330.3h1.3M313.2 359.8h1.3M300.2 345.6h1.3M303.1 343.6h1.3M291.4 362.9h1.3M325.7 309h1.3M327.7 360.1h1.3M306.8 322h1.3M309.6 349.8h1.3M303.9 348h1.3M312 342.1h1.3M315.5 364.8h1.3M303.2 352.9h1.3M327.2 369.6h1.3M331.2 342.4h1.3M297.5 368.6h1.3M317.7 346.9h1.3M333.1 367.7h1.3M332.9 337.3h1.3M299 372.5h1.3M319.7 343.9h1.3M303.1 314.4h1.3M313.9 352.6h1.3M296 343.1h1.3M338.1 373.8h1.3M317.7 336.6h1.3M301.5 367.1h1.3M301.8 366h1.3M293.9 358h1.3M322.9 348.3h1.3M323.5 341.9h1.3M304.8 344.2h1.3M309.2 353.4h1.3M301.4 340h1.3M323.6 367.6h1.3M331.6 355.1h1.3M327.1 333h1.3M301.8 343.2h1.3M311.8 355.4h1.3M321.2 362.5h1.3M302.9 329h1.3M310.3 342.3h1.3M314.3 338.1h1.3M307.2 349.5h1.3M308 340h1.3M323.1 329.4h1.3M315.7 349.6h1.3M318.7 332.9h1.3M329.9 364.1h1.3M311.7 326.8h1.3M314.5 345.4h1.3M306.7 369.3h1.3M300.8 335.6h1.3M304.1 354.8h1.3M304.3 354.5h1.3M299.9 330.8h1.3M361.9 364.2h1.3M358.3 365.1h1.3M350.9 354.5h1.3M342.7 348.4h1.3M348.8 363.2h1.3M367.4 367.5h1.3M359.4 366h1.3M369.7 368.8h1.3M348.6 343.4h1.3M336.3 351.8h1.3M357.3 347.4h1.3M370 344h1.3M351.3 369.4h1.3M335.2 341.9h1.3M360.4 346.1h1.3M353.5 345.7h1.3M347 357h1.3M351.5 355.7h1.3M337.8 359.3h1.3M348.1 363.2h1.3M342.6 352.2h1.3M342.8 370.3h1.3M372 355.4h1.3M349.3 341.6h1.3M337.6 359.3h1.3M365.9 359.6h1.3M362.5 337.1h1.3M357.3 335.9h1.3M365.7 364.9h1.3M346.1 362.7h1.3M361.6 340.7h1.3M351.4 364.8h1.3M340.5 368.9h1.3M348.5 333h1.3M350.3 373.4h1.3M356.1 345.7h1.3M359.7 357.1h1.3M338.2 371.7h1.3M341.4 360.3h1.3M333.1 351.5h1.3M339 337.5h1.3M366.2 365.2h1.3M325 417h1.3M281.2 373.9h1.3M358.7 375h1.3M285.8 436.4h1.3M314.9 414.7h1.3M331.5 429.3h1.3M319.1 428.8h1.3M338.2 376.7h1.3M299.4 428.5h1.3M298 427.2h1.3M293.6 434.8h1.3M359.5 384.1h1.3M305.9 421.2h1.3M299.8 377.2h1.3M285.8 395.9h1.3M327.7 425.3h1.3M327.1 419.8h1.3M324.5 428.7h1.3M365.8 432.6h1.3M279.7 431.8h1.3M304.1 435.1h1.3M334.5 437.1h1.3M340.6 428.4h1.3M293.5 372h1.3M303.3 434.9h1.3M329.5 376.8h1.3M359.6 436.6h1.3M318.8 426.2h1.3M317.3 431.9h1.3M327.3 436.7h1.3M318.2 424.7h1.3M288.8 392.8h1.3M342.8 381h1.3M355.5 438.1h1.3M368.2 388.3h1.3M327.5 370.4h1.3M290.7 426.1h1.3M351.2 439.5h1.3M311.6 430.6h1.3M331.9 373.4h1.3M369.9 384.6h1.3M316.4 432.6h1.3M294.5 379.9h1.3M286.4 385.2h1.3M363.7 375.5h1.3M307.5 419.3h1.3M300.5 374.2h1.3M366.3 387.9h1.3M295 421.1h1.3M291.2 421.7h1.3" stroke="#111" stroke-width="1.3" fill="none"/><rect x="249.5" y="263.3" width="193.5" height="193.7" fill="none" stroke="#000" stroke-width="1.7"/><rect x="265.8" y="277.5" width="164.4" height="163.3" fill="none" stroke="#000" stroke-width="1.3"/><path d="M265.8 440.8v4.2M265.8 440.8h-4.2M278.2 440.8v2.6M265.8 428.5h-2.6M285.4 440.8v2.6M265.8 421.3h-2.6M290.5 440.8v2.6M265.8 416.2h-2.6M294.5 440.8v2.6M265.8 412.3h-2.6M297.8 440.8v2.6M265.8 409h-2.6M300.5 440.8v2.6M265.8 406.3h-2.6M302.9 440.8v2.6M265.8 403.9h-2.6M305 440.8v2.6M265.8 401.8h-2.6M306.9 440.8v4.2M265.8 400h-4.2M319.3 440.8v2.6M265.8 387.7h-2.6M326.5 440.8v2.6M265.8 380.5h-2.6M331.6 440.8v2.6M265.8 375.4h-2.6M335.6 440.8v2.6M265.8 371.4h-2.6M338.9 440.8v2.6M265.8 368.2h-2.6M341.6 440.8v2.6M265.8 365.5h-2.6M344 440.8v2.6M265.8 363.1h-2.6M346.1 440.8v2.6M265.8 361h-2.6M348 440.8v4.2M265.8 359.1h-4.2M360.4 440.8v2.6M265.8 346.9h-2.6M367.6 440.8v2.6M265.8 339.7h-2.6M372.7 440.8v2.6M265.8 334.6h-2.6M376.7 440.8v2.6M265.8 330.6h-2.6M380 440.8v2.6M265.8 327.4h-2.6M382.7 440.8v2.6M265.8 324.6h-2.6M385.1 440.8v2.6M265.8 322.3h-2.6M387.2 440.8v2.6M265.8 320.2h-2.6M389.1 440.8v4.2M265.8 318.3h-4.2M401.5 440.8v2.6M265.8 306h-2.6M408.7 440.8v2.6M265.8 298.8h-2.6M413.8 440.8v2.6M265.8 293.7h-2.6M417.8 440.8v2.6M265.8 289.8h-2.6M421.1 440.8v2.6M265.8 286.6h-2.6M423.8 440.8v2.6M265.8 283.8h-2.6M426.2 440.8v2.6M265.8 281.5h-2.6M428.3 440.8v2.6M265.8 279.4h-2.6M430.2 440.8v4.2M265.8 277.5h-4.2" stroke="#000" stroke-width="1.1" fill="none"/><text x="256.8" y="452.2" font-family="Liberation Mono" font-size="10" stroke="#000" stroke-width="0.35">10<tspan font-size="7" dy="-2.4">0</tspan></text><text transform="translate(262,449.8) rotate(-90)" font-family="Liberation Mono" font-size="10" stroke="#000" stroke-width="0.35">10<tspan font-size="7" dy="-2.4">0</tspan></text><text x="297.9" y="452.2" font-family="Liberation Mono" font-size="10" stroke="#000" stroke-width="0.35">10<tspan font-size="7" dy="-2.4">1</tspan></text><text transform="translate(262,409) rotate(-90)" font-family="Liberation Mono" font-size="10" stroke="#000" stroke-width="0.35">10<tspan font-size="7" dy="-2.4">1</tspan></text><text x="339" y="452.2" font-family="Liberation Mono" font-size="10" stroke="#000" stroke-width="0.35">10<tspan font-size="7" dy="-2.4">2</tspan></text><text transform="translate(262,368.1) rotate(-90)" font-family="Liberation Mono" font-size="10" stroke="#000" stroke-width="0.35">10<tspan font-size="7" dy="-2.4">2</tspan></text><text x="380.1" y="452.2" font-family="Liberation Mono" font-size="10" stroke="#000" stroke-width="0.35">10<tspan font-size="7" dy="-2.4">3</tspan></text><text transform="translate(262,327.3) rotate(-90)" font-family="Liberation Mono" font-size="10" stroke="#000" stroke-width="0.35">10<tspan font-size="7" dy="-2.4">3</tspan></text><text x="421.2" y="452.2" font-family="Liberation Mono" font-size="10" stroke="#000" stroke-width="0.35">10<tspan font-size="7" dy="-2.4">4</tspan></text><text transform="translate(262,286.5) rotate(-90)" font-family="Liberation Mono" font-size="10" stroke="#000" stroke-width="0.35">10<tspan font-size="7" dy="-2.4">4</tspan></text><line x1="332.7" y1="277.5" x2="332.7" y2="440.8" stroke="#000" stroke-width="1.2"/><line x1="265.8" y1="366.8" x2="430.2" y2="366.8" stroke="#000" stroke-width="1.2"/><text x="39" y="26.2" font-family="Liberation Sans" font-size="31" font-weight="bold" font-style="normal" text-anchor="start" >A</text><text x="247.2" y="24" font-family="Liberation Sans" font-size="31" font-weight="bold" font-style="normal" text-anchor="start" >B</text><text x="34.8" y="263.2" font-family="Liberation Sans" font-size="31" font-weight="bold" font-style="normal" text-anchor="start" >C</text><text x="247.5" y="262.3" font-family="Liberation Sans" font-size="31" font-weight="bold" font-style="normal" text-anchor="start" >D</text><text x="113.8" y="21.6" font-family="Liberation Sans" font-size="16" font-weight="bold" font-style="italic" text-anchor="start" letter-spacing="1.5">-FL</text><text x="319.8" y="21.1" font-family="Liberation Sans" font-size="16" font-weight="bold" font-style="italic" text-anchor="start" letter-spacing="1.5">+FL</text><text x="111.2" y="257.5" font-family="Liberation Sans" font-size="16" font-weight="bold" font-style="italic" text-anchor="start" letter-spacing="1.5">-FL</text><text x="322.6" y="258" font-family="Liberation Sans" font-size="16" font-weight="bold" font-style="italic" text-anchor="start" letter-spacing="1.5">+FL</text><text x="453.1" y="108.8" font-family="Liberation Sans" font-size="16.8" font-weight="bold" font-style="normal" text-anchor="start" letter-spacing="0.4">TGF-</text><text x="496" y="108.8" font-family="Liberation Sans" font-size="17.5" font-weight="normal" font-style="normal" text-anchor="start" >β</text><text x="510.6" y="108.8" font-family="Liberation Sans" font-size="16.8" font-weight="bold" font-style="normal" text-anchor="start" >1</text><text x="452.6" y="133" font-family="Liberation Sans" font-size="16.8" font-weight="bold" font-style="normal" text-anchor="start" letter-spacing="0.3">- suppl.</text><text x="450.9" y="340" font-family="Liberation Sans" font-size="16.8" font-weight="bold" font-style="normal" text-anchor="start" letter-spacing="0.4">TGF-</text><text x="493.8" y="340" font-family="Liberation Sans" font-size="17.5" font-weight="normal" font-style="normal" text-anchor="start" >β</text><text x="508.4" y="340" font-family="Liberation Sans" font-size="16.8" font-weight="bold" font-style="normal" text-anchor="start" >1</text><text x="453.8" y="365.9" font-family="Liberation Sans" font-size="16.8" font-weight="bold" font-style="normal" text-anchor="start" letter-spacing="0.3">- non</text><text x="451.5" y="388.2" font-family="Liberation Sans" font-size="16.8" font-weight="bold" font-style="normal" text-anchor="start" letter-spacing="0.3">suppl.</text><line x1="13.4" y1="42" x2="13.4" y2="203.7" stroke="#000" stroke-width="1.3"/><path d="M13.5 30 L19.8 46.5 L13.5 43 L7.8 46.5 Z" fill="#000"/><line x1="13.2" y1="275.6" x2="13.2" y2="458" stroke="#000" stroke-width="1.3"/><text transform="translate(21.6,268) rotate(-90)" font-family="Liberation Sans" font-size="23" font-weight="bold" letter-spacing="-1.1">CD1a</text><line x1="37.5" y1="481.8" x2="212.3" y2="481.3" stroke="#000" stroke-width="1.7"/><line x1="266.2" y1="481" x2="435" y2="480.6" stroke="#000" stroke-width="1.6"/><path d="M447 480.4 L429.7 474.6 L433.5 480.5 L429.7 486.6 Z" fill="#000"/><text x="221.6" y="489.3" font-family="Liberation Sans" font-size="22.8" font-weight="bold" font-style="normal" text-anchor="start" >LZ</text><rect x="37.6" y="564" width="186.4" height="122.3" fill="none" stroke="#000" stroke-width="1.3"/><path d="M37.6 686.3v4.2M51.6 686.3v2.6M59.8 686.3v2.6M65.7 686.3v2.6M70.2 686.3v2.6M73.9 686.3v2.6M77 686.3v2.6M79.7 686.3v2.6M82.1 686.3v2.6M84.2 686.3v4.2M98.2 686.3v2.6M106.4 686.3v2.6M112.3 686.3v2.6M116.8 686.3v2.6M120.5 686.3v2.6M123.6 686.3v2.6M126.3 686.3v2.6M128.7 686.3v2.6M130.8 686.3v4.2M144.8 686.3v2.6M153 686.3v2.6M158.9 686.3v2.6M163.4 686.3v2.6M167.1 686.3v2.6M170.2 686.3v2.6M172.9 686.3v2.6M175.3 686.3v2.6M177.4 686.3v4.2M191.4 686.3v2.6M199.6 686.3v2.6M205.5 686.3v2.6M210 686.3v2.6M213.7 686.3v2.6M216.8 686.3v2.6M219.5 686.3v2.6M221.9 686.3v2.6M224 686.3v4.2M37.6 686.3h-4.5M37.6 682h-2.6M37.6 677.6h-2.6M37.6 673.3h-2.6M37.6 669h-2.6M37.6 664.6h-4.5M37.6 660.3h-2.6M37.6 656h-2.6M37.6 651.6h-2.6M37.6 647.3h-2.6M37.6 643h-4.5M37.6 638.6h-2.6M37.6 634.3h-2.6M37.6 630h-2.6M37.6 625.7h-2.6M37.6 621.3h-4.5M37.6 617h-2.6M37.6 612.7h-2.6M37.6 608.3h-2.6M37.6 604h-2.6M37.6 599.7h-4.5M37.6 595.3h-2.6M37.6 591h-2.6M37.6 586.7h-2.6M37.6 582.3h-2.6M37.6 578h-4.5M37.6 573.7h-2.6M37.6 569.3h-2.6M37.6 565h-2.6" stroke="#000" stroke-width="1.1" fill="none"/><text x="37.6" y="705.3" font-family="Liberation Sans" font-size="10.5" text-anchor="middle">10<tspan font-size="8.6" dy="-7">0</tspan></text><text x="84.2" y="705.3" font-family="Liberation Sans" font-size="10.5" text-anchor="middle">10<tspan font-size="8.6" dy="-7">1</tspan></text><text x="130.8" y="705.3" font-family="Liberation Sans" font-size="10.5" text-anchor="middle">10<tspan font-size="8.6" dy="-7">2</tspan></text><text x="177.4" y="705.3" font-family="Liberation Sans" font-size="10.5" text-anchor="middle">10<tspan font-size="8.6" dy="-7">3</tspan></text><text x="224" y="705.3" font-family="Liberation Sans" font-size="10.5" text-anchor="middle">10<tspan font-size="8.6" dy="-7">4</tspan></text><text transform="translate(29.4,685.1) rotate(-90)" font-family="Liberation Sans" font-size="10.2" text-anchor="middle">0</text><text transform="translate(29.4,663.4) rotate(-90)" font-family="Liberation Sans" font-size="10.2" text-anchor="middle">10</text><text transform="translate(29.4,641.8) rotate(-90)" font-family="Liberation Sans" font-size="10.2" text-anchor="middle">20</text><text transform="translate(29.4,620.1) rotate(-90)" font-family="Liberation Sans" font-size="10.2" text-anchor="middle">30</text><text transform="translate(29.4,598.5) rotate(-90)" font-family="Liberation Sans" font-size="10.2" text-anchor="middle">40</text><text transform="translate(29.4,576.8) rotate(-90)" font-family="Liberation Sans" font-size="10.2" text-anchor="middle">50</text><line x1="119.5" y1="612" x2="119.5" y2="631.7" stroke="#000" stroke-width="1.4"/><line x1="119.5" y1="622.1" x2="224" y2="622.1" stroke="#000" stroke-width="1.3"/><text transform="translate(16.1,627.3) rotate(-90)" font-family="Liberation Sans" font-size="10.6" text-anchor="middle">Counts</text><rect x="256.8" y="563.7" width="186.8" height="122.5" fill="none" stroke="#000" stroke-width="1.3"/><path d="M256.8 686.2v4.2M270.9 686.2v2.6M279.1 686.2v2.6M284.9 686.2v2.6M289.4 686.2v2.6M293.1 686.2v2.6M296.3 686.2v2.6M299 686.2v2.6M301.4 686.2v2.6M303.5 686.2v4.2M317.6 686.2v2.6M325.8 686.2v2.6M331.6 686.2v2.6M336.1 686.2v2.6M339.8 686.2v2.6M343 686.2v2.6M345.7 686.2v2.6M348.1 686.2v2.6M350.2 686.2v4.2M364.3 686.2v2.6M372.5 686.2v2.6M378.3 686.2v2.6M382.8 686.2v2.6M386.5 686.2v2.6M389.7 686.2v2.6M392.4 686.2v2.6M394.8 686.2v2.6M396.9 686.2v4.2M411 686.2v2.6M419.2 686.2v2.6M425 686.2v2.6M429.5 686.2v2.6M433.2 686.2v2.6M436.4 686.2v2.6M439.1 686.2v2.6M441.5 686.2v2.6M443.6 686.2v4.2M256.8 686.2h-4.5M256.8 681.9h-2.6M256.8 677.5h-2.6M256.8 673.2h-2.6M256.8 668.9h-2.6M256.8 664.5h-4.5M256.8 660.2h-2.6M256.8 655.9h-2.6M256.8 651.5h-2.6M256.8 647.2h-2.6M256.8 642.9h-4.5M256.8 638.5h-2.6M256.8 634.2h-2.6M256.8 629.9h-2.6M256.8 625.6h-2.6M256.8 621.2h-4.5M256.8 616.9h-2.6M256.8 612.6h-2.6M256.8 608.2h-2.6M256.8 603.9h-2.6M256.8 599.6h-4.5M256.8 595.2h-2.6M256.8 590.9h-2.6M256.8 586.6h-2.6M256.8 582.2h-2.6M256.8 577.9h-4.5M256.8 573.6h-2.6M256.8 569.2h-2.6M256.8 564.9h-2.6" stroke="#000" stroke-width="1.1" fill="none"/><text x="256.8" y="705.2" font-family="Liberation Sans" font-size="10.5" text-anchor="middle">10<tspan font-size="8.6" dy="-7">0</tspan></text><text x="303.5" y="705.2" font-family="Liberation Sans" font-size="10.5" text-anchor="middle">10<tspan font-size="8.6" dy="-7">1</tspan></text><text x="350.2" y="705.2" font-family="Liberation Sans" font-size="10.5" text-anchor="middle">10<tspan font-size="8.6" dy="-7">2</tspan></text><text x="396.9" y="705.2" font-family="Liberation Sans" font-size="10.5" text-anchor="middle">10<tspan font-size="8.6" dy="-7">3</tspan></text><text x="443.6" y="705.2" font-family="Liberation Sans" font-size="10.5" text-anchor="middle">10<tspan font-size="8.6" dy="-7">4</tspan></text><text transform="translate(248.6,685) rotate(-90)" font-family="Liberation Sans" font-size="10.2" text-anchor="middle">0</text><text transform="translate(248.6,663.3) rotate(-90)" font-family="Liberation Sans" font-size="10.2" text-anchor="middle">10</text><text transform="translate(248.6,641.7) rotate(-90)" font-family="Liberation Sans" font-size="10.2" text-anchor="middle">20</text><text transform="translate(248.6,620) rotate(-90)" font-family="Liberation Sans" font-size="10.2" text-anchor="middle">30</text><text transform="translate(248.6,598.4) rotate(-90)" font-family="Liberation Sans" font-size="10.2" text-anchor="middle">40</text><text transform="translate(248.6,576.7) rotate(-90)" font-family="Liberation Sans" font-size="10.2" text-anchor="middle">50</text><line x1="338.9" y1="610.4" x2="338.9" y2="630.6" stroke="#000" stroke-width="1.4"/><line x1="338.9" y1="620.5" x2="443.6" y2="620.5" stroke="#000" stroke-width="1.3"/><path d="M38 686 L39.1 686 L39.1 686 L40.2 686 L40.2 686 L41.3 686 L41.3 686 L42.4 686 L42.4 686 L43.5 686 L43.5 686 L44.6 686 L44.6 686 L45.7 686 L45.7 686 L46.8 686 L46.8 686 L47.9 686 L47.9 686 L49 686 L49 686 L50.1 686 L50.1 686 L51.2 686 L51.2 686 L52.3 686 L52.3 686 L53.4 686 L53.4 686 L54.5 686 L54.5 686 L55.6 686 L55.6 686 L56.7 686 L56.7 686 L57.8 686 L57.8 686 L58.9 686 L58.9 686 L60 686 L60 686 L61.1 686 L61.1 686 L62.2 686 L62.2 685.6 L63.3 685.6 L63.3 683.6 L64.4 683.6 L64.4 681.6 L65.5 681.6 L65.5 679.3 L66.6 679.3 L66.6 676.8 L67.7 676.8 L67.7 674.3 L68.8 674.3 L68.8 671 L69.9 671 L69.9 668.5 L71 668.5 L71 664.4 L72.1 664.4 L72.1 660.4 L73.2 660.4 L73.2 657.3 L74.3 657.3 L74.3 652.6 L75.4 652.6 L75.4 647.4 L76.5 647.4 L76.5 641.8 L77.6 641.8 L77.6 635.5 L78.7 635.5 L78.7 632.7 L79.8 632.7 L79.8 604.2 L80.9 604.2 L80.9 592.4 L82 592.4 L82 587.5 L83.1 587.5 L83.1 584.4 L84.2 584.4 L84.2 580.7 L85.3 580.7 L85.3 576.7 L86.4 576.7 L86.4 573.5 L87.5 573.5 L87.5 566.1 L88.6 566.1 L88.6 568 L89.7 568 L89.7 580.2 L90.8 580.2 L90.8 591.2 L91.9 591.2 L91.9 602.2 L93 602.2 L93 605.2 L94.1 605.2 L94.1 606.6 L95.2 606.6 L95.2 610.4 L96.3 610.4 L96.3 619.5 L97.4 619.5 L97.4 631.4 L98.5 631.4 L98.5 642.6 L99.6 642.6 L99.6 649.4 L100.7 649.4 L100.7 653.7 L101.8 653.7 L101.8 654.5 L102.9 654.5 L102.9 654.7 L104 654.7 L104 655.2 L105.1 655.2 L105.1 656 L106.2 656 L106.2 658.8 L107.3 658.8 L107.3 661 L108.4 661 L108.4 663 L109.5 663 L109.5 663.8 L110.6 663.8 L110.6 665.2 L111.7 665.2 L111.7 667.3 L112.8 667.3 L112.8 669 L113.9 669 L113.9 670.7 L115 670.7 L115 671.2 L116.1 671.2 L116.1 673 L117.2 673 L117.2 674.3 L118.3 674.3 L118.3 674.5 L119.4 674.5 L119.4 675.5 L120.5 675.5 L120.5 675.6 L121.6 675.6 L121.6 677.1 L122.7 677.1 L122.7 678.2 L123.8 678.2 L123.8 678.9 L124.9 678.9 L124.9 679.7 L126 679.7 L126 680.2 L127.1 680.2 L127.1 680.3 L128.2 680.3 L128.2 681.5 L129.3 681.5 L129.3 681.6 L130.4 681.6 L130.4 682.7 L131.5 682.7 L131.5 682.8 L132.6 682.8 L132.6 683.8 L133.7 683.8 L133.7 684.2 L134.8 684.2 L134.8 684.9 L135.9 684.9 L135.9 685 L137 685 L137 685.1 L138.1 685.1 L138.1 685 L139.2 685 L139.2 685 L140.3 685 L140.3 685 L141.4 685 L141.4 685 L142.5 685 L142.5 685.1 L143.6 685.1 L143.6 685 L144.7 685 L144.7 685.1 L145.8 685.1 L145.8 685.1 L146.9 685.1 L146.9 685.2 L148 685.2 L148 685.2 L149.1 685.2 L149.1 685.1 L150.2 685.1 L150.2 685.2 L151.3 685.2 L151.3 685.2 L152.4 685.2 L152.4 685.2 L153.5 685.2 L153.5 685.2 L154.6 685.2 L154.6 685.2 L155.7 685.2 L155.7 685.2 L156.8 685.2 L156.8 685.3 L157.9 685.3 L157.9 685.2 L159 685.2 L159 685.2 L160.1 685.2 L160.1 685.2 L161.2 685.2 L161.2 685.3 L162.3 685.3 L162.3 685.3 L163.4 685.3 L163.4 685.3 L164.5 685.3 L164.5 685.3 L165.6 685.3 L165.6 685.3 L166.7 685.3 L166.7 685.3 L167.8 685.3 L167.8 685.4 L168.9 685.4 L168.9 685.4 L170 685.4 L170 685.4 L171.1 685.4 L171.1 685.4 L172.2 685.4 L172.2 685.4 L173.3 685.4 L173.3 685.4 L174.4 685.4 L174.4 685.4 L175.5 685.4 L175.5 685.4 L176.6 685.4 L176.6 685.4 L177.7 685.4 L177.7 685.4 L178.8 685.4 L178.8 685.5 L179.9 685.5 L179.9 685.5 L181 685.5 L181 685.5 L182.1 685.5 L182.1 685.5 L183.2 685.5 L183.2 685.6 L184.3 685.6 L184.3 685.6 L185.4 685.6 L185.4 685.6 L186.5 685.6 L186.5 685.6 L187.6 685.6 L187.6 685.6 L188.7 685.6 L188.7 685.6 L189.8 685.6 L189.8 685.6 L190.9 685.6 L190.9 685.6 L192 685.6 L192 685.6 L193.1 685.6 L193.1 685.7 L194.2 685.7 L194.2 685.6 L195.3 685.6 L195.3 685.7 L196.4 685.7 L196.4 685.7 L197.5 685.7 L197.5 685.7 L198.6 685.7 L198.6 685.7 L199.7 685.7 L199.7 685.7 L200.8 685.7 L200.8 685.7 L201.9 685.7 L201.9 685.7 L203 685.7 L203 685.8 L204.1 685.8 L204.1 685.8 L205.2 685.8 L205.2 685.8 L206.3 685.8 L206.3 685.8 L207.4 685.8 L207.4 685.8 L208.5 685.8 L208.5 685.8 L209.6 685.8 L209.6 685.8 L210.7 685.8 L210.7 685.8 L211.8 685.8 L211.8 685.9 L212.9 685.9 L212.9 685.9 L214 685.9 L214 685.9 L215.1 685.9 L215.1 685.9 L216.2 685.9 L216.2 685.9 L217.3 685.9 L217.3 685.9 L218.4 685.9 L218.4 685.9 L219.5 685.9 L219.5 685.9 L220.6 685.9 L220.6 686 L221.7 686 L221.7 686 L222.8 686 L222.8 686 L223.9 686 L223.9 686" stroke="#000" stroke-width="1.0" fill="none" stroke-linejoin="miter"/><path d="M38 685.4 L39.2 685.4 L39.2 685.4 L40.4 685.4 L40.4 685.5 L41.6 685.5 L41.6 685.3 L42.8 685.3 L42.8 685.4 L44 685.4 L44 685.5 L45.2 685.5 L45.2 685.2 L46.4 685.2 L46.4 685.2 L47.6 685.2 L47.6 685.2 L48.8 685.2 L48.8 685.3 L50 685.3 L50 685.3 L51.2 685.3 L51.2 685.1 L52.4 685.1 L52.4 685.2 L53.6 685.2 L53.6 685.3 L54.8 685.3 L54.8 685.1 L56 685.1 L56 685.2 L57.2 685.2 L57.2 685.3 L58.4 685.3 L58.4 685.2 L59.6 685.2 L59.6 685 L60.8 685 L60.8 684.9 L62 684.9 L62 684.9 L63.2 684.9 L63.2 684.5 L64.4 684.5 L64.4 683.3 L65.6 683.3 L65.6 681.4 L66.8 681.4 L66.8 677.5 L68 677.5 L68 676.5 L69.2 676.5 L69.2 672.5 L70.4 672.5 L70.4 671.1 L71.6 671.1 L71.6 665.9 L72.8 665.9 L72.8 660.5 L74 660.5 L74 654.4 L75.2 654.4 L75.2 649.6 L76.4 649.6 L76.4 642.3 L77.6 642.3 L77.6 637.3 L78.8 637.3 L78.8 634.3 L80 634.3 L80 631.2 L81.2 631.2 L81.2 631.4 L82.4 631.4 L82.4 628.7 L83.6 628.7 L83.6 619 L84.8 619 L84.8 620 L86 620 L86 625.2 L87.2 625.2 L87.2 627.8 L88.4 627.8 L88.4 629.9 L89.6 629.9 L89.6 630.3 L90.8 630.3 L90.8 633 L92 633 L92 635.2 L93.2 635.2 L93.2 639 L94.4 639 L94.4 641.1 L95.6 641.1 L95.6 643.9 L96.8 643.9 L96.8 646.7 L98 646.7 L98 651.3 L99.2 651.3 L99.2 653 L100.4 653 L100.4 655.6 L101.6 655.6 L101.6 656.4 L102.8 656.4 L102.8 656.1 L104 656.1 L104 659.7 L105.2 659.7 L105.2 660.7 L106.4 660.7 L106.4 663.6 L107.6 663.6 L107.6 664.7 L108.8 664.7 L108.8 666.3 L110 666.3 L110 667.6 L111.2 667.6 L111.2 668.7 L112.4 668.7 L112.4 671.2 L113.6 671.2 L113.6 670.8 L114.8 670.8 L114.8 672 L116 672 L116 676.1 L117.2 676.1 L117.2 674.8 L118.4 674.8 L118.4 675.7 L119.6 675.7 L119.6 675.5 L120.8 675.5 L120.8 676.2 L122 676.2 L122 677 L123.2 677 L123.2 679.6 L124.4 679.6 L124.4 679.8 L125.6 679.8 L125.6 679.5 L126.8 679.5 L126.8 679.9 L128 679.9 L128 679.1 L129.2 679.1 L129.2 679.6 L130.4 679.6 L130.4 676.3 L131.6 676.3 L131.6 676.7 L132.8 676.7 L132.8 675.1 L134 675.1 L134 671.7 L135.2 671.7 L135.2 670.7 L136.4 670.7 L136.4 671.2 L137.6 671.2 L137.6 669.8 L138.8 669.8 L138.8 666.4 L140 666.4 L140 666.3 L141.2 666.3 L141.2 664.6 L142.4 664.6 L142.4 666.6 L143.6 666.6 L143.6 663.6 L144.8 663.6 L144.8 662.7 L146 662.7 L146 665 L147.2 665 L147.2 662.9 L148.4 662.9 L148.4 662.2 L149.6 662.2 L149.6 661.1 L150.8 661.1 L150.8 661.9 L152 661.9 L152 661.6 L153.2 661.6 L153.2 661.8 L154.4 661.8 L154.4 660 L155.6 660 L155.6 660.8 L156.8 660.8 L156.8 661.3 L158 661.3 L158 662.3 L159.2 662.3 L159.2 662.2 L160.4 662.2 L160.4 663.5 L161.6 663.5 L161.6 663.8 L162.8 663.8 L162.8 668.1 L164 668.1 L164 670.6 L165.2 670.6 L165.2 670.1 L166.4 670.1 L166.4 670.8 L167.6 670.8 L167.6 671.7 L168.8 671.7 L168.8 672.2 L170 672.2 L170 669.7 L171.2 669.7 L171.2 671.1 L172.4 671.1 L172.4 674.1 L173.6 674.1 L173.6 676.9 L174.8 676.9 L174.8 679.6 L176 679.6 L176 681.2 L177.2 681.2 L177.2 682.5 L178.4 682.5 L178.4 682.1 L179.6 682.1 L179.6 684.2 L180.8 684.2 L180.8 684.4 L182 684.4 L182 684.8 L183.2 684.8 L183.2 685.3 L184.4 685.3 L184.4 685.5 L185.6 685.5 L185.6 685.4 L186.8 685.4 L186.8 685.4 L188 685.4 L188 685.6 L189.2 685.6 L189.2 685.6 L190.4 685.6 L190.4 685.5 L191.6 685.5 L191.6 685.6 L192.8 685.6 L192.8 685.5 L194 685.5 L194 685.7 L195.2 685.7 L195.2 685.6 L196.4 685.6 L196.4 685.7 L197.6 685.7 L197.6 685.5 L198.8 685.5 L198.8 685.7 L200 685.7 L200 685.7 L201.2 685.7 L201.2 685.7 L202.4 685.7 L202.4 685.6 L203.6 685.6 L203.6 685.7 L204.8 685.7 L204.8 685.7 L206 685.7 L206 685.7 L207.2 685.7 L207.2 685.7 L208.4 685.7 L208.4 685.8 L209.6 685.8 L209.6 685.8 L210.8 685.8 L210.8 685.8 L212 685.8 L212 685.8 L213.2 685.8 L213.2 685.8 L214.4 685.8 L214.4 685.9 L215.6 685.9 L215.6 685.9 L216.8 685.9 L216.8 685.9 L218 685.9 L218 685.9 L219.2 685.9 L219.2 685.9 L220.4 685.9 L220.4 686 L221.6 686 L221.6 686 L222.8 686 L222.8 686 L224 686 L224 686" stroke="#000" stroke-width="2.7" fill="none" stroke-linejoin="miter"/><path d="M257 686 L258.1 686 L258.1 686 L259.2 686 L259.2 686 L260.3 686 L260.3 686 L261.4 686 L261.4 686 L262.5 686 L262.5 686 L263.6 686 L263.6 686 L264.7 686 L264.7 686 L265.8 686 L265.8 686 L266.9 686 L266.9 686 L268 686 L268 686 L269.1 686 L269.1 686 L270.2 686 L270.2 686 L271.3 686 L271.3 686 L272.4 686 L272.4 686 L273.5 686 L273.5 686 L274.6 686 L274.6 686 L275.7 686 L275.7 686 L276.8 686 L276.8 686 L277.9 686 L277.9 686 L279 686 L279 686 L280.1 686 L280.1 685.9 L281.2 685.9 L281.2 685.2 L282.3 685.2 L282.3 684.5 L283.4 684.5 L283.4 684 L284.5 684 L284.5 683.2 L285.6 683.2 L285.6 682.5 L286.7 682.5 L286.7 682 L287.8 682 L287.8 680.7 L288.9 680.7 L288.9 680.7 L290 680.7 L290 676.5 L291.1 676.5 L291.1 667 L292.2 667 L292.2 658.8 L293.3 658.8 L293.3 651.2 L294.4 651.2 L294.4 642.5 L295.5 642.5 L295.5 625.7 L296.6 625.7 L296.6 605.6 L297.7 605.6 L297.7 600.2 L298.8 600.2 L298.8 596.3 L299.9 596.3 L299.9 588.9 L301 588.9 L301 576.7 L302.1 576.7 L302.1 565.5 L303.2 565.5 L303.2 564.6 L304.3 564.6 L304.3 575.1 L305.4 575.1 L305.4 568 L306.5 568 L306.5 569.4 L307.6 569.4 L307.6 583.6 L308.7 583.6 L308.7 595.3 L309.8 595.3 L309.8 607.2 L310.9 607.2 L310.9 613.3 L312 613.3 L312 617.8 L313.1 617.8 L313.1 621.9 L314.2 621.9 L314.2 627.7 L315.3 627.7 L315.3 632.4 L316.4 632.4 L316.4 638.1 L317.5 638.1 L317.5 642 L318.6 642 L318.6 646.5 L319.7 646.5 L319.7 645.6 L320.8 645.6 L320.8 645.1 L321.9 645.1 L321.9 647.8 L323 647.8 L323 654.4 L324.1 654.4 L324.1 661.6 L325.2 661.6 L325.2 663.2 L326.3 663.2 L326.3 664.1 L327.4 664.1 L327.4 665.6 L328.5 665.6 L328.5 665.8 L329.6 665.8 L329.6 667.7 L330.7 667.7 L330.7 668 L331.8 668 L331.8 670.1 L332.9 670.1 L332.9 670.7 L334 670.7 L334 671.8 L335.1 671.8 L335.1 673.4 L336.2 673.4 L336.2 674.2 L337.3 674.2 L337.3 675.3 L338.4 675.3 L338.4 675.8 L339.5 675.8 L339.5 677.6 L340.6 677.6 L340.6 678.7 L341.7 678.7 L341.7 680.3 L342.8 680.3 L342.8 681.9 L343.9 681.9 L343.9 683.4 L345 683.4 L345 683.5 L346.1 683.5 L346.1 684.1 L347.2 684.1 L347.2 684.7 L348.3 684.7 L348.3 685.3 L349.4 685.3 L349.4 685.7 L350.5 685.7 L350.5 686 L351.6 686 L351.6 686 L352.7 686 L352.7 686 L353.8 686 L353.8 686 L354.9 686 L354.9 686 L356 686 L356 686 L357.1 686 L357.1 686 L358.2 686 L358.2 686 L359.3 686 L359.3 686 L360.4 686 L360.4 686 L361.5 686 L361.5 686 L362.6 686 L362.6 686 L363.7 686 L363.7 686 L364.8 686 L364.8 686 L365.9 686 L365.9 686 L367 686 L367 686 L368.1 686 L368.1 686 L369.2 686 L369.2 686 L370.3 686 L370.3 686 L371.4 686 L371.4 686 L372.5 686 L372.5 686 L373.6 686 L373.6 686 L374.7 686 L374.7 686 L375.8 686 L375.8 686 L376.9 686 L376.9 686 L378 686 L378 686 L379.1 686 L379.1 686 L380.2 686 L380.2 686 L381.3 686 L381.3 686 L382.4 686 L382.4 686 L383.5 686 L383.5 686 L384.6 686 L384.6 686 L385.7 686 L385.7 686 L386.8 686 L386.8 686 L387.9 686 L387.9 686 L389 686 L389 686 L390.1 686 L390.1 686 L391.2 686 L391.2 686 L392.3 686 L392.3 686 L393.4 686 L393.4 686 L394.5 686 L394.5 686 L395.6 686 L395.6 686 L396.7 686 L396.7 686 L397.8 686 L397.8 686 L398.9 686 L398.9 686 L400 686 L400 686 L401.1 686 L401.1 686 L402.2 686 L402.2 686 L403.3 686 L403.3 686 L404.4 686 L404.4 686 L405.5 686 L405.5 686 L406.6 686 L406.6 686 L407.7 686 L407.7 686 L408.8 686 L408.8 686 L409.9 686 L409.9 686 L411 686 L411 686 L412.1 686 L412.1 686 L413.2 686 L413.2 686 L414.3 686 L414.3 686 L415.4 686 L415.4 686 L416.5 686 L416.5 686 L417.6 686 L417.6 686 L418.7 686 L418.7 686 L419.8 686 L419.8 686 L420.9 686 L420.9 686 L422 686 L422 686 L423.1 686 L423.1 686 L424.2 686 L424.2 686 L425.3 686 L425.3 686 L426.4 686 L426.4 686 L427.5 686 L427.5 686 L428.6 686 L428.6 686 L429.7 686 L429.7 686 L430.8 686 L430.8 686 L431.9 686 L431.9 686 L433 686 L433 686 L434.1 686 L434.1 686 L435.2 686 L435.2 686 L436.3 686 L436.3 686 L437.4 686 L437.4 686 L438.5 686 L438.5 686 L439.6 686 L439.6 686 L440.7 686 L440.7 686 L441.8 686 L441.8 686 L442.9 686 L442.9 686" stroke="#000" stroke-width="1.0" fill="none" stroke-linejoin="miter"/><path d="M257 685.6 L258.2 685.6 L258.2 685.5 L259.4 685.5 L259.4 685.6 L260.6 685.6 L260.6 685.3 L261.8 685.3 L261.8 685.4 L263 685.4 L263 685.3 L264.2 685.3 L264.2 685.4 L265.4 685.4 L265.4 685.2 L266.6 685.2 L266.6 685.4 L267.8 685.4 L267.8 685.3 L269 685.3 L269 685.4 L270.2 685.4 L270.2 685.2 L271.4 685.2 L271.4 685.2 L272.6 685.2 L272.6 685.3 L273.8 685.3 L273.8 685.4 L275 685.4 L275 685 L276.2 685 L276.2 685.3 L277.4 685.3 L277.4 685.3 L278.6 685.3 L278.6 684.9 L279.8 684.9 L279.8 685.1 L281 685.1 L281 683.9 L282.2 683.9 L282.2 683 L283.4 683 L283.4 681 L284.6 681 L284.6 677.7 L285.8 677.7 L285.8 677.3 L287 677.3 L287 671.5 L288.2 671.5 L288.2 665.8 L289.4 665.8 L289.4 661.4 L290.6 661.4 L290.6 653.7 L291.8 653.7 L291.8 646.6 L293 646.6 L293 640.9 L294.2 640.9 L294.2 634.6 L295.4 634.6 L295.4 633.8 L296.6 633.8 L296.6 631.9 L297.8 631.9 L297.8 629.6 L299 629.6 L299 629.6 L300.2 629.6 L300.2 626.8 L301.4 626.8 L301.4 627 L302.6 627 L302.6 618.9 L303.8 618.9 L303.8 604.1 L305 604.1 L305 605.6 L306.2 605.6 L306.2 629.1 L307.4 629.1 L307.4 631 L308.6 631 L308.6 641 L309.8 641 L309.8 644.7 L311 644.7 L311 647.1 L312.2 647.1 L312.2 650.2 L313.4 650.2 L313.4 655.9 L314.6 655.9 L314.6 659.3 L315.8 659.3 L315.8 661.3 L317 661.3 L317 665.2 L318.2 665.2 L318.2 664.6 L319.4 664.6 L319.4 669 L320.6 669 L320.6 669.4 L321.8 669.4 L321.8 671.9 L323 671.9 L323 671 L324.2 671 L324.2 671.8 L325.4 671.8 L325.4 672.1 L326.6 672.1 L326.6 674.5 L327.8 674.5 L327.8 673.2 L329 673.2 L329 673.5 L330.2 673.5 L330.2 675 L331.4 675 L331.4 674.8 L332.6 674.8 L332.6 673.2 L333.8 673.2 L333.8 672.9 L335 672.9 L335 674.5 L336.2 674.5 L336.2 672.2 L337.4 672.2 L337.4 673.2 L338.6 673.2 L338.6 674.2 L339.8 674.2 L339.8 673.7 L341 673.7 L341 671.1 L342.2 671.1 L342.2 670.2 L343.4 670.2 L343.4 672.1 L344.6 672.1 L344.6 671.2 L345.8 671.2 L345.8 671.7 L347 671.7 L347 674.4 L348.2 674.4 L348.2 673.4 L349.4 673.4 L349.4 673.7 L350.6 673.7 L350.6 671.6 L351.8 671.6 L351.8 670.5 L353 670.5 L353 666.7 L354.2 666.7 L354.2 666.5 L355.4 666.5 L355.4 663.6 L356.6 663.6 L356.6 662 L357.8 662 L357.8 662.3 L359 662.3 L359 665.1 L360.2 665.1 L360.2 666 L361.4 666 L361.4 663.7 L362.6 663.7 L362.6 659.4 L363.8 659.4 L363.8 658.6 L365 658.6 L365 657.5 L366.2 657.5 L366.2 657.7 L367.4 657.7 L367.4 659 L368.6 659 L368.6 661.1 L369.8 661.1 L369.8 666.2 L371 666.2 L371 663.5 L372.2 663.5 L372.2 660.3 L373.4 660.3 L373.4 664.7 L374.6 664.7 L374.6 670.6 L375.8 670.6 L375.8 668.6 L377 668.6 L377 666.1 L378.2 666.1 L378.2 665.3 L379.4 665.3 L379.4 667.7 L380.6 667.7 L380.6 667.7 L381.8 667.7 L381.8 670.8 L383 670.8 L383 673 L384.2 673 L384.2 675.5 L385.4 675.5 L385.4 678.6 L386.6 678.6 L386.6 678.2 L387.8 678.2 L387.8 680 L389 680 L389 681.6 L390.2 681.6 L390.2 682.7 L391.4 682.7 L391.4 684 L392.6 684 L392.6 684.3 L393.8 684.3 L393.8 684.8 L395 684.8 L395 685.3 L396.2 685.3 L396.2 685.3 L397.4 685.3 L397.4 685.4 L398.6 685.4 L398.6 685.4 L399.8 685.4 L399.8 685.6 L401 685.6 L401 685.4 L402.2 685.4 L402.2 685.5 L403.4 685.5 L403.4 685.6 L404.6 685.6 L404.6 685.5 L405.8 685.5 L405.8 685.6 L407 685.6 L407 685.6 L408.2 685.6 L408.2 685.6 L409.4 685.6 L409.4 685.6 L410.6 685.6 L410.6 685.6 L411.8 685.6 L411.8 685.5 L413 685.5 L413 685.7 L414.2 685.7 L414.2 685.7 L415.4 685.7 L415.4 685.7 L416.6 685.7 L416.6 685.6 L417.8 685.6 L417.8 685.7 L419 685.7 L419 685.7 L420.2 685.7 L420.2 685.6 L421.4 685.6 L421.4 685.8 L422.6 685.8 L422.6 685.7 L423.8 685.7 L423.8 685.8 L425 685.8 L425 685.7 L426.2 685.7 L426.2 685.8 L427.4 685.8 L427.4 685.8 L428.6 685.8 L428.6 685.8 L429.8 685.8 L429.8 685.9 L431 685.9 L431 685.9 L432.2 685.9 L432.2 685.9 L433.4 685.9 L433.4 685.9 L434.6 685.9 L434.6 685.9 L435.8 685.9 L435.8 685.9 L437 685.9 L437 685.9 L438.2 685.9 L438.2 686 L439.4 686 L439.4 686 L440.6 686 L440.6 686 L441.8 686 L441.8 686 L443 686 L443 686" stroke="#000" stroke-width="2.7" fill="none" stroke-linejoin="miter"/><text x="106.2" y="551" font-family="Liberation Sans" font-size="16" font-weight="bold" font-style="italic" text-anchor="start" letter-spacing="2.8">-FL</text><text x="335.2" y="550.5" font-family="Liberation Sans" font-size="16" font-weight="bold" font-style="italic" text-anchor="start" letter-spacing="2.4">+FL</text><text x="108.3" y="723.3" font-family="Liberation Sans" font-size="16" font-weight="bold" font-style="normal" text-anchor="start" letter-spacing="1.4">LAG</text><text x="331.7" y="724" font-family="Liberation Sans" font-size="16" font-weight="bold" font-style="normal" text-anchor="start" letter-spacing="1.4">LAG</text></svg></body></html>
